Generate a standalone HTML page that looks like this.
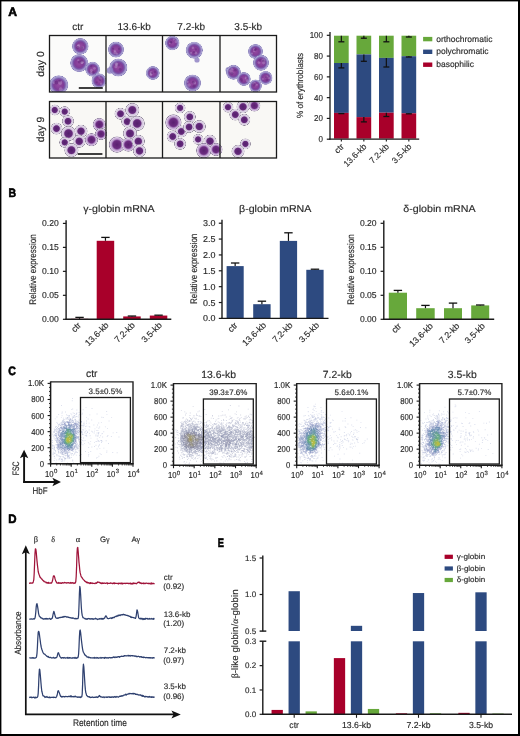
<!DOCTYPE html><html><head><meta charset="utf-8"><style>html,body{margin:0;padding:0;background:#fff;}svg{display:block;will-change:transform;}</style></head><body><svg width="520" height="736" viewBox="0 0 520 736" font-family='"Liberation Sans", sans-serif' text-rendering="geometricPrecision">
<style>text{stroke:#2a2a2a;stroke-width:0.15px;}</style>
<rect x="0" y="0" width="520" height="736" fill="#fff"/>
<rect x="0" y="0" width="1.4" height="736" fill="#000"/>
<rect x="0" y="0" width="520" height="1.4" fill="#000"/>
<rect x="518" y="0" width="2" height="736" fill="#000"/>
<rect x="0" y="734" width="520" height="2" fill="#000"/>
<text x="8.25" y="16" font-size="12.2" fill="#000" font-weight="bold" textLength="8.8" lengthAdjust="spacingAndGlyphs" style="stroke:#000;stroke-width:0.6px">A</text>
<text x="77.75" y="30.4" font-size="10" fill="#2a2a2a" text-anchor="middle">ctr</text>
<text x="134.25" y="30.4" font-size="10" fill="#2a2a2a" text-anchor="middle">13.6-kb</text>
<text x="191.25" y="30.4" font-size="10" fill="#2a2a2a" text-anchor="middle">7.2-kb</text>
<text x="248.25" y="30.4" font-size="10" fill="#2a2a2a" text-anchor="middle">3.5-kb</text>
<rect x="49.5" y="35.5" width="227" height="56.5" fill="#fbfbfa"/>
<rect x="49.5" y="101.5" width="227" height="56.5" fill="#f9f8f5"/>
<defs><radialGradient id="c0"><stop offset="0" stop-color="#964aa2"/><stop offset="0.5" stop-color="#803c96"/><stop offset="0.66" stop-color="#7a56aa"/><stop offset="0.78" stop-color="#9a8cc6"/><stop offset="0.9" stop-color="#b0a8d6"/><stop offset="0.96" stop-color="#7c72b2"/><stop offset="1" stop-color="#9890c8" stop-opacity="0.3"/></radialGradient><radialGradient id="c9"><stop offset="0" stop-color="#55206c"/><stop offset="0.45" stop-color="#652a7c"/><stop offset="0.52" stop-color="#8a5a9a"/><stop offset="0.6" stop-color="#cfbedb"/><stop offset="0.84" stop-color="#e4dcea"/><stop offset="0.92" stop-color="#8c8496"/><stop offset="1" stop-color="#e8e4ec" stop-opacity="0.3"/></radialGradient><radialGradient id="c9b"><stop offset="0" stop-color="#5a2070"/><stop offset="0.46" stop-color="#6c2c80"/><stop offset="0.55" stop-color="#8c56a2"/><stop offset="0.64" stop-color="#b898ca"/><stop offset="0.84" stop-color="#dccae6"/><stop offset="0.92" stop-color="#887a98"/><stop offset="1" stop-color="#ddd" stop-opacity="0.3"/></radialGradient><clipPath id="clA0"><rect x="49.5" y="35.5" width="227" height="56.5"/></clipPath><clipPath id="clA9"><rect x="49.5" y="101.5" width="227" height="56.5"/></clipPath></defs>
<g clip-path="url(#clA0)">
<circle cx="80.3" cy="46.3" r="8.35" fill="url(#c0)"/>
<circle cx="82.41" cy="47.56" r="1.67" fill="#d0c0e6" fill-opacity="0.3"/>
<circle cx="78.58" cy="45.32" r="1.36" fill="#d0c0e6" fill-opacity="0.3"/>
<circle cx="78.12" cy="46.59" r="1.61" fill="#d0c0e6" fill-opacity="0.3"/>
<circle cx="81.92" cy="47.7" r="1.35" fill="#5a2478" fill-opacity="0.45"/>
<circle cx="77.77" cy="47.48" r="1.49" fill="#5a2478" fill-opacity="0.45"/>
<circle cx="79.2" cy="63" r="9.1" fill="url(#c0)"/>
<circle cx="81.95" cy="62.23" r="1.68" fill="#d0c0e6" fill-opacity="0.3"/>
<circle cx="78.24" cy="60.28" r="1.09" fill="#d0c0e6" fill-opacity="0.3"/>
<circle cx="82.06" cy="62.52" r="1.38" fill="#d0c0e6" fill-opacity="0.3"/>
<circle cx="81.56" cy="61.09" r="1.43" fill="#5a2478" fill-opacity="0.45"/>
<circle cx="79.35" cy="61.99" r="1.61" fill="#5a2478" fill-opacity="0.45"/>
<circle cx="92.6" cy="69.2" r="7.49" fill="url(#c0)"/>
<circle cx="91.35" cy="70.46" r="1.39" fill="#d0c0e6" fill-opacity="0.3"/>
<circle cx="94.53" cy="68.32" r="1.37" fill="#d0c0e6" fill-opacity="0.3"/>
<circle cx="91.49" cy="72.75" r="1.44" fill="#d0c0e6" fill-opacity="0.3"/>
<circle cx="93.23" cy="72.37" r="1.29" fill="#5a2478" fill-opacity="0.45"/>
<circle cx="91.29" cy="66.28" r="1.16" fill="#5a2478" fill-opacity="0.45"/>
<circle cx="98.9" cy="80.8" r="7.49" fill="url(#c0)"/>
<circle cx="99.13" cy="76.68" r="0.98" fill="#d0c0e6" fill-opacity="0.3"/>
<circle cx="100.47" cy="78.63" r="1.26" fill="#d0c0e6" fill-opacity="0.3"/>
<circle cx="101.08" cy="83.66" r="1.12" fill="#d0c0e6" fill-opacity="0.3"/>
<circle cx="99.99" cy="79.66" r="1.24" fill="#5a2478" fill-opacity="0.45"/>
<circle cx="96.81" cy="82.32" r="1.02" fill="#5a2478" fill-opacity="0.45"/>
<circle cx="58.7" cy="84.9" r="9.63" fill="url(#c0)"/>
<circle cx="60.74" cy="89.25" r="1.88" fill="#d0c0e6" fill-opacity="0.3"/>
<circle cx="53.7" cy="82.66" r="1.35" fill="#d0c0e6" fill-opacity="0.3"/>
<circle cx="60.23" cy="82.82" r="2.08" fill="#d0c0e6" fill-opacity="0.3"/>
<circle cx="56.35" cy="82.59" r="1.9" fill="#5a2478" fill-opacity="0.45"/>
<circle cx="59.62" cy="81" r="1.2" fill="#5a2478" fill-opacity="0.45"/>
<circle cx="116" cy="49.6" r="8.03" fill="url(#c0)"/>
<circle cx="114.72" cy="50.97" r="1.12" fill="#d0c0e6" fill-opacity="0.3"/>
<circle cx="116.98" cy="53.85" r="1.06" fill="#d0c0e6" fill-opacity="0.3"/>
<circle cx="115.08" cy="52.65" r="1.64" fill="#d0c0e6" fill-opacity="0.3"/>
<circle cx="119" cy="48.93" r="1.1" fill="#5a2478" fill-opacity="0.45"/>
<circle cx="113.05" cy="48.74" r="1" fill="#5a2478" fill-opacity="0.45"/>
<circle cx="118.3" cy="67.5" r="9.1" fill="url(#c0)"/>
<circle cx="116.95" cy="64.64" r="1.63" fill="#d0c0e6" fill-opacity="0.3"/>
<circle cx="116.24" cy="63.78" r="1.57" fill="#d0c0e6" fill-opacity="0.3"/>
<circle cx="115.91" cy="66.64" r="1.54" fill="#d0c0e6" fill-opacity="0.3"/>
<circle cx="120.17" cy="69.38" r="1.48" fill="#5a2478" fill-opacity="0.45"/>
<circle cx="118.65" cy="65.19" r="1.11" fill="#5a2478" fill-opacity="0.45"/>
<circle cx="152.8" cy="73" r="6.96" fill="url(#c0)"/>
<circle cx="150.87" cy="72.66" r="1.35" fill="#d0c0e6" fill-opacity="0.3"/>
<circle cx="150.93" cy="74.58" r="1.47" fill="#d0c0e6" fill-opacity="0.3"/>
<circle cx="150.95" cy="74.47" r="1.08" fill="#d0c0e6" fill-opacity="0.3"/>
<circle cx="151.85" cy="73.12" r="1.14" fill="#5a2478" fill-opacity="0.45"/>
<circle cx="154.79" cy="71.93" r="1.25" fill="#5a2478" fill-opacity="0.45"/>
<circle cx="172.3" cy="43" r="7.28" fill="url(#c0)"/>
<circle cx="175.99" cy="41.73" r="1.41" fill="#d0c0e6" fill-opacity="0.3"/>
<circle cx="173.79" cy="39.46" r="1.06" fill="#d0c0e6" fill-opacity="0.3"/>
<circle cx="169.86" cy="43.28" r="1.06" fill="#d0c0e6" fill-opacity="0.3"/>
<circle cx="170.81" cy="42.28" r="1.23" fill="#5a2478" fill-opacity="0.45"/>
<circle cx="171.4" cy="42.49" r="1.13" fill="#5a2478" fill-opacity="0.45"/>
<circle cx="194.3" cy="50.2" r="8.56" fill="url(#c0)"/>
<circle cx="191.12" cy="52.84" r="1.1" fill="#d0c0e6" fill-opacity="0.3"/>
<circle cx="195.99" cy="53.23" r="1.37" fill="#d0c0e6" fill-opacity="0.3"/>
<circle cx="192.85" cy="47.74" r="1.2" fill="#d0c0e6" fill-opacity="0.3"/>
<circle cx="195.84" cy="49.5" r="1.13" fill="#5a2478" fill-opacity="0.45"/>
<circle cx="193.92" cy="52.18" r="1.18" fill="#5a2478" fill-opacity="0.45"/>
<circle cx="192.5" cy="83" r="8.56" fill="url(#c0)"/>
<circle cx="187.71" cy="81.89" r="1.14" fill="#d0c0e6" fill-opacity="0.3"/>
<circle cx="189.06" cy="85.03" r="1.78" fill="#d0c0e6" fill-opacity="0.3"/>
<circle cx="194.7" cy="83" r="1.49" fill="#d0c0e6" fill-opacity="0.3"/>
<circle cx="193.26" cy="82.3" r="1.43" fill="#5a2478" fill-opacity="0.45"/>
<circle cx="194.1" cy="86.09" r="1.67" fill="#5a2478" fill-opacity="0.45"/>
<circle cx="197" cy="60" r="2.6" fill="#8a7cc0" fill-opacity="0.8"/>
<circle cx="110" cy="70.5" r="3.2" fill="#8a7cc0" fill-opacity="0.8"/>
<circle cx="228.5" cy="70" r="3" fill="#8a7cc0" fill-opacity="0.8"/>
<circle cx="255.5" cy="51.5" r="7.49" fill="url(#c0)"/>
<circle cx="254.02" cy="51.14" r="0.95" fill="#d0c0e6" fill-opacity="0.3"/>
<circle cx="252.02" cy="53.54" r="1.08" fill="#d0c0e6" fill-opacity="0.3"/>
<circle cx="254.18" cy="49.13" r="1.1" fill="#d0c0e6" fill-opacity="0.3"/>
<circle cx="255.02" cy="49.9" r="1.12" fill="#5a2478" fill-opacity="0.45"/>
<circle cx="255.71" cy="49.28" r="1.37" fill="#5a2478" fill-opacity="0.45"/>
<circle cx="261" cy="62.8" r="8.03" fill="url(#c0)"/>
<circle cx="258.89" cy="62.58" r="1.32" fill="#d0c0e6" fill-opacity="0.3"/>
<circle cx="263.38" cy="60.35" r="1.74" fill="#d0c0e6" fill-opacity="0.3"/>
<circle cx="263.7" cy="62.82" r="1.58" fill="#d0c0e6" fill-opacity="0.3"/>
<circle cx="259.98" cy="60.4" r="1.39" fill="#5a2478" fill-opacity="0.45"/>
<circle cx="263.14" cy="60.7" r="1.31" fill="#5a2478" fill-opacity="0.45"/>
<circle cx="233.5" cy="72.3" r="7.49" fill="url(#c0)"/>
<circle cx="230.27" cy="70.96" r="1.14" fill="#d0c0e6" fill-opacity="0.3"/>
<circle cx="231.88" cy="69.38" r="1.49" fill="#d0c0e6" fill-opacity="0.3"/>
<circle cx="231.93" cy="72.5" r="1.3" fill="#d0c0e6" fill-opacity="0.3"/>
<circle cx="235.17" cy="70.22" r="1.28" fill="#5a2478" fill-opacity="0.45"/>
<circle cx="232.09" cy="73.45" r="1.33" fill="#5a2478" fill-opacity="0.45"/>
<circle cx="243.8" cy="79" r="6.96" fill="url(#c0)"/>
<circle cx="247.16" cy="80.78" r="1.44" fill="#d0c0e6" fill-opacity="0.3"/>
<circle cx="245.52" cy="78.59" r="0.91" fill="#d0c0e6" fill-opacity="0.3"/>
<circle cx="245.77" cy="77.45" r="1.02" fill="#d0c0e6" fill-opacity="0.3"/>
<circle cx="241.93" cy="80.71" r="0.92" fill="#5a2478" fill-opacity="0.45"/>
<circle cx="241.28" cy="79.2" r="1.24" fill="#5a2478" fill-opacity="0.45"/>
<circle cx="265.6" cy="77.9" r="6.96" fill="url(#c0)"/>
<circle cx="269.24" cy="78.18" r="1.14" fill="#d0c0e6" fill-opacity="0.3"/>
<circle cx="262.88" cy="79.06" r="1.03" fill="#d0c0e6" fill-opacity="0.3"/>
<circle cx="267.1" cy="76.61" r="1.21" fill="#d0c0e6" fill-opacity="0.3"/>
<circle cx="266.79" cy="80" r="1.34" fill="#5a2478" fill-opacity="0.45"/>
<circle cx="266.39" cy="77.18" r="1.18" fill="#5a2478" fill-opacity="0.45"/>
<circle cx="255.5" cy="85.8" r="6.42" fill="url(#c0)"/>
<circle cx="256.9" cy="84.68" r="1.04" fill="#d0c0e6" fill-opacity="0.3"/>
<circle cx="254.77" cy="82.71" r="1.06" fill="#d0c0e6" fill-opacity="0.3"/>
<circle cx="253.57" cy="83.5" r="1" fill="#d0c0e6" fill-opacity="0.3"/>
<circle cx="254.27" cy="84.06" r="1.13" fill="#5a2478" fill-opacity="0.45"/>
<circle cx="254" cy="85.69" r="0.99" fill="#5a2478" fill-opacity="0.45"/>
</g><g clip-path="url(#clA9)">
<circle cx="54.7" cy="110" r="5.65" fill="url(#c9)"/>
<circle cx="64.7" cy="111.6" r="5.65" fill="url(#c9)"/>
<circle cx="68" cy="121.2" r="6.21" fill="url(#c9)"/>
<circle cx="56.5" cy="128.6" r="6.21" fill="url(#c9)"/>
<circle cx="68.5" cy="133.5" r="7.91" fill="url(#c9)"/>
<circle cx="81" cy="131.2" r="6.78" fill="url(#c9)"/>
<circle cx="64.7" cy="142.4" r="5.65" fill="url(#c9)"/>
<circle cx="79.2" cy="141.3" r="6.78" fill="url(#c9)"/>
<circle cx="91.5" cy="139.7" r="6.78" fill="url(#c9b)"/>
<circle cx="71.4" cy="150.2" r="7.34" fill="url(#c9)"/>
<circle cx="99.3" cy="124.5" r="6.78" fill="url(#c9b)"/>
<circle cx="101" cy="134" r="6.21" fill="url(#c9b)"/>
<circle cx="120.5" cy="113.8" r="6.21" fill="url(#c9)"/>
<circle cx="132.3" cy="110" r="7.34" fill="url(#c9)"/>
<circle cx="127.2" cy="121.6" r="6.21" fill="url(#c9)"/>
<circle cx="137.2" cy="123.4" r="7.91" fill="url(#c9)"/>
<circle cx="130" cy="133.5" r="7.34" fill="url(#c9)"/>
<circle cx="117" cy="144.6" r="8.47" fill="url(#c9b)"/>
<circle cx="128.3" cy="144.6" r="7.34" fill="url(#c9b)"/>
<circle cx="138.3" cy="141.3" r="6.78" fill="url(#c9)"/>
<circle cx="139.5" cy="150.9" r="6.78" fill="url(#c9)"/>
<circle cx="180.1" cy="107.9" r="5.65" fill="url(#c9)"/>
<circle cx="173.4" cy="122.5" r="8.47" fill="url(#c9b)"/>
<circle cx="189.8" cy="116.9" r="6.21" fill="url(#c9)"/>
<circle cx="181.3" cy="131.5" r="6.21" fill="url(#c9)"/>
<circle cx="189.1" cy="127" r="6.21" fill="url(#c9)"/>
<circle cx="199.3" cy="126.5" r="6.78" fill="url(#c9)"/>
<circle cx="172.7" cy="136.5" r="6.21" fill="url(#c9)"/>
<circle cx="180.1" cy="143.9" r="6.21" fill="url(#c9)"/>
<circle cx="198.1" cy="139.4" r="5.65" fill="url(#c9)"/>
<circle cx="210" cy="141.2" r="6.78" fill="url(#c9)"/>
<circle cx="203.8" cy="150.6" r="7.91" fill="url(#c9b)"/>
<circle cx="216" cy="149.5" r="6.78" fill="url(#c9b)"/>
<circle cx="228" cy="107.2" r="5.65" fill="url(#c9)"/>
<circle cx="243" cy="106.8" r="6.78" fill="url(#c9)"/>
<circle cx="254.4" cy="105.6" r="6.21" fill="url(#c9b)"/>
<circle cx="235.3" cy="114.6" r="6.21" fill="url(#c9)"/>
<circle cx="244.3" cy="119.8" r="6.21" fill="url(#c9)"/>
<circle cx="245.4" cy="143.9" r="5.65" fill="url(#c9)"/>
<circle cx="238" cy="151.3" r="6.78" fill="url(#c9)"/>
</g>
<line x1="78.8" y1="88" x2="102.8" y2="88" stroke="#111" stroke-width="1.6"/>
<line x1="77.7" y1="154" x2="102.4" y2="154" stroke="#111" stroke-width="1.6"/>
<rect x="49.5" y="35.5" width="227.0" height="56.5" fill="none" stroke="#1a1a1a" stroke-width="1.3"/>
<line x1="106" y1="35.5" x2="106" y2="92" stroke="#1a1a1a" stroke-width="1.3"/>
<line x1="162.5" y1="35.5" x2="162.5" y2="92" stroke="#1a1a1a" stroke-width="1.3"/>
<line x1="220" y1="35.5" x2="220" y2="92" stroke="#1a1a1a" stroke-width="1.3"/>
<rect x="49.5" y="101.5" width="227.0" height="56.5" fill="none" stroke="#1a1a1a" stroke-width="1.3"/>
<line x1="106" y1="101.5" x2="106" y2="158" stroke="#1a1a1a" stroke-width="1.3"/>
<line x1="162.5" y1="101.5" x2="162.5" y2="158" stroke="#1a1a1a" stroke-width="1.3"/>
<line x1="220" y1="101.5" x2="220" y2="158" stroke="#1a1a1a" stroke-width="1.3"/>
<text x="44" y="64" font-size="10.4" fill="#2a2a2a" text-anchor="middle" transform="rotate(-90 44 64)">day 0</text>
<text x="44" y="129.5" font-size="10.4" fill="#2a2a2a" text-anchor="middle" transform="rotate(-90 44 129.5)">day 9</text>
<rect x="334" y="35.7" width="14.7" height="27.3" fill="#67a83b"/>
<rect x="334" y="63" width="14.7" height="49.9" fill="#2d4a80"/>
<rect x="334" y="112.9" width="14.7" height="25.7" fill="#a8002a"/>
<rect x="356.5" y="35.7" width="14.7" height="18.7" fill="#67a83b"/>
<rect x="356.5" y="54.4" width="14.7" height="62.7" fill="#2d4a80"/>
<rect x="356.5" y="117.1" width="14.7" height="21.5" fill="#a8002a"/>
<rect x="379" y="35.7" width="14.7" height="22.2" fill="#67a83b"/>
<rect x="379" y="57.9" width="14.7" height="54.8" fill="#2d4a80"/>
<rect x="379" y="112.7" width="14.7" height="25.9" fill="#a8002a"/>
<rect x="401.5" y="35.7" width="14.7" height="20.5" fill="#67a83b"/>
<rect x="401.5" y="56.2" width="14.7" height="57.1" fill="#2d4a80"/>
<rect x="401.5" y="113.3" width="14.7" height="25.3" fill="#a8002a"/>
<line x1="341.35" y1="35.7" x2="341.35" y2="41.8" stroke="#111" stroke-width="1.2"/>
<line x1="338.35" y1="41.8" x2="344.35" y2="41.8" stroke="#111" stroke-width="1.3"/>
<line x1="341.35" y1="63" x2="341.35" y2="67.9" stroke="#111" stroke-width="1.2"/>
<line x1="338.35" y1="67.9" x2="344.35" y2="67.9" stroke="#111" stroke-width="1.3"/>
<line x1="341.35" y1="112.9" x2="341.35" y2="113.6" stroke="#111" stroke-width="1.2"/>
<line x1="338.35" y1="113.6" x2="344.35" y2="113.6" stroke="#111" stroke-width="1.3"/>
<line x1="363.85" y1="35.7" x2="363.85" y2="38.2" stroke="#111" stroke-width="1.2"/>
<line x1="360.85" y1="38.2" x2="366.85" y2="38.2" stroke="#111" stroke-width="1.3"/>
<line x1="363.85" y1="54.4" x2="363.85" y2="61.3" stroke="#111" stroke-width="1.2"/>
<line x1="360.85" y1="61.3" x2="366.85" y2="61.3" stroke="#111" stroke-width="1.3"/>
<line x1="363.85" y1="117.1" x2="363.85" y2="121.9" stroke="#111" stroke-width="1.2"/>
<line x1="360.85" y1="121.9" x2="366.85" y2="121.9" stroke="#111" stroke-width="1.3"/>
<line x1="386.35" y1="35.7" x2="386.35" y2="41.8" stroke="#111" stroke-width="1.2"/>
<line x1="383.35" y1="41.8" x2="389.35" y2="41.8" stroke="#111" stroke-width="1.3"/>
<line x1="386.35" y1="57.9" x2="386.35" y2="67" stroke="#111" stroke-width="1.2"/>
<line x1="383.35" y1="67" x2="389.35" y2="67" stroke="#111" stroke-width="1.3"/>
<line x1="386.35" y1="112.7" x2="386.35" y2="116.5" stroke="#111" stroke-width="1.2"/>
<line x1="383.35" y1="116.5" x2="389.35" y2="116.5" stroke="#111" stroke-width="1.3"/>
<line x1="408.85" y1="35.7" x2="408.85" y2="37" stroke="#111" stroke-width="1.2"/>
<line x1="405.85" y1="37" x2="411.85" y2="37" stroke="#111" stroke-width="1.3"/>
<line x1="408.85" y1="56.2" x2="408.85" y2="57" stroke="#111" stroke-width="1.2"/>
<line x1="405.85" y1="57" x2="411.85" y2="57" stroke="#111" stroke-width="1.3"/>
<line x1="408.85" y1="113.3" x2="408.85" y2="113.8" stroke="#111" stroke-width="1.2"/>
<line x1="405.85" y1="113.8" x2="411.85" y2="113.8" stroke="#111" stroke-width="1.3"/>
<line x1="330" y1="31.9" x2="330" y2="139.8" stroke="#1a1a1a" stroke-width="1.3"/>
<line x1="329.4" y1="139.2" x2="419.2" y2="139.2" stroke="#1a1a1a" stroke-width="1.3"/>
<line x1="326.8" y1="139.2" x2="330" y2="139.2" stroke="#1a1a1a" stroke-width="1.2"/>
<text x="323" y="142.1" font-size="8.6" fill="#2a2a2a" text-anchor="end" textLength="4.45" lengthAdjust="spacingAndGlyphs">0</text>
<line x1="326.8" y1="118.42" x2="330" y2="118.42" stroke="#1a1a1a" stroke-width="1.2"/>
<text x="323" y="121.32" font-size="8.6" fill="#2a2a2a" text-anchor="end" textLength="8.9" lengthAdjust="spacingAndGlyphs">20</text>
<line x1="326.8" y1="97.64" x2="330" y2="97.64" stroke="#1a1a1a" stroke-width="1.2"/>
<text x="323" y="100.54" font-size="8.6" fill="#2a2a2a" text-anchor="end" textLength="8.9" lengthAdjust="spacingAndGlyphs">40</text>
<line x1="326.8" y1="76.86" x2="330" y2="76.86" stroke="#1a1a1a" stroke-width="1.2"/>
<text x="323" y="79.76" font-size="8.6" fill="#2a2a2a" text-anchor="end" textLength="8.9" lengthAdjust="spacingAndGlyphs">60</text>
<line x1="326.8" y1="56.08" x2="330" y2="56.08" stroke="#1a1a1a" stroke-width="1.2"/>
<text x="323" y="58.98" font-size="8.6" fill="#2a2a2a" text-anchor="end" textLength="8.9" lengthAdjust="spacingAndGlyphs">80</text>
<line x1="326.8" y1="35.3" x2="330" y2="35.3" stroke="#1a1a1a" stroke-width="1.2"/>
<text x="323" y="38.2" font-size="8.6" fill="#2a2a2a" text-anchor="end" textLength="13.35" lengthAdjust="spacingAndGlyphs">100</text>
<line x1="341.35" y1="139.2" x2="341.35" y2="141.5" stroke="#1a1a1a" stroke-width="1.1"/>
<line x1="363.85" y1="139.2" x2="363.85" y2="141.5" stroke="#1a1a1a" stroke-width="1.1"/>
<line x1="386.35" y1="139.2" x2="386.35" y2="141.5" stroke="#1a1a1a" stroke-width="1.1"/>
<line x1="408.85" y1="139.2" x2="408.85" y2="141.5" stroke="#1a1a1a" stroke-width="1.1"/>
<text x="303.2" y="85.4" font-size="9" fill="#2a2a2a" text-anchor="middle" textLength="65" lengthAdjust="spacingAndGlyphs" transform="rotate(-90 303.2 85.4)">% of erythroblasts</text>
<text x="344.55" y="147.2" font-size="8.5" fill="#2a2a2a" text-anchor="end" transform="rotate(-45 344.55 147.2)">ctr</text>
<text x="367.05" y="147.2" font-size="8.5" fill="#2a2a2a" text-anchor="end" transform="rotate(-45 367.05 147.2)">13.6-kb</text>
<text x="389.55" y="147.2" font-size="8.5" fill="#2a2a2a" text-anchor="end" transform="rotate(-45 389.55 147.2)">7.2-kb</text>
<text x="412.05" y="147.2" font-size="8.5" fill="#2a2a2a" text-anchor="end" transform="rotate(-45 412.05 147.2)">3.5-kb</text>
<rect x="423.1" y="36.9" width="9.2" height="4.4" fill="#67a83b"/>
<text x="436.2" y="41.9" font-size="8.5" fill="#2a2a2a">orthochromatic</text>
<rect x="423.1" y="49.6" width="9.2" height="4.4" fill="#2d4a80"/>
<text x="436.2" y="54.3" font-size="8.5" fill="#2a2a2a">polychromatic</text>
<rect x="423.1" y="62.5" width="9.2" height="4.4" fill="#a8002a"/>
<text x="436.2" y="66.9" font-size="8.5" fill="#2a2a2a">basophilic</text>
<text x="8.45" y="196.8" font-size="12.2" fill="#000" font-weight="bold" textLength="7.6" lengthAdjust="spacingAndGlyphs" style="stroke:#000;stroke-width:0.6px">B</text>
<rect x="70.8" y="318.82" width="17.5" height="0.48" fill="#a8002a"/>
<line x1="79.55" y1="318.82" x2="79.55" y2="317.38" stroke="#111" stroke-width="1.2"/>
<line x1="75.35" y1="317.38" x2="83.75" y2="317.38" stroke="#111" stroke-width="1.3"/>
<rect x="96.7" y="240.8" width="17.5" height="78.5" fill="#a8002a"/>
<line x1="105.45" y1="240.8" x2="105.45" y2="237.4" stroke="#111" stroke-width="1.2"/>
<line x1="101.25" y1="237.4" x2="109.65" y2="237.4" stroke="#111" stroke-width="1.3"/>
<rect x="123.2" y="316.42" width="17.5" height="2.88" fill="#a8002a"/>
<line x1="131.95" y1="316.42" x2="131.95" y2="316.04" stroke="#111" stroke-width="1.2"/>
<line x1="127.75" y1="316.04" x2="136.15" y2="316.04" stroke="#111" stroke-width="1.3"/>
<rect x="149.8" y="315.56" width="17.5" height="3.74" fill="#a8002a"/>
<line x1="158.55" y1="315.56" x2="158.55" y2="315.18" stroke="#111" stroke-width="1.2"/>
<line x1="154.35" y1="315.18" x2="162.75" y2="315.18" stroke="#111" stroke-width="1.3"/>
<line x1="66.1" y1="220.2" x2="66.1" y2="319.9" stroke="#1a1a1a" stroke-width="1.4"/>
<line x1="65.5" y1="319.3" x2="171.3" y2="319.3" stroke="#1a1a1a" stroke-width="1.4"/>
<line x1="62.9" y1="319.3" x2="66.1" y2="319.3" stroke="#1a1a1a" stroke-width="1.2"/>
<text x="58.7" y="322.3" font-size="8.6" fill="#2a2a2a" text-anchor="end" textLength="16.7" lengthAdjust="spacingAndGlyphs">0.00</text>
<line x1="62.9" y1="295.32" x2="66.1" y2="295.32" stroke="#1a1a1a" stroke-width="1.2"/>
<text x="58.7" y="298.32" font-size="8.6" fill="#2a2a2a" text-anchor="end" textLength="16.7" lengthAdjust="spacingAndGlyphs">0.05</text>
<line x1="62.9" y1="271.35" x2="66.1" y2="271.35" stroke="#1a1a1a" stroke-width="1.2"/>
<text x="58.7" y="274.35" font-size="8.6" fill="#2a2a2a" text-anchor="end" textLength="16.7" lengthAdjust="spacingAndGlyphs">0.10</text>
<line x1="62.9" y1="247.38" x2="66.1" y2="247.38" stroke="#1a1a1a" stroke-width="1.2"/>
<text x="58.7" y="250.38" font-size="8.6" fill="#2a2a2a" text-anchor="end" textLength="16.7" lengthAdjust="spacingAndGlyphs">0.15</text>
<line x1="62.9" y1="223.4" x2="66.1" y2="223.4" stroke="#1a1a1a" stroke-width="1.2"/>
<text x="58.7" y="226.4" font-size="8.6" fill="#2a2a2a" text-anchor="end" textLength="16.7" lengthAdjust="spacingAndGlyphs">0.20</text>
<text x="118.9" y="212.3" font-size="10" fill="#2a2a2a" text-anchor="middle" textLength="71.5" lengthAdjust="spacingAndGlyphs">γ-globin mRNA</text>
<text x="35.8" y="269.5" font-size="9.6" fill="#2a2a2a" text-anchor="middle" textLength="70.3" lengthAdjust="spacingAndGlyphs" transform="rotate(-90 35.8 269.5)">Relative expression</text>
<text x="81.6" y="325.8" font-size="8.8" fill="#2a2a2a" text-anchor="end" transform="rotate(-45 81.6 325.8)">ctr</text>
<text x="109.3" y="325.8" font-size="8.8" fill="#2a2a2a" text-anchor="end" transform="rotate(-45 109.3 325.8)">13.6-kb</text>
<text x="135.4" y="325.8" font-size="8.8" fill="#2a2a2a" text-anchor="end" transform="rotate(-45 135.4 325.8)">7.2-kb</text>
<text x="162.4" y="325.8" font-size="8.8" fill="#2a2a2a" text-anchor="end" transform="rotate(-45 162.4 325.8)">3.5-kb</text>
<rect x="226.6" y="266.1" width="17.1" height="52.3" fill="#2d4a80"/>
<line x1="235.15" y1="266.1" x2="235.15" y2="263" stroke="#111" stroke-width="1.2"/>
<line x1="230.95" y1="263" x2="239.35" y2="263" stroke="#111" stroke-width="1.3"/>
<rect x="253.2" y="304.2" width="17.4" height="14.2" fill="#2d4a80"/>
<line x1="261.9" y1="304.2" x2="261.9" y2="301.2" stroke="#111" stroke-width="1.2"/>
<line x1="257.7" y1="301.2" x2="266.1" y2="301.2" stroke="#111" stroke-width="1.3"/>
<rect x="279.8" y="240.9" width="17.3" height="77.5" fill="#2d4a80"/>
<line x1="288.45" y1="240.9" x2="288.45" y2="232.8" stroke="#111" stroke-width="1.2"/>
<line x1="284.25" y1="232.8" x2="292.65" y2="232.8" stroke="#111" stroke-width="1.3"/>
<rect x="306.3" y="269.8" width="17.3" height="48.6" fill="#2d4a80"/>
<line x1="314.95" y1="269.8" x2="314.95" y2="269.2" stroke="#111" stroke-width="1.2"/>
<line x1="310.75" y1="269.2" x2="319.15" y2="269.2" stroke="#111" stroke-width="1.3"/>
<line x1="222" y1="219.7" x2="222" y2="319" stroke="#1a1a1a" stroke-width="1.4"/>
<line x1="221.4" y1="318.4" x2="328.5" y2="318.4" stroke="#1a1a1a" stroke-width="1.4"/>
<line x1="218.8" y1="318.4" x2="222" y2="318.4" stroke="#1a1a1a" stroke-width="1.2"/>
<text x="215.5" y="321.4" font-size="8.6" fill="#2a2a2a" text-anchor="end" textLength="12.45" lengthAdjust="spacingAndGlyphs">0.0</text>
<line x1="218.8" y1="302.53" x2="222" y2="302.53" stroke="#1a1a1a" stroke-width="1.2"/>
<text x="215.5" y="305.53" font-size="8.6" fill="#2a2a2a" text-anchor="end" textLength="12.45" lengthAdjust="spacingAndGlyphs">0.5</text>
<line x1="218.8" y1="286.67" x2="222" y2="286.67" stroke="#1a1a1a" stroke-width="1.2"/>
<text x="215.5" y="289.67" font-size="8.6" fill="#2a2a2a" text-anchor="end" textLength="12.45" lengthAdjust="spacingAndGlyphs">1.0</text>
<line x1="218.8" y1="270.8" x2="222" y2="270.8" stroke="#1a1a1a" stroke-width="1.2"/>
<text x="215.5" y="273.8" font-size="8.6" fill="#2a2a2a" text-anchor="end" textLength="12.45" lengthAdjust="spacingAndGlyphs">1.5</text>
<line x1="218.8" y1="254.94" x2="222" y2="254.94" stroke="#1a1a1a" stroke-width="1.2"/>
<text x="215.5" y="257.94" font-size="8.6" fill="#2a2a2a" text-anchor="end" textLength="12.45" lengthAdjust="spacingAndGlyphs">2.0</text>
<line x1="218.8" y1="239.07" x2="222" y2="239.07" stroke="#1a1a1a" stroke-width="1.2"/>
<text x="215.5" y="242.07" font-size="8.6" fill="#2a2a2a" text-anchor="end" textLength="12.45" lengthAdjust="spacingAndGlyphs">2.5</text>
<line x1="218.8" y1="223.21" x2="222" y2="223.21" stroke="#1a1a1a" stroke-width="1.2"/>
<text x="215.5" y="226.21" font-size="8.6" fill="#2a2a2a" text-anchor="end" textLength="12.45" lengthAdjust="spacingAndGlyphs">3.0</text>
<text x="275.2" y="212.3" font-size="10" fill="#2a2a2a" text-anchor="middle" textLength="72.3" lengthAdjust="spacingAndGlyphs">β-globin mRNA</text>
<text x="196.7" y="268.8" font-size="9.6" fill="#2a2a2a" text-anchor="middle" textLength="70.3" lengthAdjust="spacingAndGlyphs" transform="rotate(-90 196.7 268.8)">Relative expression</text>
<text x="238.2" y="325.8" font-size="8.8" fill="#2a2a2a" text-anchor="end" transform="rotate(-45 238.2 325.8)">ctr</text>
<text x="266.6" y="325.8" font-size="8.8" fill="#2a2a2a" text-anchor="end" transform="rotate(-45 266.6 325.8)">13.6-kb</text>
<text x="293.2" y="325.8" font-size="8.8" fill="#2a2a2a" text-anchor="end" transform="rotate(-45 293.2 325.8)">7.2-kb</text>
<text x="319.7" y="325.8" font-size="8.8" fill="#2a2a2a" text-anchor="end" transform="rotate(-45 319.7 325.8)">3.5-kb</text>
<rect x="388.8" y="292.7" width="18.2" height="26.6" fill="#67a83b"/>
<line x1="397.9" y1="292.7" x2="397.9" y2="290.4" stroke="#111" stroke-width="1.2"/>
<line x1="393.7" y1="290.4" x2="402.1" y2="290.4" stroke="#111" stroke-width="1.3"/>
<rect x="416.2" y="308.2" width="18.5" height="11.1" fill="#67a83b"/>
<line x1="425.45" y1="308.2" x2="425.45" y2="305.4" stroke="#111" stroke-width="1.2"/>
<line x1="421.25" y1="305.4" x2="429.65" y2="305.4" stroke="#111" stroke-width="1.3"/>
<rect x="444" y="308.2" width="18" height="11.1" fill="#67a83b"/>
<line x1="453" y1="308.2" x2="453" y2="303.1" stroke="#111" stroke-width="1.2"/>
<line x1="448.8" y1="303.1" x2="457.2" y2="303.1" stroke="#111" stroke-width="1.3"/>
<rect x="471.2" y="305.4" width="18" height="13.9" fill="#67a83b"/>
<line x1="480.2" y1="305.4" x2="480.2" y2="305" stroke="#111" stroke-width="1.2"/>
<line x1="476" y1="305" x2="484.4" y2="305" stroke="#111" stroke-width="1.3"/>
<line x1="383.8" y1="220.5" x2="383.8" y2="319.9" stroke="#1a1a1a" stroke-width="1.4"/>
<line x1="383.2" y1="319.3" x2="494.2" y2="319.3" stroke="#1a1a1a" stroke-width="1.4"/>
<line x1="380.6" y1="319.3" x2="383.8" y2="319.3" stroke="#1a1a1a" stroke-width="1.2"/>
<text x="376.6" y="322.3" font-size="8.6" fill="#2a2a2a" text-anchor="end" textLength="16.7" lengthAdjust="spacingAndGlyphs">0.00</text>
<line x1="380.6" y1="295.3" x2="383.8" y2="295.3" stroke="#1a1a1a" stroke-width="1.2"/>
<text x="376.6" y="298.3" font-size="8.6" fill="#2a2a2a" text-anchor="end" textLength="16.7" lengthAdjust="spacingAndGlyphs">0.05</text>
<line x1="380.6" y1="271.3" x2="383.8" y2="271.3" stroke="#1a1a1a" stroke-width="1.2"/>
<text x="376.6" y="274.3" font-size="8.6" fill="#2a2a2a" text-anchor="end" textLength="16.7" lengthAdjust="spacingAndGlyphs">0.10</text>
<line x1="380.6" y1="247.3" x2="383.8" y2="247.3" stroke="#1a1a1a" stroke-width="1.2"/>
<text x="376.6" y="250.3" font-size="8.6" fill="#2a2a2a" text-anchor="end" textLength="16.7" lengthAdjust="spacingAndGlyphs">0.15</text>
<line x1="380.6" y1="223.3" x2="383.8" y2="223.3" stroke="#1a1a1a" stroke-width="1.2"/>
<text x="376.6" y="226.3" font-size="8.6" fill="#2a2a2a" text-anchor="end" textLength="16.7" lengthAdjust="spacingAndGlyphs">0.20</text>
<text x="439.4" y="212.3" font-size="10" fill="#2a2a2a" text-anchor="middle" textLength="72.2" lengthAdjust="spacingAndGlyphs">δ-globin mRNA</text>
<text x="353.8" y="269.5" font-size="9.6" fill="#2a2a2a" text-anchor="middle" textLength="70.3" lengthAdjust="spacingAndGlyphs" transform="rotate(-90 353.8 269.5)">Relative expression</text>
<text x="401.9" y="326.6" font-size="8.8" fill="#2a2a2a" text-anchor="end" transform="rotate(-45 401.9 326.6)">ctr</text>
<text x="433.5" y="326.6" font-size="8.8" fill="#2a2a2a" text-anchor="end" transform="rotate(-45 433.5 326.6)">13.6-kb</text>
<text x="460" y="326.6" font-size="8.8" fill="#2a2a2a" text-anchor="end" transform="rotate(-45 460 326.6)">7.2-kb</text>
<text x="485.5" y="326.6" font-size="8.8" fill="#2a2a2a" text-anchor="end" transform="rotate(-45 485.5 326.6)">3.5-kb</text>
<text x="8.35" y="374.5" font-size="12.2" fill="#000" font-weight="bold" textLength="7.6" lengthAdjust="spacingAndGlyphs" style="stroke:#000;stroke-width:0.6px">C</text>
<g>
<path d="M77.9 416.6h.9v.9h-.9zM72.2 408.6h.9v.9h-.9zM72.2 459.5h.9v.9h-.9zM61.6 415.3h.9v.9h-.9zM83.0 437.6h.9v.9h-.9zM72.9 412.7h.9v.9h-.9zM66.2 413.9h.9v.9h-.9zM70.5 413.3h.9v.9h-.9zM65.0 411.5h.9v.9h-.9zM53.8 460.0h.9v.9h-.9zM54.8 418.4h.9v.9h-.9zM81.6 413.8h.9v.9h-.9zM72.6 412.4h.9v.9h-.9zM54.4 457.8h.9v.9h-.9zM84.9 426.0h.9v.9h-.9zM78.6 412.1h.9v.9h-.9zM56.2 459.5h.9v.9h-.9zM84.7 439.9h.9v.9h-.9zM52.4 452.7h.9v.9h-.9zM56.4 422.0h.9v.9h-.9zM78.5 450.3h.9v.9h-.9zM61.8 411.6h.9v.9h-.9zM75.9 454.7h.9v.9h-.9zM85.6 406.9h.9v.9h-.9zM73.0 462.6h.9v.9h-.9zM86.1 416.9h.9v.9h-.9zM72.4 460.4h.9v.9h-.9zM83.6 421.7h.9v.9h-.9zM56.5 416.5h.9v.9h-.9zM84.7 428.4h.9v.9h-.9zM72.1 398.1h.9v.9h-.9zM52.0 442.1h.9v.9h-.9zM71.8 400.3h.9v.9h-.9zM85.8 430.3h.9v.9h-.9zM82.5 444.3h.9v.9h-.9zM67.0 462.6h.9v.9h-.9zM52.0 440.0h.9v.9h-.9zM76.4 409.6h.9v.9h-.9zM80.8 454.0h.9v.9h-.9zM78.0 414.7h.9v.9h-.9zM58.2 414.0h.9v.9h-.9zM52.3 433.8h.9v.9h-.9zM55.6 461.9h.9v.9h-.9zM61.0 405.1h.9v.9h-.9zM79.0 455.1h.9v.9h-.9zM86.1 420.6h.9v.9h-.9zM84.1 443.2h.9v.9h-.9zM86.3 425.7h.9v.9h-.9zM83.3 440.4h.9v.9h-.9zM71.9 460.5h.9v.9h-.9zM60.9 416.9h.9v.9h-.9zM78.7 418.7h.9v.9h-.9zM79.2 413.9h.9v.9h-.9zM85.1 451.0h.9v.9h-.9zM71.2 409.2h.9v.9h-.9zM77.1 452.0h.9v.9h-.9zM61.5 412.8h.9v.9h-.9zM91.6 408.1h.9v.9h-.9zM82.7 409.3h.9v.9h-.9zM51.5 440.3h.9v.9h-.9zM86.0 422.8h.9v.9h-.9zM76.4 412.5h.9v.9h-.9zM89.4 414.4h.9v.9h-.9zM87.7 418.5h.9v.9h-.9zM100.7 454.1h.9v.9h-.9zM98.3 422.6h.9v.9h-.9zM90.5 437.7h.9v.9h-.9zM94.1 430.7h.9v.9h-.9zM111.2 417.2h.9v.9h-.9zM89.1 432.9h.9v.9h-.9zM89.5 443.6h.9v.9h-.9zM95.5 434.5h.9v.9h-.9zM91.4 446.6h.9v.9h-.9zM93.7 432.6h.9v.9h-.9zM102.2 436.6h.9v.9h-.9zM112.7 432.4h.9v.9h-.9zM97.3 456.9h.9v.9h-.9zM96.8 438.6h.9v.9h-.9zM95.9 429.9h.9v.9h-.9zM94.5 428.4h.9v.9h-.9zM106.3 452.2h.9v.9h-.9zM93.4 424.5h.9v.9h-.9zM96.4 426.7h.9v.9h-.9zM96.0 457.5h.9v.9h-.9zM106.2 411.1h.9v.9h-.9zM99.0 444.2h.9v.9h-.9zM97.0 424.5h.9v.9h-.9zM88.7 429.6h.9v.9h-.9zM90.2 441.2h.9v.9h-.9zM88.3 454.0h.9v.9h-.9zM99.2 426.6h.9v.9h-.9zM91.3 419.5h.9v.9h-.9zM88.2 447.0h.9v.9h-.9zM99.6 452.9h.9v.9h-.9zM102.1 432.9h.9v.9h-.9zM82.1 412.7h.9v.9h-.9zM112.3 452.1h.9v.9h-.9zM96.6 448.6h.9v.9h-.9zM106.8 436.0h.9v.9h-.9zM92.2 431.6h.9v.9h-.9zM116.7 452.3h.9v.9h-.9zM88.1 451.9h.9v.9h-.9zM96.6 413.5h.9v.9h-.9zM104.9 426.4h.9v.9h-.9zM88.1 455.6h.9v.9h-.9zM100.9 421.9h.9v.9h-.9zM118.5 436.5h.9v.9h-.9zM89.7 435.3h.9v.9h-.9zM103.3 431.3h.9v.9h-.9zM98.4 427.8h.9v.9h-.9zM101.4 433.4h.9v.9h-.9zM107.4 435.0h.9v.9h-.9zM106.4 450.5h.9v.9h-.9zM100.2 435.3h.9v.9h-.9zM87.9 442.3h.9v.9h-.9zM96.3 440.9h.9v.9h-.9zM99.4 448.2h.9v.9h-.9zM94.0 441.9h.9v.9h-.9zM98.4 455.8h.9v.9h-.9zM90.3 451.0h.9v.9h-.9zM110.9 436.1h.9v.9h-.9zM116.3 432.0h.9v.9h-.9zM94.1 446.0h.9v.9h-.9zM101.0 442.1h.9v.9h-.9zM95.5 435.5h.9v.9h-.9zM108.6 420.6h.9v.9h-.9zM101.3 416.8h.9v.9h-.9zM95.5 444.8h.9v.9h-.9zM98.6 445.1h.9v.9h-.9zM88.7 422.7h.9v.9h-.9zM103.4 447.7h.9v.9h-.9zM91.3 430.8h.9v.9h-.9zM102.2 440.7h.9v.9h-.9zM107.1 427.9h.9v.9h-.9zM97.4 430.1h.9v.9h-.9zM106.5 414.2h.9v.9h-.9zM89.4 426.6h.9v.9h-.9zM102.8 417.1h.9v.9h-.9zM95.5 441.2h.9v.9h-.9zM99.2 437.2h.9v.9h-.9zM98.1 446.3h.9v.9h-.9zM105.7 440.3h.9v.9h-.9zM108.1 443.0h.9v.9h-.9zM88.7 425.9h.9v.9h-.9z" fill="#a5add1" fill-opacity="0.42"/>
<path d="M58.4 455.3h.9v.9h-.9zM71.0 453.2h.9v.9h-.9zM83.5 423.0h.9v.9h-.9zM55.0 426.9h.9v.9h-.9zM53.8 428.6h.9v.9h-.9zM52.6 454.1h.9v.9h-.9zM58.5 459.4h.9v.9h-.9zM59.4 458.1h.9v.9h-.9zM79.5 433.9h.9v.9h-.9zM57.2 423.2h.9v.9h-.9zM74.4 452.5h.9v.9h-.9zM75.6 414.1h.9v.9h-.9zM74.2 415.1h.9v.9h-.9zM54.0 449.6h.9v.9h-.9zM52.9 435.5h.9v.9h-.9zM80.6 443.8h.9v.9h-.9zM72.9 454.6h.9v.9h-.9zM52.0 448.1h.9v.9h-.9zM64.2 460.4h.9v.9h-.9zM80.7 421.8h.9v.9h-.9zM60.5 455.9h.9v.9h-.9zM62.3 460.0h.9v.9h-.9zM80.7 442.5h.9v.9h-.9zM68.9 415.1h.9v.9h-.9zM82.7 426.4h.9v.9h-.9zM61.5 459.1h.9v.9h-.9zM56.5 455.4h.9v.9h-.9zM55.2 451.3h.9v.9h-.9zM74.8 450.5h.9v.9h-.9zM76.5 416.2h.9v.9h-.9zM53.5 449.3h.9v.9h-.9zM62.1 419.9h.9v.9h-.9zM80.5 437.0h.9v.9h-.9zM79.7 444.0h.9v.9h-.9zM53.7 455.7h.9v.9h-.9zM64.8 458.7h.9v.9h-.9zM56.4 454.0h.9v.9h-.9zM54.1 456.1h.9v.9h-.9zM78.1 447.4h.9v.9h-.9zM58.8 458.5h.9v.9h-.9zM76.1 413.3h.9v.9h-.9zM53.5 453.2h.9v.9h-.9zM54.5 453.0h.9v.9h-.9zM68.0 416.6h.9v.9h-.9zM82.1 432.5h.9v.9h-.9zM85.8 432.9h.9v.9h-.9zM83.7 424.6h.9v.9h-.9zM81.2 424.9h.9v.9h-.9zM54.4 429.2h.9v.9h-.9zM69.1 416.5h.9v.9h-.9zM68.3 415.2h.9v.9h-.9zM62.3 456.3h.9v.9h-.9zM53.8 449.1h.9v.9h-.9zM64.0 458.6h.9v.9h-.9zM82.5 429.0h.9v.9h-.9zM75.3 451.8h.9v.9h-.9zM75.0 419.7h.9v.9h-.9zM70.8 457.1h.9v.9h-.9zM51.8 444.4h.9v.9h-.9zM55.0 450.0h.9v.9h-.9zM71.9 416.6h.9v.9h-.9zM85.8 434.7h.9v.9h-.9zM60.9 461.2h.9v.9h-.9zM53.0 451.7h.9v.9h-.9zM74.2 453.5h.9v.9h-.9zM82.5 434.0h.9v.9h-.9zM74.8 419.1h.9v.9h-.9zM82.0 434.0h.9v.9h-.9zM71.3 414.4h.9v.9h-.9zM66.7 415.2h.9v.9h-.9zM58.8 456.2h.9v.9h-.9zM52.3 446.3h.9v.9h-.9zM74.9 416.7h.9v.9h-.9zM80.9 441.7h.9v.9h-.9zM59.8 456.6h.9v.9h-.9zM74.1 412.9h.9v.9h-.9zM73.1 416.5h.9v.9h-.9zM62.3 461.2h.9v.9h-.9zM53.5 448.1h.9v.9h-.9zM62.9 417.7h.9v.9h-.9zM55.1 426.6h.9v.9h-.9zM84.8 435.2h.9v.9h-.9zM54.2 452.6h.9v.9h-.9zM70.2 453.4h.9v.9h-.9zM79.2 445.8h.9v.9h-.9zM58.7 458.8h.9v.9h-.9zM52.2 445.0h.9v.9h-.9zM60.6 459.5h.9v.9h-.9zM53.5 445.0h.9v.9h-.9zM55.9 426.0h.9v.9h-.9zM81.5 425.0h.9v.9h-.9zM65.6 417.6h.9v.9h-.9zM82.7 429.6h.9v.9h-.9zM60.1 456.3h.9v.9h-.9zM56.5 455.0h.9v.9h-.9zM78.6 419.8h.9v.9h-.9zM77.7 448.3h.9v.9h-.9zM87.1 432.0h.9v.9h-.9zM73.4 415.4h.9v.9h-.9zM80.7 442.3h.9v.9h-.9zM71.2 454.5h.9v.9h-.9zM74.2 416.6h.9v.9h-.9zM54.6 439.3h.9v.9h-.9zM52.9 431.6h.9v.9h-.9zM85.9 435.5h.9v.9h-.9zM76.1 451.6h.9v.9h-.9zM82.8 424.8h.9v.9h-.9zM84.8 431.2h.9v.9h-.9zM75.8 415.9h.9v.9h-.9zM86.2 435.6h.9v.9h-.9zM80.9 421.0h.9v.9h-.9zM65.0 458.0h.9v.9h-.9zM52.6 446.6h.9v.9h-.9zM72.0 453.1h.9v.9h-.9zM81.9 440.2h.9v.9h-.9zM97.9 440.4h.9v.9h-.9zM97.5 435.5h.9v.9h-.9zM98.4 431.9h.9v.9h-.9zM97.4 440.4h.9v.9h-.9zM97.8 434.4h.9v.9h-.9zM98.1 432.5h.9v.9h-.9zM96.6 432.6h.9v.9h-.9zM97.1 435.5h.9v.9h-.9zM98.2 433.2h.9v.9h-.9zM87.0 431.6h.9v.9h-.9zM101.1 440.1h.9v.9h-.9zM101.1 440.5h.9v.9h-.9zM98.2 440.2h.9v.9h-.9zM98.6 441.0h.9v.9h-.9zM100.3 440.2h.9v.9h-.9zM84.4 432.3h.9v.9h-.9z" fill="#9ca5cc" fill-opacity="0.47"/>
<path d="M58.2 452.1h.9v.9h-.9zM55.3 429.2h.9v.9h-.9zM65.4 457.8h.9v.9h-.9zM66.9 418.4h.9v.9h-.9zM67.2 418.4h.9v.9h-.9zM54.0 431.8h.9v.9h-.9zM68.0 418.7h.9v.9h-.9zM66.7 418.3h.9v.9h-.9zM81.4 431.4h.9v.9h-.9zM54.1 447.3h.9v.9h-.9zM55.4 440.2h.9v.9h-.9zM72.8 417.2h.9v.9h-.9zM61.5 422.0h.9v.9h-.9zM80.2 432.5h.9v.9h-.9zM77.0 443.6h.9v.9h-.9zM63.0 456.4h.9v.9h-.9zM76.4 448.3h.9v.9h-.9zM80.3 422.1h.9v.9h-.9zM56.4 447.3h.9v.9h-.9zM78.3 433.4h.9v.9h-.9zM81.4 431.1h.9v.9h-.9zM68.9 454.7h.9v.9h-.9zM54.1 446.8h.9v.9h-.9zM54.3 433.9h.9v.9h-.9zM54.4 435.3h.9v.9h-.9zM68.5 457.5h.9v.9h-.9zM61.5 458.5h.9v.9h-.9zM58.3 452.4h.9v.9h-.9zM78.6 432.1h.9v.9h-.9zM58.7 424.1h.9v.9h-.9zM58.3 450.9h.9v.9h-.9zM69.8 418.1h.9v.9h-.9zM64.4 454.5h.9v.9h-.9zM63.3 420.4h.9v.9h-.9zM53.7 431.5h.9v.9h-.9zM69.1 451.8h.9v.9h-.9zM69.7 451.7h.9v.9h-.9zM71.9 418.3h.9v.9h-.9zM60.5 422.4h.9v.9h-.9zM67.3 457.5h.9v.9h-.9zM65.2 455.3h.9v.9h-.9zM80.6 421.0h.9v.9h-.9zM57.8 424.6h.9v.9h-.9zM62.9 419.4h.9v.9h-.9zM77.7 421.6h.9v.9h-.9zM70.0 418.8h.9v.9h-.9zM58.0 451.2h.9v.9h-.9zM80.6 439.1h.9v.9h-.9zM68.9 456.8h.9v.9h-.9zM55.4 438.1h.9v.9h-.9zM56.2 428.0h.9v.9h-.9zM79.9 440.0h.9v.9h-.9zM53.7 437.5h.9v.9h-.9zM75.7 447.2h.9v.9h-.9zM65.6 418.7h.9v.9h-.9zM54.6 430.5h.9v.9h-.9zM77.2 448.4h.9v.9h-.9zM61.5 453.9h.9v.9h-.9zM58.5 451.9h.9v.9h-.9zM80.6 432.4h.9v.9h-.9zM61.8 420.9h.9v.9h-.9zM72.6 451.0h.9v.9h-.9zM63.7 457.2h.9v.9h-.9zM61.9 454.0h.9v.9h-.9zM71.6 418.9h.9v.9h-.9zM79.8 441.1h.9v.9h-.9zM78.7 440.9h.9v.9h-.9zM61.2 458.6h.9v.9h-.9zM79.1 442.2h.9v.9h-.9zM54.1 430.3h.9v.9h-.9zM68.9 457.8h.9v.9h-.9zM79.3 438.9h.9v.9h-.9zM76.2 447.0h.9v.9h-.9zM63.2 454.3h.9v.9h-.9zM62.1 421.6h.9v.9h-.9zM77.3 420.9h.9v.9h-.9zM79.1 442.4h.9v.9h-.9zM78.8 421.9h.9v.9h-.9zM67.7 452.0h.9v.9h-.9zM58.4 452.7h.9v.9h-.9zM62.9 419.5h.9v.9h-.9zM77.6 444.7h.9v.9h-.9zM78.0 421.4h.9v.9h-.9zM75.3 449.1h.9v.9h-.9zM68.6 457.4h.9v.9h-.9zM58.9 423.9h.9v.9h-.9zM58.6 424.6h.9v.9h-.9zM64.0 457.7h.9v.9h-.9zM79.8 425.2h.9v.9h-.9zM59.4 423.4h.9v.9h-.9zM77.1 447.3h.9v.9h-.9zM58.0 425.9h.9v.9h-.9zM80.8 431.9h.9v.9h-.9zM57.3 428.7h.9v.9h-.9zM55.6 429.5h.9v.9h-.9zM55.5 440.1h.9v.9h-.9zM74.6 418.7h.9v.9h-.9zM79.1 443.7h.9v.9h-.9zM63.7 419.2h.9v.9h-.9zM57.0 427.1h.9v.9h-.9zM76.3 420.6h.9v.9h-.9zM61.8 458.8h.9v.9h-.9zM54.0 446.4h.9v.9h-.9zM78.1 445.6h.9v.9h-.9zM78.1 435.8h.9v.9h-.9zM62.4 421.6h.9v.9h-.9zM67.0 417.1h.9v.9h-.9zM74.6 419.7h.9v.9h-.9zM69.5 457.7h.9v.9h-.9zM68.8 418.8h.9v.9h-.9zM76.6 445.8h.9v.9h-.9zM80.2 439.9h.9v.9h-.9z" fill="#939dc7" fill-opacity="0.51"/>
<path d="M67.0 453.8h.9v.9h-.9zM75.8 444.0h.9v.9h-.9zM67.3 454.3h.9v.9h-.9zM54.8 435.0h.9v.9h-.9zM71.7 421.3h.9v.9h-.9zM56.1 440.9h.9v.9h-.9zM57.4 431.7h.9v.9h-.9zM64.5 453.1h.9v.9h-.9zM79.3 425.1h.9v.9h-.9zM60.4 452.0h.9v.9h-.9zM61.8 453.1h.9v.9h-.9zM78.1 436.8h.9v.9h-.9zM57.7 449.7h.9v.9h-.9zM56.1 433.4h.9v.9h-.9zM56.3 439.4h.9v.9h-.9zM74.9 445.8h.9v.9h-.9zM78.9 427.7h.9v.9h-.9zM78.0 431.9h.9v.9h-.9zM57.9 448.9h.9v.9h-.9zM79.4 428.2h.9v.9h-.9zM60.2 426.8h.9v.9h-.9zM79.1 428.3h.9v.9h-.9zM55.7 444.7h.9v.9h-.9zM63.1 421.6h.9v.9h-.9zM68.5 455.4h.9v.9h-.9zM60.5 450.9h.9v.9h-.9zM60.0 424.9h.9v.9h-.9zM78.9 428.6h.9v.9h-.9zM71.7 420.1h.9v.9h-.9zM55.3 433.3h.9v.9h-.9zM78.3 439.1h.9v.9h-.9zM56.2 437.7h.9v.9h-.9zM56.0 433.2h.9v.9h-.9zM62.4 452.0h.9v.9h-.9zM56.8 447.2h.9v.9h-.9zM55.5 435.6h.9v.9h-.9zM77.9 430.1h.9v.9h-.9zM78.1 439.7h.9v.9h-.9zM55.8 436.3h.9v.9h-.9zM67.0 455.6h.9v.9h-.9zM57.4 432.4h.9v.9h-.9zM55.2 433.0h.9v.9h-.9zM66.5 454.8h.9v.9h-.9zM56.4 440.1h.9v.9h-.9zM78.6 427.2h.9v.9h-.9zM69.5 419.5h.9v.9h-.9zM55.9 436.3h.9v.9h-.9zM67.8 456.0h.9v.9h-.9zM57.5 432.7h.9v.9h-.9zM56.4 437.7h.9v.9h-.9zM60.6 452.9h.9v.9h-.9zM57.0 447.5h.9v.9h-.9zM67.3 456.6h.9v.9h-.9zM56.1 433.4h.9v.9h-.9zM80.3 430.6h.9v.9h-.9zM72.2 420.0h.9v.9h-.9zM77.7 437.3h.9v.9h-.9zM71.0 450.0h.9v.9h-.9zM55.7 444.0h.9v.9h-.9zM60.2 452.4h.9v.9h-.9zM71.9 450.0h.9v.9h-.9zM58.3 430.8h.9v.9h-.9zM68.1 456.1h.9v.9h-.9zM56.2 437.5h.9v.9h-.9zM77.4 432.0h.9v.9h-.9zM62.0 452.8h.9v.9h-.9zM58.0 448.9h.9v.9h-.9zM79.2 431.1h.9v.9h-.9zM79.5 426.1h.9v.9h-.9zM56.5 436.4h.9v.9h-.9zM78.3 438.3h.9v.9h-.9zM57.6 431.1h.9v.9h-.9zM60.8 424.3h.9v.9h-.9zM58.2 430.7h.9v.9h-.9zM55.8 434.6h.9v.9h-.9zM55.4 434.7h.9v.9h-.9zM64.2 421.2h.9v.9h-.9zM76.2 445.9h.9v.9h-.9zM78.4 436.2h.9v.9h-.9zM79.1 425.1h.9v.9h-.9zM73.0 421.3h.9v.9h-.9zM56.5 436.6h.9v.9h-.9zM72.6 420.0h.9v.9h-.9zM79.4 431.1h.9v.9h-.9zM80.6 431.3h.9v.9h-.9zM60.2 452.2h.9v.9h-.9zM72.4 420.0h.9v.9h-.9zM71.0 420.7h.9v.9h-.9zM66.9 455.5h.9v.9h-.9zM73.0 449.3h.9v.9h-.9zM56.2 435.1h.9v.9h-.9zM56.1 431.3h.9v.9h-.9zM67.3 456.5h.9v.9h-.9zM78.6 423.1h.9v.9h-.9zM58.1 428.1h.9v.9h-.9zM62.6 453.5h.9v.9h-.9zM77.9 422.2h.9v.9h-.9zM76.2 442.2h.9v.9h-.9zM67.2 452.9h.9v.9h-.9zM71.5 420.2h.9v.9h-.9zM60.8 423.4h.9v.9h-.9zM60.2 452.2h.9v.9h-.9zM76.0 444.8h.9v.9h-.9zM56.3 441.6h.9v.9h-.9zM78.3 438.8h.9v.9h-.9zM56.6 429.6h.9v.9h-.9zM66.3 452.9h.9v.9h-.9zM75.2 421.3h.9v.9h-.9zM79.4 429.8h.9v.9h-.9zM58.9 427.7h.9v.9h-.9zM79.1 426.0h.9v.9h-.9zM70.3 419.2h.9v.9h-.9zM78.5 422.4h.9v.9h-.9zM77.2 434.2h.9v.9h-.9zM57.1 448.4h.9v.9h-.9zM56.5 446.7h.9v.9h-.9zM56.5 439.9h.9v.9h-.9zM58.7 449.3h.9v.9h-.9zM67.6 455.1h.9v.9h-.9zM78.3 438.1h.9v.9h-.9zM77.2 432.7h.9v.9h-.9zM78.1 422.4h.9v.9h-.9zM80.0 429.0h.9v.9h-.9zM78.5 430.8h.9v.9h-.9zM71.1 450.1h.9v.9h-.9zM78.9 428.7h.9v.9h-.9zM55.8 444.1h.9v.9h-.9zM56.3 442.0h.9v.9h-.9zM78.8 423.4h.9v.9h-.9zM68.3 455.7h.9v.9h-.9zM67.4 452.5h.9v.9h-.9zM79.8 429.7h.9v.9h-.9z" fill="#8a95c3" fill-opacity="0.55"/>
<path d="M57.4 440.9h.9v.9h-.9zM59.5 429.9h.9v.9h-.9zM61.2 451.3h.9v.9h-.9zM65.6 452.3h.9v.9h-.9zM76.8 437.7h.9v.9h-.9zM58.2 437.0h.9v.9h-.9zM77.1 431.4h.9v.9h-.9zM58.4 447.8h.9v.9h-.9zM59.4 430.9h.9v.9h-.9zM77.2 430.6h.9v.9h-.9zM61.3 451.7h.9v.9h-.9zM67.7 421.3h.9v.9h-.9zM58.1 435.2h.9v.9h-.9zM57.7 433.8h.9v.9h-.9zM60.7 425.4h.9v.9h-.9zM66.7 421.1h.9v.9h-.9zM65.8 421.6h.9v.9h-.9zM58.9 429.6h.9v.9h-.9zM71.7 449.5h.9v.9h-.9zM71.4 449.4h.9v.9h-.9zM67.0 451.6h.9v.9h-.9zM58.1 434.0h.9v.9h-.9zM78.2 427.4h.9v.9h-.9zM73.9 446.8h.9v.9h-.9zM62.1 423.7h.9v.9h-.9zM59.8 428.4h.9v.9h-.9zM76.3 422.6h.9v.9h-.9zM69.5 420.4h.9v.9h-.9zM65.8 451.3h.9v.9h-.9zM58.1 447.1h.9v.9h-.9zM58.3 439.7h.9v.9h-.9zM61.7 423.6h.9v.9h-.9zM75.5 442.7h.9v.9h-.9zM65.3 452.9h.9v.9h-.9zM75.7 433.7h.9v.9h-.9zM60.4 427.1h.9v.9h-.9zM66.4 451.3h.9v.9h-.9zM67.6 421.9h.9v.9h-.9zM69.2 420.2h.9v.9h-.9zM64.9 451.4h.9v.9h-.9zM59.0 430.8h.9v.9h-.9zM57.5 438.1h.9v.9h-.9zM77.1 437.5h.9v.9h-.9zM76.8 423.3h.9v.9h-.9zM78.3 424.8h.9v.9h-.9zM61.6 450.4h.9v.9h-.9zM57.4 440.2h.9v.9h-.9zM72.4 422.0h.9v.9h-.9zM72.3 422.0h.9v.9h-.9zM75.5 442.8h.9v.9h-.9zM69.5 421.2h.9v.9h-.9zM72.9 448.5h.9v.9h-.9zM64.4 451.5h.9v.9h-.9zM68.7 421.6h.9v.9h-.9zM67.2 421.7h.9v.9h-.9zM73.7 447.1h.9v.9h-.9zM57.5 446.7h.9v.9h-.9zM56.8 437.4h.9v.9h-.9zM64.9 451.4h.9v.9h-.9zM61.2 426.6h.9v.9h-.9zM63.8 451.7h.9v.9h-.9zM68.4 450.5h.9v.9h-.9zM77.4 428.5h.9v.9h-.9zM57.6 439.1h.9v.9h-.9zM58.0 432.3h.9v.9h-.9zM66.5 421.6h.9v.9h-.9zM75.2 422.5h.9v.9h-.9zM65.7 421.4h.9v.9h-.9zM67.7 450.1h.9v.9h-.9zM61.7 423.9h.9v.9h-.9zM61.5 426.6h.9v.9h-.9zM57.3 442.6h.9v.9h-.9zM58.7 430.6h.9v.9h-.9zM65.2 422.3h.9v.9h-.9zM75.1 444.6h.9v.9h-.9zM57.3 443.9h.9v.9h-.9zM72.2 448.9h.9v.9h-.9zM74.2 447.2h.9v.9h-.9zM74.5 445.6h.9v.9h-.9zM72.9 448.3h.9v.9h-.9zM62.6 450.5h.9v.9h-.9zM57.8 434.5h.9v.9h-.9zM58.4 432.8h.9v.9h-.9zM69.5 420.1h.9v.9h-.9zM73.6 422.3h.9v.9h-.9zM58.9 448.3h.9v.9h-.9zM64.1 422.4h.9v.9h-.9zM59.0 428.4h.9v.9h-.9zM76.8 428.0h.9v.9h-.9zM72.7 448.7h.9v.9h-.9zM60.2 450.2h.9v.9h-.9zM76.0 432.8h.9v.9h-.9zM64.6 422.5h.9v.9h-.9zM56.9 438.8h.9v.9h-.9zM76.8 423.4h.9v.9h-.9zM77.0 435.9h.9v.9h-.9zM57.6 439.9h.9v.9h-.9zM66.2 451.5h.9v.9h-.9zM68.7 421.6h.9v.9h-.9zM63.7 422.2h.9v.9h-.9zM63.6 422.4h.9v.9h-.9zM57.0 438.2h.9v.9h-.9zM75.7 440.5h.9v.9h-.9zM77.5 437.0h.9v.9h-.9zM61.1 426.5h.9v.9h-.9zM78.5 427.9h.9v.9h-.9zM75.4 442.8h.9v.9h-.9zM61.7 450.0h.9v.9h-.9zM73.2 448.0h.9v.9h-.9zM57.3 444.3h.9v.9h-.9zM65.7 451.2h.9v.9h-.9zM57.1 444.5h.9v.9h-.9zM57.4 442.1h.9v.9h-.9zM64.9 452.9h.9v.9h-.9zM62.3 424.7h.9v.9h-.9zM59.3 429.6h.9v.9h-.9zM57.5 445.5h.9v.9h-.9zM62.4 451.9h.9v.9h-.9zM58.6 429.3h.9v.9h-.9zM58.2 432.4h.9v.9h-.9zM74.4 446.6h.9v.9h-.9zM67.0 421.2h.9v.9h-.9zM74.3 448.3h.9v.9h-.9zM74.2 445.3h.9v.9h-.9zM74.8 443.1h.9v.9h-.9zM74.1 446.2h.9v.9h-.9zM74.2 447.1h.9v.9h-.9z" fill="#818dbe" fill-opacity="0.60"/>
<path d="M65.1 423.7h.9v.9h-.9zM65.3 449.9h.9v.9h-.9zM57.9 441.4h.9v.9h-.9zM59.2 434.4h.9v.9h-.9zM59.3 435.4h.9v.9h-.9zM74.0 424.4h.9v.9h-.9zM60.6 427.0h.9v.9h-.9zM67.5 422.4h.9v.9h-.9zM76.3 427.3h.9v.9h-.9zM63.5 424.2h.9v.9h-.9zM70.9 423.4h.9v.9h-.9zM64.2 450.6h.9v.9h-.9zM75.9 425.6h.9v.9h-.9zM59.4 437.8h.9v.9h-.9zM76.8 425.5h.9v.9h-.9zM73.9 423.0h.9v.9h-.9zM76.1 424.4h.9v.9h-.9zM68.7 422.1h.9v.9h-.9zM58.9 440.1h.9v.9h-.9zM58.7 447.6h.9v.9h-.9zM68.4 422.7h.9v.9h-.9zM63.6 449.0h.9v.9h-.9zM60.8 448.8h.9v.9h-.9zM75.9 431.3h.9v.9h-.9zM59.2 441.3h.9v.9h-.9zM77.3 426.5h.9v.9h-.9zM75.7 424.4h.9v.9h-.9zM71.8 448.3h.9v.9h-.9zM75.0 427.9h.9v.9h-.9zM73.4 424.1h.9v.9h-.9zM63.4 449.2h.9v.9h-.9zM76.1 429.7h.9v.9h-.9zM75.9 425.1h.9v.9h-.9zM59.3 447.2h.9v.9h-.9zM74.5 423.1h.9v.9h-.9zM59.0 439.7h.9v.9h-.9zM59.5 436.3h.9v.9h-.9zM68.7 422.4h.9v.9h-.9zM75.8 427.2h.9v.9h-.9zM57.6 443.8h.9v.9h-.9zM76.6 426.0h.9v.9h-.9zM65.5 424.8h.9v.9h-.9zM58.6 435.4h.9v.9h-.9zM61.2 428.3h.9v.9h-.9zM76.4 428.7h.9v.9h-.9zM60.9 429.8h.9v.9h-.9zM63.9 423.1h.9v.9h-.9zM64.4 423.8h.9v.9h-.9zM57.7 445.0h.9v.9h-.9zM59.5 441.5h.9v.9h-.9zM75.3 423.0h.9v.9h-.9zM61.3 427.4h.9v.9h-.9zM58.5 444.0h.9v.9h-.9zM69.8 449.6h.9v.9h-.9zM69.6 422.3h.9v.9h-.9zM77.6 424.0h.9v.9h-.9zM76.4 423.4h.9v.9h-.9zM67.3 422.0h.9v.9h-.9zM71.9 448.8h.9v.9h-.9zM76.4 426.1h.9v.9h-.9zM62.6 426.7h.9v.9h-.9zM61.1 448.7h.9v.9h-.9zM76.2 426.6h.9v.9h-.9zM67.9 422.9h.9v.9h-.9zM77.5 426.3h.9v.9h-.9zM75.5 428.0h.9v.9h-.9zM68.0 421.9h.9v.9h-.9zM75.2 441.4h.9v.9h-.9zM66.5 449.0h.9v.9h-.9zM61.1 449.0h.9v.9h-.9zM60.7 428.3h.9v.9h-.9zM73.8 424.2h.9v.9h-.9zM75.6 438.7h.9v.9h-.9zM70.5 421.9h.9v.9h-.9zM61.4 427.9h.9v.9h-.9zM77.3 424.1h.9v.9h-.9zM75.9 435.9h.9v.9h-.9zM75.1 423.8h.9v.9h-.9zM61.5 428.3h.9v.9h-.9zM73.4 446.4h.9v.9h-.9zM66.1 449.7h.9v.9h-.9zM63.6 424.2h.9v.9h-.9zM60.6 448.8h.9v.9h-.9zM58.3 446.2h.9v.9h-.9zM74.7 428.6h.9v.9h-.9zM77.5 423.9h.9v.9h-.9zM58.5 444.9h.9v.9h-.9zM64.5 424.8h.9v.9h-.9zM74.9 423.6h.9v.9h-.9zM65.5 424.3h.9v.9h-.9zM60.0 430.1h.9v.9h-.9zM71.7 424.8h.9v.9h-.9zM64.7 423.9h.9v.9h-.9zM74.8 441.3h.9v.9h-.9zM72.4 424.2h.9v.9h-.9zM58.1 443.6h.9v.9h-.9zM67.2 448.9h.9v.9h-.9zM77.4 425.7h.9v.9h-.9zM62.9 450.7h.9v.9h-.9zM75.8 424.2h.9v.9h-.9zM75.7 431.5h.9v.9h-.9zM73.1 424.1h.9v.9h-.9zM64.2 423.0h.9v.9h-.9zM59.3 432.2h.9v.9h-.9zM59.5 435.6h.9v.9h-.9zM75.5 440.7h.9v.9h-.9zM58.2 444.3h.9v.9h-.9zM57.6 446.1h.9v.9h-.9zM60.2 448.7h.9v.9h-.9zM58.9 436.0h.9v.9h-.9zM59.5 436.0h.9v.9h-.9zM72.7 424.4h.9v.9h-.9zM64.3 450.9h.9v.9h-.9zM68.8 449.0h.9v.9h-.9zM75.4 423.8h.9v.9h-.9zM58.0 441.4h.9v.9h-.9zM62.7 424.2h.9v.9h-.9zM68.2 423.6h.9v.9h-.9zM68.4 449.9h.9v.9h-.9zM69.5 449.2h.9v.9h-.9zM75.1 439.9h.9v.9h-.9zM74.6 440.6h.9v.9h-.9zM76.4 436.8h.9v.9h-.9z" fill="#7884b9" fill-opacity="0.64"/>
<path d="M69.4 423.7h.9v.9h-.9zM64.3 448.9h.9v.9h-.9zM59.5 444.5h.9v.9h-.9zM60.2 447.2h.9v.9h-.9zM68.6 423.8h.9v.9h-.9zM67.9 425.0h.9v.9h-.9zM64.1 449.8h.9v.9h-.9zM68.7 424.3h.9v.9h-.9zM62.8 427.6h.9v.9h-.9zM70.6 424.8h.9v.9h-.9zM63.8 448.4h.9v.9h-.9zM60.4 438.5h.9v.9h-.9zM58.7 445.7h.9v.9h-.9zM74.1 426.7h.9v.9h-.9zM74.8 432.2h.9v.9h-.9zM72.9 425.9h.9v.9h-.9zM59.6 443.3h.9v.9h-.9zM60.4 437.4h.9v.9h-.9zM62.0 448.6h.9v.9h-.9zM62.0 447.3h.9v.9h-.9zM67.9 424.1h.9v.9h-.9zM60.5 436.6h.9v.9h-.9zM72.3 426.2h.9v.9h-.9zM71.2 424.1h.9v.9h-.9zM61.7 447.7h.9v.9h-.9zM62.2 448.3h.9v.9h-.9zM64.2 449.1h.9v.9h-.9zM74.2 442.8h.9v.9h-.9zM74.6 435.8h.9v.9h-.9zM67.0 448.2h.9v.9h-.9zM75.1 433.6h.9v.9h-.9zM65.2 449.7h.9v.9h-.9zM60.1 437.9h.9v.9h-.9zM74.8 429.3h.9v.9h-.9zM71.7 426.5h.9v.9h-.9zM63.9 425.6h.9v.9h-.9zM73.8 425.0h.9v.9h-.9zM60.4 439.1h.9v.9h-.9zM59.8 437.7h.9v.9h-.9zM64.8 448.1h.9v.9h-.9zM64.9 425.5h.9v.9h-.9zM59.7 439.6h.9v.9h-.9zM70.9 424.4h.9v.9h-.9zM66.5 425.6h.9v.9h-.9zM61.9 428.5h.9v.9h-.9zM70.7 426.5h.9v.9h-.9zM71.2 424.4h.9v.9h-.9zM75.2 435.0h.9v.9h-.9zM59.5 442.7h.9v.9h-.9zM62.9 426.9h.9v.9h-.9zM75.1 439.0h.9v.9h-.9zM65.4 448.7h.9v.9h-.9zM60.2 442.4h.9v.9h-.9zM60.2 439.4h.9v.9h-.9zM62.9 428.2h.9v.9h-.9zM73.2 427.1h.9v.9h-.9zM74.1 425.7h.9v.9h-.9zM73.8 426.0h.9v.9h-.9zM62.2 430.3h.9v.9h-.9zM68.9 423.8h.9v.9h-.9zM65.4 425.5h.9v.9h-.9zM68.6 425.5h.9v.9h-.9zM72.8 426.1h.9v.9h-.9zM65.6 425.1h.9v.9h-.9zM65.5 425.3h.9v.9h-.9zM61.4 447.0h.9v.9h-.9zM59.6 432.4h.9v.9h-.9zM59.7 441.4h.9v.9h-.9zM62.5 447.9h.9v.9h-.9zM59.8 433.1h.9v.9h-.9zM67.2 448.6h.9v.9h-.9zM75.0 430.3h.9v.9h-.9zM67.2 425.3h.9v.9h-.9zM75.3 425.4h.9v.9h-.9zM73.9 428.4h.9v.9h-.9zM75.6 438.2h.9v.9h-.9zM61.9 428.9h.9v.9h-.9zM74.3 427.8h.9v.9h-.9zM73.8 428.6h.9v.9h-.9zM73.7 425.5h.9v.9h-.9zM74.8 435.8h.9v.9h-.9zM75.1 430.7h.9v.9h-.9zM62.2 430.3h.9v.9h-.9zM71.6 427.2h.9v.9h-.9zM74.8 432.3h.9v.9h-.9zM66.5 425.4h.9v.9h-.9zM59.2 442.0h.9v.9h-.9zM75.3 439.6h.9v.9h-.9zM62.4 427.9h.9v.9h-.9zM63.0 448.1h.9v.9h-.9zM62.4 447.8h.9v.9h-.9zM59.8 438.2h.9v.9h-.9zM59.9 447.5h.9v.9h-.9zM69.6 424.1h.9v.9h-.9zM72.3 427.8h.9v.9h-.9zM66.6 425.3h.9v.9h-.9zM72.1 447.5h.9v.9h-.9zM68.1 424.3h.9v.9h-.9zM59.8 446.5h.9v.9h-.9zM75.2 431.3h.9v.9h-.9zM63.2 426.1h.9v.9h-.9zM74.8 430.4h.9v.9h-.9zM60.3 441.3h.9v.9h-.9zM60.3 438.8h.9v.9h-.9zM70.9 424.8h.9v.9h-.9zM65.0 448.7h.9v.9h-.9zM73.2 425.5h.9v.9h-.9zM75.3 431.6h.9v.9h-.9zM75.2 424.4h.9v.9h-.9zM75.5 435.1h.9v.9h-.9zM63.7 426.4h.9v.9h-.9zM73.8 428.2h.9v.9h-.9zM63.5 447.3h.9v.9h-.9zM71.5 425.3h.9v.9h-.9zM73.4 426.2h.9v.9h-.9zM75.2 431.2h.9v.9h-.9zM59.7 446.8h.9v.9h-.9zM60.3 439.7h.9v.9h-.9zM59.8 439.7h.9v.9h-.9zM66.3 448.1h.9v.9h-.9zM60.8 447.6h.9v.9h-.9zM73.8 442.8h.9v.9h-.9zM62.4 430.8h.9v.9h-.9zM66.4 425.4h.9v.9h-.9zM75.6 432.9h.9v.9h-.9zM69.6 448.3h.9v.9h-.9zM66.3 448.0h.9v.9h-.9zM70.6 448.8h.9v.9h-.9zM74.8 439.3h.9v.9h-.9z" fill="#7183b5" fill-opacity="0.68"/>
<path d="M63.1 444.9h.9v.9h-.9zM69.1 448.9h.9v.9h-.9zM59.8 444.5h.9v.9h-.9zM69.8 426.7h.9v.9h-.9zM61.6 445.9h.9v.9h-.9zM72.3 446.7h.9v.9h-.9zM75.5 436.5h.9v.9h-.9zM62.1 443.3h.9v.9h-.9zM69.4 448.1h.9v.9h-.9zM60.9 432.4h.9v.9h-.9zM62.6 429.6h.9v.9h-.9zM69.9 426.7h.9v.9h-.9zM73.2 443.4h.9v.9h-.9zM62.6 445.4h.9v.9h-.9zM75.6 437.5h.9v.9h-.9zM65.9 426.1h.9v.9h-.9zM69.2 426.8h.9v.9h-.9zM59.7 443.3h.9v.9h-.9zM64.1 428.5h.9v.9h-.9zM63.1 429.5h.9v.9h-.9zM72.4 445.0h.9v.9h-.9zM68.3 426.8h.9v.9h-.9zM73.8 429.1h.9v.9h-.9zM69.7 425.8h.9v.9h-.9zM64.9 447.2h.9v.9h-.9zM68.3 448.6h.9v.9h-.9zM64.0 447.3h.9v.9h-.9zM69.1 425.3h.9v.9h-.9zM69.6 425.3h.9v.9h-.9zM64.4 427.5h.9v.9h-.9zM61.0 440.3h.9v.9h-.9zM60.9 444.2h.9v.9h-.9zM60.8 432.3h.9v.9h-.9zM61.0 439.8h.9v.9h-.9zM74.0 433.3h.9v.9h-.9zM62.4 438.7h.9v.9h-.9zM61.0 443.6h.9v.9h-.9zM69.9 425.8h.9v.9h-.9zM73.9 431.0h.9v.9h-.9zM62.0 436.5h.9v.9h-.9zM61.8 431.2h.9v.9h-.9zM62.8 446.2h.9v.9h-.9zM61.3 441.7h.9v.9h-.9zM60.3 433.9h.9v.9h-.9zM63.3 429.3h.9v.9h-.9zM59.7 443.1h.9v.9h-.9zM70.4 424.9h.9v.9h-.9zM62.2 431.3h.9v.9h-.9zM60.8 446.8h.9v.9h-.9zM64.4 446.4h.9v.9h-.9zM61.9 445.0h.9v.9h-.9zM72.4 428.7h.9v.9h-.9zM68.2 426.7h.9v.9h-.9zM65.5 447.4h.9v.9h-.9zM70.7 446.9h.9v.9h-.9zM72.8 443.8h.9v.9h-.9zM74.4 441.4h.9v.9h-.9zM60.2 442.9h.9v.9h-.9zM60.6 442.4h.9v.9h-.9zM60.3 443.1h.9v.9h-.9zM61.2 444.1h.9v.9h-.9zM62.4 446.5h.9v.9h-.9zM62.1 438.1h.9v.9h-.9zM62.2 443.8h.9v.9h-.9zM64.5 428.0h.9v.9h-.9zM70.8 447.7h.9v.9h-.9zM64.2 426.9h.9v.9h-.9zM61.0 444.7h.9v.9h-.9zM60.8 438.4h.9v.9h-.9zM68.2 448.3h.9v.9h-.9zM73.2 428.1h.9v.9h-.9zM63.4 430.4h.9v.9h-.9zM69.6 426.8h.9v.9h-.9zM60.9 446.5h.9v.9h-.9zM62.9 445.2h.9v.9h-.9zM61.2 439.0h.9v.9h-.9zM74.1 429.4h.9v.9h-.9zM62.8 445.7h.9v.9h-.9zM62.5 446.7h.9v.9h-.9zM59.7 445.5h.9v.9h-.9zM59.7 443.6h.9v.9h-.9zM74.8 437.0h.9v.9h-.9zM63.8 428.3h.9v.9h-.9zM60.1 434.1h.9v.9h-.9zM75.3 436.5h.9v.9h-.9zM72.6 443.7h.9v.9h-.9zM63.6 447.4h.9v.9h-.9zM61.2 435.9h.9v.9h-.9zM61.1 436.7h.9v.9h-.9zM64.4 445.7h.9v.9h-.9zM61.2 436.2h.9v.9h-.9zM63.4 430.5h.9v.9h-.9zM59.6 444.0h.9v.9h-.9zM68.9 425.1h.9v.9h-.9zM63.7 447.7h.9v.9h-.9zM60.3 444.1h.9v.9h-.9zM59.9 434.8h.9v.9h-.9zM61.5 432.2h.9v.9h-.9zM64.1 446.8h.9v.9h-.9zM73.7 432.3h.9v.9h-.9zM62.5 444.9h.9v.9h-.9zM71.1 447.0h.9v.9h-.9zM61.1 437.6h.9v.9h-.9zM63.8 427.3h.9v.9h-.9zM61.0 444.0h.9v.9h-.9zM74.0 441.9h.9v.9h-.9zM62.6 431.1h.9v.9h-.9zM59.6 445.9h.9v.9h-.9zM68.8 425.0h.9v.9h-.9zM72.9 443.5h.9v.9h-.9zM62.6 444.4h.9v.9h-.9zM69.0 425.6h.9v.9h-.9zM70.5 425.9h.9v.9h-.9zM62.4 437.7h.9v.9h-.9zM74.1 429.6h.9v.9h-.9zM70.4 425.8h.9v.9h-.9zM59.8 445.2h.9v.9h-.9zM62.3 443.0h.9v.9h-.9zM72.3 445.8h.9v.9h-.9zM60.7 435.8h.9v.9h-.9zM62.2 438.7h.9v.9h-.9zM64.1 427.8h.9v.9h-.9zM64.3 427.8h.9v.9h-.9zM59.7 435.8h.9v.9h-.9zM63.5 430.0h.9v.9h-.9zM65.2 447.0h.9v.9h-.9zM60.7 446.6h.9v.9h-.9zM61.6 442.6h.9v.9h-.9zM61.6 431.7h.9v.9h-.9zM61.2 436.0h.9v.9h-.9zM73.9 433.3h.9v.9h-.9zM61.3 435.2h.9v.9h-.9zM68.0 448.0h.9v.9h-.9zM73.6 433.9h.9v.9h-.9zM70.9 447.6h.9v.9h-.9zM71.0 447.8h.9v.9h-.9zM71.6 447.3h.9v.9h-.9z" fill="#6983b1" fill-opacity="0.73"/>
<path d="M73.4 429.5h.9v.9h-.9zM65.7 427.2h.9v.9h-.9zM71.8 443.7h.9v.9h-.9zM73.0 431.7h.9v.9h-.9zM63.6 435.8h.9v.9h-.9zM62.1 435.3h.9v.9h-.9zM73.0 430.3h.9v.9h-.9zM61.8 432.7h.9v.9h-.9zM73.2 431.0h.9v.9h-.9zM69.5 427.3h.9v.9h-.9zM64.7 427.5h.9v.9h-.9zM65.0 427.7h.9v.9h-.9zM62.0 435.8h.9v.9h-.9zM62.4 440.8h.9v.9h-.9zM65.0 427.7h.9v.9h-.9zM73.1 442.4h.9v.9h-.9zM61.9 433.5h.9v.9h-.9zM65.6 427.8h.9v.9h-.9zM71.9 444.9h.9v.9h-.9zM72.8 432.7h.9v.9h-.9zM64.6 444.4h.9v.9h-.9zM64.2 430.5h.9v.9h-.9zM61.4 434.6h.9v.9h-.9zM63.3 442.2h.9v.9h-.9zM71.8 431.9h.9v.9h-.9zM64.9 445.0h.9v.9h-.9zM71.6 430.6h.9v.9h-.9zM62.5 439.7h.9v.9h-.9zM60.7 433.0h.9v.9h-.9zM62.3 432.9h.9v.9h-.9zM62.1 442.1h.9v.9h-.9zM73.8 439.5h.9v.9h-.9zM61.4 434.9h.9v.9h-.9zM65.7 446.8h.9v.9h-.9zM63.1 431.3h.9v.9h-.9zM66.6 427.8h.9v.9h-.9zM72.2 429.4h.9v.9h-.9zM60.9 434.8h.9v.9h-.9zM72.0 444.8h.9v.9h-.9zM61.8 439.0h.9v.9h-.9zM61.7 440.9h.9v.9h-.9zM64.5 430.7h.9v.9h-.9zM62.1 440.0h.9v.9h-.9zM63.3 436.8h.9v.9h-.9zM63.4 435.5h.9v.9h-.9zM67.2 447.7h.9v.9h-.9zM61.1 433.9h.9v.9h-.9zM72.1 429.1h.9v.9h-.9zM71.7 431.6h.9v.9h-.9zM71.8 429.1h.9v.9h-.9zM62.5 434.6h.9v.9h-.9zM73.4 430.0h.9v.9h-.9zM65.3 445.7h.9v.9h-.9zM65.3 428.1h.9v.9h-.9zM62.9 435.7h.9v.9h-.9zM72.3 429.5h.9v.9h-.9zM61.7 432.3h.9v.9h-.9zM61.1 433.4h.9v.9h-.9zM61.7 434.0h.9v.9h-.9zM64.7 427.3h.9v.9h-.9zM63.0 443.4h.9v.9h-.9zM72.0 444.4h.9v.9h-.9zM65.9 446.0h.9v.9h-.9zM73.4 432.0h.9v.9h-.9zM62.2 440.1h.9v.9h-.9zM68.6 447.9h.9v.9h-.9zM62.6 439.2h.9v.9h-.9zM63.4 438.6h.9v.9h-.9zM65.3 428.3h.9v.9h-.9zM73.1 430.3h.9v.9h-.9zM71.7 431.5h.9v.9h-.9zM74.6 438.1h.9v.9h-.9zM69.9 447.2h.9v.9h-.9zM72.3 431.5h.9v.9h-.9zM62.2 433.4h.9v.9h-.9zM63.2 436.0h.9v.9h-.9zM62.3 441.1h.9v.9h-.9zM64.9 445.3h.9v.9h-.9zM61.8 439.5h.9v.9h-.9zM62.1 439.0h.9v.9h-.9zM68.6 427.6h.9v.9h-.9zM62.9 438.9h.9v.9h-.9zM62.5 442.3h.9v.9h-.9zM66.5 427.1h.9v.9h-.9zM62.7 430.9h.9v.9h-.9zM70.4 447.3h.9v.9h-.9zM70.2 428.3h.9v.9h-.9zM68.3 427.6h.9v.9h-.9zM72.7 432.0h.9v.9h-.9zM73.1 430.1h.9v.9h-.9zM61.9 442.3h.9v.9h-.9zM61.4 434.2h.9v.9h-.9zM74.1 434.1h.9v.9h-.9zM72.2 428.9h.9v.9h-.9zM67.0 447.9h.9v.9h-.9zM62.0 433.6h.9v.9h-.9zM72.7 429.0h.9v.9h-.9zM64.7 445.6h.9v.9h-.9zM66.5 446.9h.9v.9h-.9zM65.0 428.2h.9v.9h-.9zM70.5 428.6h.9v.9h-.9zM67.8 447.6h.9v.9h-.9zM71.6 444.0h.9v.9h-.9zM73.9 438.5h.9v.9h-.9zM69.7 428.7h.9v.9h-.9zM73.5 429.2h.9v.9h-.9zM71.0 446.3h.9v.9h-.9zM63.5 436.2h.9v.9h-.9zM65.7 427.7h.9v.9h-.9zM62.2 433.6h.9v.9h-.9zM62.9 436.7h.9v.9h-.9zM61.8 442.8h.9v.9h-.9zM63.0 439.4h.9v.9h-.9zM68.6 427.8h.9v.9h-.9zM60.9 433.7h.9v.9h-.9zM70.9 446.6h.9v.9h-.9zM70.7 445.9h.9v.9h-.9zM72.7 442.6h.9v.9h-.9zM74.3 434.8h.9v.9h-.9zM72.2 431.1h.9v.9h-.9zM72.3 444.0h.9v.9h-.9zM69.5 447.2h.9v.9h-.9zM66.5 446.0h.9v.9h-.9zM73.2 429.9h.9v.9h-.9z" fill="#6282ae" fill-opacity="0.77"/>
<path d="M64.3 432.7h.9v.9h-.9zM73.9 435.3h.9v.9h-.9zM64.2 436.6h.9v.9h-.9zM71.1 444.3h.9v.9h-.9zM64.2 443.4h.9v.9h-.9zM64.4 436.7h.9v.9h-.9zM71.0 444.4h.9v.9h-.9zM63.8 432.2h.9v.9h-.9zM62.8 432.5h.9v.9h-.9zM71.6 430.5h.9v.9h-.9zM72.8 441.2h.9v.9h-.9zM69.7 429.4h.9v.9h-.9zM66.7 445.9h.9v.9h-.9zM65.9 428.9h.9v.9h-.9zM66.0 428.5h.9v.9h-.9zM70.5 446.3h.9v.9h-.9zM64.1 435.9h.9v.9h-.9zM68.7 428.7h.9v.9h-.9zM64.1 435.3h.9v.9h-.9zM70.1 446.1h.9v.9h-.9zM65.5 430.8h.9v.9h-.9zM66.0 428.2h.9v.9h-.9zM64.4 437.6h.9v.9h-.9zM63.5 432.9h.9v.9h-.9zM71.6 429.5h.9v.9h-.9zM74.5 437.1h.9v.9h-.9zM74.1 436.7h.9v.9h-.9zM71.2 430.5h.9v.9h-.9zM68.6 428.5h.9v.9h-.9zM65.5 444.3h.9v.9h-.9zM64.4 432.1h.9v.9h-.9zM64.3 436.0h.9v.9h-.9zM63.5 433.8h.9v.9h-.9zM66.2 428.5h.9v.9h-.9zM70.7 429.1h.9v.9h-.9zM64.4 443.3h.9v.9h-.9zM63.3 433.1h.9v.9h-.9zM73.2 433.3h.9v.9h-.9zM63.1 434.7h.9v.9h-.9zM63.9 443.3h.9v.9h-.9zM71.1 445.2h.9v.9h-.9zM74.2 437.3h.9v.9h-.9zM65.1 431.9h.9v.9h-.9zM69.4 428.6h.9v.9h-.9zM64.3 433.3h.9v.9h-.9zM64.4 437.2h.9v.9h-.9zM73.0 441.3h.9v.9h-.9zM63.2 433.3h.9v.9h-.9zM65.6 431.9h.9v.9h-.9zM65.2 444.3h.9v.9h-.9zM69.7 446.6h.9v.9h-.9zM70.0 429.7h.9v.9h-.9zM63.0 441.3h.9v.9h-.9zM64.6 432.9h.9v.9h-.9zM72.7 432.9h.9v.9h-.9zM64.9 431.0h.9v.9h-.9zM63.3 441.7h.9v.9h-.9zM70.9 429.4h.9v.9h-.9zM73.0 433.8h.9v.9h-.9zM63.6 434.6h.9v.9h-.9zM67.2 446.9h.9v.9h-.9zM69.9 429.1h.9v.9h-.9zM70.6 429.8h.9v.9h-.9zM64.4 442.9h.9v.9h-.9zM62.9 440.3h.9v.9h-.9zM70.2 429.1h.9v.9h-.9zM64.5 432.7h.9v.9h-.9zM65.3 431.4h.9v.9h-.9zM71.4 444.3h.9v.9h-.9zM71.4 445.1h.9v.9h-.9zM74.1 436.5h.9v.9h-.9zM71.0 444.5h.9v.9h-.9zM70.6 429.8h.9v.9h-.9zM71.2 445.2h.9v.9h-.9zM67.1 446.0h.9v.9h-.9zM73.3 441.3h.9v.9h-.9zM67.1 446.6h.9v.9h-.9zM67.4 446.7h.9v.9h-.9z" fill="#5a82aa" fill-opacity="0.82"/>
<path d="M65.1 435.0h.9v.9h-.9zM68.7 445.1h.9v.9h-.9zM71.0 443.7h.9v.9h-.9zM64.5 440.9h.9v.9h-.9zM73.2 437.9h.9v.9h-.9zM63.9 442.9h.9v.9h-.9zM70.3 431.7h.9v.9h-.9zM66.0 444.7h.9v.9h-.9zM72.4 442.7h.9v.9h-.9zM72.7 440.1h.9v.9h-.9zM68.6 445.6h.9v.9h-.9zM68.8 429.8h.9v.9h-.9zM63.8 439.6h.9v.9h-.9zM68.4 446.3h.9v.9h-.9zM68.2 428.7h.9v.9h-.9zM69.8 429.9h.9v.9h-.9zM67.7 445.4h.9v.9h-.9zM69.5 446.9h.9v.9h-.9zM65.1 434.9h.9v.9h-.9zM64.1 441.2h.9v.9h-.9zM69.0 429.6h.9v.9h-.9zM67.6 428.6h.9v.9h-.9zM67.8 445.5h.9v.9h-.9zM67.2 444.9h.9v.9h-.9zM63.7 441.6h.9v.9h-.9zM65.5 432.7h.9v.9h-.9zM68.3 428.8h.9v.9h-.9zM68.7 446.5h.9v.9h-.9zM73.2 434.1h.9v.9h-.9zM72.8 438.1h.9v.9h-.9zM65.1 443.3h.9v.9h-.9zM68.0 445.5h.9v.9h-.9zM69.0 429.3h.9v.9h-.9zM65.9 429.3h.9v.9h-.9zM71.9 433.6h.9v.9h-.9zM72.7 434.1h.9v.9h-.9zM66.0 430.4h.9v.9h-.9zM68.7 445.7h.9v.9h-.9zM64.5 440.9h.9v.9h-.9zM67.7 446.8h.9v.9h-.9zM67.0 444.4h.9v.9h-.9zM65.5 432.6h.9v.9h-.9zM72.2 433.7h.9v.9h-.9zM70.7 432.4h.9v.9h-.9zM67.9 428.8h.9v.9h-.9zM73.1 434.6h.9v.9h-.9zM73.3 438.3h.9v.9h-.9zM68.4 445.0h.9v.9h-.9zM73.2 440.5h.9v.9h-.9zM69.1 429.1h.9v.9h-.9zM64.6 439.4h.9v.9h-.9zM68.8 429.4h.9v.9h-.9zM68.6 446.3h.9v.9h-.9zM66.2 443.9h.9v.9h-.9zM64.5 440.4h.9v.9h-.9zM70.6 430.1h.9v.9h-.9zM69.7 431.0h.9v.9h-.9zM72.4 442.8h.9v.9h-.9zM67.2 443.9h.9v.9h-.9zM65.6 430.3h.9v.9h-.9zM73.2 439.1h.9v.9h-.9zM67.9 446.3h.9v.9h-.9zM67.2 428.7h.9v.9h-.9zM63.8 440.4h.9v.9h-.9zM69.0 429.3h.9v.9h-.9zM64.1 441.8h.9v.9h-.9zM72.7 440.5h.9v.9h-.9zM73.3 439.5h.9v.9h-.9zM64.0 442.7h.9v.9h-.9zM64.0 438.8h.9v.9h-.9zM68.0 445.1h.9v.9h-.9zM67.1 428.8h.9v.9h-.9zM73.3 439.2h.9v.9h-.9zM64.7 432.6h.9v.9h-.9zM66.5 430.2h.9v.9h-.9zM66.9 445.0h.9v.9h-.9zM66.8 428.4h.9v.9h-.9zM65.9 430.5h.9v.9h-.9zM64.5 440.2h.9v.9h-.9zM69.7 445.0h.9v.9h-.9zM71.4 443.7h.9v.9h-.9zM65.1 443.1h.9v.9h-.9zM69.0 446.4h.9v.9h-.9zM69.6 444.9h.9v.9h-.9zM65.0 435.5h.9v.9h-.9zM68.9 445.8h.9v.9h-.9zM72.8 438.4h.9v.9h-.9zM68.0 446.2h.9v.9h-.9zM70.5 431.3h.9v.9h-.9zM73.4 439.6h.9v.9h-.9zM70.5 445.2h.9v.9h-.9z" fill="#5b8c9d" fill-opacity="0.86"/>
<path d="M68.7 432.0h.9v.9h-.9zM66.8 429.3h.9v.9h-.9zM66.4 443.5h.9v.9h-.9zM67.2 429.0h.9v.9h-.9zM73.1 435.8h.9v.9h-.9zM68.0 431.0h.9v.9h-.9zM70.5 432.4h.9v.9h-.9zM66.0 432.2h.9v.9h-.9zM68.5 431.1h.9v.9h-.9zM73.0 436.4h.9v.9h-.9zM68.4 430.0h.9v.9h-.9zM68.5 429.1h.9v.9h-.9zM72.7 437.7h.9v.9h-.9zM67.1 430.7h.9v.9h-.9zM65.8 431.7h.9v.9h-.9zM66.5 432.7h.9v.9h-.9zM68.4 444.0h.9v.9h-.9zM67.6 429.0h.9v.9h-.9zM68.2 429.2h.9v.9h-.9zM65.3 442.8h.9v.9h-.9zM73.2 436.0h.9v.9h-.9zM65.5 435.9h.9v.9h-.9zM70.5 443.8h.9v.9h-.9zM66.3 443.3h.9v.9h-.9zM72.9 435.6h.9v.9h-.9zM66.1 432.7h.9v.9h-.9zM66.3 443.3h.9v.9h-.9zM67.7 430.1h.9v.9h-.9zM68.9 431.8h.9v.9h-.9zM64.9 441.9h.9v.9h-.9zM67.5 429.6h.9v.9h-.9zM64.8 437.3h.9v.9h-.9zM68.4 444.5h.9v.9h-.9zM68.1 431.1h.9v.9h-.9zM64.9 433.6h.9v.9h-.9zM65.5 433.2h.9v.9h-.9zM67.9 428.9h.9v.9h-.9zM65.2 437.8h.9v.9h-.9zM70.3 432.1h.9v.9h-.9zM65.5 437.5h.9v.9h-.9zM67.7 430.7h.9v.9h-.9zM65.3 442.2h.9v.9h-.9zM65.9 442.9h.9v.9h-.9zM68.3 431.7h.9v.9h-.9zM72.8 437.3h.9v.9h-.9zM71.2 433.4h.9v.9h-.9zM72.9 435.3h.9v.9h-.9zM69.6 431.1h.9v.9h-.9zM67.9 431.7h.9v.9h-.9zM64.7 433.8h.9v.9h-.9zM72.7 435.3h.9v.9h-.9zM66.2 432.1h.9v.9h-.9zM65.0 436.7h.9v.9h-.9zM65.5 437.7h.9v.9h-.9zM73.5 437.8h.9v.9h-.9zM68.7 442.9h.9v.9h-.9zM67.0 429.7h.9v.9h-.9zM66.0 432.2h.9v.9h-.9zM66.0 443.4h.9v.9h-.9zM66.8 443.1h.9v.9h-.9zM68.5 429.6h.9v.9h-.9zM64.8 437.3h.9v.9h-.9zM66.7 430.4h.9v.9h-.9zM65.3 433.0h.9v.9h-.9zM64.8 433.6h.9v.9h-.9zM72.8 436.9h.9v.9h-.9zM69.3 443.9h.9v.9h-.9zM67.9 428.9h.9v.9h-.9zM67.0 429.9h.9v.9h-.9zM70.9 433.1h.9v.9h-.9zM65.2 436.6h.9v.9h-.9zM70.5 443.7h.9v.9h-.9zM71.5 442.2h.9v.9h-.9zM73.4 435.0h.9v.9h-.9zM73.0 437.0h.9v.9h-.9zM64.6 442.1h.9v.9h-.9zM70.1 443.0h.9v.9h-.9zM69.4 444.8h.9v.9h-.9zM68.9 444.2h.9v.9h-.9zM69.5 444.6h.9v.9h-.9zM73.4 436.5h.9v.9h-.9zM69.9 432.8h.9v.9h-.9zM71.1 442.4h.9v.9h-.9zM68.6 443.3h.9v.9h-.9zM72.5 441.1h.9v.9h-.9zM67.0 443.2h.9v.9h-.9zM72.8 435.3h.9v.9h-.9zM66.0 432.7h.9v.9h-.9zM71.5 442.4h.9v.9h-.9zM73.1 437.7h.9v.9h-.9zM71.0 433.2h.9v.9h-.9zM70.1 443.4h.9v.9h-.9zM72.9 437.0h.9v.9h-.9zM73.2 436.6h.9v.9h-.9zM73.1 436.1h.9v.9h-.9z" fill="#5d998f" fill-opacity="0.90"/>
<path d="M64.8 441.8h.9v.9h-.9zM67.4 431.3h.9v.9h-.9zM65.5 440.5h.9v.9h-.9zM67.9 432.7h.9v.9h-.9zM71.9 434.7h.9v.9h-.9zM72.3 440.0h.9v.9h-.9zM67.2 431.2h.9v.9h-.9zM64.9 438.7h.9v.9h-.9zM66.4 434.1h.9v.9h-.9zM66.6 435.9h.9v.9h-.9zM67.8 443.5h.9v.9h-.9zM66.8 432.0h.9v.9h-.9zM70.2 433.6h.9v.9h-.9zM64.6 441.8h.9v.9h-.9zM64.7 439.3h.9v.9h-.9zM66.4 435.6h.9v.9h-.9zM67.7 432.8h.9v.9h-.9zM66.1 435.0h.9v.9h-.9zM72.0 434.8h.9v.9h-.9zM67.6 432.5h.9v.9h-.9zM66.2 436.5h.9v.9h-.9zM65.2 438.1h.9v.9h-.9zM65.0 440.6h.9v.9h-.9zM65.7 442.1h.9v.9h-.9zM69.9 433.8h.9v.9h-.9zM66.3 433.4h.9v.9h-.9zM65.9 432.9h.9v.9h-.9zM71.5 441.6h.9v.9h-.9zM64.9 438.2h.9v.9h-.9zM71.8 440.0h.9v.9h-.9zM66.2 434.2h.9v.9h-.9zM68.4 443.3h.9v.9h-.9zM66.8 431.8h.9v.9h-.9zM68.4 432.6h.9v.9h-.9zM65.7 435.1h.9v.9h-.9zM66.0 433.6h.9v.9h-.9zM67.2 432.4h.9v.9h-.9zM65.2 440.9h.9v.9h-.9zM65.4 440.5h.9v.9h-.9zM69.8 433.8h.9v.9h-.9zM66.5 434.2h.9v.9h-.9zM66.0 442.6h.9v.9h-.9zM65.8 436.8h.9v.9h-.9zM66.0 442.0h.9v.9h-.9zM68.4 432.8h.9v.9h-.9zM65.2 441.0h.9v.9h-.9zM64.7 440.1h.9v.9h-.9zM65.0 441.7h.9v.9h-.9zM66.6 436.9h.9v.9h-.9zM72.2 440.7h.9v.9h-.9zM71.0 441.9h.9v.9h-.9zM66.2 433.4h.9v.9h-.9zM65.4 441.4h.9v.9h-.9zM66.3 442.9h.9v.9h-.9zM71.9 437.9h.9v.9h-.9zM67.4 431.0h.9v.9h-.9zM65.6 439.2h.9v.9h-.9zM71.8 434.5h.9v.9h-.9zM64.6 440.1h.9v.9h-.9zM66.0 436.3h.9v.9h-.9zM69.9 433.9h.9v.9h-.9zM71.8 438.4h.9v.9h-.9zM68.2 443.8h.9v.9h-.9zM72.4 440.6h.9v.9h-.9zM72.4 440.1h.9v.9h-.9zM70.1 442.7h.9v.9h-.9zM72.3 438.9h.9v.9h-.9zM71.8 439.8h.9v.9h-.9zM68.5 443.3h.9v.9h-.9zM70.8 441.5h.9v.9h-.9zM70.3 442.0h.9v.9h-.9zM70.3 442.3h.9v.9h-.9zM71.3 441.6h.9v.9h-.9zM72.2 440.6h.9v.9h-.9zM72.5 434.0h.9v.9h-.9zM69.6 442.3h.9v.9h-.9zM68.5 432.7h.9v.9h-.9zM72.1 439.7h.9v.9h-.9zM70.7 441.7h.9v.9h-.9zM68.4 443.1h.9v.9h-.9zM72.1 440.1h.9v.9h-.9zM69.9 433.0h.9v.9h-.9zM72.0 434.8h.9v.9h-.9zM71.0 441.6h.9v.9h-.9zM70.2 442.4h.9v.9h-.9z" fill="#5fa581" fill-opacity="0.95"/>
<path d="M68.3 433.9h.9v.9h-.9zM67.3 435.5h.9v.9h-.9zM67.4 442.4h.9v.9h-.9zM70.2 434.6h.9v.9h-.9zM71.3 434.1h.9v.9h-.9zM67.4 433.3h.9v.9h-.9zM67.4 434.3h.9v.9h-.9zM66.7 434.8h.9v.9h-.9zM67.0 433.1h.9v.9h-.9zM65.6 437.4h.9v.9h-.9zM70.6 439.4h.9v.9h-.9zM67.4 433.6h.9v.9h-.9zM68.1 434.7h.9v.9h-.9zM70.7 438.6h.9v.9h-.9zM70.8 440.3h.9v.9h-.9zM66.0 437.2h.9v.9h-.9zM68.1 435.4h.9v.9h-.9zM69.4 434.0h.9v.9h-.9zM66.3 437.5h.9v.9h-.9zM66.9 442.8h.9v.9h-.9zM67.0 435.8h.9v.9h-.9zM69.5 434.5h.9v.9h-.9zM67.4 442.2h.9v.9h-.9zM71.8 435.2h.9v.9h-.9zM71.7 435.8h.9v.9h-.9zM68.8 441.9h.9v.9h-.9zM70.9 439.5h.9v.9h-.9zM66.3 436.9h.9v.9h-.9zM68.7 433.9h.9v.9h-.9zM72.1 436.6h.9v.9h-.9zM69.4 433.7h.9v.9h-.9zM65.8 437.2h.9v.9h-.9zM67.8 435.3h.9v.9h-.9zM68.3 435.1h.9v.9h-.9zM70.1 434.8h.9v.9h-.9zM71.5 440.6h.9v.9h-.9zM68.6 434.2h.9v.9h-.9zM67.6 433.9h.9v.9h-.9zM67.7 433.6h.9v.9h-.9zM70.8 440.8h.9v.9h-.9zM68.9 442.7h.9v.9h-.9zM69.6 434.5h.9v.9h-.9zM67.8 442.0h.9v.9h-.9zM66.9 442.2h.9v.9h-.9zM71.5 437.5h.9v.9h-.9zM67.2 435.5h.9v.9h-.9zM65.8 441.3h.9v.9h-.9zM66.2 437.7h.9v.9h-.9zM70.3 434.4h.9v.9h-.9zM67.2 433.3h.9v.9h-.9zM69.3 434.6h.9v.9h-.9zM69.6 433.1h.9v.9h-.9zM71.3 434.8h.9v.9h-.9zM65.9 441.8h.9v.9h-.9zM67.3 434.3h.9v.9h-.9zM66.8 434.2h.9v.9h-.9zM68.6 442.4h.9v.9h-.9zM70.2 434.2h.9v.9h-.9zM66.4 437.7h.9v.9h-.9zM67.4 435.9h.9v.9h-.9zM72.1 435.0h.9v.9h-.9zM69.1 434.0h.9v.9h-.9zM66.6 434.2h.9v.9h-.9zM66.8 433.6h.9v.9h-.9zM69.8 434.3h.9v.9h-.9zM71.1 440.6h.9v.9h-.9zM68.6 434.1h.9v.9h-.9zM69.4 434.5h.9v.9h-.9zM71.1 440.3h.9v.9h-.9zM69.1 432.9h.9v.9h-.9zM67.7 442.2h.9v.9h-.9zM70.8 439.1h.9v.9h-.9zM68.2 435.1h.9v.9h-.9zM66.7 442.4h.9v.9h-.9zM70.4 441.2h.9v.9h-.9zM67.6 442.5h.9v.9h-.9zM71.5 439.6h.9v.9h-.9zM71.1 438.3h.9v.9h-.9zM71.2 440.1h.9v.9h-.9zM72.0 436.5h.9v.9h-.9zM71.3 434.6h.9v.9h-.9zM71.0 437.7h.9v.9h-.9zM68.2 435.3h.9v.9h-.9zM70.8 439.6h.9v.9h-.9zM70.9 437.9h.9v.9h-.9zM71.0 434.4h.9v.9h-.9zM70.7 434.9h.9v.9h-.9zM70.5 441.4h.9v.9h-.9z" fill="#7eae6b" fill-opacity="0.99"/>
<path d="M67.6 440.9h.9v.9h-.9zM65.6 438.1h.9v.9h-.9zM71.5 436.4h.9v.9h-.9zM68.7 437.8h.9v.9h-.9zM67.3 437.3h.9v.9h-.9zM68.7 436.1h.9v.9h-.9zM66.2 439.7h.9v.9h-.9zM69.4 441.7h.9v.9h-.9zM70.5 435.4h.9v.9h-.9zM67.0 437.3h.9v.9h-.9zM68.2 441.6h.9v.9h-.9zM70.5 440.4h.9v.9h-.9zM66.4 440.8h.9v.9h-.9zM71.5 435.7h.9v.9h-.9zM69.5 436.6h.9v.9h-.9zM66.6 440.7h.9v.9h-.9zM66.6 438.9h.9v.9h-.9zM70.4 435.6h.9v.9h-.9zM70.0 437.8h.9v.9h-.9zM66.6 440.4h.9v.9h-.9zM70.1 436.8h.9v.9h-.9zM70.6 435.7h.9v.9h-.9zM67.8 436.5h.9v.9h-.9zM68.9 436.6h.9v.9h-.9zM70.1 436.4h.9v.9h-.9zM65.6 440.2h.9v.9h-.9zM68.2 441.4h.9v.9h-.9zM68.3 441.7h.9v.9h-.9zM69.9 440.5h.9v.9h-.9zM66.9 437.2h.9v.9h-.9zM66.9 437.6h.9v.9h-.9zM70.2 438.5h.9v.9h-.9zM70.0 438.3h.9v.9h-.9zM70.3 436.9h.9v.9h-.9zM71.4 436.3h.9v.9h-.9zM66.3 440.6h.9v.9h-.9zM66.3 439.0h.9v.9h-.9zM68.3 437.8h.9v.9h-.9zM69.7 438.4h.9v.9h-.9zM67.6 436.9h.9v.9h-.9zM70.6 437.6h.9v.9h-.9zM67.8 437.2h.9v.9h-.9zM68.7 441.1h.9v.9h-.9zM68.3 437.3h.9v.9h-.9zM70.3 440.5h.9v.9h-.9zM68.7 436.0h.9v.9h-.9zM65.8 438.0h.9v.9h-.9zM66.5 440.8h.9v.9h-.9zM69.9 437.7h.9v.9h-.9zM67.1 441.0h.9v.9h-.9zM67.4 441.8h.9v.9h-.9zM69.0 437.1h.9v.9h-.9zM70.6 435.4h.9v.9h-.9zM69.7 437.0h.9v.9h-.9zM69.1 436.0h.9v.9h-.9zM70.4 436.5h.9v.9h-.9zM68.2 437.3h.9v.9h-.9zM70.6 438.0h.9v.9h-.9zM68.5 441.9h.9v.9h-.9zM66.4 439.5h.9v.9h-.9zM70.2 440.3h.9v.9h-.9zM67.8 437.6h.9v.9h-.9zM70.5 438.5h.9v.9h-.9zM69.7 438.8h.9v.9h-.9zM71.3 435.7h.9v.9h-.9zM68.9 441.0h.9v.9h-.9zM70.7 436.4h.9v.9h-.9zM70.3 439.6h.9v.9h-.9zM70.4 440.3h.9v.9h-.9zM71.3 435.6h.9v.9h-.9zM69.4 441.7h.9v.9h-.9zM71.5 435.7h.9v.9h-.9zM68.1 441.3h.9v.9h-.9zM69.1 435.2h.9v.9h-.9zM69.9 436.7h.9v.9h-.9zM70.3 439.1h.9v.9h-.9zM71.3 436.8h.9v.9h-.9zM71.0 436.1h.9v.9h-.9zM69.9 438.0h.9v.9h-.9zM70.3 436.4h.9v.9h-.9zM68.1 437.0h.9v.9h-.9zM70.3 436.9h.9v.9h-.9zM70.4 439.4h.9v.9h-.9zM70.2 438.0h.9v.9h-.9z" fill="#9eb754" fill-opacity="1.00"/>
<path d="M66.7 440.5h.9v.9h-.9zM68.0 438.3h.9v.9h-.9zM67.9 440.0h.9v.9h-.9zM67.4 438.9h.9v.9h-.9zM69.4 440.8h.9v.9h-.9zM67.3 438.5h.9v.9h-.9zM67.1 439.4h.9v.9h-.9zM66.9 439.6h.9v.9h-.9zM67.8 438.0h.9v.9h-.9zM67.2 437.9h.9v.9h-.9zM67.6 438.2h.9v.9h-.9zM67.2 438.0h.9v.9h-.9zM67.7 440.4h.9v.9h-.9zM67.8 439.8h.9v.9h-.9zM67.2 438.4h.9v.9h-.9zM68.6 438.9h.9v.9h-.9zM68.5 440.2h.9v.9h-.9zM68.4 440.1h.9v.9h-.9zM66.9 439.0h.9v.9h-.9zM68.3 438.0h.9v.9h-.9zM69.4 439.4h.9v.9h-.9zM67.6 439.5h.9v.9h-.9zM67.8 439.4h.9v.9h-.9zM67.9 440.6h.9v.9h-.9zM67.9 439.6h.9v.9h-.9zM67.9 439.7h.9v.9h-.9zM68.5 438.3h.9v.9h-.9zM66.8 439.7h.9v.9h-.9zM66.9 440.6h.9v.9h-.9zM67.9 440.3h.9v.9h-.9zM67.6 438.8h.9v.9h-.9zM67.1 439.5h.9v.9h-.9zM66.9 438.2h.9v.9h-.9zM69.1 439.1h.9v.9h-.9zM68.1 440.4h.9v.9h-.9zM66.7 439.2h.9v.9h-.9zM69.6 439.0h.9v.9h-.9zM68.0 439.6h.9v.9h-.9zM67.6 438.7h.9v.9h-.9zM68.2 439.9h.9v.9h-.9zM69.5 440.8h.9v.9h-.9z" fill="#b7bc43" fill-opacity="1.00"/>
</g>
<path d="M50.6 381.9H133V463.8" fill="none" stroke="#222" stroke-width="1.4"/>
<rect x="80.5" y="397.5" width="49.9" height="65.1" fill="none" stroke="#1a1a1a" stroke-width="1.3"/>
<line x1="50.6" y1="381.4" x2="50.6" y2="464.5" stroke="#1a1a1a" stroke-width="1.5"/>
<line x1="49.9" y1="463.8" x2="133.7" y2="463.8" stroke="#1a1a1a" stroke-width="1.5"/>
<line x1="47.6" y1="463.8" x2="50.6" y2="463.8" stroke="#1a1a1a" stroke-width="1.1"/>
<text x="44.1" y="466.8" font-size="8.6" fill="#2a2a2a" text-anchor="end" textLength="4.3" lengthAdjust="spacingAndGlyphs">0</text>
<line x1="47.6" y1="447.72" x2="50.6" y2="447.72" stroke="#1a1a1a" stroke-width="1.1"/>
<text x="44.1" y="450.72" font-size="8.6" fill="#2a2a2a" text-anchor="end" textLength="12.9" lengthAdjust="spacingAndGlyphs">200</text>
<line x1="47.6" y1="431.64" x2="50.6" y2="431.64" stroke="#1a1a1a" stroke-width="1.1"/>
<text x="44.1" y="434.64" font-size="8.6" fill="#2a2a2a" text-anchor="end" textLength="12.9" lengthAdjust="spacingAndGlyphs">400</text>
<line x1="47.6" y1="415.56" x2="50.6" y2="415.56" stroke="#1a1a1a" stroke-width="1.1"/>
<text x="44.1" y="418.56" font-size="8.6" fill="#2a2a2a" text-anchor="end" textLength="12.9" lengthAdjust="spacingAndGlyphs">600</text>
<line x1="47.6" y1="399.48" x2="50.6" y2="399.48" stroke="#1a1a1a" stroke-width="1.1"/>
<text x="44.1" y="402.48" font-size="8.6" fill="#2a2a2a" text-anchor="end" textLength="12.9" lengthAdjust="spacingAndGlyphs">800</text>
<line x1="47.6" y1="383.4" x2="50.6" y2="383.4" stroke="#1a1a1a" stroke-width="1.1"/>
<text x="44.1" y="386.4" font-size="8.6" fill="#2a2a2a" text-anchor="end" textLength="16.2" lengthAdjust="spacingAndGlyphs">1.0K</text>
<line x1="49" y1="459.78" x2="50.6" y2="459.78" stroke="#1a1a1a" stroke-width="0.9"/>
<line x1="49" y1="455.76" x2="50.6" y2="455.76" stroke="#1a1a1a" stroke-width="0.9"/>
<line x1="49" y1="451.74" x2="50.6" y2="451.74" stroke="#1a1a1a" stroke-width="0.9"/>
<line x1="49" y1="443.7" x2="50.6" y2="443.7" stroke="#1a1a1a" stroke-width="0.9"/>
<line x1="49" y1="439.68" x2="50.6" y2="439.68" stroke="#1a1a1a" stroke-width="0.9"/>
<line x1="49" y1="435.66" x2="50.6" y2="435.66" stroke="#1a1a1a" stroke-width="0.9"/>
<line x1="49" y1="427.62" x2="50.6" y2="427.62" stroke="#1a1a1a" stroke-width="0.9"/>
<line x1="49" y1="423.6" x2="50.6" y2="423.6" stroke="#1a1a1a" stroke-width="0.9"/>
<line x1="49" y1="419.58" x2="50.6" y2="419.58" stroke="#1a1a1a" stroke-width="0.9"/>
<line x1="49" y1="411.54" x2="50.6" y2="411.54" stroke="#1a1a1a" stroke-width="0.9"/>
<line x1="49" y1="407.52" x2="50.6" y2="407.52" stroke="#1a1a1a" stroke-width="0.9"/>
<line x1="49" y1="403.5" x2="50.6" y2="403.5" stroke="#1a1a1a" stroke-width="0.9"/>
<line x1="49" y1="395.46" x2="50.6" y2="395.46" stroke="#1a1a1a" stroke-width="0.9"/>
<line x1="49" y1="391.44" x2="50.6" y2="391.44" stroke="#1a1a1a" stroke-width="0.9"/>
<line x1="49" y1="387.42" x2="50.6" y2="387.42" stroke="#1a1a1a" stroke-width="0.9"/>
<line x1="50.6" y1="463.8" x2="50.6" y2="466.8" stroke="#1a1a1a" stroke-width="1.1"/>
<text x="53.6" y="477" font-size="8.6" fill="#2a2a2a" text-anchor="end" textLength="8.6" lengthAdjust="spacingAndGlyphs">10</text>
<text x="53.9" y="473.4" font-size="6" fill="#2a2a2a">0</text>
<line x1="56.8" y1="463.8" x2="56.8" y2="465.5" stroke="#1a1a1a" stroke-width="0.8"/>
<line x1="60.43" y1="463.8" x2="60.43" y2="465.5" stroke="#1a1a1a" stroke-width="0.8"/>
<line x1="63" y1="463.8" x2="63" y2="465.5" stroke="#1a1a1a" stroke-width="0.8"/>
<line x1="65" y1="463.8" x2="65" y2="465.5" stroke="#1a1a1a" stroke-width="0.8"/>
<line x1="66.63" y1="463.8" x2="66.63" y2="465.5" stroke="#1a1a1a" stroke-width="0.8"/>
<line x1="68.01" y1="463.8" x2="68.01" y2="465.5" stroke="#1a1a1a" stroke-width="0.8"/>
<line x1="69.2" y1="463.8" x2="69.2" y2="465.5" stroke="#1a1a1a" stroke-width="0.8"/>
<line x1="70.26" y1="463.8" x2="70.26" y2="465.5" stroke="#1a1a1a" stroke-width="0.8"/>
<line x1="71.2" y1="463.8" x2="71.2" y2="466.8" stroke="#1a1a1a" stroke-width="1.1"/>
<text x="74.2" y="477" font-size="8.6" fill="#2a2a2a" text-anchor="end" textLength="8.6" lengthAdjust="spacingAndGlyphs">10</text>
<text x="74.5" y="473.4" font-size="6" fill="#2a2a2a">1</text>
<line x1="77.4" y1="463.8" x2="77.4" y2="465.5" stroke="#1a1a1a" stroke-width="0.8"/>
<line x1="81.03" y1="463.8" x2="81.03" y2="465.5" stroke="#1a1a1a" stroke-width="0.8"/>
<line x1="83.6" y1="463.8" x2="83.6" y2="465.5" stroke="#1a1a1a" stroke-width="0.8"/>
<line x1="85.6" y1="463.8" x2="85.6" y2="465.5" stroke="#1a1a1a" stroke-width="0.8"/>
<line x1="87.23" y1="463.8" x2="87.23" y2="465.5" stroke="#1a1a1a" stroke-width="0.8"/>
<line x1="88.61" y1="463.8" x2="88.61" y2="465.5" stroke="#1a1a1a" stroke-width="0.8"/>
<line x1="89.8" y1="463.8" x2="89.8" y2="465.5" stroke="#1a1a1a" stroke-width="0.8"/>
<line x1="90.86" y1="463.8" x2="90.86" y2="465.5" stroke="#1a1a1a" stroke-width="0.8"/>
<line x1="91.8" y1="463.8" x2="91.8" y2="466.8" stroke="#1a1a1a" stroke-width="1.1"/>
<text x="94.8" y="477" font-size="8.6" fill="#2a2a2a" text-anchor="end" textLength="8.6" lengthAdjust="spacingAndGlyphs">10</text>
<text x="95.1" y="473.4" font-size="6" fill="#2a2a2a">2</text>
<line x1="98" y1="463.8" x2="98" y2="465.5" stroke="#1a1a1a" stroke-width="0.8"/>
<line x1="101.63" y1="463.8" x2="101.63" y2="465.5" stroke="#1a1a1a" stroke-width="0.8"/>
<line x1="104.2" y1="463.8" x2="104.2" y2="465.5" stroke="#1a1a1a" stroke-width="0.8"/>
<line x1="106.2" y1="463.8" x2="106.2" y2="465.5" stroke="#1a1a1a" stroke-width="0.8"/>
<line x1="107.83" y1="463.8" x2="107.83" y2="465.5" stroke="#1a1a1a" stroke-width="0.8"/>
<line x1="109.21" y1="463.8" x2="109.21" y2="465.5" stroke="#1a1a1a" stroke-width="0.8"/>
<line x1="110.4" y1="463.8" x2="110.4" y2="465.5" stroke="#1a1a1a" stroke-width="0.8"/>
<line x1="111.46" y1="463.8" x2="111.46" y2="465.5" stroke="#1a1a1a" stroke-width="0.8"/>
<line x1="112.4" y1="463.8" x2="112.4" y2="466.8" stroke="#1a1a1a" stroke-width="1.1"/>
<text x="115.4" y="477" font-size="8.6" fill="#2a2a2a" text-anchor="end" textLength="8.6" lengthAdjust="spacingAndGlyphs">10</text>
<text x="115.7" y="473.4" font-size="6" fill="#2a2a2a">3</text>
<line x1="118.6" y1="463.8" x2="118.6" y2="465.5" stroke="#1a1a1a" stroke-width="0.8"/>
<line x1="122.23" y1="463.8" x2="122.23" y2="465.5" stroke="#1a1a1a" stroke-width="0.8"/>
<line x1="124.8" y1="463.8" x2="124.8" y2="465.5" stroke="#1a1a1a" stroke-width="0.8"/>
<line x1="126.8" y1="463.8" x2="126.8" y2="465.5" stroke="#1a1a1a" stroke-width="0.8"/>
<line x1="128.43" y1="463.8" x2="128.43" y2="465.5" stroke="#1a1a1a" stroke-width="0.8"/>
<line x1="129.81" y1="463.8" x2="129.81" y2="465.5" stroke="#1a1a1a" stroke-width="0.8"/>
<line x1="131" y1="463.8" x2="131" y2="465.5" stroke="#1a1a1a" stroke-width="0.8"/>
<line x1="132.06" y1="463.8" x2="132.06" y2="465.5" stroke="#1a1a1a" stroke-width="0.8"/>
<line x1="133" y1="463.8" x2="133" y2="466.8" stroke="#1a1a1a" stroke-width="1.1"/>
<text x="136" y="477" font-size="8.6" fill="#2a2a2a" text-anchor="end" textLength="8.6" lengthAdjust="spacingAndGlyphs">10</text>
<text x="136.3" y="473.4" font-size="6" fill="#2a2a2a">4</text>
<text x="91.8" y="376.7" font-size="10.4" fill="#2a2a2a" text-anchor="middle">ctr</text>
<text x="105.45" y="393.7" font-size="8" fill="#2a2a2a" text-anchor="middle">3.5±0.5%</text>
<g>
<path d="M192.0 457.8h.9v.9h-.9zM197.3 415.1h.9v.9h-.9zM175.8 431.6h.9v.9h-.9zM179.0 456.8h.9v.9h-.9zM210.0 457.4h.9v.9h-.9zM179.4 458.7h.9v.9h-.9zM177.3 432.1h.9v.9h-.9zM198.7 455.2h.9v.9h-.9zM174.9 437.4h.9v.9h-.9zM178.0 452.5h.9v.9h-.9zM184.0 457.0h.9v.9h-.9zM188.2 458.2h.9v.9h-.9zM191.3 458.2h.9v.9h-.9zM200.2 458.7h.9v.9h-.9zM177.5 431.8h.9v.9h-.9zM175.5 429.5h.9v.9h-.9zM180.4 454.8h.9v.9h-.9zM177.0 447.3h.9v.9h-.9zM197.3 458.1h.9v.9h-.9zM176.7 434.0h.9v.9h-.9zM180.2 454.8h.9v.9h-.9zM197.8 419.2h.9v.9h-.9zM209.9 458.6h.9v.9h-.9zM210.6 422.7h.9v.9h-.9zM218.9 422.3h.9v.9h-.9zM218.3 415.5h.9v.9h-.9zM217.5 418.4h.9v.9h-.9zM220.9 421.9h.9v.9h-.9zM181.9 458.0h.9v.9h-.9zM181.4 421.4h.9v.9h-.9zM195.2 458.3h.9v.9h-.9zM249.5 455.9h.9v.9h-.9zM184.8 463.6h.9v.9h-.9zM185.1 414.6h.9v.9h-.9zM235.9 414.2h.9v.9h-.9zM229.9 418.0h.9v.9h-.9zM247.1 462.0h.9v.9h-.9zM227.3 460.4h.9v.9h-.9zM240.2 414.6h.9v.9h-.9zM249.0 417.1h.9v.9h-.9zM240.8 416.9h.9v.9h-.9zM204.3 409.0h.9v.9h-.9zM198.7 456.7h.9v.9h-.9zM252.6 450.1h.9v.9h-.9zM249.9 456.1h.9v.9h-.9zM248.3 453.9h.9v.9h-.9zM220.6 459.4h.9v.9h-.9zM195.5 418.5h.9v.9h-.9zM222.4 456.8h.9v.9h-.9zM181.9 453.7h.9v.9h-.9zM193.5 416.6h.9v.9h-.9zM234.4 459.7h.9v.9h-.9zM238.6 454.2h.9v.9h-.9zM188.6 462.9h.9v.9h-.9zM206.9 459.1h.9v.9h-.9zM219.5 462.6h.9v.9h-.9zM194.9 457.1h.9v.9h-.9zM198.7 415.9h.9v.9h-.9zM205.7 457.6h.9v.9h-.9zM252.9 421.8h.9v.9h-.9zM205.7 414.1h.9v.9h-.9zM209.4 458.2h.9v.9h-.9zM249.8 418.8h.9v.9h-.9zM251.4 459.1h.9v.9h-.9zM182.7 417.7h.9v.9h-.9zM245.1 456.8h.9v.9h-.9zM180.4 422.0h.9v.9h-.9zM224.8 414.5h.9v.9h-.9zM215.5 457.1h.9v.9h-.9zM225.8 416.5h.9v.9h-.9zM233.5 419.2h.9v.9h-.9zM241.6 454.6h.9v.9h-.9zM189.1 462.6h.9v.9h-.9zM193.5 415.1h.9v.9h-.9zM194.2 457.9h.9v.9h-.9zM206.0 421.4h.9v.9h-.9zM209.6 421.5h.9v.9h-.9zM220.6 415.3h.9v.9h-.9zM200.5 416.1h.9v.9h-.9zM212.1 415.1h.9v.9h-.9zM218.4 417.9h.9v.9h-.9zM248.2 415.5h.9v.9h-.9zM226.1 458.8h.9v.9h-.9zM208.9 455.9h.9v.9h-.9zM215.5 458.0h.9v.9h-.9zM243.8 418.3h.9v.9h-.9zM225.9 420.0h.9v.9h-.9zM198.8 410.5h.9v.9h-.9zM245.8 455.9h.9v.9h-.9zM246.3 454.5h.9v.9h-.9zM245.3 462.3h.9v.9h-.9zM242.9 418.4h.9v.9h-.9zM181.2 456.2h.9v.9h-.9zM226.6 422.4h.9v.9h-.9zM239.5 418.1h.9v.9h-.9zM221.8 410.9h.9v.9h-.9zM246.3 421.4h.9v.9h-.9zM249.7 413.8h.9v.9h-.9zM223.5 414.7h.9v.9h-.9zM222.9 461.7h.9v.9h-.9zM251.3 461.2h.9v.9h-.9zM246.4 459.5h.9v.9h-.9zM209.2 424.2h.9v.9h-.9zM200.1 421.4h.9v.9h-.9zM192.7 406.2h.9v.9h-.9zM200.2 463.5h.9v.9h-.9zM198.4 421.0h.9v.9h-.9zM231.2 417.8h.9v.9h-.9zM208.8 420.1h.9v.9h-.9zM217.7 421.6h.9v.9h-.9zM203.0 421.0h.9v.9h-.9zM236.1 411.4h.9v.9h-.9zM252.6 427.5h.9v.9h-.9zM240.1 457.1h.9v.9h-.9zM251.8 420.0h.9v.9h-.9zM229.9 405.0h.9v.9h-.9zM238.7 459.9h.9v.9h-.9zM189.8 412.6h.9v.9h-.9zM185.7 412.8h.9v.9h-.9zM194.7 421.4h.9v.9h-.9zM212.3 424.1h.9v.9h-.9zM195.7 417.8h.9v.9h-.9zM193.3 458.9h.9v.9h-.9zM228.8 419.2h.9v.9h-.9zM207.4 420.5h.9v.9h-.9zM247.1 417.2h.9v.9h-.9zM244.1 461.0h.9v.9h-.9zM245.4 456.2h.9v.9h-.9zM189.5 415.0h.9v.9h-.9zM200.8 454.8h.9v.9h-.9zM215.6 419.7h.9v.9h-.9zM244.6 416.3h.9v.9h-.9zM236.8 417.7h.9v.9h-.9zM244.2 418.7h.9v.9h-.9zM238.5 405.6h.9v.9h-.9zM252.3 452.7h.9v.9h-.9zM244.8 463.0h.9v.9h-.9zM223.3 420.0h.9v.9h-.9zM185.9 418.6h.9v.9h-.9zM241.5 455.9h.9v.9h-.9zM221.5 455.9h.9v.9h-.9zM196.1 413.6h.9v.9h-.9zM223.1 419.7h.9v.9h-.9zM216.9 453.5h.9v.9h-.9zM248.1 416.1h.9v.9h-.9zM194.3 417.9h.9v.9h-.9zM203.1 461.5h.9v.9h-.9zM223.4 455.0h.9v.9h-.9zM239.0 458.5h.9v.9h-.9zM182.2 456.7h.9v.9h-.9zM183.5 461.7h.9v.9h-.9zM216.8 457.0h.9v.9h-.9zM251.8 458.8h.9v.9h-.9zM225.3 456.7h.9v.9h-.9zM210.8 417.7h.9v.9h-.9zM187.1 459.0h.9v.9h-.9zM195.8 418.4h.9v.9h-.9zM197.5 421.3h.9v.9h-.9zM212.6 459.0h.9v.9h-.9zM253.0 425.0h.9v.9h-.9zM183.9 461.0h.9v.9h-.9zM223.9 455.4h.9v.9h-.9zM230.4 417.7h.9v.9h-.9zM182.3 417.6h.9v.9h-.9zM239.8 460.3h.9v.9h-.9zM230.5 459.3h.9v.9h-.9zM199.3 415.3h.9v.9h-.9zM180.9 409.9h.9v.9h-.9zM202.3 460.0h.9v.9h-.9zM234.6 413.4h.9v.9h-.9zM244.0 456.5h.9v.9h-.9zM220.6 462.8h.9v.9h-.9zM248.8 419.5h.9v.9h-.9zM229.7 463.8h.9v.9h-.9zM244.8 417.7h.9v.9h-.9zM183.6 457.2h.9v.9h-.9zM251.8 456.4h.9v.9h-.9zM184.3 411.4h.9v.9h-.9zM229.6 415.8h.9v.9h-.9zM231.5 417.1h.9v.9h-.9zM251.2 414.3h.9v.9h-.9zM246.1 417.6h.9v.9h-.9zM203.6 419.5h.9v.9h-.9zM245.8 415.6h.9v.9h-.9zM212.0 415.6h.9v.9h-.9zM250.6 419.6h.9v.9h-.9zM228.6 459.3h.9v.9h-.9zM208.0 455.1h.9v.9h-.9zM251.2 461.0h.9v.9h-.9zM189.2 416.9h.9v.9h-.9zM204.6 458.0h.9v.9h-.9zM210.7 455.6h.9v.9h-.9zM197.5 411.4h.9v.9h-.9zM228.0 409.4h.9v.9h-.9zM216.4 460.5h.9v.9h-.9zM200.9 460.9h.9v.9h-.9zM177.2 442.6h.9v.9h-.9zM238.8 454.9h.9v.9h-.9zM224.8 460.5h.9v.9h-.9zM189.9 459.8h.9v.9h-.9zM225.2 424.3h.9v.9h-.9zM215.1 421.2h.9v.9h-.9zM223.1 419.1h.9v.9h-.9zM198.1 421.6h.9v.9h-.9zM212.9 418.0h.9v.9h-.9zM238.3 456.6h.9v.9h-.9zM222.3 452.7h.9v.9h-.9zM175.5 446.8h.9v.9h-.9zM175.3 437.0h.9v.9h-.9zM238.8 419.1h.9v.9h-.9zM222.0 414.7h.9v.9h-.9zM174.8 443.5h.9v.9h-.9zM177.2 450.6h.9v.9h-.9zM216.3 460.3h.9v.9h-.9zM222.7 422.5h.9v.9h-.9zM186.2 461.7h.9v.9h-.9zM214.1 460.5h.9v.9h-.9zM176.9 430.0h.9v.9h-.9zM183.1 417.2h.9v.9h-.9zM205.3 458.1h.9v.9h-.9zM211.4 457.9h.9v.9h-.9zM211.2 459.5h.9v.9h-.9zM221.0 419.9h.9v.9h-.9zM195.9 414.8h.9v.9h-.9zM247.8 408.7h.9v.9h-.9zM215.7 419.6h.9v.9h-.9zM200.4 455.7h.9v.9h-.9zM236.0 459.0h.9v.9h-.9zM252.6 420.6h.9v.9h-.9zM196.0 460.8h.9v.9h-.9zM223.8 463.3h.9v.9h-.9zM245.0 418.7h.9v.9h-.9zM176.9 442.3h.9v.9h-.9zM203.8 457.1h.9v.9h-.9zM237.8 459.3h.9v.9h-.9zM237.6 417.2h.9v.9h-.9z" fill="#9197b8" fill-opacity="0.42"/>
<path d="M178.9 445.7h.9v.9h-.9zM202.1 424.7h.9v.9h-.9zM187.1 454.5h.9v.9h-.9zM200.2 425.6h.9v.9h-.9zM208.0 426.2h.9v.9h-.9zM178.1 441.1h.9v.9h-.9zM177.7 434.7h.9v.9h-.9zM183.3 424.1h.9v.9h-.9zM204.9 451.3h.9v.9h-.9zM188.9 456.0h.9v.9h-.9zM191.0 454.8h.9v.9h-.9zM197.9 455.1h.9v.9h-.9zM180.5 448.5h.9v.9h-.9zM183.0 422.7h.9v.9h-.9zM186.3 420.9h.9v.9h-.9zM184.5 454.2h.9v.9h-.9zM200.6 421.6h.9v.9h-.9zM182.2 451.5h.9v.9h-.9zM186.9 421.9h.9v.9h-.9zM208.4 453.3h.9v.9h-.9zM190.9 419.2h.9v.9h-.9zM197.3 454.5h.9v.9h-.9zM181.9 449.8h.9v.9h-.9zM181.1 424.8h.9v.9h-.9zM190.9 454.9h.9v.9h-.9zM190.5 420.5h.9v.9h-.9zM207.9 425.0h.9v.9h-.9zM196.4 423.3h.9v.9h-.9zM177.8 440.0h.9v.9h-.9zM186.1 454.7h.9v.9h-.9zM177.8 444.0h.9v.9h-.9zM210.0 451.9h.9v.9h-.9zM204.8 451.5h.9v.9h-.9zM179.0 432.9h.9v.9h-.9zM179.0 443.9h.9v.9h-.9zM197.1 424.1h.9v.9h-.9zM194.8 422.4h.9v.9h-.9zM177.9 437.7h.9v.9h-.9zM185.0 426.3h.9v.9h-.9zM252.9 441.6h.9v.9h-.9zM236.4 420.6h.9v.9h-.9zM245.4 429.1h.9v.9h-.9zM252.8 433.4h.9v.9h-.9zM193.5 420.5h.9v.9h-.9zM233.8 424.8h.9v.9h-.9zM223.8 452.6h.9v.9h-.9zM189.8 455.8h.9v.9h-.9zM251.5 426.5h.9v.9h-.9zM198.6 423.8h.9v.9h-.9zM215.5 453.7h.9v.9h-.9zM185.5 421.6h.9v.9h-.9zM229.6 455.7h.9v.9h-.9zM242.7 427.5h.9v.9h-.9zM208.3 452.3h.9v.9h-.9zM237.7 450.9h.9v.9h-.9zM240.1 421.7h.9v.9h-.9zM192.7 456.6h.9v.9h-.9zM240.6 454.4h.9v.9h-.9zM214.3 451.3h.9v.9h-.9zM207.6 424.7h.9v.9h-.9zM229.0 449.9h.9v.9h-.9zM204.3 425.3h.9v.9h-.9zM204.1 454.5h.9v.9h-.9zM246.1 425.1h.9v.9h-.9zM230.4 423.2h.9v.9h-.9zM180.4 427.8h.9v.9h-.9zM238.0 423.4h.9v.9h-.9zM209.3 450.4h.9v.9h-.9zM231.5 451.5h.9v.9h-.9zM230.9 422.2h.9v.9h-.9zM229.5 423.4h.9v.9h-.9zM183.4 454.7h.9v.9h-.9zM242.4 453.7h.9v.9h-.9zM238.3 423.7h.9v.9h-.9zM252.9 443.8h.9v.9h-.9zM251.4 426.1h.9v.9h-.9zM206.1 450.7h.9v.9h-.9zM250.1 426.8h.9v.9h-.9zM246.4 428.6h.9v.9h-.9zM241.5 450.1h.9v.9h-.9zM186.9 420.2h.9v.9h-.9zM204.5 422.0h.9v.9h-.9zM218.1 424.4h.9v.9h-.9zM232.1 420.6h.9v.9h-.9zM203.8 455.5h.9v.9h-.9zM210.5 453.0h.9v.9h-.9zM233.3 451.8h.9v.9h-.9zM228.7 452.5h.9v.9h-.9zM206.3 424.6h.9v.9h-.9zM243.8 451.1h.9v.9h-.9zM235.3 421.7h.9v.9h-.9zM243.8 424.0h.9v.9h-.9zM234.7 455.3h.9v.9h-.9zM244.7 427.4h.9v.9h-.9zM217.0 450.1h.9v.9h-.9zM218.3 451.6h.9v.9h-.9zM252.8 443.3h.9v.9h-.9zM240.9 428.6h.9v.9h-.9zM180.3 446.6h.9v.9h-.9zM214.1 423.1h.9v.9h-.9zM233.6 456.4h.9v.9h-.9zM190.2 418.3h.9v.9h-.9zM180.8 449.2h.9v.9h-.9zM211.5 453.6h.9v.9h-.9zM226.0 425.0h.9v.9h-.9zM248.9 425.2h.9v.9h-.9zM188.4 454.2h.9v.9h-.9zM231.0 451.1h.9v.9h-.9zM183.3 450.7h.9v.9h-.9zM237.8 421.6h.9v.9h-.9zM191.3 418.7h.9v.9h-.9zM223.4 451.9h.9v.9h-.9zM248.8 425.2h.9v.9h-.9zM180.9 452.3h.9v.9h-.9zM243.1 422.2h.9v.9h-.9zM231.6 419.8h.9v.9h-.9zM233.4 455.8h.9v.9h-.9zM203.7 423.2h.9v.9h-.9zM187.1 456.1h.9v.9h-.9zM207.0 426.1h.9v.9h-.9zM234.7 452.9h.9v.9h-.9zM225.7 452.8h.9v.9h-.9zM180.2 427.3h.9v.9h-.9zM246.2 424.8h.9v.9h-.9zM215.1 453.5h.9v.9h-.9zM234.7 423.0h.9v.9h-.9zM252.7 444.1h.9v.9h-.9zM180.6 449.8h.9v.9h-.9zM228.9 451.2h.9v.9h-.9zM242.7 423.6h.9v.9h-.9zM235.1 451.1h.9v.9h-.9zM182.8 421.7h.9v.9h-.9zM208.1 449.8h.9v.9h-.9zM209.8 451.7h.9v.9h-.9zM246.9 451.9h.9v.9h-.9zM223.1 425.3h.9v.9h-.9zM189.3 423.3h.9v.9h-.9zM243.8 427.6h.9v.9h-.9zM223.7 427.5h.9v.9h-.9zM235.3 454.0h.9v.9h-.9zM246.7 427.9h.9v.9h-.9zM185.5 424.8h.9v.9h-.9zM238.0 423.1h.9v.9h-.9zM229.2 456.2h.9v.9h-.9zM252.6 435.0h.9v.9h-.9zM236.1 450.0h.9v.9h-.9zM249.0 424.7h.9v.9h-.9zM219.3 450.8h.9v.9h-.9zM245.0 422.8h.9v.9h-.9zM192.0 417.7h.9v.9h-.9zM236.8 423.6h.9v.9h-.9zM184.9 422.8h.9v.9h-.9zM242.0 422.1h.9v.9h-.9zM228.2 454.7h.9v.9h-.9zM238.3 422.4h.9v.9h-.9zM205.7 456.5h.9v.9h-.9zM252.9 445.0h.9v.9h-.9zM206.0 424.5h.9v.9h-.9zM232.3 420.2h.9v.9h-.9zM180.6 425.3h.9v.9h-.9zM247.3 452.2h.9v.9h-.9zM233.4 425.4h.9v.9h-.9zM228.8 458.2h.9v.9h-.9zM231.6 454.7h.9v.9h-.9zM196.4 455.5h.9v.9h-.9zM215.2 423.5h.9v.9h-.9zM252.4 421.5h.9v.9h-.9zM212.4 425.8h.9v.9h-.9zM198.5 423.4h.9v.9h-.9zM221.7 424.5h.9v.9h-.9zM247.6 422.7h.9v.9h-.9zM249.2 421.7h.9v.9h-.9zM235.6 426.6h.9v.9h-.9zM233.4 424.8h.9v.9h-.9zM236.4 456.5h.9v.9h-.9zM236.5 450.1h.9v.9h-.9zM201.5 426.3h.9v.9h-.9zM202.1 423.3h.9v.9h-.9zM238.2 425.2h.9v.9h-.9zM187.2 419.2h.9v.9h-.9zM180.4 425.7h.9v.9h-.9zM241.5 423.8h.9v.9h-.9zM240.8 450.4h.9v.9h-.9zM205.9 451.5h.9v.9h-.9zM187.4 420.3h.9v.9h-.9zM190.1 417.9h.9v.9h-.9zM226.1 426.4h.9v.9h-.9zM232.2 425.2h.9v.9h-.9zM251.9 422.1h.9v.9h-.9zM202.7 423.8h.9v.9h-.9zM252.2 448.6h.9v.9h-.9zM239.6 425.8h.9v.9h-.9zM230.9 451.7h.9v.9h-.9zM239.3 420.0h.9v.9h-.9zM239.9 452.2h.9v.9h-.9zM184.7 422.1h.9v.9h-.9zM214.4 424.1h.9v.9h-.9zM180.4 450.2h.9v.9h-.9zM180.1 425.7h.9v.9h-.9zM235.0 426.1h.9v.9h-.9zM222.3 451.4h.9v.9h-.9zM239.7 424.3h.9v.9h-.9zM224.3 426.4h.9v.9h-.9zM241.1 451.7h.9v.9h-.9zM232.8 424.7h.9v.9h-.9zM201.0 421.9h.9v.9h-.9zM242.4 427.4h.9v.9h-.9zM202.8 422.0h.9v.9h-.9zM181.4 423.0h.9v.9h-.9zM235.5 454.7h.9v.9h-.9zM249.4 422.3h.9v.9h-.9zM229.3 425.4h.9v.9h-.9zM182.8 450.7h.9v.9h-.9zM213.2 424.7h.9v.9h-.9zM240.5 425.2h.9v.9h-.9zM249.5 452.0h.9v.9h-.9zM209.7 451.6h.9v.9h-.9zM234.4 454.3h.9v.9h-.9zM228.8 422.2h.9v.9h-.9zM252.2 427.6h.9v.9h-.9zM200.2 423.1h.9v.9h-.9zM251.2 453.5h.9v.9h-.9zM242.2 422.6h.9v.9h-.9zM232.2 424.2h.9v.9h-.9zM190.5 423.5h.9v.9h-.9zM239.3 428.1h.9v.9h-.9zM250.8 428.3h.9v.9h-.9zM247.4 424.6h.9v.9h-.9zM183.1 453.5h.9v.9h-.9zM220.6 423.0h.9v.9h-.9zM221.4 423.4h.9v.9h-.9zM239.3 424.2h.9v.9h-.9zM252.8 432.8h.9v.9h-.9zM235.3 419.9h.9v.9h-.9zM243.9 425.2h.9v.9h-.9zM232.6 450.9h.9v.9h-.9zM212.0 426.7h.9v.9h-.9zM242.7 422.8h.9v.9h-.9zM229.6 456.7h.9v.9h-.9zM247.3 427.3h.9v.9h-.9zM240.5 425.4h.9v.9h-.9zM250.9 428.4h.9v.9h-.9zM237.1 451.6h.9v.9h-.9zM184.0 454.6h.9v.9h-.9zM190.8 455.9h.9v.9h-.9zM216.3 423.3h.9v.9h-.9zM248.9 452.2h.9v.9h-.9zM248.9 422.1h.9v.9h-.9zM235.0 423.4h.9v.9h-.9zM225.5 453.2h.9v.9h-.9zM180.8 447.3h.9v.9h-.9zM214.4 427.5h.9v.9h-.9zM244.4 452.5h.9v.9h-.9zM229.5 422.3h.9v.9h-.9zM232.6 456.6h.9v.9h-.9zM220.8 450.8h.9v.9h-.9zM251.2 425.1h.9v.9h-.9zM237.1 426.5h.9v.9h-.9zM234.5 454.5h.9v.9h-.9zM188.9 420.0h.9v.9h-.9zM229.8 456.1h.9v.9h-.9zM226.9 456.2h.9v.9h-.9zM205.9 453.7h.9v.9h-.9zM234.9 422.0h.9v.9h-.9zM213.7 451.6h.9v.9h-.9zM241.9 452.8h.9v.9h-.9zM216.6 450.2h.9v.9h-.9zM251.0 453.5h.9v.9h-.9zM187.2 424.5h.9v.9h-.9zM182.4 423.2h.9v.9h-.9zM183.5 454.0h.9v.9h-.9zM184.9 419.7h.9v.9h-.9zM192.5 421.1h.9v.9h-.9zM192.1 421.9h.9v.9h-.9zM181.2 448.2h.9v.9h-.9zM243.0 429.3h.9v.9h-.9zM226.0 453.5h.9v.9h-.9zM241.3 425.9h.9v.9h-.9zM189.1 455.1h.9v.9h-.9zM214.3 451.5h.9v.9h-.9zM231.7 451.4h.9v.9h-.9zM248.9 451.8h.9v.9h-.9zM229.0 455.9h.9v.9h-.9zM214.4 453.6h.9v.9h-.9zM185.9 423.1h.9v.9h-.9zM184.4 421.0h.9v.9h-.9zM243.9 429.6h.9v.9h-.9zM221.4 425.3h.9v.9h-.9zM228.6 458.2h.9v.9h-.9zM220.5 424.0h.9v.9h-.9zM203.4 455.1h.9v.9h-.9zM186.7 456.0h.9v.9h-.9zM238.0 452.2h.9v.9h-.9zM234.5 425.5h.9v.9h-.9zM248.8 452.2h.9v.9h-.9zM204.0 424.3h.9v.9h-.9zM188.2 421.4h.9v.9h-.9zM210.0 449.4h.9v.9h-.9zM247.6 424.3h.9v.9h-.9zM186.6 424.2h.9v.9h-.9zM182.3 449.6h.9v.9h-.9zM211.3 427.0h.9v.9h-.9zM208.4 427.5h.9v.9h-.9zM187.5 456.7h.9v.9h-.9zM203.5 455.4h.9v.9h-.9zM233.9 456.2h.9v.9h-.9zM214.8 451.9h.9v.9h-.9zM237.3 420.8h.9v.9h-.9zM228.6 452.6h.9v.9h-.9zM230.8 454.6h.9v.9h-.9zM252.4 427.1h.9v.9h-.9zM231.9 453.1h.9v.9h-.9zM227.2 456.0h.9v.9h-.9zM228.1 422.5h.9v.9h-.9zM206.7 452.8h.9v.9h-.9zM241.2 425.8h.9v.9h-.9zM206.4 424.8h.9v.9h-.9zM239.7 427.1h.9v.9h-.9zM226.9 453.7h.9v.9h-.9zM241.9 425.6h.9v.9h-.9zM202.6 422.3h.9v.9h-.9zM247.1 426.6h.9v.9h-.9zM206.3 425.0h.9v.9h-.9zM251.5 450.0h.9v.9h-.9zM250.9 451.7h.9v.9h-.9zM236.6 427.3h.9v.9h-.9zM236.3 452.2h.9v.9h-.9zM236.2 420.5h.9v.9h-.9zM186.3 456.3h.9v.9h-.9zM250.4 422.7h.9v.9h-.9zM245.6 451.3h.9v.9h-.9zM213.8 449.9h.9v.9h-.9zM238.0 421.6h.9v.9h-.9zM251.6 423.4h.9v.9h-.9zM211.4 426.6h.9v.9h-.9zM185.2 425.9h.9v.9h-.9zM204.4 426.8h.9v.9h-.9zM252.2 422.0h.9v.9h-.9zM228.2 452.9h.9v.9h-.9zM192.8 455.1h.9v.9h-.9zM189.3 420.5h.9v.9h-.9zM246.6 422.9h.9v.9h-.9zM181.0 423.5h.9v.9h-.9zM213.2 450.4h.9v.9h-.9zM246.4 425.0h.9v.9h-.9zM234.8 454.2h.9v.9h-.9zM184.2 421.1h.9v.9h-.9zM244.9 423.8h.9v.9h-.9zM235.9 426.0h.9v.9h-.9zM252.9 445.5h.9v.9h-.9zM190.9 419.3h.9v.9h-.9zM218.8 425.4h.9v.9h-.9zM232.0 425.1h.9v.9h-.9zM211.2 453.5h.9v.9h-.9zM231.5 421.3h.9v.9h-.9zM180.4 449.9h.9v.9h-.9zM224.2 450.9h.9v.9h-.9zM207.0 451.2h.9v.9h-.9zM206.0 421.9h.9v.9h-.9zM206.0 423.7h.9v.9h-.9zM254.1 436.8h.9v.9h-.9zM204.7 454.7h.9v.9h-.9zM199.1 454.5h.9v.9h-.9zM226.3 423.6h.9v.9h-.9zM231.0 456.6h.9v.9h-.9zM191.9 455.1h.9v.9h-.9zM185.3 421.6h.9v.9h-.9zM225.5 426.4h.9v.9h-.9zM215.5 423.9h.9v.9h-.9zM219.0 450.9h.9v.9h-.9zM234.8 456.1h.9v.9h-.9zM235.1 423.7h.9v.9h-.9zM213.8 423.0h.9v.9h-.9zM205.5 457.5h.9v.9h-.9zM228.9 455.0h.9v.9h-.9zM240.7 427.1h.9v.9h-.9zM185.2 424.7h.9v.9h-.9zM246.5 452.9h.9v.9h-.9zM190.8 456.8h.9v.9h-.9zM209.1 453.4h.9v.9h-.9zM222.4 452.4h.9v.9h-.9zM205.6 451.1h.9v.9h-.9zM210.5 424.9h.9v.9h-.9zM209.6 455.7h.9v.9h-.9zM229.3 421.9h.9v.9h-.9zM205.3 425.4h.9v.9h-.9zM230.2 453.8h.9v.9h-.9zM230.6 450.8h.9v.9h-.9zM226.2 453.2h.9v.9h-.9zM214.8 453.8h.9v.9h-.9zM188.9 421.0h.9v.9h-.9zM237.5 427.2h.9v.9h-.9z" fill="#888eb0" fill-opacity="0.47"/>
<path d="M191.3 451.7h.9v.9h-.9zM190.7 452.4h.9v.9h-.9zM192.2 452.5h.9v.9h-.9zM185.4 450.6h.9v.9h-.9zM196.0 424.3h.9v.9h-.9zM183.4 425.4h.9v.9h-.9zM186.0 428.5h.9v.9h-.9zM201.7 450.7h.9v.9h-.9zM179.9 438.3h.9v.9h-.9zM193.6 453.3h.9v.9h-.9zM187.8 426.4h.9v.9h-.9zM180.3 444.1h.9v.9h-.9zM183.0 428.9h.9v.9h-.9zM203.7 449.5h.9v.9h-.9zM183.2 427.4h.9v.9h-.9zM206.9 448.5h.9v.9h-.9zM189.0 451.8h.9v.9h-.9zM180.0 441.3h.9v.9h-.9zM206.7 428.7h.9v.9h-.9zM180.3 441.7h.9v.9h-.9zM182.4 424.1h.9v.9h-.9zM198.8 426.6h.9v.9h-.9zM200.9 452.0h.9v.9h-.9zM195.4 453.6h.9v.9h-.9zM188.9 427.5h.9v.9h-.9zM179.5 441.5h.9v.9h-.9zM187.3 424.8h.9v.9h-.9zM197.3 425.5h.9v.9h-.9zM191.3 425.1h.9v.9h-.9zM182.7 447.6h.9v.9h-.9zM192.4 423.4h.9v.9h-.9zM200.9 427.1h.9v.9h-.9zM188.7 423.9h.9v.9h-.9zM195.8 453.3h.9v.9h-.9zM180.5 443.7h.9v.9h-.9zM195.5 453.4h.9v.9h-.9zM197.1 453.3h.9v.9h-.9zM198.7 426.8h.9v.9h-.9zM201.5 450.8h.9v.9h-.9zM181.4 430.8h.9v.9h-.9zM192.9 452.0h.9v.9h-.9zM198.1 450.7h.9v.9h-.9zM190.3 454.0h.9v.9h-.9zM203.6 449.4h.9v.9h-.9zM182.1 428.9h.9v.9h-.9zM182.3 446.0h.9v.9h-.9zM191.5 423.4h.9v.9h-.9zM208.8 430.4h.9v.9h-.9zM199.3 426.9h.9v.9h-.9zM189.9 425.0h.9v.9h-.9zM187.8 427.5h.9v.9h-.9zM191.6 452.1h.9v.9h-.9zM245.8 447.2h.9v.9h-.9zM213.2 452.1h.9v.9h-.9zM244.0 444.9h.9v.9h-.9zM238.7 430.3h.9v.9h-.9zM203.5 450.5h.9v.9h-.9zM228.3 448.2h.9v.9h-.9zM196.5 425.9h.9v.9h-.9zM248.6 449.7h.9v.9h-.9zM249.7 428.2h.9v.9h-.9zM184.4 450.3h.9v.9h-.9zM241.5 430.6h.9v.9h-.9zM247.0 450.1h.9v.9h-.9zM215.6 429.6h.9v.9h-.9zM202.5 452.4h.9v.9h-.9zM232.6 447.5h.9v.9h-.9zM231.8 428.2h.9v.9h-.9zM225.4 429.6h.9v.9h-.9zM182.4 426.1h.9v.9h-.9zM246.4 431.0h.9v.9h-.9zM228.4 425.7h.9v.9h-.9zM233.8 429.2h.9v.9h-.9zM240.4 430.3h.9v.9h-.9zM244.6 443.2h.9v.9h-.9zM243.6 448.3h.9v.9h-.9zM244.0 448.2h.9v.9h-.9zM216.7 428.0h.9v.9h-.9zM252.6 438.0h.9v.9h-.9zM189.6 452.2h.9v.9h-.9zM242.1 431.4h.9v.9h-.9zM219.2 427.3h.9v.9h-.9zM180.8 426.1h.9v.9h-.9zM236.3 428.9h.9v.9h-.9zM248.3 426.8h.9v.9h-.9zM226.8 452.6h.9v.9h-.9zM252.7 435.6h.9v.9h-.9zM192.9 450.7h.9v.9h-.9zM217.5 428.3h.9v.9h-.9zM210.9 430.0h.9v.9h-.9zM244.2 430.8h.9v.9h-.9zM229.2 427.1h.9v.9h-.9zM192.0 453.5h.9v.9h-.9zM234.0 450.5h.9v.9h-.9zM241.9 450.1h.9v.9h-.9zM184.7 450.9h.9v.9h-.9zM186.2 451.3h.9v.9h-.9zM211.1 446.2h.9v.9h-.9zM250.2 429.9h.9v.9h-.9zM197.8 426.6h.9v.9h-.9zM214.0 445.7h.9v.9h-.9zM245.5 444.7h.9v.9h-.9zM247.4 447.5h.9v.9h-.9zM231.3 427.0h.9v.9h-.9zM189.6 425.9h.9v.9h-.9zM181.8 429.2h.9v.9h-.9zM251.6 443.1h.9v.9h-.9zM181.2 431.2h.9v.9h-.9zM180.6 430.5h.9v.9h-.9zM235.1 448.1h.9v.9h-.9zM245.4 446.0h.9v.9h-.9zM212.0 427.6h.9v.9h-.9zM250.3 450.4h.9v.9h-.9zM251.8 441.7h.9v.9h-.9zM252.1 433.9h.9v.9h-.9zM202.4 428.2h.9v.9h-.9zM215.7 427.5h.9v.9h-.9zM225.0 430.5h.9v.9h-.9zM233.2 449.5h.9v.9h-.9zM196.8 425.6h.9v.9h-.9zM223.0 426.6h.9v.9h-.9zM188.6 452.5h.9v.9h-.9zM216.0 426.2h.9v.9h-.9zM230.6 446.3h.9v.9h-.9zM205.3 448.2h.9v.9h-.9zM217.0 447.5h.9v.9h-.9zM238.6 449.5h.9v.9h-.9zM180.1 437.1h.9v.9h-.9zM211.8 450.7h.9v.9h-.9zM250.0 449.6h.9v.9h-.9zM189.8 424.2h.9v.9h-.9zM216.2 428.4h.9v.9h-.9zM210.1 447.6h.9v.9h-.9zM180.5 432.7h.9v.9h-.9zM231.4 427.6h.9v.9h-.9zM239.1 447.5h.9v.9h-.9zM236.0 429.4h.9v.9h-.9zM249.4 449.3h.9v.9h-.9zM244.3 446.0h.9v.9h-.9zM204.7 448.3h.9v.9h-.9zM248.7 428.2h.9v.9h-.9zM214.1 446.7h.9v.9h-.9zM190.6 425.4h.9v.9h-.9zM237.9 448.5h.9v.9h-.9zM243.1 449.8h.9v.9h-.9zM251.8 441.6h.9v.9h-.9zM180.3 432.4h.9v.9h-.9zM243.3 450.6h.9v.9h-.9zM202.4 427.4h.9v.9h-.9zM216.5 425.5h.9v.9h-.9zM182.8 429.3h.9v.9h-.9zM227.5 449.5h.9v.9h-.9zM181.0 445.9h.9v.9h-.9zM215.7 430.3h.9v.9h-.9zM202.4 451.5h.9v.9h-.9zM209.7 447.9h.9v.9h-.9zM234.4 448.2h.9v.9h-.9zM180.7 432.5h.9v.9h-.9zM243.4 451.1h.9v.9h-.9zM242.3 431.1h.9v.9h-.9zM252.4 432.8h.9v.9h-.9zM213.4 430.6h.9v.9h-.9zM209.4 428.3h.9v.9h-.9zM216.7 447.3h.9v.9h-.9zM221.2 427.3h.9v.9h-.9zM246.9 444.6h.9v.9h-.9zM247.2 450.6h.9v.9h-.9zM232.5 426.0h.9v.9h-.9zM210.1 428.1h.9v.9h-.9zM181.3 432.4h.9v.9h-.9zM231.0 447.3h.9v.9h-.9zM219.0 449.1h.9v.9h-.9zM232.5 445.1h.9v.9h-.9zM240.6 448.1h.9v.9h-.9zM212.8 447.2h.9v.9h-.9zM250.3 430.6h.9v.9h-.9zM246.4 449.1h.9v.9h-.9zM248.1 427.2h.9v.9h-.9zM228.2 448.8h.9v.9h-.9zM180.2 434.2h.9v.9h-.9zM242.9 451.2h.9v.9h-.9zM181.7 425.4h.9v.9h-.9zM192.0 423.6h.9v.9h-.9zM242.2 431.2h.9v.9h-.9zM228.2 426.3h.9v.9h-.9zM192.4 424.5h.9v.9h-.9zM232.0 428.2h.9v.9h-.9zM180.5 441.0h.9v.9h-.9zM230.0 448.1h.9v.9h-.9zM233.3 426.2h.9v.9h-.9zM189.6 454.6h.9v.9h-.9zM221.7 449.2h.9v.9h-.9zM212.4 430.8h.9v.9h-.9zM181.0 445.2h.9v.9h-.9zM187.6 428.1h.9v.9h-.9zM213.6 446.3h.9v.9h-.9zM216.4 448.8h.9v.9h-.9zM187.9 453.6h.9v.9h-.9zM212.0 451.8h.9v.9h-.9zM249.7 429.3h.9v.9h-.9zM226.7 429.6h.9v.9h-.9zM186.6 424.8h.9v.9h-.9zM225.4 449.9h.9v.9h-.9zM231.0 427.7h.9v.9h-.9zM248.5 425.5h.9v.9h-.9zM182.2 429.5h.9v.9h-.9zM232.4 447.7h.9v.9h-.9zM180.2 435.5h.9v.9h-.9zM180.9 431.7h.9v.9h-.9zM231.6 446.7h.9v.9h-.9zM228.9 426.0h.9v.9h-.9zM208.3 428.5h.9v.9h-.9zM216.8 447.7h.9v.9h-.9zM245.1 445.6h.9v.9h-.9zM214.3 431.5h.9v.9h-.9zM204.8 447.7h.9v.9h-.9zM237.4 448.7h.9v.9h-.9zM210.7 431.4h.9v.9h-.9zM192.0 422.9h.9v.9h-.9zM234.9 428.5h.9v.9h-.9zM215.1 449.3h.9v.9h-.9zM226.9 452.9h.9v.9h-.9zM235.5 448.4h.9v.9h-.9zM228.0 425.6h.9v.9h-.9zM188.2 424.6h.9v.9h-.9zM189.0 452.9h.9v.9h-.9zM242.8 450.5h.9v.9h-.9zM218.5 449.4h.9v.9h-.9zM215.6 426.8h.9v.9h-.9zM247.0 447.3h.9v.9h-.9zM208.8 429.6h.9v.9h-.9zM214.1 429.4h.9v.9h-.9zM220.3 426.3h.9v.9h-.9zM195.5 453.1h.9v.9h-.9zM230.2 427.2h.9v.9h-.9zM244.2 448.3h.9v.9h-.9zM231.8 446.8h.9v.9h-.9zM232.4 448.4h.9v.9h-.9zM228.3 450.1h.9v.9h-.9zM188.7 425.5h.9v.9h-.9zM224.4 429.0h.9v.9h-.9zM227.0 426.9h.9v.9h-.9zM215.8 426.2h.9v.9h-.9zM181.9 427.6h.9v.9h-.9zM188.7 426.0h.9v.9h-.9zM220.8 450.3h.9v.9h-.9zM211.9 428.3h.9v.9h-.9zM252.5 431.0h.9v.9h-.9zM222.5 447.9h.9v.9h-.9zM245.6 448.8h.9v.9h-.9zM225.6 450.7h.9v.9h-.9zM181.9 448.1h.9v.9h-.9zM244.0 448.9h.9v.9h-.9zM223.2 428.4h.9v.9h-.9zM249.0 449.2h.9v.9h-.9zM192.9 423.6h.9v.9h-.9zM195.3 423.9h.9v.9h-.9zM209.8 428.6h.9v.9h-.9zM227.4 451.8h.9v.9h-.9zM187.4 451.8h.9v.9h-.9zM201.8 452.2h.9v.9h-.9zM213.6 429.8h.9v.9h-.9zM206.1 449.7h.9v.9h-.9zM230.7 450.6h.9v.9h-.9zM214.4 428.2h.9v.9h-.9zM181.1 425.6h.9v.9h-.9zM221.5 450.0h.9v.9h-.9zM182.3 428.3h.9v.9h-.9zM217.4 426.4h.9v.9h-.9zM182.1 424.5h.9v.9h-.9zM230.8 445.7h.9v.9h-.9zM197.1 426.2h.9v.9h-.9zM212.0 451.0h.9v.9h-.9zM209.9 448.1h.9v.9h-.9zM252.2 432.5h.9v.9h-.9zM248.0 451.2h.9v.9h-.9zM212.9 453.2h.9v.9h-.9zM180.2 433.4h.9v.9h-.9zM246.5 445.4h.9v.9h-.9zM208.1 448.3h.9v.9h-.9zM227.7 450.1h.9v.9h-.9zM230.5 448.7h.9v.9h-.9zM237.0 421.9h.9v.9h-.9zM247.3 430.2h.9v.9h-.9zM232.6 428.9h.9v.9h-.9zM205.9 428.9h.9v.9h-.9zM231.9 448.4h.9v.9h-.9zM250.8 429.9h.9v.9h-.9zM209.6 428.6h.9v.9h-.9zM242.1 446.0h.9v.9h-.9zM229.5 426.2h.9v.9h-.9zM248.0 450.3h.9v.9h-.9zM246.6 425.1h.9v.9h-.9zM195.2 424.3h.9v.9h-.9zM186.9 452.3h.9v.9h-.9zM242.1 450.0h.9v.9h-.9zM234.1 449.9h.9v.9h-.9zM205.8 429.3h.9v.9h-.9zM223.3 426.9h.9v.9h-.9zM249.0 451.0h.9v.9h-.9zM248.6 428.4h.9v.9h-.9zM207.2 428.6h.9v.9h-.9zM242.6 444.8h.9v.9h-.9zM244.5 446.0h.9v.9h-.9zM251.8 446.7h.9v.9h-.9zM216.0 426.3h.9v.9h-.9zM241.3 447.0h.9v.9h-.9zM251.0 430.1h.9v.9h-.9zM212.0 448.2h.9v.9h-.9zM216.0 427.6h.9v.9h-.9zM247.1 449.2h.9v.9h-.9zM242.6 450.7h.9v.9h-.9zM199.5 451.7h.9v.9h-.9zM213.7 448.5h.9v.9h-.9zM236.7 427.6h.9v.9h-.9zM227.4 427.3h.9v.9h-.9zM233.1 449.1h.9v.9h-.9zM220.6 426.4h.9v.9h-.9zM230.5 446.0h.9v.9h-.9zM212.4 446.2h.9v.9h-.9zM244.0 449.5h.9v.9h-.9zM242.6 447.9h.9v.9h-.9zM191.8 423.6h.9v.9h-.9zM190.7 454.0h.9v.9h-.9zM212.7 430.5h.9v.9h-.9zM224.7 449.9h.9v.9h-.9zM201.6 452.1h.9v.9h-.9zM247.6 425.5h.9v.9h-.9zM240.8 446.3h.9v.9h-.9zM227.4 447.8h.9v.9h-.9zM210.9 428.4h.9v.9h-.9zM205.7 427.1h.9v.9h-.9zM180.8 431.9h.9v.9h-.9zM243.4 431.2h.9v.9h-.9zM190.2 426.4h.9v.9h-.9zM202.1 427.5h.9v.9h-.9zM211.9 430.3h.9v.9h-.9zM236.9 447.7h.9v.9h-.9zM201.0 427.4h.9v.9h-.9zM247.5 430.1h.9v.9h-.9zM207.4 448.0h.9v.9h-.9zM252.1 446.0h.9v.9h-.9zM251.7 435.3h.9v.9h-.9zM217.0 427.6h.9v.9h-.9zM221.1 450.3h.9v.9h-.9zM202.0 428.5h.9v.9h-.9zM252.2 430.7h.9v.9h-.9zM217.6 427.4h.9v.9h-.9zM237.2 429.1h.9v.9h-.9zM239.9 448.3h.9v.9h-.9zM216.7 425.3h.9v.9h-.9zM236.0 423.3h.9v.9h-.9zM205.5 426.6h.9v.9h-.9zM245.3 446.0h.9v.9h-.9zM183.9 449.0h.9v.9h-.9zM229.4 427.3h.9v.9h-.9zM180.4 444.5h.9v.9h-.9zM239.3 448.9h.9v.9h-.9zM231.5 450.5h.9v.9h-.9zM230.7 426.7h.9v.9h-.9zM195.5 424.6h.9v.9h-.9zM251.2 447.7h.9v.9h-.9zM210.9 452.2h.9v.9h-.9zM223.6 448.7h.9v.9h-.9zM196.5 452.7h.9v.9h-.9zM236.9 421.9h.9v.9h-.9zM181.6 428.3h.9v.9h-.9zM181.2 429.7h.9v.9h-.9zM239.3 449.2h.9v.9h-.9zM218.7 426.5h.9v.9h-.9zM235.7 423.4h.9v.9h-.9zM217.3 449.3h.9v.9h-.9zM214.3 448.5h.9v.9h-.9zM250.1 449.3h.9v.9h-.9zM232.5 426.9h.9v.9h-.9zM224.7 449.1h.9v.9h-.9zM239.8 430.4h.9v.9h-.9zM251.6 446.0h.9v.9h-.9zM252.9 438.4h.9v.9h-.9zM244.8 442.7h.9v.9h-.9zM208.3 447.8h.9v.9h-.9zM221.1 427.5h.9v.9h-.9zM221.6 426.6h.9v.9h-.9zM244.5 431.2h.9v.9h-.9zM184.6 428.5h.9v.9h-.9zM187.9 423.8h.9v.9h-.9zM186.0 427.0h.9v.9h-.9zM219.0 426.3h.9v.9h-.9zM220.9 448.6h.9v.9h-.9zM228.3 427.2h.9v.9h-.9zM247.5 449.1h.9v.9h-.9zM212.1 447.3h.9v.9h-.9zM235.2 448.4h.9v.9h-.9zM198.2 450.8h.9v.9h-.9zM213.4 447.6h.9v.9h-.9zM247.8 429.1h.9v.9h-.9zM206.4 426.7h.9v.9h-.9zM189.6 451.6h.9v.9h-.9zM214.2 447.9h.9v.9h-.9zM245.4 445.6h.9v.9h-.9zM229.6 426.9h.9v.9h-.9zM231.4 448.5h.9v.9h-.9zM247.4 450.0h.9v.9h-.9zM233.8 430.1h.9v.9h-.9zM193.4 451.1h.9v.9h-.9zM213.4 430.0h.9v.9h-.9zM212.8 429.3h.9v.9h-.9zM209.6 428.3h.9v.9h-.9zM221.0 427.4h.9v.9h-.9zM239.0 430.3h.9v.9h-.9zM195.2 453.0h.9v.9h-.9zM251.9 441.7h.9v.9h-.9zM180.4 438.5h.9v.9h-.9zM180.4 432.8h.9v.9h-.9zM244.0 444.6h.9v.9h-.9zM226.5 428.1h.9v.9h-.9zM235.0 428.8h.9v.9h-.9zM184.1 428.4h.9v.9h-.9zM212.4 451.8h.9v.9h-.9zM215.8 447.7h.9v.9h-.9zM211.7 452.9h.9v.9h-.9zM234.5 428.5h.9v.9h-.9zM221.1 449.8h.9v.9h-.9zM238.0 428.8h.9v.9h-.9zM231.1 446.9h.9v.9h-.9zM209.4 448.2h.9v.9h-.9zM224.2 450.2h.9v.9h-.9zM252.7 439.3h.9v.9h-.9zM238.7 447.7h.9v.9h-.9zM242.5 430.0h.9v.9h-.9zM241.9 449.9h.9v.9h-.9zM244.2 448.2h.9v.9h-.9zM217.2 446.9h.9v.9h-.9zM184.8 427.7h.9v.9h-.9zM224.3 428.6h.9v.9h-.9zM219.4 450.5h.9v.9h-.9zM217.9 426.6h.9v.9h-.9zM216.7 427.8h.9v.9h-.9zM218.4 424.8h.9v.9h-.9zM228.9 428.2h.9v.9h-.9zM227.1 451.9h.9v.9h-.9zM228.2 430.3h.9v.9h-.9zM182.5 430.1h.9v.9h-.9zM213.9 449.4h.9v.9h-.9zM183.4 426.4h.9v.9h-.9zM237.4 449.3h.9v.9h-.9zM198.4 451.7h.9v.9h-.9zM240.5 428.9h.9v.9h-.9zM215.5 428.9h.9v.9h-.9zM212.1 453.1h.9v.9h-.9zM180.4 441.0h.9v.9h-.9zM225.1 449.1h.9v.9h-.9zM202.5 428.3h.9v.9h-.9zM225.5 449.5h.9v.9h-.9zM198.1 451.1h.9v.9h-.9zM221.7 448.0h.9v.9h-.9zM206.7 448.1h.9v.9h-.9zM191.5 422.7h.9v.9h-.9zM194.1 451.8h.9v.9h-.9zM227.2 451.7h.9v.9h-.9zM238.7 448.9h.9v.9h-.9zM227.1 448.0h.9v.9h-.9zM210.0 447.0h.9v.9h-.9zM213.8 428.0h.9v.9h-.9zM217.5 448.0h.9v.9h-.9zM211.2 446.9h.9v.9h-.9zM200.2 451.1h.9v.9h-.9zM213.0 452.9h.9v.9h-.9zM201.8 452.1h.9v.9h-.9zM227.6 428.6h.9v.9h-.9zM233.4 448.2h.9v.9h-.9zM189.3 454.1h.9v.9h-.9zM193.9 424.2h.9v.9h-.9zM220.4 449.0h.9v.9h-.9z" fill="#8086a9" fill-opacity="0.51"/>
<path d="M187.8 429.4h.9v.9h-.9zM188.6 428.5h.9v.9h-.9zM189.5 450.5h.9v.9h-.9zM191.5 449.8h.9v.9h-.9zM189.6 429.3h.9v.9h-.9zM193.3 449.0h.9v.9h-.9zM210.0 431.8h.9v.9h-.9zM195.5 427.0h.9v.9h-.9zM197.4 432.5h.9v.9h-.9zM198.9 450.1h.9v.9h-.9zM184.5 446.8h.9v.9h-.9zM180.9 434.6h.9v.9h-.9zM184.2 431.2h.9v.9h-.9zM204.1 429.4h.9v.9h-.9zM183.7 448.5h.9v.9h-.9zM194.6 451.5h.9v.9h-.9zM196.7 451.0h.9v.9h-.9zM195.9 427.0h.9v.9h-.9zM200.4 428.3h.9v.9h-.9zM199.3 428.4h.9v.9h-.9zM190.8 451.0h.9v.9h-.9zM195.1 450.2h.9v.9h-.9zM180.9 442.2h.9v.9h-.9zM190.9 450.4h.9v.9h-.9zM185.1 429.9h.9v.9h-.9zM179.5 439.9h.9v.9h-.9zM200.8 429.3h.9v.9h-.9zM194.2 425.3h.9v.9h-.9zM201.0 430.9h.9v.9h-.9zM186.3 430.1h.9v.9h-.9zM190.5 427.4h.9v.9h-.9zM193.4 428.5h.9v.9h-.9zM200.0 430.1h.9v.9h-.9zM194.6 451.1h.9v.9h-.9zM194.2 428.0h.9v.9h-.9zM192.0 426.4h.9v.9h-.9zM188.7 429.6h.9v.9h-.9zM194.2 426.2h.9v.9h-.9zM186.7 450.3h.9v.9h-.9zM183.9 430.8h.9v.9h-.9zM208.4 445.3h.9v.9h-.9zM193.9 427.3h.9v.9h-.9zM182.1 431.4h.9v.9h-.9zM187.7 428.9h.9v.9h-.9zM206.1 431.6h.9v.9h-.9zM202.9 447.2h.9v.9h-.9zM182.6 430.3h.9v.9h-.9zM184.0 447.7h.9v.9h-.9zM193.5 426.3h.9v.9h-.9zM186.2 430.0h.9v.9h-.9zM194.4 450.2h.9v.9h-.9zM191.1 427.6h.9v.9h-.9zM188.1 429.0h.9v.9h-.9zM183.3 447.5h.9v.9h-.9zM192.0 428.4h.9v.9h-.9zM204.4 429.5h.9v.9h-.9zM180.8 435.0h.9v.9h-.9zM181.1 443.5h.9v.9h-.9zM188.6 450.2h.9v.9h-.9zM231.4 436.8h.9v.9h-.9zM233.4 431.5h.9v.9h-.9zM205.8 447.0h.9v.9h-.9zM229.0 432.2h.9v.9h-.9zM245.3 440.2h.9v.9h-.9zM181.2 440.8h.9v.9h-.9zM236.1 442.9h.9v.9h-.9zM218.0 435.3h.9v.9h-.9zM245.6 438.7h.9v.9h-.9zM235.0 430.5h.9v.9h-.9zM213.1 433.1h.9v.9h-.9zM236.8 446.4h.9v.9h-.9zM219.7 428.9h.9v.9h-.9zM250.6 434.1h.9v.9h-.9zM251.4 445.8h.9v.9h-.9zM241.1 434.8h.9v.9h-.9zM221.8 429.6h.9v.9h-.9zM191.7 426.7h.9v.9h-.9zM242.7 444.3h.9v.9h-.9zM201.0 429.2h.9v.9h-.9zM219.7 432.3h.9v.9h-.9zM235.3 444.7h.9v.9h-.9zM211.9 444.3h.9v.9h-.9zM236.1 432.2h.9v.9h-.9zM210.6 434.2h.9v.9h-.9zM239.1 440.3h.9v.9h-.9zM252.5 438.1h.9v.9h-.9zM251.3 447.0h.9v.9h-.9zM251.0 439.7h.9v.9h-.9zM224.7 447.4h.9v.9h-.9zM237.2 433.5h.9v.9h-.9zM215.8 445.0h.9v.9h-.9zM219.6 438.0h.9v.9h-.9zM211.7 432.9h.9v.9h-.9zM241.0 442.8h.9v.9h-.9zM250.9 439.8h.9v.9h-.9zM219.9 431.7h.9v.9h-.9zM204.0 445.1h.9v.9h-.9zM221.2 442.0h.9v.9h-.9zM214.9 445.0h.9v.9h-.9zM221.4 435.5h.9v.9h-.9zM225.5 431.9h.9v.9h-.9zM230.3 430.5h.9v.9h-.9zM247.3 440.9h.9v.9h-.9zM251.3 444.6h.9v.9h-.9zM245.7 436.7h.9v.9h-.9zM239.5 432.7h.9v.9h-.9zM187.5 430.2h.9v.9h-.9zM209.7 446.3h.9v.9h-.9zM221.2 433.0h.9v.9h-.9zM244.8 441.4h.9v.9h-.9zM240.1 433.7h.9v.9h-.9zM215.3 444.5h.9v.9h-.9zM242.7 434.7h.9v.9h-.9zM184.7 430.4h.9v.9h-.9zM242.8 433.8h.9v.9h-.9zM211.0 444.5h.9v.9h-.9zM250.8 433.8h.9v.9h-.9zM242.8 443.8h.9v.9h-.9zM243.6 440.4h.9v.9h-.9zM215.4 433.2h.9v.9h-.9zM246.2 439.9h.9v.9h-.9zM243.1 438.0h.9v.9h-.9zM240.3 431.1h.9v.9h-.9zM247.4 443.0h.9v.9h-.9zM202.0 449.9h.9v.9h-.9zM242.9 436.0h.9v.9h-.9zM204.5 445.8h.9v.9h-.9zM212.9 432.7h.9v.9h-.9zM237.5 445.5h.9v.9h-.9zM209.9 445.0h.9v.9h-.9zM201.1 431.3h.9v.9h-.9zM198.6 450.1h.9v.9h-.9zM204.2 430.1h.9v.9h-.9zM191.6 450.2h.9v.9h-.9zM181.6 444.1h.9v.9h-.9zM201.6 450.0h.9v.9h-.9zM244.2 439.5h.9v.9h-.9zM237.3 429.8h.9v.9h-.9zM237.7 436.2h.9v.9h-.9zM238.6 434.3h.9v.9h-.9zM234.6 446.0h.9v.9h-.9zM211.2 434.1h.9v.9h-.9zM240.1 444.8h.9v.9h-.9zM247.6 444.4h.9v.9h-.9zM250.5 431.8h.9v.9h-.9zM240.8 434.8h.9v.9h-.9zM248.0 432.0h.9v.9h-.9zM205.8 443.1h.9v.9h-.9zM214.6 435.2h.9v.9h-.9zM192.5 428.3h.9v.9h-.9zM240.5 443.1h.9v.9h-.9zM234.7 432.8h.9v.9h-.9zM218.5 444.1h.9v.9h-.9zM244.6 431.6h.9v.9h-.9zM203.3 429.9h.9v.9h-.9zM239.9 432.4h.9v.9h-.9zM233.4 435.7h.9v.9h-.9zM222.5 430.3h.9v.9h-.9zM241.6 444.0h.9v.9h-.9zM218.6 430.2h.9v.9h-.9zM223.4 428.9h.9v.9h-.9zM238.0 429.7h.9v.9h-.9zM232.6 435.1h.9v.9h-.9zM241.9 438.8h.9v.9h-.9zM240.9 435.6h.9v.9h-.9zM244.1 440.7h.9v.9h-.9zM231.9 437.5h.9v.9h-.9zM223.7 447.5h.9v.9h-.9zM183.6 447.9h.9v.9h-.9zM247.7 442.2h.9v.9h-.9zM235.2 430.0h.9v.9h-.9zM245.9 439.7h.9v.9h-.9zM225.9 431.1h.9v.9h-.9zM238.7 439.6h.9v.9h-.9zM239.2 434.5h.9v.9h-.9zM239.2 439.9h.9v.9h-.9zM248.2 440.2h.9v.9h-.9zM241.7 442.6h.9v.9h-.9zM209.5 431.8h.9v.9h-.9zM235.5 446.0h.9v.9h-.9zM250.3 446.2h.9v.9h-.9zM226.3 447.5h.9v.9h-.9zM236.6 442.7h.9v.9h-.9zM204.8 447.5h.9v.9h-.9zM206.5 445.6h.9v.9h-.9zM246.0 441.7h.9v.9h-.9zM212.3 432.9h.9v.9h-.9zM251.2 440.4h.9v.9h-.9zM250.3 447.0h.9v.9h-.9zM217.5 430.3h.9v.9h-.9zM241.7 442.3h.9v.9h-.9zM206.8 431.6h.9v.9h-.9zM217.2 433.6h.9v.9h-.9zM241.4 438.9h.9v.9h-.9zM206.9 447.4h.9v.9h-.9zM236.4 436.3h.9v.9h-.9zM210.6 434.6h.9v.9h-.9zM240.4 437.0h.9v.9h-.9zM250.2 431.1h.9v.9h-.9zM228.8 430.0h.9v.9h-.9zM222.3 437.6h.9v.9h-.9zM212.0 443.8h.9v.9h-.9zM204.3 448.2h.9v.9h-.9zM219.3 447.1h.9v.9h-.9zM219.7 442.6h.9v.9h-.9zM250.9 433.0h.9v.9h-.9zM222.3 445.2h.9v.9h-.9zM240.0 436.3h.9v.9h-.9zM224.8 432.1h.9v.9h-.9zM218.4 430.1h.9v.9h-.9zM217.6 443.9h.9v.9h-.9zM191.1 426.6h.9v.9h-.9zM189.9 450.3h.9v.9h-.9zM240.4 438.8h.9v.9h-.9zM207.9 446.5h.9v.9h-.9zM242.0 440.7h.9v.9h-.9zM203.1 448.6h.9v.9h-.9zM220.7 445.9h.9v.9h-.9zM245.9 438.6h.9v.9h-.9zM190.7 427.5h.9v.9h-.9zM238.7 444.8h.9v.9h-.9zM234.5 446.6h.9v.9h-.9zM212.8 443.9h.9v.9h-.9zM229.5 445.2h.9v.9h-.9zM218.2 447.6h.9v.9h-.9zM210.4 433.3h.9v.9h-.9zM237.4 445.5h.9v.9h-.9zM221.5 445.7h.9v.9h-.9zM243.7 442.3h.9v.9h-.9zM190.2 427.9h.9v.9h-.9zM237.7 432.3h.9v.9h-.9zM228.7 429.9h.9v.9h-.9zM209.4 430.7h.9v.9h-.9zM250.8 437.6h.9v.9h-.9zM214.4 431.9h.9v.9h-.9zM193.3 425.4h.9v.9h-.9zM248.7 439.2h.9v.9h-.9zM201.3 450.6h.9v.9h-.9zM215.0 432.9h.9v.9h-.9zM236.7 441.1h.9v.9h-.9zM221.8 433.1h.9v.9h-.9zM245.6 432.3h.9v.9h-.9zM244.0 432.4h.9v.9h-.9zM185.8 449.6h.9v.9h-.9zM232.9 433.4h.9v.9h-.9zM239.7 444.5h.9v.9h-.9zM214.2 435.4h.9v.9h-.9zM249.1 443.1h.9v.9h-.9zM239.4 438.9h.9v.9h-.9zM221.6 429.5h.9v.9h-.9zM240.0 441.9h.9v.9h-.9zM227.3 430.9h.9v.9h-.9zM220.0 445.1h.9v.9h-.9zM250.7 443.7h.9v.9h-.9zM237.7 431.5h.9v.9h-.9zM233.4 431.5h.9v.9h-.9zM221.3 428.7h.9v.9h-.9zM251.9 436.5h.9v.9h-.9zM223.2 429.8h.9v.9h-.9zM236.7 433.9h.9v.9h-.9zM203.4 446.7h.9v.9h-.9zM250.1 447.1h.9v.9h-.9zM219.2 443.8h.9v.9h-.9zM199.4 449.9h.9v.9h-.9zM240.6 442.9h.9v.9h-.9zM237.6 438.2h.9v.9h-.9zM250.6 438.5h.9v.9h-.9zM193.9 426.5h.9v.9h-.9zM225.0 431.9h.9v.9h-.9zM234.5 447.1h.9v.9h-.9zM246.2 442.1h.9v.9h-.9zM197.5 427.0h.9v.9h-.9zM239.8 437.9h.9v.9h-.9zM233.7 444.4h.9v.9h-.9zM242.4 433.4h.9v.9h-.9zM219.1 447.2h.9v.9h-.9zM210.3 434.4h.9v.9h-.9zM211.8 445.4h.9v.9h-.9zM248.7 445.2h.9v.9h-.9zM251.4 437.7h.9v.9h-.9zM220.4 443.3h.9v.9h-.9zM216.9 433.5h.9v.9h-.9zM242.1 432.4h.9v.9h-.9zM249.9 447.8h.9v.9h-.9zM236.7 435.4h.9v.9h-.9zM215.7 446.5h.9v.9h-.9zM242.5 442.5h.9v.9h-.9zM221.3 441.6h.9v.9h-.9zM238.8 445.1h.9v.9h-.9zM216.3 433.3h.9v.9h-.9zM228.7 429.7h.9v.9h-.9zM215.8 438.2h.9v.9h-.9zM235.8 442.0h.9v.9h-.9zM251.3 438.9h.9v.9h-.9zM213.5 444.8h.9v.9h-.9zM238.3 442.7h.9v.9h-.9zM244.3 440.5h.9v.9h-.9zM242.3 438.9h.9v.9h-.9zM251.0 435.8h.9v.9h-.9zM233.0 437.3h.9v.9h-.9zM189.1 451.5h.9v.9h-.9zM240.4 442.8h.9v.9h-.9zM233.8 444.7h.9v.9h-.9zM243.2 442.8h.9v.9h-.9zM247.1 432.4h.9v.9h-.9zM241.1 441.4h.9v.9h-.9zM218.0 437.2h.9v.9h-.9zM188.1 430.4h.9v.9h-.9zM246.4 442.6h.9v.9h-.9zM219.0 435.2h.9v.9h-.9zM247.2 441.7h.9v.9h-.9zM219.2 431.1h.9v.9h-.9zM236.7 446.8h.9v.9h-.9zM211.6 436.1h.9v.9h-.9zM204.9 447.3h.9v.9h-.9zM218.3 445.7h.9v.9h-.9zM181.9 444.7h.9v.9h-.9zM199.8 428.0h.9v.9h-.9zM245.1 432.1h.9v.9h-.9zM216.6 429.6h.9v.9h-.9zM235.8 446.5h.9v.9h-.9zM208.0 432.3h.9v.9h-.9zM217.6 436.0h.9v.9h-.9zM235.4 436.2h.9v.9h-.9zM230.2 431.1h.9v.9h-.9zM241.2 444.8h.9v.9h-.9zM251.5 437.3h.9v.9h-.9zM209.4 443.9h.9v.9h-.9zM250.7 439.6h.9v.9h-.9zM250.4 441.3h.9v.9h-.9zM217.3 432.8h.9v.9h-.9zM219.4 436.9h.9v.9h-.9zM234.9 431.7h.9v.9h-.9zM214.5 432.4h.9v.9h-.9zM232.5 430.6h.9v.9h-.9zM228.8 447.5h.9v.9h-.9zM231.7 435.6h.9v.9h-.9zM208.3 444.7h.9v.9h-.9zM224.6 448.5h.9v.9h-.9zM237.6 436.5h.9v.9h-.9zM202.7 446.1h.9v.9h-.9zM214.7 432.0h.9v.9h-.9zM194.5 450.1h.9v.9h-.9zM235.8 431.4h.9v.9h-.9zM219.5 448.5h.9v.9h-.9zM214.2 443.4h.9v.9h-.9zM216.8 430.8h.9v.9h-.9zM239.6 446.2h.9v.9h-.9zM231.9 443.6h.9v.9h-.9zM233.8 444.3h.9v.9h-.9zM223.7 430.0h.9v.9h-.9zM242.9 439.8h.9v.9h-.9zM193.6 425.6h.9v.9h-.9zM232.6 436.4h.9v.9h-.9zM229.1 444.6h.9v.9h-.9zM229.2 444.9h.9v.9h-.9zM204.6 444.5h.9v.9h-.9zM208.3 445.8h.9v.9h-.9zM243.2 436.4h.9v.9h-.9zM249.8 442.6h.9v.9h-.9zM212.9 433.8h.9v.9h-.9zM246.6 430.7h.9v.9h-.9zM251.6 439.5h.9v.9h-.9zM236.3 435.6h.9v.9h-.9zM223.8 432.2h.9v.9h-.9zM210.3 434.3h.9v.9h-.9zM235.6 430.5h.9v.9h-.9zM217.1 437.5h.9v.9h-.9zM219.1 433.9h.9v.9h-.9zM199.9 428.6h.9v.9h-.9zM249.3 447.5h.9v.9h-.9zM203.4 430.2h.9v.9h-.9zM232.3 442.8h.9v.9h-.9zM242.9 439.8h.9v.9h-.9zM246.0 437.7h.9v.9h-.9zM193.2 427.4h.9v.9h-.9zM216.7 432.7h.9v.9h-.9zM237.4 441.7h.9v.9h-.9zM238.0 444.2h.9v.9h-.9zM240.8 444.6h.9v.9h-.9zM221.2 428.6h.9v.9h-.9zM241.1 445.4h.9v.9h-.9zM236.1 446.9h.9v.9h-.9zM234.8 434.2h.9v.9h-.9zM251.1 441.1h.9v.9h-.9zM235.3 431.6h.9v.9h-.9zM235.5 434.1h.9v.9h-.9zM222.3 443.8h.9v.9h-.9zM232.4 444.2h.9v.9h-.9zM218.8 433.8h.9v.9h-.9zM238.0 438.5h.9v.9h-.9zM196.5 450.7h.9v.9h-.9zM229.3 430.0h.9v.9h-.9zM221.3 428.7h.9v.9h-.9zM252.0 437.1h.9v.9h-.9zM241.6 439.0h.9v.9h-.9zM221.1 433.2h.9v.9h-.9zM202.0 448.4h.9v.9h-.9zM182.8 431.8h.9v.9h-.9zM243.1 434.4h.9v.9h-.9zM249.8 434.3h.9v.9h-.9zM217.6 436.0h.9v.9h-.9zM233.5 443.5h.9v.9h-.9zM217.2 444.2h.9v.9h-.9zM217.8 445.0h.9v.9h-.9zM209.4 432.0h.9v.9h-.9zM240.2 438.6h.9v.9h-.9zM181.0 442.5h.9v.9h-.9zM250.2 441.5h.9v.9h-.9zM246.9 438.4h.9v.9h-.9zM200.0 429.6h.9v.9h-.9zM205.1 444.0h.9v.9h-.9zM227.6 432.0h.9v.9h-.9zM229.3 446.9h.9v.9h-.9zM237.0 447.0h.9v.9h-.9zM224.3 431.4h.9v.9h-.9zM220.5 431.2h.9v.9h-.9zM248.6 447.3h.9v.9h-.9zM251.4 434.8h.9v.9h-.9zM224.8 447.5h.9v.9h-.9zM242.3 438.8h.9v.9h-.9zM208.9 444.2h.9v.9h-.9zM238.6 430.8h.9v.9h-.9zM234.4 434.9h.9v.9h-.9zM195.1 449.7h.9v.9h-.9zM219.4 447.6h.9v.9h-.9zM203.8 445.1h.9v.9h-.9zM180.7 433.3h.9v.9h-.9zM227.3 431.6h.9v.9h-.9zM232.6 430.6h.9v.9h-.9zM250.3 443.0h.9v.9h-.9zM224.6 430.9h.9v.9h-.9zM249.2 440.2h.9v.9h-.9zM247.2 442.9h.9v.9h-.9zM193.2 427.1h.9v.9h-.9zM213.1 435.5h.9v.9h-.9zM246.7 438.6h.9v.9h-.9zM249.4 432.4h.9v.9h-.9zM206.2 431.0h.9v.9h-.9zM249.2 447.2h.9v.9h-.9zM191.7 448.8h.9v.9h-.9zM231.1 433.8h.9v.9h-.9zM192.9 426.1h.9v.9h-.9zM189.5 427.3h.9v.9h-.9zM231.8 437.0h.9v.9h-.9zM205.4 430.6h.9v.9h-.9zM183.1 431.3h.9v.9h-.9zM243.0 444.3h.9v.9h-.9zM241.0 439.4h.9v.9h-.9zM221.3 445.5h.9v.9h-.9zM236.4 440.6h.9v.9h-.9zM250.2 432.1h.9v.9h-.9zM217.2 433.1h.9v.9h-.9zM237.1 440.7h.9v.9h-.9zM241.1 443.8h.9v.9h-.9zM242.6 433.2h.9v.9h-.9zM236.5 436.7h.9v.9h-.9zM239.4 439.9h.9v.9h-.9zM217.8 430.2h.9v.9h-.9zM190.0 429.4h.9v.9h-.9zM240.1 440.0h.9v.9h-.9zM236.3 441.9h.9v.9h-.9zM231.7 435.4h.9v.9h-.9zM250.9 441.9h.9v.9h-.9zM248.3 443.6h.9v.9h-.9zM206.7 445.4h.9v.9h-.9zM205.1 430.1h.9v.9h-.9zM208.5 444.0h.9v.9h-.9zM230.8 436.4h.9v.9h-.9zM216.1 444.9h.9v.9h-.9zM249.5 432.0h.9v.9h-.9zM223.2 429.8h.9v.9h-.9zM243.0 433.9h.9v.9h-.9zM239.4 435.9h.9v.9h-.9zM209.9 431.3h.9v.9h-.9zM230.2 436.0h.9v.9h-.9zM248.5 441.1h.9v.9h-.9zM221.1 432.9h.9v.9h-.9zM251.0 435.6h.9v.9h-.9zM221.3 448.3h.9v.9h-.9zM202.6 446.0h.9v.9h-.9zM232.4 438.0h.9v.9h-.9zM221.3 442.9h.9v.9h-.9zM221.1 446.8h.9v.9h-.9zM233.0 433.0h.9v.9h-.9zM251.9 438.3h.9v.9h-.9zM206.0 446.4h.9v.9h-.9zM231.0 436.2h.9v.9h-.9zM238.3 440.0h.9v.9h-.9zM218.3 431.3h.9v.9h-.9zM213.6 431.6h.9v.9h-.9zM243.1 435.6h.9v.9h-.9zM232.5 432.1h.9v.9h-.9zM217.0 444.1h.9v.9h-.9zM217.8 435.9h.9v.9h-.9zM233.7 436.3h.9v.9h-.9zM215.5 435.3h.9v.9h-.9zM238.0 436.6h.9v.9h-.9zM204.3 430.3h.9v.9h-.9zM225.7 432.2h.9v.9h-.9zM224.3 433.3h.9v.9h-.9zM251.0 441.3h.9v.9h-.9zM231.8 430.4h.9v.9h-.9zM214.4 434.8h.9v.9h-.9zM214.1 436.0h.9v.9h-.9zM199.4 428.9h.9v.9h-.9zM229.8 438.3h.9v.9h-.9zM233.1 441.4h.9v.9h-.9zM251.3 431.4h.9v.9h-.9zM218.0 445.2h.9v.9h-.9zM220.8 445.0h.9v.9h-.9zM220.7 447.1h.9v.9h-.9zM230.5 443.0h.9v.9h-.9zM221.1 436.6h.9v.9h-.9zM216.7 431.7h.9v.9h-.9zM239.6 439.2h.9v.9h-.9zM248.1 446.7h.9v.9h-.9zM221.0 448.5h.9v.9h-.9zM240.8 444.2h.9v.9h-.9zM216.7 433.4h.9v.9h-.9zM228.9 445.8h.9v.9h-.9zM236.1 441.0h.9v.9h-.9zM245.3 435.8h.9v.9h-.9zM218.6 436.7h.9v.9h-.9zM207.4 431.3h.9v.9h-.9zM242.1 434.5h.9v.9h-.9zM250.9 436.1h.9v.9h-.9zM221.3 435.0h.9v.9h-.9zM220.3 435.6h.9v.9h-.9zM218.6 429.1h.9v.9h-.9zM220.6 431.1h.9v.9h-.9zM250.7 447.1h.9v.9h-.9zM231.2 431.2h.9v.9h-.9zM228.9 429.1h.9v.9h-.9zM248.4 442.8h.9v.9h-.9zM218.1 437.4h.9v.9h-.9zM225.3 431.0h.9v.9h-.9zM242.9 440.2h.9v.9h-.9zM220.5 447.8h.9v.9h-.9zM209.4 432.0h.9v.9h-.9zM248.7 448.0h.9v.9h-.9zM185.9 450.2h.9v.9h-.9zM200.0 429.7h.9v.9h-.9zM232.1 442.4h.9v.9h-.9zM236.9 440.0h.9v.9h-.9zM250.5 434.5h.9v.9h-.9zM213.2 432.7h.9v.9h-.9zM180.7 435.4h.9v.9h-.9zM249.9 445.4h.9v.9h-.9zM237.2 446.9h.9v.9h-.9zM220.0 446.1h.9v.9h-.9zM212.2 444.3h.9v.9h-.9zM222.8 431.8h.9v.9h-.9zM241.1 443.7h.9v.9h-.9zM211.1 444.0h.9v.9h-.9zM182.2 430.9h.9v.9h-.9zM206.9 445.7h.9v.9h-.9zM228.2 446.5h.9v.9h-.9zM199.1 430.9h.9v.9h-.9zM218.9 444.2h.9v.9h-.9zM237.0 446.1h.9v.9h-.9zM239.9 442.5h.9v.9h-.9zM232.3 442.7h.9v.9h-.9zM229.0 432.1h.9v.9h-.9zM232.2 443.0h.9v.9h-.9zM211.4 445.5h.9v.9h-.9zM207.6 443.8h.9v.9h-.9zM233.0 441.6h.9v.9h-.9zM210.7 434.2h.9v.9h-.9zM235.4 432.7h.9v.9h-.9zM238.0 430.8h.9v.9h-.9zM216.5 443.7h.9v.9h-.9zM239.5 432.1h.9v.9h-.9zM194.9 451.0h.9v.9h-.9zM229.1 445.9h.9v.9h-.9zM218.8 448.5h.9v.9h-.9zM231.7 431.7h.9v.9h-.9zM238.5 440.7h.9v.9h-.9zM221.0 437.9h.9v.9h-.9zM239.1 446.0h.9v.9h-.9zM239.6 432.8h.9v.9h-.9zM239.9 434.6h.9v.9h-.9zM217.8 434.3h.9v.9h-.9zM234.6 440.4h.9v.9h-.9zM248.1 432.1h.9v.9h-.9zM240.2 432.5h.9v.9h-.9zM235.1 443.2h.9v.9h-.9zM250.7 431.3h.9v.9h-.9zM220.8 445.5h.9v.9h-.9zM234.5 430.0h.9v.9h-.9zM240.1 442.2h.9v.9h-.9zM231.3 431.3h.9v.9h-.9zM251.0 434.7h.9v.9h-.9zM195.2 451.5h.9v.9h-.9zM250.9 447.5h.9v.9h-.9zM233.3 437.9h.9v.9h-.9zM220.3 447.1h.9v.9h-.9zM230.7 429.0h.9v.9h-.9zM181.1 434.9h.9v.9h-.9zM223.2 445.7h.9v.9h-.9zM250.4 431.5h.9v.9h-.9zM249.8 446.6h.9v.9h-.9zM205.6 443.0h.9v.9h-.9zM227.6 447.3h.9v.9h-.9zM226.4 431.2h.9v.9h-.9zM218.7 442.7h.9v.9h-.9zM248.2 431.3h.9v.9h-.9zM233.8 440.1h.9v.9h-.9zM245.0 438.7h.9v.9h-.9zM221.2 443.7h.9v.9h-.9zM250.9 435.6h.9v.9h-.9zM196.3 426.4h.9v.9h-.9zM203.2 448.2h.9v.9h-.9zM206.9 443.9h.9v.9h-.9zM249.9 432.4h.9v.9h-.9zM218.2 432.1h.9v.9h-.9zM210.0 434.4h.9v.9h-.9zM207.9 446.3h.9v.9h-.9zM245.9 443.6h.9v.9h-.9zM234.2 433.8h.9v.9h-.9zM236.2 431.8h.9v.9h-.9zM240.4 431.3h.9v.9h-.9zM247.8 439.7h.9v.9h-.9zM248.8 441.7h.9v.9h-.9zM220.6 446.0h.9v.9h-.9zM249.1 443.9h.9v.9h-.9zM198.9 432.4h.9v.9h-.9zM220.7 431.0h.9v.9h-.9zM214.0 436.4h.9v.9h-.9zM244.3 439.0h.9v.9h-.9zM239.9 444.5h.9v.9h-.9zM242.7 441.9h.9v.9h-.9zM202.4 450.2h.9v.9h-.9zM225.7 447.8h.9v.9h-.9zM229.8 444.6h.9v.9h-.9zM251.3 442.9h.9v.9h-.9zM217.2 443.1h.9v.9h-.9zM222.4 429.6h.9v.9h-.9zM230.2 428.8h.9v.9h-.9zM236.5 431.0h.9v.9h-.9zM220.0 435.2h.9v.9h-.9zM233.6 446.6h.9v.9h-.9zM237.3 441.6h.9v.9h-.9zM187.1 450.2h.9v.9h-.9zM200.5 429.7h.9v.9h-.9zM229.7 431.4h.9v.9h-.9zM188.5 451.3h.9v.9h-.9zM218.7 438.0h.9v.9h-.9zM202.1 430.0h.9v.9h-.9zM251.3 443.7h.9v.9h-.9zM248.1 442.2h.9v.9h-.9zM234.6 443.0h.9v.9h-.9zM211.3 435.8h.9v.9h-.9zM239.6 430.9h.9v.9h-.9zM217.8 432.6h.9v.9h-.9zM194.2 451.5h.9v.9h-.9zM249.1 445.4h.9v.9h-.9zM249.7 438.9h.9v.9h-.9zM219.4 442.5h.9v.9h-.9zM222.3 427.9h.9v.9h-.9zM249.0 430.8h.9v.9h-.9zM196.1 426.7h.9v.9h-.9zM234.7 436.4h.9v.9h-.9zM217.2 432.7h.9v.9h-.9zM216.1 437.4h.9v.9h-.9zM221.6 431.6h.9v.9h-.9zM238.0 443.3h.9v.9h-.9zM236.6 445.8h.9v.9h-.9zM234.9 447.4h.9v.9h-.9zM188.3 450.8h.9v.9h-.9zM216.8 437.2h.9v.9h-.9zM202.9 430.3h.9v.9h-.9zM232.6 443.1h.9v.9h-.9zM202.1 428.9h.9v.9h-.9zM239.0 433.4h.9v.9h-.9zM249.4 438.7h.9v.9h-.9zM204.5 429.4h.9v.9h-.9zM212.4 444.0h.9v.9h-.9zM187.2 450.7h.9v.9h-.9zM250.4 444.4h.9v.9h-.9zM208.3 444.7h.9v.9h-.9zM250.7 436.4h.9v.9h-.9zM237.9 433.9h.9v.9h-.9zM221.4 445.5h.9v.9h-.9zM243.0 432.1h.9v.9h-.9zM180.2 439.3h.9v.9h-.9zM249.5 430.8h.9v.9h-.9zM195.4 426.0h.9v.9h-.9zM184.9 428.6h.9v.9h-.9zM220.6 433.0h.9v.9h-.9zM198.6 450.0h.9v.9h-.9zM182.4 445.2h.9v.9h-.9zM251.3 446.1h.9v.9h-.9zM247.5 443.4h.9v.9h-.9zM240.9 432.8h.9v.9h-.9zM227.9 446.4h.9v.9h-.9zM247.7 441.4h.9v.9h-.9zM204.1 446.4h.9v.9h-.9zM239.1 444.8h.9v.9h-.9zM244.8 439.2h.9v.9h-.9zM231.5 436.6h.9v.9h-.9zM249.2 439.8h.9v.9h-.9zM205.6 430.3h.9v.9h-.9zM240.2 435.3h.9v.9h-.9zM215.4 436.6h.9v.9h-.9zM201.2 431.5h.9v.9h-.9zM186.2 450.5h.9v.9h-.9zM221.9 447.2h.9v.9h-.9zM223.2 433.8h.9v.9h-.9zM250.5 440.0h.9v.9h-.9zM219.1 429.5h.9v.9h-.9zM248.3 446.3h.9v.9h-.9zM213.3 444.5h.9v.9h-.9zM239.1 440.8h.9v.9h-.9zM224.9 446.6h.9v.9h-.9zM202.3 428.8h.9v.9h-.9zM217.4 430.9h.9v.9h-.9zM244.0 433.3h.9v.9h-.9zM236.2 440.9h.9v.9h-.9zM184.6 429.1h.9v.9h-.9zM247.5 432.5h.9v.9h-.9zM231.0 429.2h.9v.9h-.9zM231.4 434.1h.9v.9h-.9zM244.5 431.7h.9v.9h-.9zM236.5 444.1h.9v.9h-.9zM194.7 427.0h.9v.9h-.9zM200.9 448.8h.9v.9h-.9zM184.8 449.6h.9v.9h-.9zM221.7 444.7h.9v.9h-.9zM181.9 444.4h.9v.9h-.9zM234.8 432.5h.9v.9h-.9zM234.0 434.7h.9v.9h-.9zM215.7 442.8h.9v.9h-.9zM187.9 430.1h.9v.9h-.9zM236.8 446.5h.9v.9h-.9zM237.3 434.7h.9v.9h-.9zM212.0 436.6h.9v.9h-.9zM208.8 431.3h.9v.9h-.9zM215.0 435.2h.9v.9h-.9zM224.6 448.4h.9v.9h-.9zM186.6 449.8h.9v.9h-.9zM208.9 432.3h.9v.9h-.9zM243.3 439.1h.9v.9h-.9zM220.2 428.6h.9v.9h-.9zM195.3 452.1h.9v.9h-.9zM248.8 447.8h.9v.9h-.9zM242.7 435.8h.9v.9h-.9zM236.5 435.5h.9v.9h-.9zM214.0 444.6h.9v.9h-.9zM215.6 445.2h.9v.9h-.9zM240.2 432.3h.9v.9h-.9zM234.7 443.2h.9v.9h-.9zM216.8 433.1h.9v.9h-.9zM186.6 450.9h.9v.9h-.9zM219.3 435.1h.9v.9h-.9zM221.9 428.9h.9v.9h-.9zM217.1 444.6h.9v.9h-.9zM221.8 427.8h.9v.9h-.9zM228.8 446.3h.9v.9h-.9zM213.1 431.8h.9v.9h-.9zM207.2 445.8h.9v.9h-.9zM246.0 442.0h.9v.9h-.9zM251.2 443.8h.9v.9h-.9zM214.5 443.1h.9v.9h-.9zM241.0 436.1h.9v.9h-.9zM217.2 437.0h.9v.9h-.9zM210.6 435.6h.9v.9h-.9zM251.8 440.1h.9v.9h-.9zM219.2 431.1h.9v.9h-.9zM251.5 431.2h.9v.9h-.9zM207.7 446.9h.9v.9h-.9zM238.3 440.3h.9v.9h-.9zM242.5 434.0h.9v.9h-.9zM208.2 446.9h.9v.9h-.9zM248.5 446.5h.9v.9h-.9zM218.8 432.4h.9v.9h-.9zM231.8 433.6h.9v.9h-.9zM185.3 430.4h.9v.9h-.9zM216.3 446.5h.9v.9h-.9zM233.9 442.2h.9v.9h-.9zM203.2 448.7h.9v.9h-.9zM247.7 442.8h.9v.9h-.9zM238.1 439.6h.9v.9h-.9zM207.2 432.3h.9v.9h-.9zM235.7 430.3h.9v.9h-.9zM197.3 427.2h.9v.9h-.9zM243.7 433.9h.9v.9h-.9zM236.2 435.8h.9v.9h-.9zM236.1 430.8h.9v.9h-.9zM252.0 440.3h.9v.9h-.9zM218.6 427.9h.9v.9h-.9zM231.3 434.9h.9v.9h-.9zM242.4 440.8h.9v.9h-.9zM237.1 432.0h.9v.9h-.9zM217.6 433.9h.9v.9h-.9zM204.0 446.3h.9v.9h-.9zM221.8 444.8h.9v.9h-.9zM234.5 435.7h.9v.9h-.9zM197.7 432.0h.9v.9h-.9zM238.2 432.4h.9v.9h-.9zM247.3 431.9h.9v.9h-.9zM233.2 437.3h.9v.9h-.9zM216.9 443.3h.9v.9h-.9zM236.4 443.4h.9v.9h-.9zM214.0 444.2h.9v.9h-.9zM242.5 439.9h.9v.9h-.9zM180.6 434.9h.9v.9h-.9zM230.5 428.4h.9v.9h-.9zM238.9 446.2h.9v.9h-.9zM235.7 448.2h.9v.9h-.9zM244.8 436.2h.9v.9h-.9zM249.1 439.6h.9v.9h-.9zM213.7 431.7h.9v.9h-.9zM234.6 433.4h.9v.9h-.9zM243.6 436.9h.9v.9h-.9zM205.2 444.9h.9v.9h-.9zM222.1 447.4h.9v.9h-.9zM219.4 443.2h.9v.9h-.9zM217.0 444.4h.9v.9h-.9zM235.5 443.5h.9v.9h-.9zM238.8 437.8h.9v.9h-.9zM211.1 435.1h.9v.9h-.9zM221.5 433.8h.9v.9h-.9zM209.4 447.3h.9v.9h-.9zM248.9 446.8h.9v.9h-.9zM189.3 450.2h.9v.9h-.9zM216.5 437.5h.9v.9h-.9zM206.8 429.8h.9v.9h-.9zM236.6 434.1h.9v.9h-.9zM239.4 442.0h.9v.9h-.9zM204.4 444.1h.9v.9h-.9zM218.6 428.6h.9v.9h-.9zM223.9 431.9h.9v.9h-.9zM217.4 435.1h.9v.9h-.9zM196.0 451.0h.9v.9h-.9zM248.5 441.6h.9v.9h-.9zM213.1 432.3h.9v.9h-.9zM238.2 438.5h.9v.9h-.9zM213.6 433.5h.9v.9h-.9zM218.3 443.9h.9v.9h-.9zM236.6 432.0h.9v.9h-.9zM240.3 432.9h.9v.9h-.9zM214.4 443.6h.9v.9h-.9zM210.2 432.4h.9v.9h-.9zM219.4 433.4h.9v.9h-.9zM238.5 438.5h.9v.9h-.9zM209.5 430.7h.9v.9h-.9zM239.4 445.6h.9v.9h-.9z" fill="#777da1" fill-opacity="0.55"/>
<path d="M191.6 447.6h.9v.9h-.9zM189.7 449.1h.9v.9h-.9zM188.7 449.3h.9v.9h-.9zM191.1 449.4h.9v.9h-.9zM194.7 430.4h.9v.9h-.9zM187.5 431.1h.9v.9h-.9zM198.4 429.3h.9v.9h-.9zM186.2 430.8h.9v.9h-.9zM184.2 432.4h.9v.9h-.9zM198.2 429.7h.9v.9h-.9zM208.2 434.7h.9v.9h-.9zM195.6 428.6h.9v.9h-.9zM182.1 439.8h.9v.9h-.9zM181.1 435.9h.9v.9h-.9zM194.2 448.5h.9v.9h-.9zM196.5 449.1h.9v.9h-.9zM188.7 430.7h.9v.9h-.9zM204.1 442.8h.9v.9h-.9zM186.9 448.4h.9v.9h-.9zM195.9 449.0h.9v.9h-.9zM196.8 430.1h.9v.9h-.9zM200.1 448.8h.9v.9h-.9zM182.0 434.9h.9v.9h-.9zM191.2 430.2h.9v.9h-.9zM196.3 428.3h.9v.9h-.9zM201.9 432.7h.9v.9h-.9zM203.6 442.7h.9v.9h-.9zM200.6 431.7h.9v.9h-.9zM187.2 449.1h.9v.9h-.9zM204.9 432.0h.9v.9h-.9zM188.6 431.1h.9v.9h-.9zM198.9 448.0h.9v.9h-.9zM186.0 447.6h.9v.9h-.9zM206.7 441.1h.9v.9h-.9zM192.2 429.7h.9v.9h-.9zM207.4 439.6h.9v.9h-.9zM192.4 430.5h.9v.9h-.9zM202.2 445.2h.9v.9h-.9zM199.1 433.0h.9v.9h-.9zM181.8 441.2h.9v.9h-.9zM201.1 433.6h.9v.9h-.9zM189.1 430.5h.9v.9h-.9zM204.6 436.3h.9v.9h-.9zM196.1 449.0h.9v.9h-.9zM190.9 449.5h.9v.9h-.9zM201.3 447.1h.9v.9h-.9zM194.0 430.0h.9v.9h-.9zM195.7 428.9h.9v.9h-.9zM194.7 429.0h.9v.9h-.9zM204.2 442.3h.9v.9h-.9zM202.6 431.1h.9v.9h-.9zM194.4 431.5h.9v.9h-.9zM203.0 433.2h.9v.9h-.9zM186.2 448.4h.9v.9h-.9zM198.5 429.0h.9v.9h-.9zM194.7 428.4h.9v.9h-.9zM181.8 442.5h.9v.9h-.9zM204.4 441.8h.9v.9h-.9zM195.0 427.8h.9v.9h-.9zM189.2 430.9h.9v.9h-.9zM198.0 429.2h.9v.9h-.9zM183.2 444.9h.9v.9h-.9zM206.8 437.9h.9v.9h-.9zM202.2 444.2h.9v.9h-.9zM198.0 430.3h.9v.9h-.9zM197.3 430.3h.9v.9h-.9zM193.8 431.0h.9v.9h-.9zM201.7 444.0h.9v.9h-.9zM189.6 430.3h.9v.9h-.9zM185.4 448.6h.9v.9h-.9zM195.0 428.8h.9v.9h-.9zM184.5 431.8h.9v.9h-.9zM198.9 449.4h.9v.9h-.9zM194.8 447.9h.9v.9h-.9zM230.7 432.6h.9v.9h-.9zM228.5 434.2h.9v.9h-.9zM228.9 433.6h.9v.9h-.9zM204.9 441.9h.9v.9h-.9zM205.2 435.9h.9v.9h-.9zM236.5 443.7h.9v.9h-.9zM192.2 428.8h.9v.9h-.9zM246.7 433.9h.9v.9h-.9zM249.1 435.9h.9v.9h-.9zM201.3 443.7h.9v.9h-.9zM208.5 442.8h.9v.9h-.9zM222.6 440.3h.9v.9h-.9zM214.8 438.2h.9v.9h-.9zM199.3 448.2h.9v.9h-.9zM235.9 444.6h.9v.9h-.9zM225.8 434.4h.9v.9h-.9zM209.1 436.1h.9v.9h-.9zM196.4 430.6h.9v.9h-.9zM183.1 442.6h.9v.9h-.9zM225.3 446.1h.9v.9h-.9zM207.7 433.2h.9v.9h-.9zM202.3 447.0h.9v.9h-.9zM220.5 439.9h.9v.9h-.9zM227.1 432.9h.9v.9h-.9zM221.8 439.4h.9v.9h-.9zM234.9 437.2h.9v.9h-.9zM209.2 440.7h.9v.9h-.9zM213.6 439.5h.9v.9h-.9zM220.1 429.9h.9v.9h-.9zM238.5 438.7h.9v.9h-.9zM204.8 439.2h.9v.9h-.9zM235.1 438.2h.9v.9h-.9zM181.1 436.0h.9v.9h-.9zM225.8 436.8h.9v.9h-.9zM231.4 441.4h.9v.9h-.9zM204.3 431.4h.9v.9h-.9zM250.3 437.0h.9v.9h-.9zM230.5 439.6h.9v.9h-.9zM224.8 433.5h.9v.9h-.9zM223.5 440.3h.9v.9h-.9zM207.4 439.7h.9v.9h-.9zM225.6 445.1h.9v.9h-.9zM205.8 438.4h.9v.9h-.9zM224.0 440.1h.9v.9h-.9zM209.9 437.1h.9v.9h-.9zM223.6 443.3h.9v.9h-.9zM226.3 436.1h.9v.9h-.9zM218.2 438.7h.9v.9h-.9zM233.9 438.9h.9v.9h-.9zM240.9 437.5h.9v.9h-.9zM223.1 437.0h.9v.9h-.9zM205.2 431.3h.9v.9h-.9zM226.8 436.9h.9v.9h-.9zM183.1 444.6h.9v.9h-.9zM204.7 432.2h.9v.9h-.9zM204.5 431.4h.9v.9h-.9zM210.6 436.9h.9v.9h-.9zM225.3 440.2h.9v.9h-.9zM225.1 442.8h.9v.9h-.9zM207.3 436.7h.9v.9h-.9zM226.4 434.2h.9v.9h-.9zM185.3 431.3h.9v.9h-.9zM230.2 432.3h.9v.9h-.9zM234.7 437.1h.9v.9h-.9zM223.7 436.2h.9v.9h-.9zM185.3 446.9h.9v.9h-.9zM206.1 437.9h.9v.9h-.9zM228.2 435.4h.9v.9h-.9zM225.3 434.1h.9v.9h-.9zM187.5 449.2h.9v.9h-.9zM242.4 436.8h.9v.9h-.9zM185.4 447.6h.9v.9h-.9zM195.6 432.3h.9v.9h-.9zM201.2 447.5h.9v.9h-.9zM229.2 444.4h.9v.9h-.9zM249.5 433.7h.9v.9h-.9zM247.3 435.7h.9v.9h-.9zM209.3 435.1h.9v.9h-.9zM189.7 429.8h.9v.9h-.9zM229.0 434.1h.9v.9h-.9zM226.1 444.8h.9v.9h-.9zM185.0 431.6h.9v.9h-.9zM218.3 442.0h.9v.9h-.9zM197.2 449.6h.9v.9h-.9zM196.7 429.2h.9v.9h-.9zM184.7 431.8h.9v.9h-.9zM222.2 441.7h.9v.9h-.9zM209.4 434.6h.9v.9h-.9zM219.6 439.3h.9v.9h-.9zM228.9 442.8h.9v.9h-.9zM197.8 449.3h.9v.9h-.9zM231.2 440.4h.9v.9h-.9zM195.1 447.8h.9v.9h-.9zM204.4 442.4h.9v.9h-.9zM235.4 444.3h.9v.9h-.9zM224.7 440.8h.9v.9h-.9zM205.5 439.9h.9v.9h-.9zM220.6 440.4h.9v.9h-.9zM242.0 437.5h.9v.9h-.9zM245.6 433.7h.9v.9h-.9zM208.5 440.2h.9v.9h-.9zM184.5 433.0h.9v.9h-.9zM203.2 433.2h.9v.9h-.9zM234.8 439.5h.9v.9h-.9zM221.8 434.8h.9v.9h-.9zM206.8 439.6h.9v.9h-.9zM222.7 434.6h.9v.9h-.9zM204.0 431.5h.9v.9h-.9zM215.5 439.6h.9v.9h-.9zM227.2 436.8h.9v.9h-.9zM182.2 433.8h.9v.9h-.9zM204.8 442.4h.9v.9h-.9zM224.1 437.4h.9v.9h-.9zM224.8 437.7h.9v.9h-.9zM201.0 433.2h.9v.9h-.9zM213.2 439.4h.9v.9h-.9zM210.0 439.1h.9v.9h-.9zM222.6 434.6h.9v.9h-.9zM210.0 440.4h.9v.9h-.9zM205.5 441.1h.9v.9h-.9zM203.4 432.8h.9v.9h-.9zM246.2 435.6h.9v.9h-.9zM227.0 437.2h.9v.9h-.9zM234.7 444.4h.9v.9h-.9zM225.5 439.6h.9v.9h-.9zM222.9 443.0h.9v.9h-.9zM207.4 435.8h.9v.9h-.9zM227.2 436.4h.9v.9h-.9zM207.1 435.6h.9v.9h-.9zM207.3 439.7h.9v.9h-.9zM205.8 440.9h.9v.9h-.9zM180.6 438.0h.9v.9h-.9zM198.0 430.3h.9v.9h-.9zM207.8 434.6h.9v.9h-.9zM248.6 438.5h.9v.9h-.9zM198.6 433.6h.9v.9h-.9zM181.2 435.8h.9v.9h-.9zM181.9 435.2h.9v.9h-.9zM211.1 443.2h.9v.9h-.9zM212.5 437.4h.9v.9h-.9zM228.1 434.2h.9v.9h-.9zM207.6 441.0h.9v.9h-.9zM213.1 436.8h.9v.9h-.9zM206.7 437.3h.9v.9h-.9zM209.4 439.3h.9v.9h-.9zM185.2 447.1h.9v.9h-.9zM250.1 436.2h.9v.9h-.9zM214.1 437.9h.9v.9h-.9zM216.6 440.8h.9v.9h-.9zM201.3 448.1h.9v.9h-.9zM228.9 444.2h.9v.9h-.9zM230.6 431.9h.9v.9h-.9zM214.5 442.3h.9v.9h-.9zM184.4 446.1h.9v.9h-.9zM225.1 441.6h.9v.9h-.9zM214.7 442.3h.9v.9h-.9zM229.2 438.5h.9v.9h-.9zM225.0 445.4h.9v.9h-.9zM191.7 430.1h.9v.9h-.9zM193.7 429.2h.9v.9h-.9zM205.3 438.0h.9v.9h-.9zM233.1 439.4h.9v.9h-.9zM201.3 432.2h.9v.9h-.9zM244.5 434.2h.9v.9h-.9zM234.9 444.1h.9v.9h-.9zM232.7 439.6h.9v.9h-.9zM202.5 434.8h.9v.9h-.9zM205.7 432.2h.9v.9h-.9zM206.7 439.4h.9v.9h-.9zM217.6 440.7h.9v.9h-.9zM228.4 434.9h.9v.9h-.9zM222.7 441.6h.9v.9h-.9zM221.5 442.0h.9v.9h-.9zM214.4 437.9h.9v.9h-.9zM236.0 437.2h.9v.9h-.9zM223.0 443.1h.9v.9h-.9zM184.9 448.5h.9v.9h-.9zM226.2 446.4h.9v.9h-.9zM224.4 439.3h.9v.9h-.9zM235.6 438.9h.9v.9h-.9zM213.3 440.1h.9v.9h-.9zM202.8 433.6h.9v.9h-.9zM204.4 431.8h.9v.9h-.9zM229.3 435.8h.9v.9h-.9zM198.1 430.0h.9v.9h-.9zM181.5 439.8h.9v.9h-.9zM230.5 433.0h.9v.9h-.9zM197.8 430.1h.9v.9h-.9zM236.4 438.4h.9v.9h-.9zM205.4 438.8h.9v.9h-.9zM219.7 430.7h.9v.9h-.9zM209.1 436.8h.9v.9h-.9zM210.0 442.3h.9v.9h-.9zM202.7 435.5h.9v.9h-.9zM226.1 445.9h.9v.9h-.9zM210.9 440.1h.9v.9h-.9zM247.9 436.4h.9v.9h-.9zM221.2 430.3h.9v.9h-.9zM182.4 435.0h.9v.9h-.9zM231.6 440.6h.9v.9h-.9zM208.2 435.6h.9v.9h-.9zM211.5 441.3h.9v.9h-.9zM208.4 442.3h.9v.9h-.9zM215.3 441.3h.9v.9h-.9zM219.0 438.9h.9v.9h-.9zM209.2 439.7h.9v.9h-.9zM180.8 439.6h.9v.9h-.9zM224.9 445.1h.9v.9h-.9zM223.8 434.5h.9v.9h-.9zM230.9 432.7h.9v.9h-.9zM231.1 439.8h.9v.9h-.9zM227.8 437.1h.9v.9h-.9zM216.9 439.5h.9v.9h-.9zM189.5 448.9h.9v.9h-.9zM183.7 432.6h.9v.9h-.9zM205.8 439.7h.9v.9h-.9zM192.4 429.6h.9v.9h-.9zM206.3 442.5h.9v.9h-.9zM221.4 435.7h.9v.9h-.9zM224.4 436.8h.9v.9h-.9zM223.3 439.8h.9v.9h-.9zM241.6 436.6h.9v.9h-.9zM234.9 443.8h.9v.9h-.9zM217.4 439.7h.9v.9h-.9zM224.4 441.1h.9v.9h-.9zM195.7 427.9h.9v.9h-.9zM204.4 434.0h.9v.9h-.9zM246.6 434.6h.9v.9h-.9zM222.9 443.3h.9v.9h-.9zM249.1 433.2h.9v.9h-.9zM211.2 443.0h.9v.9h-.9zM248.7 437.2h.9v.9h-.9zM212.4 438.6h.9v.9h-.9zM215.3 442.0h.9v.9h-.9zM221.7 436.2h.9v.9h-.9zM234.7 437.1h.9v.9h-.9zM245.5 436.3h.9v.9h-.9zM227.6 444.6h.9v.9h-.9zM247.9 434.0h.9v.9h-.9zM241.9 436.9h.9v.9h-.9zM244.6 434.4h.9v.9h-.9zM224.5 439.3h.9v.9h-.9zM197.8 430.6h.9v.9h-.9zM181.3 436.8h.9v.9h-.9zM228.1 434.9h.9v.9h-.9zM196.4 448.8h.9v.9h-.9zM219.0 438.7h.9v.9h-.9zM221.5 442.4h.9v.9h-.9zM227.8 434.0h.9v.9h-.9zM206.0 433.6h.9v.9h-.9zM205.5 436.4h.9v.9h-.9zM214.5 439.2h.9v.9h-.9zM228.3 435.3h.9v.9h-.9zM208.4 434.2h.9v.9h-.9zM212.6 442.5h.9v.9h-.9zM205.8 434.0h.9v.9h-.9zM229.5 437.0h.9v.9h-.9zM247.5 438.4h.9v.9h-.9zM232.3 440.5h.9v.9h-.9zM197.9 429.6h.9v.9h-.9zM229.3 443.5h.9v.9h-.9zM206.2 436.7h.9v.9h-.9zM212.1 437.9h.9v.9h-.9zM211.8 438.0h.9v.9h-.9zM247.6 433.7h.9v.9h-.9zM210.6 443.3h.9v.9h-.9zM202.8 432.1h.9v.9h-.9zM206.8 433.1h.9v.9h-.9zM231.1 441.0h.9v.9h-.9zM235.9 438.2h.9v.9h-.9zM207.6 434.0h.9v.9h-.9zM211.6 440.8h.9v.9h-.9zM208.0 442.3h.9v.9h-.9zM224.6 445.7h.9v.9h-.9zM227.7 435.3h.9v.9h-.9zM210.2 439.9h.9v.9h-.9zM215.5 439.5h.9v.9h-.9zM224.9 435.6h.9v.9h-.9zM207.9 443.3h.9v.9h-.9zM218.4 440.2h.9v.9h-.9zM205.5 430.8h.9v.9h-.9zM225.4 437.0h.9v.9h-.9zM232.3 440.9h.9v.9h-.9zM207.8 433.1h.9v.9h-.9zM202.3 443.8h.9v.9h-.9zM205.8 442.3h.9v.9h-.9zM230.1 432.9h.9v.9h-.9zM245.7 433.5h.9v.9h-.9zM249.0 437.5h.9v.9h-.9zM217.0 439.8h.9v.9h-.9zM209.5 437.0h.9v.9h-.9zM197.8 429.9h.9v.9h-.9zM241.2 437.1h.9v.9h-.9zM226.6 436.6h.9v.9h-.9zM213.8 440.9h.9v.9h-.9zM245.1 434.5h.9v.9h-.9zM225.1 444.1h.9v.9h-.9zM246.9 437.6h.9v.9h-.9zM195.2 428.6h.9v.9h-.9zM208.8 439.3h.9v.9h-.9zM235.0 444.5h.9v.9h-.9zM221.6 435.2h.9v.9h-.9zM223.4 435.1h.9v.9h-.9zM245.5 434.5h.9v.9h-.9zM224.9 445.8h.9v.9h-.9zM246.7 435.7h.9v.9h-.9zM226.7 435.6h.9v.9h-.9zM246.7 432.8h.9v.9h-.9zM224.9 444.6h.9v.9h-.9zM223.7 438.0h.9v.9h-.9zM204.3 432.8h.9v.9h-.9zM192.3 428.7h.9v.9h-.9zM223.6 433.8h.9v.9h-.9zM197.3 449.1h.9v.9h-.9zM236.0 438.4h.9v.9h-.9zM220.5 439.7h.9v.9h-.9zM211.5 441.7h.9v.9h-.9zM249.4 436.7h.9v.9h-.9zM206.8 438.0h.9v.9h-.9zM207.5 435.2h.9v.9h-.9zM218.2 440.0h.9v.9h-.9zM204.1 435.5h.9v.9h-.9zM228.4 433.4h.9v.9h-.9zM224.8 436.5h.9v.9h-.9zM224.6 440.7h.9v.9h-.9zM213.6 438.6h.9v.9h-.9zM246.6 435.3h.9v.9h-.9zM180.8 437.7h.9v.9h-.9zM206.5 435.0h.9v.9h-.9zM211.8 437.4h.9v.9h-.9zM186.1 430.6h.9v.9h-.9zM220.7 436.4h.9v.9h-.9zM229.8 442.3h.9v.9h-.9zM201.2 446.2h.9v.9h-.9zM208.3 437.7h.9v.9h-.9zM182.5 441.3h.9v.9h-.9zM205.5 439.3h.9v.9h-.9zM233.4 439.7h.9v.9h-.9zM225.2 439.5h.9v.9h-.9zM233.4 439.8h.9v.9h-.9zM219.6 440.1h.9v.9h-.9zM182.6 432.8h.9v.9h-.9zM247.4 434.4h.9v.9h-.9zM206.7 433.4h.9v.9h-.9zM247.0 437.0h.9v.9h-.9zM220.8 438.6h.9v.9h-.9zM229.8 432.6h.9v.9h-.9zM223.2 441.5h.9v.9h-.9zM180.7 440.2h.9v.9h-.9zM234.9 439.3h.9v.9h-.9zM216.9 440.3h.9v.9h-.9zM212.0 439.1h.9v.9h-.9zM221.4 430.1h.9v.9h-.9zM249.0 434.0h.9v.9h-.9zM226.6 435.9h.9v.9h-.9zM230.0 433.6h.9v.9h-.9zM226.4 436.7h.9v.9h-.9zM211.1 437.1h.9v.9h-.9zM200.9 447.1h.9v.9h-.9zM182.7 443.8h.9v.9h-.9zM201.6 446.2h.9v.9h-.9zM230.3 441.8h.9v.9h-.9zM246.7 432.6h.9v.9h-.9zM219.4 439.8h.9v.9h-.9zM248.6 436.9h.9v.9h-.9zM208.0 438.9h.9v.9h-.9zM204.1 431.9h.9v.9h-.9zM246.0 434.6h.9v.9h-.9zM223.7 443.4h.9v.9h-.9zM238.1 439.1h.9v.9h-.9zM209.6 436.0h.9v.9h-.9zM209.7 439.3h.9v.9h-.9zM207.5 435.4h.9v.9h-.9zM214.5 440.9h.9v.9h-.9zM200.9 447.8h.9v.9h-.9zM206.9 441.5h.9v.9h-.9zM228.4 444.0h.9v.9h-.9zM193.9 448.1h.9v.9h-.9zM219.7 430.7h.9v.9h-.9zM215.6 439.2h.9v.9h-.9zM218.4 441.2h.9v.9h-.9zM247.7 434.8h.9v.9h-.9zM228.5 435.4h.9v.9h-.9zM246.0 432.9h.9v.9h-.9zM227.5 434.7h.9v.9h-.9zM222.9 439.7h.9v.9h-.9zM211.5 440.0h.9v.9h-.9zM187.3 431.6h.9v.9h-.9zM247.9 435.9h.9v.9h-.9zM196.3 429.4h.9v.9h-.9zM242.1 436.7h.9v.9h-.9zM220.3 431.5h.9v.9h-.9zM223.4 443.5h.9v.9h-.9zM222.5 441.4h.9v.9h-.9zM213.8 439.1h.9v.9h-.9zM226.6 433.1h.9v.9h-.9zM231.8 440.8h.9v.9h-.9zM228.2 433.9h.9v.9h-.9zM211.9 440.9h.9v.9h-.9zM198.1 430.4h.9v.9h-.9zM219.7 440.4h.9v.9h-.9zM193.6 431.4h.9v.9h-.9zM235.2 439.1h.9v.9h-.9zM222.4 441.5h.9v.9h-.9zM221.9 436.3h.9v.9h-.9zM208.0 441.3h.9v.9h-.9zM208.3 437.7h.9v.9h-.9zM247.2 437.6h.9v.9h-.9zM222.2 435.0h.9v.9h-.9zM208.6 437.5h.9v.9h-.9zM225.8 433.8h.9v.9h-.9zM236.0 439.3h.9v.9h-.9zM224.1 440.0h.9v.9h-.9zM210.3 443.1h.9v.9h-.9zM210.2 440.0h.9v.9h-.9zM191.7 429.1h.9v.9h-.9zM235.1 444.2h.9v.9h-.9zM219.1 439.1h.9v.9h-.9zM205.7 436.2h.9v.9h-.9zM201.2 443.6h.9v.9h-.9zM209.1 436.4h.9v.9h-.9zM181.3 439.3h.9v.9h-.9zM183.0 444.0h.9v.9h-.9zM201.7 443.2h.9v.9h-.9zM244.5 434.2h.9v.9h-.9zM224.9 433.7h.9v.9h-.9zM217.3 441.1h.9v.9h-.9zM214.9 438.9h.9v.9h-.9zM204.0 432.5h.9v.9h-.9zM215.3 437.7h.9v.9h-.9zM200.3 448.0h.9v.9h-.9zM183.3 443.0h.9v.9h-.9zM215.5 442.4h.9v.9h-.9zM230.4 434.7h.9v.9h-.9zM205.3 434.9h.9v.9h-.9zM224.9 444.4h.9v.9h-.9zM208.3 439.9h.9v.9h-.9zM224.9 435.8h.9v.9h-.9zM211.6 438.5h.9v.9h-.9zM218.2 441.0h.9v.9h-.9zM201.1 446.4h.9v.9h-.9zM226.5 445.7h.9v.9h-.9zM204.6 440.9h.9v.9h-.9zM222.3 436.9h.9v.9h-.9zM221.5 435.7h.9v.9h-.9zM241.7 435.7h.9v.9h-.9zM229.0 435.9h.9v.9h-.9zM233.3 440.6h.9v.9h-.9zM247.6 434.2h.9v.9h-.9zM209.5 441.2h.9v.9h-.9zM181.8 440.9h.9v.9h-.9zM249.7 436.6h.9v.9h-.9zM208.4 442.8h.9v.9h-.9zM204.6 436.3h.9v.9h-.9zM229.2 436.1h.9v.9h-.9zM189.3 430.2h.9v.9h-.9zM220.9 436.0h.9v.9h-.9zM182.3 439.6h.9v.9h-.9zM206.9 441.1h.9v.9h-.9zM208.7 440.0h.9v.9h-.9zM230.7 432.3h.9v.9h-.9zM224.1 440.7h.9v.9h-.9zM224.8 433.6h.9v.9h-.9zM195.9 428.3h.9v.9h-.9zM227.3 434.4h.9v.9h-.9zM219.7 439.1h.9v.9h-.9zM222.7 435.7h.9v.9h-.9zM208.9 437.2h.9v.9h-.9zM187.3 449.0h.9v.9h-.9zM199.2 448.4h.9v.9h-.9zM212.6 440.8h.9v.9h-.9zM222.6 440.8h.9v.9h-.9zM247.0 437.0h.9v.9h-.9zM225.6 432.6h.9v.9h-.9zM205.7 434.8h.9v.9h-.9zM191.8 429.8h.9v.9h-.9zM222.1 439.9h.9v.9h-.9zM182.6 444.9h.9v.9h-.9zM222.3 436.6h.9v.9h-.9zM204.7 435.3h.9v.9h-.9zM249.9 436.0h.9v.9h-.9zM209.6 441.8h.9v.9h-.9zM205.5 440.9h.9v.9h-.9zM209.9 442.5h.9v.9h-.9zM234.9 437.8h.9v.9h-.9zM202.9 434.0h.9v.9h-.9zM197.9 433.4h.9v.9h-.9zM233.8 439.4h.9v.9h-.9zM236.3 438.3h.9v.9h-.9zM212.6 440.9h.9v.9h-.9zM229.8 432.3h.9v.9h-.9zM228.2 445.2h.9v.9h-.9zM228.0 445.5h.9v.9h-.9zM218.3 439.3h.9v.9h-.9zM248.3 437.8h.9v.9h-.9zM217.1 441.9h.9v.9h-.9zM185.7 431.6h.9v.9h-.9zM231.4 439.6h.9v.9h-.9zM221.2 441.1h.9v.9h-.9zM224.1 439.5h.9v.9h-.9zM207.7 436.7h.9v.9h-.9zM203.6 442.4h.9v.9h-.9zM234.6 437.6h.9v.9h-.9zM223.5 441.0h.9v.9h-.9zM229.7 435.4h.9v.9h-.9zM249.2 434.9h.9v.9h-.9zM230.4 443.0h.9v.9h-.9zM241.6 436.4h.9v.9h-.9zM220.9 439.3h.9v.9h-.9zM222.5 436.0h.9v.9h-.9zM210.3 442.2h.9v.9h-.9zM229.6 433.8h.9v.9h-.9zM217.9 439.1h.9v.9h-.9zM207.6 439.8h.9v.9h-.9zM214.3 439.8h.9v.9h-.9zM199.8 449.4h.9v.9h-.9zM231.7 439.8h.9v.9h-.9zM213.3 438.6h.9v.9h-.9zM200.9 448.0h.9v.9h-.9zM218.3 440.9h.9v.9h-.9zM202.8 431.5h.9v.9h-.9zM223.2 440.4h.9v.9h-.9zM231.2 440.6h.9v.9h-.9zM211.2 440.6h.9v.9h-.9zM245.9 436.1h.9v.9h-.9zM230.0 442.7h.9v.9h-.9zM181.3 437.9h.9v.9h-.9zM225.8 445.3h.9v.9h-.9zM245.8 433.2h.9v.9h-.9zM205.2 439.7h.9v.9h-.9zM230.9 431.6h.9v.9h-.9zM205.2 441.6h.9v.9h-.9zM233.2 440.5h.9v.9h-.9zM227.5 436.1h.9v.9h-.9zM226.1 435.9h.9v.9h-.9zM201.5 432.5h.9v.9h-.9zM199.5 449.6h.9v.9h-.9zM202.9 432.2h.9v.9h-.9zM208.7 442.9h.9v.9h-.9zM207.1 433.5h.9v.9h-.9zM202.2 446.1h.9v.9h-.9zM249.2 432.7h.9v.9h-.9zM224.8 445.1h.9v.9h-.9zM196.1 432.1h.9v.9h-.9zM218.8 439.7h.9v.9h-.9zM208.0 437.5h.9v.9h-.9zM180.7 435.8h.9v.9h-.9zM207.0 439.4h.9v.9h-.9zM247.5 433.0h.9v.9h-.9zM218.9 441.5h.9v.9h-.9zM206.3 435.1h.9v.9h-.9zM209.9 438.6h.9v.9h-.9zM210.9 441.2h.9v.9h-.9zM226.0 446.0h.9v.9h-.9zM210.5 443.5h.9v.9h-.9zM222.4 437.2h.9v.9h-.9zM200.9 445.8h.9v.9h-.9zM208.3 435.9h.9v.9h-.9zM208.1 433.7h.9v.9h-.9zM214.7 440.7h.9v.9h-.9zM231.2 432.2h.9v.9h-.9zM224.6 443.3h.9v.9h-.9zM210.1 437.9h.9v.9h-.9zM213.8 438.4h.9v.9h-.9zM222.7 441.1h.9v.9h-.9zM231.0 439.1h.9v.9h-.9zM225.2 442.6h.9v.9h-.9zM207.2 438.1h.9v.9h-.9zM212.6 439.7h.9v.9h-.9zM242.1 435.9h.9v.9h-.9zM213.3 441.2h.9v.9h-.9zM207.8 432.8h.9v.9h-.9zM216.3 442.4h.9v.9h-.9zM224.7 444.8h.9v.9h-.9zM200.9 446.3h.9v.9h-.9zM205.3 443.6h.9v.9h-.9zM224.6 432.7h.9v.9h-.9zM246.5 437.5h.9v.9h-.9zM215.4 438.5h.9v.9h-.9zM223.3 436.7h.9v.9h-.9zM246.9 434.9h.9v.9h-.9zM215.0 438.6h.9v.9h-.9zM241.4 437.3h.9v.9h-.9zM201.3 433.4h.9v.9h-.9zM204.5 433.5h.9v.9h-.9zM215.6 440.1h.9v.9h-.9zM213.4 442.1h.9v.9h-.9zM224.3 433.8h.9v.9h-.9zM212.3 436.8h.9v.9h-.9zM206.1 433.9h.9v.9h-.9zM224.7 438.3h.9v.9h-.9zM216.3 441.9h.9v.9h-.9zM208.1 442.7h.9v.9h-.9zM208.7 443.0h.9v.9h-.9zM211.5 440.8h.9v.9h-.9zM213.2 437.6h.9v.9h-.9zM204.7 434.6h.9v.9h-.9zM227.9 444.0h.9v.9h-.9zM214.3 441.0h.9v.9h-.9zM191.2 429.0h.9v.9h-.9zM211.6 438.0h.9v.9h-.9z" fill="#6e749a" fill-opacity="0.60"/>
<path d="M188.1 447.6h.9v.9h-.9zM196.2 446.8h.9v.9h-.9zM183.8 443.7h.9v.9h-.9zM198.6 445.9h.9v.9h-.9zM199.5 446.9h.9v.9h-.9zM204.2 436.0h.9v.9h-.9zM202.7 440.3h.9v.9h-.9zM193.4 431.2h.9v.9h-.9zM199.0 443.1h.9v.9h-.9zM195.0 431.9h.9v.9h-.9zM192.0 430.8h.9v.9h-.9zM198.9 444.4h.9v.9h-.9zM200.0 445.8h.9v.9h-.9zM182.3 436.6h.9v.9h-.9zM201.0 441.8h.9v.9h-.9zM186.8 431.9h.9v.9h-.9zM194.6 433.6h.9v.9h-.9zM202.7 439.4h.9v.9h-.9zM195.8 432.6h.9v.9h-.9zM193.5 431.9h.9v.9h-.9zM200.3 446.6h.9v.9h-.9zM201.3 434.3h.9v.9h-.9zM189.2 447.9h.9v.9h-.9zM183.9 441.9h.9v.9h-.9zM203.5 436.8h.9v.9h-.9zM188.5 431.7h.9v.9h-.9zM184.0 445.5h.9v.9h-.9zM198.1 445.7h.9v.9h-.9zM202.4 439.8h.9v.9h-.9zM181.9 437.1h.9v.9h-.9zM198.4 433.9h.9v.9h-.9zM182.7 441.6h.9v.9h-.9zM196.7 448.3h.9v.9h-.9zM197.1 447.2h.9v.9h-.9zM203.4 442.2h.9v.9h-.9zM198.2 446.9h.9v.9h-.9zM194.5 447.4h.9v.9h-.9zM186.0 447.2h.9v.9h-.9zM201.8 442.4h.9v.9h-.9zM191.9 431.1h.9v.9h-.9zM194.1 431.9h.9v.9h-.9zM198.7 444.0h.9v.9h-.9zM198.3 445.3h.9v.9h-.9zM189.3 448.3h.9v.9h-.9zM197.7 445.3h.9v.9h-.9zM196.9 448.1h.9v.9h-.9zM200.5 442.5h.9v.9h-.9zM198.8 443.2h.9v.9h-.9zM201.6 442.5h.9v.9h-.9zM201.8 435.9h.9v.9h-.9zM181.6 436.9h.9v.9h-.9zM196.7 448.1h.9v.9h-.9zM199.1 445.1h.9v.9h-.9zM199.8 434.1h.9v.9h-.9zM192.1 430.7h.9v.9h-.9zM195.4 433.5h.9v.9h-.9zM200.5 446.4h.9v.9h-.9zM181.9 438.3h.9v.9h-.9zM193.6 446.9h.9v.9h-.9zM184.7 433.4h.9v.9h-.9zM198.3 446.1h.9v.9h-.9zM202.6 441.2h.9v.9h-.9zM190.8 447.6h.9v.9h-.9zM185.9 432.2h.9v.9h-.9zM196.0 434.0h.9v.9h-.9zM201.5 435.7h.9v.9h-.9zM191.0 447.8h.9v.9h-.9zM202.9 437.6h.9v.9h-.9zM188.4 432.3h.9v.9h-.9zM228.7 440.2h.9v.9h-.9zM202.5 441.5h.9v.9h-.9zM226.8 444.4h.9v.9h-.9zM204.4 439.7h.9v.9h-.9zM184.4 434.2h.9v.9h-.9zM229.3 441.7h.9v.9h-.9zM226.3 443.7h.9v.9h-.9zM227.6 441.8h.9v.9h-.9zM227.0 442.8h.9v.9h-.9zM228.3 441.0h.9v.9h-.9zM185.9 447.3h.9v.9h-.9zM227.7 439.5h.9v.9h-.9zM183.3 439.3h.9v.9h-.9zM191.7 430.9h.9v.9h-.9zM183.2 439.1h.9v.9h-.9zM195.6 447.0h.9v.9h-.9zM184.8 433.0h.9v.9h-.9zM182.6 440.4h.9v.9h-.9zM183.0 439.8h.9v.9h-.9zM186.0 431.7h.9v.9h-.9zM201.1 435.4h.9v.9h-.9zM200.2 434.1h.9v.9h-.9zM196.2 434.0h.9v.9h-.9zM184.5 443.9h.9v.9h-.9zM201.6 441.3h.9v.9h-.9zM182.7 440.2h.9v.9h-.9zM226.2 441.9h.9v.9h-.9zM194.7 447.5h.9v.9h-.9zM200.3 445.0h.9v.9h-.9zM203.3 439.8h.9v.9h-.9zM199.6 433.7h.9v.9h-.9zM200.8 442.9h.9v.9h-.9zM198.0 442.7h.9v.9h-.9zM201.9 442.4h.9v.9h-.9zM184.8 446.0h.9v.9h-.9zM190.2 448.5h.9v.9h-.9zM184.8 433.1h.9v.9h-.9zM186.4 446.8h.9v.9h-.9zM183.2 439.4h.9v.9h-.9zM199.8 443.2h.9v.9h-.9zM227.4 438.3h.9v.9h-.9zM228.5 440.7h.9v.9h-.9zM182.0 437.7h.9v.9h-.9zM202.9 439.9h.9v.9h-.9zM227.2 437.8h.9v.9h-.9zM228.3 438.5h.9v.9h-.9zM200.6 434.5h.9v.9h-.9zM190.4 431.6h.9v.9h-.9zM203.0 438.7h.9v.9h-.9zM203.0 442.2h.9v.9h-.9zM196.7 447.5h.9v.9h-.9zM229.4 442.2h.9v.9h-.9zM195.8 433.8h.9v.9h-.9zM198.1 448.0h.9v.9h-.9zM196.2 446.8h.9v.9h-.9zM230.1 440.5h.9v.9h-.9zM200.5 441.8h.9v.9h-.9zM191.3 431.5h.9v.9h-.9zM182.0 436.0h.9v.9h-.9zM226.0 442.5h.9v.9h-.9zM197.2 447.6h.9v.9h-.9zM227.4 439.0h.9v.9h-.9zM225.8 440.5h.9v.9h-.9zM196.9 447.4h.9v.9h-.9zM184.2 442.2h.9v.9h-.9zM203.1 438.9h.9v.9h-.9zM183.0 436.5h.9v.9h-.9zM227.5 438.2h.9v.9h-.9zM227.9 440.4h.9v.9h-.9zM183.8 444.1h.9v.9h-.9zM183.7 441.7h.9v.9h-.9zM229.7 440.4h.9v.9h-.9zM195.2 433.3h.9v.9h-.9zM227.7 443.0h.9v.9h-.9zM197.9 446.6h.9v.9h-.9zM194.8 433.5h.9v.9h-.9zM183.9 434.5h.9v.9h-.9zM183.4 436.2h.9v.9h-.9zM227.2 440.0h.9v.9h-.9zM190.5 448.2h.9v.9h-.9zM205.2 437.3h.9v.9h-.9zM198.0 434.4h.9v.9h-.9zM199.8 433.9h.9v.9h-.9zM226.7 441.4h.9v.9h-.9zM226.8 440.8h.9v.9h-.9zM183.1 438.8h.9v.9h-.9zM196.4 448.0h.9v.9h-.9zM226.4 442.4h.9v.9h-.9zM197.4 434.1h.9v.9h-.9zM200.9 441.6h.9v.9h-.9zM199.9 443.0h.9v.9h-.9zM183.0 438.0h.9v.9h-.9zM227.4 441.7h.9v.9h-.9zM228.2 439.7h.9v.9h-.9zM202.3 442.1h.9v.9h-.9zM227.8 438.8h.9v.9h-.9zM198.1 445.9h.9v.9h-.9zM183.2 436.5h.9v.9h-.9zM227.4 440.6h.9v.9h-.9zM226.4 439.3h.9v.9h-.9zM192.3 430.7h.9v.9h-.9zM199.6 434.1h.9v.9h-.9zM227.8 443.3h.9v.9h-.9zM199.3 445.4h.9v.9h-.9zM227.3 441.8h.9v.9h-.9zM204.7 437.5h.9v.9h-.9zM229.6 440.0h.9v.9h-.9zM202.5 438.4h.9v.9h-.9zM227.2 442.2h.9v.9h-.9zM228.9 442.2h.9v.9h-.9zM227.5 439.4h.9v.9h-.9zM226.2 439.1h.9v.9h-.9zM225.7 444.4h.9v.9h-.9zM183.8 442.5h.9v.9h-.9zM227.6 441.9h.9v.9h-.9zM227.6 441.7h.9v.9h-.9zM204.0 437.3h.9v.9h-.9zM183.3 439.7h.9v.9h-.9zM198.2 434.1h.9v.9h-.9zM198.3 447.3h.9v.9h-.9zM194.3 431.7h.9v.9h-.9zM202.6 439.2h.9v.9h-.9zM183.3 437.9h.9v.9h-.9zM226.6 438.0h.9v.9h-.9zM183.8 445.5h.9v.9h-.9zM229.1 440.2h.9v.9h-.9zM228.7 439.3h.9v.9h-.9zM198.5 444.8h.9v.9h-.9zM183.0 442.1h.9v.9h-.9zM202.8 440.7h.9v.9h-.9zM228.7 440.9h.9v.9h-.9zM226.9 439.9h.9v.9h-.9zM189.1 432.3h.9v.9h-.9zM225.9 440.2h.9v.9h-.9zM204.1 436.0h.9v.9h-.9zM203.4 436.9h.9v.9h-.9zM229.7 441.2h.9v.9h-.9zM227.7 439.4h.9v.9h-.9zM200.1 442.0h.9v.9h-.9zM199.0 446.2h.9v.9h-.9zM199.8 445.6h.9v.9h-.9zM226.0 444.3h.9v.9h-.9zM199.6 442.0h.9v.9h-.9zM193.6 432.2h.9v.9h-.9zM225.9 443.6h.9v.9h-.9zM182.6 440.4h.9v.9h-.9zM201.3 435.2h.9v.9h-.9zM198.5 434.4h.9v.9h-.9zM199.5 434.1h.9v.9h-.9zM204.8 437.3h.9v.9h-.9zM228.9 441.9h.9v.9h-.9zM183.7 433.8h.9v.9h-.9zM199.5 434.2h.9v.9h-.9zM200.6 443.1h.9v.9h-.9zM195.7 446.8h.9v.9h-.9zM203.1 436.9h.9v.9h-.9zM226.2 444.6h.9v.9h-.9zM229.7 440.2h.9v.9h-.9zM183.9 442.4h.9v.9h-.9zM203.4 436.2h.9v.9h-.9zM202.6 437.9h.9v.9h-.9zM200.2 442.9h.9v.9h-.9zM182.9 438.0h.9v.9h-.9zM194.2 432.4h.9v.9h-.9zM205.2 437.5h.9v.9h-.9zM200.2 444.1h.9v.9h-.9zM226.8 441.5h.9v.9h-.9zM227.9 439.3h.9v.9h-.9zM203.1 438.3h.9v.9h-.9zM199.6 445.9h.9v.9h-.9zM230.0 440.6h.9v.9h-.9zM196.1 433.2h.9v.9h-.9zM201.1 443.4h.9v.9h-.9zM187.7 432.0h.9v.9h-.9zM183.1 438.2h.9v.9h-.9zM202.6 440.0h.9v.9h-.9zM204.4 440.7h.9v.9h-.9zM189.6 432.3h.9v.9h-.9zM227.3 441.8h.9v.9h-.9zM200.4 447.0h.9v.9h-.9zM228.0 438.9h.9v.9h-.9zM228.5 439.1h.9v.9h-.9zM199.9 444.5h.9v.9h-.9zM203.8 441.5h.9v.9h-.9zM197.2 447.1h.9v.9h-.9z" fill="#6d7193" fill-opacity="0.64"/>
<path d="M185.1 443.9h.9v.9h-.9zM185.2 442.7h.9v.9h-.9zM186.5 446.2h.9v.9h-.9zM186.4 442.7h.9v.9h-.9zM190.2 447.4h.9v.9h-.9zM187.7 445.9h.9v.9h-.9zM185.4 442.1h.9v.9h-.9zM188.5 446.8h.9v.9h-.9zM187.2 442.5h.9v.9h-.9zM190.0 446.9h.9v.9h-.9zM187.9 446.6h.9v.9h-.9zM187.8 446.4h.9v.9h-.9zM192.7 447.0h.9v.9h-.9zM200.0 441.6h.9v.9h-.9zM185.6 442.2h.9v.9h-.9zM196.5 435.3h.9v.9h-.9zM194.2 433.1h.9v.9h-.9zM184.7 440.2h.9v.9h-.9zM199.7 440.7h.9v.9h-.9zM184.8 445.6h.9v.9h-.9zM186.4 439.6h.9v.9h-.9zM196.0 445.3h.9v.9h-.9zM185.0 443.3h.9v.9h-.9zM197.2 435.7h.9v.9h-.9zM195.9 446.4h.9v.9h-.9zM185.5 442.7h.9v.9h-.9zM193.6 446.5h.9v.9h-.9zM199.6 439.2h.9v.9h-.9zM184.1 435.8h.9v.9h-.9zM193.3 431.9h.9v.9h-.9zM198.8 435.5h.9v.9h-.9zM187.4 442.1h.9v.9h-.9zM201.8 438.2h.9v.9h-.9zM192.4 447.6h.9v.9h-.9zM199.6 439.1h.9v.9h-.9zM198.4 441.2h.9v.9h-.9zM189.6 432.7h.9v.9h-.9zM193.1 431.8h.9v.9h-.9zM186.5 433.3h.9v.9h-.9zM199.2 442.1h.9v.9h-.9zM193.6 446.0h.9v.9h-.9zM198.2 434.7h.9v.9h-.9zM200.4 438.8h.9v.9h-.9zM196.3 443.7h.9v.9h-.9zM186.5 433.1h.9v.9h-.9zM184.9 443.9h.9v.9h-.9zM186.5 441.0h.9v.9h-.9zM185.2 437.7h.9v.9h-.9zM184.9 443.7h.9v.9h-.9zM196.4 444.3h.9v.9h-.9zM190.5 433.0h.9v.9h-.9zM184.0 439.9h.9v.9h-.9zM190.2 433.3h.9v.9h-.9zM195.9 435.2h.9v.9h-.9zM185.2 440.8h.9v.9h-.9zM201.3 438.8h.9v.9h-.9zM186.2 444.2h.9v.9h-.9zM193.7 446.4h.9v.9h-.9zM199.5 442.5h.9v.9h-.9zM193.5 433.0h.9v.9h-.9zM191.9 447.2h.9v.9h-.9zM199.5 441.0h.9v.9h-.9zM183.5 437.6h.9v.9h-.9zM186.3 433.1h.9v.9h-.9zM184.8 443.8h.9v.9h-.9zM187.3 433.4h.9v.9h-.9zM193.2 446.9h.9v.9h-.9zM185.1 445.5h.9v.9h-.9zM184.8 444.5h.9v.9h-.9zM186.0 445.0h.9v.9h-.9zM195.3 434.1h.9v.9h-.9zM198.2 442.4h.9v.9h-.9zM185.4 441.5h.9v.9h-.9zM194.9 445.7h.9v.9h-.9zM192.8 446.8h.9v.9h-.9zM198.5 441.4h.9v.9h-.9zM200.4 435.6h.9v.9h-.9zM185.1 437.7h.9v.9h-.9zM187.1 445.8h.9v.9h-.9zM183.8 436.0h.9v.9h-.9zM197.1 446.4h.9v.9h-.9zM195.0 434.5h.9v.9h-.9zM187.4 445.8h.9v.9h-.9zM196.9 444.6h.9v.9h-.9zM184.5 440.3h.9v.9h-.9zM196.1 435.1h.9v.9h-.9zM194.1 433.6h.9v.9h-.9zM185.7 443.3h.9v.9h-.9zM199.7 435.1h.9v.9h-.9zM196.8 443.0h.9v.9h-.9zM188.3 446.0h.9v.9h-.9zM189.5 447.5h.9v.9h-.9zM185.2 444.4h.9v.9h-.9zM197.7 434.9h.9v.9h-.9zM185.1 442.2h.9v.9h-.9zM185.3 439.5h.9v.9h-.9zM187.3 443.4h.9v.9h-.9zM186.2 445.8h.9v.9h-.9zM201.4 435.7h.9v.9h-.9zM197.2 445.2h.9v.9h-.9zM192.6 432.9h.9v.9h-.9zM186.3 441.5h.9v.9h-.9zM184.2 437.9h.9v.9h-.9zM186.8 446.4h.9v.9h-.9zM191.7 433.5h.9v.9h-.9zM184.5 437.3h.9v.9h-.9zM192.2 433.4h.9v.9h-.9zM184.4 437.7h.9v.9h-.9zM196.3 446.2h.9v.9h-.9zM197.3 442.8h.9v.9h-.9zM184.6 440.6h.9v.9h-.9zM198.4 434.8h.9v.9h-.9zM197.5 435.9h.9v.9h-.9zM187.1 445.6h.9v.9h-.9zM191.2 433.4h.9v.9h-.9zM186.2 445.2h.9v.9h-.9zM183.8 435.9h.9v.9h-.9zM190.8 447.0h.9v.9h-.9zM183.5 435.1h.9v.9h-.9zM197.6 434.7h.9v.9h-.9zM190.2 432.6h.9v.9h-.9zM201.0 436.4h.9v.9h-.9zM200.6 435.9h.9v.9h-.9zM197.5 444.2h.9v.9h-.9zM191.3 433.6h.9v.9h-.9zM187.7 446.9h.9v.9h-.9zM201.4 440.0h.9v.9h-.9zM201.0 436.3h.9v.9h-.9zM184.3 439.2h.9v.9h-.9zM190.8 432.6h.9v.9h-.9zM197.5 435.1h.9v.9h-.9zM193.3 431.7h.9v.9h-.9zM186.0 439.5h.9v.9h-.9zM199.3 441.6h.9v.9h-.9zM185.8 440.8h.9v.9h-.9zM192.7 432.8h.9v.9h-.9zM188.6 446.9h.9v.9h-.9zM202.4 439.2h.9v.9h-.9zM185.0 439.7h.9v.9h-.9zM198.7 435.3h.9v.9h-.9zM199.9 440.2h.9v.9h-.9zM197.7 441.2h.9v.9h-.9zM201.8 437.0h.9v.9h-.9zM191.5 432.0h.9v.9h-.9zM184.7 440.7h.9v.9h-.9zM185.7 445.4h.9v.9h-.9zM200.9 439.0h.9v.9h-.9zM202.3 437.3h.9v.9h-.9zM187.7 445.7h.9v.9h-.9zM184.1 435.2h.9v.9h-.9zM186.9 443.0h.9v.9h-.9zM197.8 441.0h.9v.9h-.9zM194.2 446.2h.9v.9h-.9zM192.8 447.5h.9v.9h-.9zM188.8 447.4h.9v.9h-.9zM195.9 444.8h.9v.9h-.9zM190.7 433.3h.9v.9h-.9zM185.2 442.0h.9v.9h-.9zM187.7 446.5h.9v.9h-.9zM196.0 443.8h.9v.9h-.9zM186.3 446.5h.9v.9h-.9zM183.6 435.2h.9v.9h-.9zM201.6 439.2h.9v.9h-.9zM184.8 440.5h.9v.9h-.9zM183.5 434.7h.9v.9h-.9zM198.7 435.0h.9v.9h-.9zM199.8 440.8h.9v.9h-.9zM194.3 446.1h.9v.9h-.9zM197.6 434.7h.9v.9h-.9zM197.0 446.1h.9v.9h-.9zM187.1 432.6h.9v.9h-.9zM201.8 437.2h.9v.9h-.9zM195.8 435.2h.9v.9h-.9zM187.2 441.6h.9v.9h-.9zM201.1 439.1h.9v.9h-.9zM186.1 432.9h.9v.9h-.9zM186.4 439.2h.9v.9h-.9zM184.8 444.0h.9v.9h-.9zM202.3 438.7h.9v.9h-.9zM200.8 440.1h.9v.9h-.9zM188.9 447.4h.9v.9h-.9zM198.0 435.3h.9v.9h-.9zM191.0 432.9h.9v.9h-.9zM184.7 438.7h.9v.9h-.9zM192.0 446.9h.9v.9h-.9zM190.3 447.4h.9v.9h-.9zM202.2 436.7h.9v.9h-.9zM200.1 440.4h.9v.9h-.9zM183.7 434.6h.9v.9h-.9zM184.1 440.5h.9v.9h-.9zM186.1 445.0h.9v.9h-.9zM197.2 435.3h.9v.9h-.9zM195.7 435.8h.9v.9h-.9zM185.8 445.7h.9v.9h-.9zM194.7 446.4h.9v.9h-.9zM183.5 438.0h.9v.9h-.9zM193.4 433.1h.9v.9h-.9zM199.6 439.1h.9v.9h-.9zM192.8 432.2h.9v.9h-.9zM193.1 447.4h.9v.9h-.9zM197.2 444.6h.9v.9h-.9zM186.8 433.2h.9v.9h-.9zM186.5 442.8h.9v.9h-.9zM184.7 443.7h.9v.9h-.9zM191.9 433.1h.9v.9h-.9zM186.0 443.7h.9v.9h-.9zM187.3 445.9h.9v.9h-.9zM197.3 435.9h.9v.9h-.9zM196.0 444.0h.9v.9h-.9zM198.9 440.0h.9v.9h-.9z" fill="#6e708b" fill-opacity="0.68"/>
<path d="M190.0 445.1h.9v.9h-.9zM193.8 442.4h.9v.9h-.9zM189.0 445.9h.9v.9h-.9zM186.7 438.4h.9v.9h-.9zM189.3 441.8h.9v.9h-.9zM194.3 434.7h.9v.9h-.9zM187.4 438.9h.9v.9h-.9zM190.9 446.5h.9v.9h-.9zM192.7 433.7h.9v.9h-.9zM191.5 446.6h.9v.9h-.9zM188.1 441.0h.9v.9h-.9zM189.4 444.4h.9v.9h-.9zM189.4 444.6h.9v.9h-.9zM189.9 446.6h.9v.9h-.9zM187.9 445.2h.9v.9h-.9zM190.4 446.2h.9v.9h-.9zM187.8 440.6h.9v.9h-.9zM193.2 445.3h.9v.9h-.9zM186.9 437.5h.9v.9h-.9zM191.6 442.3h.9v.9h-.9zM189.4 444.5h.9v.9h-.9zM189.5 445.5h.9v.9h-.9zM195.3 440.8h.9v.9h-.9zM192.8 440.6h.9v.9h-.9zM191.6 433.7h.9v.9h-.9zM185.5 437.3h.9v.9h-.9zM193.7 434.3h.9v.9h-.9zM197.9 438.0h.9v.9h-.9zM188.7 443.5h.9v.9h-.9zM186.4 436.0h.9v.9h-.9zM187.2 440.5h.9v.9h-.9zM194.7 444.0h.9v.9h-.9zM184.6 437.3h.9v.9h-.9zM197.9 438.6h.9v.9h-.9zM189.1 445.5h.9v.9h-.9zM195.0 438.4h.9v.9h-.9zM188.5 444.7h.9v.9h-.9zM188.9 442.5h.9v.9h-.9zM188.3 433.3h.9v.9h-.9zM196.4 442.8h.9v.9h-.9zM194.5 441.7h.9v.9h-.9zM188.0 432.8h.9v.9h-.9zM192.7 444.9h.9v.9h-.9zM192.9 439.7h.9v.9h-.9zM195.7 442.3h.9v.9h-.9zM188.3 442.4h.9v.9h-.9zM197.7 438.5h.9v.9h-.9zM188.4 444.3h.9v.9h-.9zM192.3 445.9h.9v.9h-.9zM198.5 439.4h.9v.9h-.9zM199.9 436.9h.9v.9h-.9zM193.5 442.0h.9v.9h-.9zM188.5 443.7h.9v.9h-.9zM194.7 441.1h.9v.9h-.9zM192.0 442.8h.9v.9h-.9zM195.1 445.0h.9v.9h-.9zM189.4 444.0h.9v.9h-.9zM189.9 445.9h.9v.9h-.9zM188.5 443.4h.9v.9h-.9zM194.0 439.5h.9v.9h-.9zM194.5 437.4h.9v.9h-.9zM184.8 436.6h.9v.9h-.9zM194.8 445.4h.9v.9h-.9zM198.4 439.3h.9v.9h-.9zM187.2 437.7h.9v.9h-.9zM193.4 446.5h.9v.9h-.9zM190.3 433.7h.9v.9h-.9zM197.0 441.6h.9v.9h-.9zM185.6 436.7h.9v.9h-.9zM198.5 438.7h.9v.9h-.9zM186.5 436.6h.9v.9h-.9zM196.1 438.2h.9v.9h-.9zM194.0 434.7h.9v.9h-.9zM195.5 442.7h.9v.9h-.9zM199.5 435.8h.9v.9h-.9zM195.8 441.7h.9v.9h-.9zM199.3 437.3h.9v.9h-.9zM193.2 445.1h.9v.9h-.9zM199.5 436.2h.9v.9h-.9zM190.6 446.1h.9v.9h-.9zM193.3 440.2h.9v.9h-.9zM184.8 436.0h.9v.9h-.9zM193.9 444.2h.9v.9h-.9zM193.5 444.7h.9v.9h-.9zM193.5 441.8h.9v.9h-.9zM184.8 437.0h.9v.9h-.9zM195.4 435.9h.9v.9h-.9zM193.9 435.5h.9v.9h-.9zM192.8 442.8h.9v.9h-.9zM194.3 443.0h.9v.9h-.9zM196.7 437.6h.9v.9h-.9zM199.2 435.8h.9v.9h-.9zM199.4 436.7h.9v.9h-.9zM197.1 437.6h.9v.9h-.9zM185.9 435.2h.9v.9h-.9zM194.4 441.5h.9v.9h-.9zM187.0 437.2h.9v.9h-.9zM189.0 443.1h.9v.9h-.9zM195.2 438.6h.9v.9h-.9zM191.4 446.1h.9v.9h-.9zM188.7 445.5h.9v.9h-.9zM186.2 434.0h.9v.9h-.9zM192.6 443.8h.9v.9h-.9zM196.4 441.9h.9v.9h-.9zM195.7 438.5h.9v.9h-.9zM198.9 437.8h.9v.9h-.9zM199.3 437.0h.9v.9h-.9zM192.9 441.4h.9v.9h-.9zM193.0 443.2h.9v.9h-.9zM197.6 437.2h.9v.9h-.9zM189.1 443.3h.9v.9h-.9zM194.3 443.2h.9v.9h-.9zM187.2 434.5h.9v.9h-.9zM189.2 442.5h.9v.9h-.9zM185.5 436.9h.9v.9h-.9zM200.4 438.4h.9v.9h-.9zM195.0 442.0h.9v.9h-.9zM188.5 443.9h.9v.9h-.9zM200.8 438.5h.9v.9h-.9zM201.4 437.2h.9v.9h-.9zM186.7 438.4h.9v.9h-.9zM197.5 442.5h.9v.9h-.9zM194.5 437.7h.9v.9h-.9zM185.9 433.8h.9v.9h-.9zM198.9 438.5h.9v.9h-.9zM194.6 443.3h.9v.9h-.9zM198.0 438.9h.9v.9h-.9zM186.4 438.3h.9v.9h-.9zM196.9 438.4h.9v.9h-.9zM192.9 446.4h.9v.9h-.9zM186.6 433.8h.9v.9h-.9zM200.1 437.3h.9v.9h-.9zM195.6 436.9h.9v.9h-.9zM185.1 435.7h.9v.9h-.9zM190.5 446.5h.9v.9h-.9zM187.2 438.3h.9v.9h-.9zM193.9 444.6h.9v.9h-.9zM194.7 438.0h.9v.9h-.9zM185.4 435.2h.9v.9h-.9zM194.9 435.2h.9v.9h-.9zM193.7 434.7h.9v.9h-.9zM200.3 436.9h.9v.9h-.9zM201.1 436.8h.9v.9h-.9zM195.1 441.3h.9v.9h-.9zM186.1 437.1h.9v.9h-.9zM187.4 438.7h.9v.9h-.9zM188.2 443.9h.9v.9h-.9zM188.1 444.3h.9v.9h-.9zM194.3 442.0h.9v.9h-.9zM191.7 443.4h.9v.9h-.9zM190.9 446.3h.9v.9h-.9zM186.4 433.7h.9v.9h-.9zM194.8 444.0h.9v.9h-.9zM195.3 439.9h.9v.9h-.9zM200.6 436.8h.9v.9h-.9zM194.4 435.1h.9v.9h-.9zM195.0 436.9h.9v.9h-.9zM186.3 436.4h.9v.9h-.9zM193.5 444.1h.9v.9h-.9zM198.5 435.8h.9v.9h-.9zM193.0 442.4h.9v.9h-.9zM197.0 438.0h.9v.9h-.9zM190.1 433.9h.9v.9h-.9zM186.6 440.1h.9v.9h-.9zM188.7 444.0h.9v.9h-.9zM195.2 435.0h.9v.9h-.9zM196.9 441.9h.9v.9h-.9zM188.8 444.5h.9v.9h-.9zM185.1 434.9h.9v.9h-.9zM190.2 434.0h.9v.9h-.9zM192.8 433.7h.9v.9h-.9zM199.2 439.0h.9v.9h-.9zM195.6 443.4h.9v.9h-.9zM195.8 441.2h.9v.9h-.9zM196.9 440.7h.9v.9h-.9zM195.1 436.9h.9v.9h-.9zM196.1 443.6h.9v.9h-.9zM186.0 433.8h.9v.9h-.9zM185.9 436.6h.9v.9h-.9zM194.9 439.6h.9v.9h-.9zM191.8 443.0h.9v.9h-.9zM195.1 442.3h.9v.9h-.9zM198.4 436.8h.9v.9h-.9zM200.4 438.1h.9v.9h-.9zM186.8 434.4h.9v.9h-.9zM185.8 435.8h.9v.9h-.9zM195.4 437.2h.9v.9h-.9zM199.6 436.5h.9v.9h-.9zM191.7 442.7h.9v.9h-.9zM198.1 437.4h.9v.9h-.9zM195.1 435.1h.9v.9h-.9zM186.6 444.3h.9v.9h-.9zM197.4 441.2h.9v.9h-.9zM193.2 440.8h.9v.9h-.9zM198.1 440.3h.9v.9h-.9zM193.2 439.6h.9v.9h-.9zM196.0 441.5h.9v.9h-.9zM199.4 439.1h.9v.9h-.9zM193.0 440.4h.9v.9h-.9zM200.3 437.7h.9v.9h-.9zM185.5 436.3h.9v.9h-.9zM185.8 435.2h.9v.9h-.9zM194.5 443.1h.9v.9h-.9zM200.9 436.8h.9v.9h-.9zM199.5 436.5h.9v.9h-.9zM194.8 441.3h.9v.9h-.9zM191.1 446.6h.9v.9h-.9zM184.7 434.7h.9v.9h-.9zM186.1 437.9h.9v.9h-.9zM195.3 437.5h.9v.9h-.9zM194.7 442.1h.9v.9h-.9zM186.6 445.2h.9v.9h-.9zM193.0 444.8h.9v.9h-.9zM187.6 433.3h.9v.9h-.9zM188.5 443.9h.9v.9h-.9zM196.3 438.5h.9v.9h-.9zM192.6 444.7h.9v.9h-.9zM195.0 444.0h.9v.9h-.9zM188.3 441.8h.9v.9h-.9zM196.1 443.0h.9v.9h-.9zM198.0 438.2h.9v.9h-.9zM195.2 442.9h.9v.9h-.9zM195.0 438.4h.9v.9h-.9zM200.7 436.9h.9v.9h-.9zM191.7 434.6h.9v.9h-.9zM193.7 441.8h.9v.9h-.9zM185.2 435.2h.9v.9h-.9zM187.7 441.4h.9v.9h-.9zM198.0 435.8h.9v.9h-.9zM197.7 439.3h.9v.9h-.9zM196.9 441.0h.9v.9h-.9zM196.5 443.6h.9v.9h-.9zM194.9 441.0h.9v.9h-.9zM190.1 443.6h.9v.9h-.9zM188.1 432.8h.9v.9h-.9zM194.5 437.7h.9v.9h-.9zM196.8 442.2h.9v.9h-.9zM192.9 445.6h.9v.9h-.9zM200.2 437.7h.9v.9h-.9zM194.5 437.9h.9v.9h-.9zM186.8 439.3h.9v.9h-.9zM199.3 437.4h.9v.9h-.9zM189.6 434.2h.9v.9h-.9zM188.5 444.5h.9v.9h-.9zM187.4 439.5h.9v.9h-.9zM195.2 445.6h.9v.9h-.9zM192.6 445.0h.9v.9h-.9zM194.6 437.0h.9v.9h-.9zM201.3 437.1h.9v.9h-.9zM185.7 435.3h.9v.9h-.9zM184.5 436.6h.9v.9h-.9zM201.3 437.1h.9v.9h-.9z" fill="#747382" fill-opacity="0.73"/>
<path d="M190.1 442.5h.9v.9h-.9zM189.7 444.0h.9v.9h-.9zM190.6 434.8h.9v.9h-.9zM191.3 444.7h.9v.9h-.9zM188.4 440.5h.9v.9h-.9zM187.9 434.6h.9v.9h-.9zM191.7 439.1h.9v.9h-.9zM190.1 442.3h.9v.9h-.9zM191.0 442.6h.9v.9h-.9zM192.4 439.8h.9v.9h-.9zM187.9 438.8h.9v.9h-.9zM192.4 437.8h.9v.9h-.9zM187.4 435.4h.9v.9h-.9zM190.3 440.7h.9v.9h-.9zM191.4 443.7h.9v.9h-.9zM190.3 444.6h.9v.9h-.9zM192.6 435.0h.9v.9h-.9zM193.2 437.6h.9v.9h-.9zM191.6 437.6h.9v.9h-.9zM190.3 434.8h.9v.9h-.9zM188.3 434.1h.9v.9h-.9zM187.5 440.5h.9v.9h-.9zM191.8 437.9h.9v.9h-.9zM188.6 435.4h.9v.9h-.9zM196.8 440.3h.9v.9h-.9zM192.1 444.0h.9v.9h-.9zM191.6 438.7h.9v.9h-.9zM188.9 436.1h.9v.9h-.9zM192.5 435.0h.9v.9h-.9zM194.2 436.3h.9v.9h-.9zM188.6 441.2h.9v.9h-.9zM193.4 436.3h.9v.9h-.9zM189.1 436.6h.9v.9h-.9zM188.2 438.0h.9v.9h-.9zM187.5 440.1h.9v.9h-.9zM191.6 441.4h.9v.9h-.9zM187.1 434.8h.9v.9h-.9zM191.4 441.8h.9v.9h-.9zM193.4 435.7h.9v.9h-.9zM191.8 445.6h.9v.9h-.9zM192.4 440.5h.9v.9h-.9zM187.8 434.2h.9v.9h-.9zM190.6 443.6h.9v.9h-.9zM197.4 439.7h.9v.9h-.9zM190.6 442.9h.9v.9h-.9zM192.6 438.8h.9v.9h-.9zM188.6 435.1h.9v.9h-.9zM190.4 442.1h.9v.9h-.9zM193.3 435.6h.9v.9h-.9zM187.2 436.6h.9v.9h-.9zM188.7 434.9h.9v.9h-.9zM192.4 439.7h.9v.9h-.9zM189.3 436.4h.9v.9h-.9zM192.1 444.2h.9v.9h-.9zM192.2 438.9h.9v.9h-.9zM188.8 435.3h.9v.9h-.9zM196.6 440.3h.9v.9h-.9zM188.7 434.7h.9v.9h-.9zM192.0 434.9h.9v.9h-.9zM194.0 437.2h.9v.9h-.9zM192.3 444.4h.9v.9h-.9zM188.9 441.0h.9v.9h-.9zM189.9 435.0h.9v.9h-.9zM194.5 439.4h.9v.9h-.9zM192.0 437.2h.9v.9h-.9zM196.4 440.2h.9v.9h-.9zM188.2 434.5h.9v.9h-.9zM190.5 435.1h.9v.9h-.9zM192.7 438.3h.9v.9h-.9zM188.3 436.2h.9v.9h-.9zM196.2 440.1h.9v.9h-.9zM195.8 439.4h.9v.9h-.9zM191.9 445.6h.9v.9h-.9zM189.4 436.6h.9v.9h-.9zM197.4 439.0h.9v.9h-.9zM191.0 444.6h.9v.9h-.9zM190.8 435.1h.9v.9h-.9zM196.7 439.7h.9v.9h-.9zM192.1 436.2h.9v.9h-.9zM192.3 444.8h.9v.9h-.9zM192.3 441.4h.9v.9h-.9zM190.8 435.5h.9v.9h-.9zM188.0 436.5h.9v.9h-.9zM192.3 435.3h.9v.9h-.9zM195.4 438.7h.9v.9h-.9zM189.5 444.0h.9v.9h-.9zM193.2 436.4h.9v.9h-.9zM191.8 439.8h.9v.9h-.9zM196.7 439.7h.9v.9h-.9zM195.9 439.6h.9v.9h-.9zM192.3 436.8h.9v.9h-.9zM192.3 440.8h.9v.9h-.9zM189.7 442.3h.9v.9h-.9zM191.6 437.1h.9v.9h-.9zM188.2 433.8h.9v.9h-.9zM187.5 436.4h.9v.9h-.9zM192.2 438.2h.9v.9h-.9zM188.1 434.8h.9v.9h-.9zM192.3 435.2h.9v.9h-.9zM193.0 435.5h.9v.9h-.9zM197.4 439.4h.9v.9h-.9zM192.4 435.4h.9v.9h-.9zM192.0 437.9h.9v.9h-.9zM192.5 436.1h.9v.9h-.9zM192.2 437.1h.9v.9h-.9zM192.0 438.0h.9v.9h-.9zM191.5 439.3h.9v.9h-.9zM195.5 439.3h.9v.9h-.9zM188.5 434.7h.9v.9h-.9zM191.4 443.3h.9v.9h-.9zM188.4 439.8h.9v.9h-.9zM189.4 434.4h.9v.9h-.9zM191.7 445.0h.9v.9h-.9zM197.1 439.3h.9v.9h-.9zM188.2 434.5h.9v.9h-.9zM195.9 439.3h.9v.9h-.9zM187.9 437.9h.9v.9h-.9zM191.9 437.0h.9v.9h-.9zM190.6 440.7h.9v.9h-.9zM195.7 439.8h.9v.9h-.9zM187.9 439.7h.9v.9h-.9zM194.3 436.4h.9v.9h-.9zM193.3 434.8h.9v.9h-.9zM190.7 435.0h.9v.9h-.9zM186.9 434.8h.9v.9h-.9zM191.4 444.4h.9v.9h-.9zM188.5 433.8h.9v.9h-.9zM191.3 445.0h.9v.9h-.9zM194.8 438.7h.9v.9h-.9zM194.3 435.8h.9v.9h-.9zM189.5 435.3h.9v.9h-.9zM197.4 438.8h.9v.9h-.9zM188.2 435.9h.9v.9h-.9zM194.3 436.2h.9v.9h-.9zM196.1 439.3h.9v.9h-.9zM191.7 440.3h.9v.9h-.9zM190.2 440.9h.9v.9h-.9zM188.5 435.7h.9v.9h-.9zM195.9 439.3h.9v.9h-.9zM192.2 440.5h.9v.9h-.9zM192.0 444.7h.9v.9h-.9zM191.2 440.9h.9v.9h-.9zM193.3 438.3h.9v.9h-.9zM195.8 440.0h.9v.9h-.9zM192.3 437.1h.9v.9h-.9zM193.8 436.3h.9v.9h-.9zM188.1 438.7h.9v.9h-.9zM193.1 436.2h.9v.9h-.9zM194.8 439.0h.9v.9h-.9zM192.3 444.7h.9v.9h-.9zM193.1 435.6h.9v.9h-.9zM191.1 443.7h.9v.9h-.9zM187.8 434.4h.9v.9h-.9zM191.6 437.0h.9v.9h-.9zM192.5 444.4h.9v.9h-.9zM191.1 441.8h.9v.9h-.9zM192.6 439.5h.9v.9h-.9zM190.8 443.2h.9v.9h-.9zM188.8 435.3h.9v.9h-.9zM187.8 438.9h.9v.9h-.9zM189.6 441.5h.9v.9h-.9zM192.2 436.1h.9v.9h-.9zM190.8 435.4h.9v.9h-.9zM191.8 440.7h.9v.9h-.9zM189.8 435.0h.9v.9h-.9zM187.9 436.7h.9v.9h-.9zM189.3 434.1h.9v.9h-.9zM194.6 438.7h.9v.9h-.9z" fill="#847f71" fill-opacity="0.77"/>
<path d="M189.3 440.1h.9v.9h-.9zM189.2 439.3h.9v.9h-.9zM189.2 439.6h.9v.9h-.9zM189.2 440.6h.9v.9h-.9zM189.7 436.4h.9v.9h-.9zM189.9 437.7h.9v.9h-.9zM190.8 440.3h.9v.9h-.9zM190.2 436.5h.9v.9h-.9zM190.5 435.7h.9v.9h-.9zM189.1 438.5h.9v.9h-.9zM189.3 440.6h.9v.9h-.9zM189.3 438.9h.9v.9h-.9zM191.0 440.6h.9v.9h-.9zM190.3 440.1h.9v.9h-.9zM189.2 439.4h.9v.9h-.9zM190.0 437.8h.9v.9h-.9zM189.4 439.1h.9v.9h-.9zM190.2 438.2h.9v.9h-.9zM191.0 435.8h.9v.9h-.9zM191.1 439.1h.9v.9h-.9zM189.6 440.3h.9v.9h-.9zM191.3 436.5h.9v.9h-.9zM189.7 440.4h.9v.9h-.9zM190.8 439.9h.9v.9h-.9zM189.8 437.8h.9v.9h-.9zM189.0 438.1h.9v.9h-.9zM189.8 439.6h.9v.9h-.9zM190.5 438.4h.9v.9h-.9zM189.8 437.4h.9v.9h-.9zM189.2 436.9h.9v.9h-.9zM188.6 437.7h.9v.9h-.9zM188.8 439.2h.9v.9h-.9zM189.3 438.5h.9v.9h-.9zM189.2 440.1h.9v.9h-.9zM189.8 437.9h.9v.9h-.9zM189.9 438.3h.9v.9h-.9zM189.8 436.8h.9v.9h-.9zM189.4 437.3h.9v.9h-.9zM188.7 439.1h.9v.9h-.9zM191.0 439.9h.9v.9h-.9zM189.3 440.2h.9v.9h-.9zM190.2 438.1h.9v.9h-.9zM189.5 436.1h.9v.9h-.9zM188.8 438.0h.9v.9h-.9zM189.1 436.7h.9v.9h-.9zM190.9 440.5h.9v.9h-.9zM190.8 440.5h.9v.9h-.9zM190.5 437.4h.9v.9h-.9zM191.3 438.3h.9v.9h-.9zM190.6 439.1h.9v.9h-.9zM190.4 440.1h.9v.9h-.9zM189.2 437.1h.9v.9h-.9z" fill="#948a60" fill-opacity="0.82"/>
<path d="M190.4 438.6h.9v.9h-.9zM190.4 439.3h.9v.9h-.9zM189.9 439.5h.9v.9h-.9zM189.8 439.2h.9v.9h-.9zM189.9 438.8h.9v.9h-.9zM189.7 439.6h.9v.9h-.9z" fill="#9a905c" fill-opacity="0.86"/>
</g>
<path d="M173.5 383.6H256.2V465.2" fill="none" stroke="#222" stroke-width="1.4"/>
<rect x="203.4" y="399" width="49.9" height="65" fill="none" stroke="#1a1a1a" stroke-width="1.3"/>
<line x1="173.5" y1="383.1" x2="173.5" y2="465.9" stroke="#1a1a1a" stroke-width="1.5"/>
<line x1="172.8" y1="465.2" x2="256.9" y2="465.2" stroke="#1a1a1a" stroke-width="1.5"/>
<line x1="170.5" y1="465.2" x2="173.5" y2="465.2" stroke="#1a1a1a" stroke-width="1.1"/>
<text x="167" y="468.2" font-size="8.6" fill="#2a2a2a" text-anchor="end" textLength="4.3" lengthAdjust="spacingAndGlyphs">0</text>
<line x1="170.5" y1="449.18" x2="173.5" y2="449.18" stroke="#1a1a1a" stroke-width="1.1"/>
<text x="167" y="452.18" font-size="8.6" fill="#2a2a2a" text-anchor="end" textLength="12.9" lengthAdjust="spacingAndGlyphs">200</text>
<line x1="170.5" y1="433.16" x2="173.5" y2="433.16" stroke="#1a1a1a" stroke-width="1.1"/>
<text x="167" y="436.16" font-size="8.6" fill="#2a2a2a" text-anchor="end" textLength="12.9" lengthAdjust="spacingAndGlyphs">400</text>
<line x1="170.5" y1="417.14" x2="173.5" y2="417.14" stroke="#1a1a1a" stroke-width="1.1"/>
<text x="167" y="420.14" font-size="8.6" fill="#2a2a2a" text-anchor="end" textLength="12.9" lengthAdjust="spacingAndGlyphs">600</text>
<line x1="170.5" y1="401.12" x2="173.5" y2="401.12" stroke="#1a1a1a" stroke-width="1.1"/>
<text x="167" y="404.12" font-size="8.6" fill="#2a2a2a" text-anchor="end" textLength="12.9" lengthAdjust="spacingAndGlyphs">800</text>
<line x1="170.5" y1="385.1" x2="173.5" y2="385.1" stroke="#1a1a1a" stroke-width="1.1"/>
<text x="167" y="388.1" font-size="8.6" fill="#2a2a2a" text-anchor="end" textLength="16.2" lengthAdjust="spacingAndGlyphs">1.0K</text>
<line x1="171.9" y1="461.19" x2="173.5" y2="461.19" stroke="#1a1a1a" stroke-width="0.9"/>
<line x1="171.9" y1="457.19" x2="173.5" y2="457.19" stroke="#1a1a1a" stroke-width="0.9"/>
<line x1="171.9" y1="453.19" x2="173.5" y2="453.19" stroke="#1a1a1a" stroke-width="0.9"/>
<line x1="171.9" y1="445.18" x2="173.5" y2="445.18" stroke="#1a1a1a" stroke-width="0.9"/>
<line x1="171.9" y1="441.17" x2="173.5" y2="441.17" stroke="#1a1a1a" stroke-width="0.9"/>
<line x1="171.9" y1="437.17" x2="173.5" y2="437.17" stroke="#1a1a1a" stroke-width="0.9"/>
<line x1="171.9" y1="429.16" x2="173.5" y2="429.16" stroke="#1a1a1a" stroke-width="0.9"/>
<line x1="171.9" y1="425.15" x2="173.5" y2="425.15" stroke="#1a1a1a" stroke-width="0.9"/>
<line x1="171.9" y1="421.14" x2="173.5" y2="421.14" stroke="#1a1a1a" stroke-width="0.9"/>
<line x1="171.9" y1="413.13" x2="173.5" y2="413.13" stroke="#1a1a1a" stroke-width="0.9"/>
<line x1="171.9" y1="409.13" x2="173.5" y2="409.13" stroke="#1a1a1a" stroke-width="0.9"/>
<line x1="171.9" y1="405.12" x2="173.5" y2="405.12" stroke="#1a1a1a" stroke-width="0.9"/>
<line x1="171.9" y1="397.12" x2="173.5" y2="397.12" stroke="#1a1a1a" stroke-width="0.9"/>
<line x1="171.9" y1="393.11" x2="173.5" y2="393.11" stroke="#1a1a1a" stroke-width="0.9"/>
<line x1="171.9" y1="389.11" x2="173.5" y2="389.11" stroke="#1a1a1a" stroke-width="0.9"/>
<line x1="173.5" y1="465.2" x2="173.5" y2="468.2" stroke="#1a1a1a" stroke-width="1.1"/>
<text x="176.5" y="478.4" font-size="8.6" fill="#2a2a2a" text-anchor="end" textLength="8.6" lengthAdjust="spacingAndGlyphs">10</text>
<text x="176.8" y="474.8" font-size="6" fill="#2a2a2a">0</text>
<line x1="179.72" y1="465.2" x2="179.72" y2="466.9" stroke="#1a1a1a" stroke-width="0.8"/>
<line x1="183.36" y1="465.2" x2="183.36" y2="466.9" stroke="#1a1a1a" stroke-width="0.8"/>
<line x1="185.95" y1="465.2" x2="185.95" y2="466.9" stroke="#1a1a1a" stroke-width="0.8"/>
<line x1="187.95" y1="465.2" x2="187.95" y2="466.9" stroke="#1a1a1a" stroke-width="0.8"/>
<line x1="189.59" y1="465.2" x2="189.59" y2="466.9" stroke="#1a1a1a" stroke-width="0.8"/>
<line x1="190.97" y1="465.2" x2="190.97" y2="466.9" stroke="#1a1a1a" stroke-width="0.8"/>
<line x1="192.17" y1="465.2" x2="192.17" y2="466.9" stroke="#1a1a1a" stroke-width="0.8"/>
<line x1="193.23" y1="465.2" x2="193.23" y2="466.9" stroke="#1a1a1a" stroke-width="0.8"/>
<line x1="194.18" y1="465.2" x2="194.18" y2="468.2" stroke="#1a1a1a" stroke-width="1.1"/>
<text x="197.18" y="478.4" font-size="8.6" fill="#2a2a2a" text-anchor="end" textLength="8.6" lengthAdjust="spacingAndGlyphs">10</text>
<text x="197.48" y="474.8" font-size="6" fill="#2a2a2a">1</text>
<line x1="200.4" y1="465.2" x2="200.4" y2="466.9" stroke="#1a1a1a" stroke-width="0.8"/>
<line x1="204.04" y1="465.2" x2="204.04" y2="466.9" stroke="#1a1a1a" stroke-width="0.8"/>
<line x1="206.62" y1="465.2" x2="206.62" y2="466.9" stroke="#1a1a1a" stroke-width="0.8"/>
<line x1="208.63" y1="465.2" x2="208.63" y2="466.9" stroke="#1a1a1a" stroke-width="0.8"/>
<line x1="210.26" y1="465.2" x2="210.26" y2="466.9" stroke="#1a1a1a" stroke-width="0.8"/>
<line x1="211.65" y1="465.2" x2="211.65" y2="466.9" stroke="#1a1a1a" stroke-width="0.8"/>
<line x1="212.85" y1="465.2" x2="212.85" y2="466.9" stroke="#1a1a1a" stroke-width="0.8"/>
<line x1="213.9" y1="465.2" x2="213.9" y2="466.9" stroke="#1a1a1a" stroke-width="0.8"/>
<line x1="214.85" y1="465.2" x2="214.85" y2="468.2" stroke="#1a1a1a" stroke-width="1.1"/>
<text x="217.85" y="478.4" font-size="8.6" fill="#2a2a2a" text-anchor="end" textLength="8.6" lengthAdjust="spacingAndGlyphs">10</text>
<text x="218.15" y="474.8" font-size="6" fill="#2a2a2a">2</text>
<line x1="221.07" y1="465.2" x2="221.07" y2="466.9" stroke="#1a1a1a" stroke-width="0.8"/>
<line x1="224.71" y1="465.2" x2="224.71" y2="466.9" stroke="#1a1a1a" stroke-width="0.8"/>
<line x1="227.3" y1="465.2" x2="227.3" y2="466.9" stroke="#1a1a1a" stroke-width="0.8"/>
<line x1="229.3" y1="465.2" x2="229.3" y2="466.9" stroke="#1a1a1a" stroke-width="0.8"/>
<line x1="230.94" y1="465.2" x2="230.94" y2="466.9" stroke="#1a1a1a" stroke-width="0.8"/>
<line x1="232.32" y1="465.2" x2="232.32" y2="466.9" stroke="#1a1a1a" stroke-width="0.8"/>
<line x1="233.52" y1="465.2" x2="233.52" y2="466.9" stroke="#1a1a1a" stroke-width="0.8"/>
<line x1="234.58" y1="465.2" x2="234.58" y2="466.9" stroke="#1a1a1a" stroke-width="0.8"/>
<line x1="235.52" y1="465.2" x2="235.52" y2="468.2" stroke="#1a1a1a" stroke-width="1.1"/>
<text x="238.52" y="478.4" font-size="8.6" fill="#2a2a2a" text-anchor="end" textLength="8.6" lengthAdjust="spacingAndGlyphs">10</text>
<text x="238.82" y="474.8" font-size="6" fill="#2a2a2a">3</text>
<line x1="241.75" y1="465.2" x2="241.75" y2="466.9" stroke="#1a1a1a" stroke-width="0.8"/>
<line x1="245.39" y1="465.2" x2="245.39" y2="466.9" stroke="#1a1a1a" stroke-width="0.8"/>
<line x1="247.97" y1="465.2" x2="247.97" y2="466.9" stroke="#1a1a1a" stroke-width="0.8"/>
<line x1="249.98" y1="465.2" x2="249.98" y2="466.9" stroke="#1a1a1a" stroke-width="0.8"/>
<line x1="251.61" y1="465.2" x2="251.61" y2="466.9" stroke="#1a1a1a" stroke-width="0.8"/>
<line x1="253" y1="465.2" x2="253" y2="466.9" stroke="#1a1a1a" stroke-width="0.8"/>
<line x1="254.2" y1="465.2" x2="254.2" y2="466.9" stroke="#1a1a1a" stroke-width="0.8"/>
<line x1="255.25" y1="465.2" x2="255.25" y2="466.9" stroke="#1a1a1a" stroke-width="0.8"/>
<line x1="256.2" y1="465.2" x2="256.2" y2="468.2" stroke="#1a1a1a" stroke-width="1.1"/>
<text x="259.2" y="478.4" font-size="8.6" fill="#2a2a2a" text-anchor="end" textLength="8.6" lengthAdjust="spacingAndGlyphs">10</text>
<text x="259.5" y="474.8" font-size="6" fill="#2a2a2a">4</text>
<text x="218.6" y="378.3" font-size="10.4" fill="#2a2a2a" text-anchor="middle">13.6-kb</text>
<text x="228.35" y="395.2" font-size="8" fill="#2a2a2a" text-anchor="middle">39.3±7.6%</text>
<g>
<path d="M327.9 442.7h.9v.9h-.9zM303.5 419.7h.9v.9h-.9zM332.7 420.1h.9v.9h-.9zM308.2 415.1h.9v.9h-.9zM312.9 408.5h.9v.9h-.9zM324.2 448.8h.9v.9h-.9zM314.7 406.1h.9v.9h-.9zM313.8 464.1h.9v.9h-.9zM321.0 449.4h.9v.9h-.9zM324.9 414.0h.9v.9h-.9zM312.4 460.7h.9v.9h-.9zM328.3 417.5h.9v.9h-.9zM307.2 462.2h.9v.9h-.9zM315.4 460.5h.9v.9h-.9zM303.5 415.5h.9v.9h-.9zM332.2 419.4h.9v.9h-.9zM313.7 410.1h.9v.9h-.9zM321.0 452.5h.9v.9h-.9zM318.6 413.3h.9v.9h-.9zM300.9 462.4h.9v.9h-.9zM316.5 413.7h.9v.9h-.9zM317.3 458.1h.9v.9h-.9zM299.8 457.8h.9v.9h-.9zM298.9 426.2h.9v.9h-.9zM330.9 437.3h.9v.9h-.9zM328.5 449.8h.9v.9h-.9zM320.8 412.2h.9v.9h-.9zM313.7 406.3h.9v.9h-.9zM313.5 405.6h.9v.9h-.9zM327.8 436.4h.9v.9h-.9zM324.0 449.1h.9v.9h-.9zM315.8 411.2h.9v.9h-.9zM315.3 407.9h.9v.9h-.9zM322.6 460.2h.9v.9h-.9zM310.2 414.2h.9v.9h-.9zM322.8 412.0h.9v.9h-.9zM317.3 415.3h.9v.9h-.9zM325.6 414.3h.9v.9h-.9zM332.1 428.7h.9v.9h-.9zM329.9 435.2h.9v.9h-.9zM301.5 422.4h.9v.9h-.9zM329.4 438.0h.9v.9h-.9zM330.5 426.2h.9v.9h-.9zM307.8 411.3h.9v.9h-.9zM304.8 415.0h.9v.9h-.9zM312.4 408.9h.9v.9h-.9zM312.4 412.1h.9v.9h-.9zM307.5 407.0h.9v.9h-.9zM299.5 456.1h.9v.9h-.9zM330.7 422.2h.9v.9h-.9zM307.8 411.0h.9v.9h-.9zM298.5 457.4h.9v.9h-.9zM314.9 403.7h.9v.9h-.9zM330.1 421.9h.9v.9h-.9zM313.8 414.3h.9v.9h-.9zM302.3 460.3h.9v.9h-.9zM327.9 443.1h.9v.9h-.9zM300.4 462.0h.9v.9h-.9zM299.6 459.3h.9v.9h-.9zM298.0 424.4h.9v.9h-.9zM297.7 452.9h.9v.9h-.9zM321.2 410.0h.9v.9h-.9zM325.7 402.8h.9v.9h-.9zM327.8 441.4h.9v.9h-.9zM320.7 414.2h.9v.9h-.9zM318.5 454.8h.9v.9h-.9zM324.4 446.9h.9v.9h-.9zM321.6 457.1h.9v.9h-.9zM329.6 422.5h.9v.9h-.9zM331.2 439.5h.9v.9h-.9zM330.0 422.9h.9v.9h-.9zM308.5 415.7h.9v.9h-.9zM329.9 414.7h.9v.9h-.9zM320.8 410.7h.9v.9h-.9zM320.5 407.1h.9v.9h-.9zM339.0 449.3h.9v.9h-.9zM347.5 423.5h.9v.9h-.9zM338.4 447.4h.9v.9h-.9zM356.9 440.7h.9v.9h-.9zM329.4 447.7h.9v.9h-.9zM351.3 424.6h.9v.9h-.9zM352.7 426.2h.9v.9h-.9zM340.7 436.3h.9v.9h-.9zM334.2 442.8h.9v.9h-.9zM351.0 431.0h.9v.9h-.9zM350.5 417.3h.9v.9h-.9zM339.4 442.2h.9v.9h-.9zM351.5 436.0h.9v.9h-.9zM353.1 446.2h.9v.9h-.9zM339.5 458.6h.9v.9h-.9zM327.8 439.0h.9v.9h-.9zM349.9 443.9h.9v.9h-.9zM339.3 429.4h.9v.9h-.9zM330.3 447.1h.9v.9h-.9zM343.0 447.2h.9v.9h-.9zM360.0 427.1h.9v.9h-.9zM350.4 442.7h.9v.9h-.9zM337.6 453.8h.9v.9h-.9zM342.4 420.5h.9v.9h-.9zM337.8 437.3h.9v.9h-.9zM352.0 459.7h.9v.9h-.9zM346.1 434.2h.9v.9h-.9zM339.0 433.9h.9v.9h-.9zM334.1 455.7h.9v.9h-.9zM342.2 462.8h.9v.9h-.9zM335.0 431.2h.9v.9h-.9zM350.0 432.4h.9v.9h-.9zM349.3 434.3h.9v.9h-.9zM327.7 429.9h.9v.9h-.9zM356.4 430.3h.9v.9h-.9zM345.8 439.9h.9v.9h-.9zM366.8 438.6h.9v.9h-.9zM362.2 442.9h.9v.9h-.9zM343.9 438.5h.9v.9h-.9zM344.7 426.3h.9v.9h-.9zM336.9 445.5h.9v.9h-.9zM333.5 440.6h.9v.9h-.9zM353.5 432.5h.9v.9h-.9zM343.8 435.5h.9v.9h-.9zM354.9 445.7h.9v.9h-.9zM346.2 448.6h.9v.9h-.9zM344.4 435.1h.9v.9h-.9zM347.1 438.0h.9v.9h-.9zM365.4 427.3h.9v.9h-.9zM335.4 442.9h.9v.9h-.9zM350.6 446.7h.9v.9h-.9zM347.5 439.8h.9v.9h-.9zM357.6 437.3h.9v.9h-.9zM358.4 431.2h.9v.9h-.9zM364.6 440.3h.9v.9h-.9zM338.8 427.5h.9v.9h-.9zM351.9 439.4h.9v.9h-.9zM344.0 438.4h.9v.9h-.9zM355.2 429.3h.9v.9h-.9zM347.9 441.4h.9v.9h-.9zM339.3 444.1h.9v.9h-.9zM347.7 433.4h.9v.9h-.9zM341.4 442.9h.9v.9h-.9zM343.8 453.5h.9v.9h-.9zM336.6 445.9h.9v.9h-.9zM356.6 431.9h.9v.9h-.9zM349.0 434.7h.9v.9h-.9zM356.4 419.7h.9v.9h-.9zM337.0 436.7h.9v.9h-.9zM340.2 439.3h.9v.9h-.9zM344.8 418.0h.9v.9h-.9zM353.6 429.7h.9v.9h-.9zM357.6 442.0h.9v.9h-.9zM360.5 421.9h.9v.9h-.9zM353.0 434.1h.9v.9h-.9zM347.3 463.3h.9v.9h-.9zM352.6 439.7h.9v.9h-.9zM341.6 411.2h.9v.9h-.9zM338.7 429.1h.9v.9h-.9zM351.7 443.3h.9v.9h-.9zM348.3 440.5h.9v.9h-.9zM354.2 442.6h.9v.9h-.9zM339.6 447.5h.9v.9h-.9zM349.6 446.5h.9v.9h-.9zM344.7 420.6h.9v.9h-.9zM339.2 462.7h.9v.9h-.9zM336.2 435.2h.9v.9h-.9zM333.5 431.8h.9v.9h-.9zM359.3 452.8h.9v.9h-.9zM333.0 444.1h.9v.9h-.9zM352.1 447.7h.9v.9h-.9zM343.9 432.1h.9v.9h-.9zM341.8 445.1h.9v.9h-.9zM345.3 427.0h.9v.9h-.9zM351.5 435.7h.9v.9h-.9zM346.2 435.3h.9v.9h-.9zM333.5 431.3h.9v.9h-.9zM363.7 442.3h.9v.9h-.9zM336.8 440.5h.9v.9h-.9zM331.6 449.4h.9v.9h-.9z" fill="#a5add1" fill-opacity="0.42"/>
<path d="M314.4 419.5h.9v.9h-.9zM325.7 440.2h.9v.9h-.9zM303.5 425.2h.9v.9h-.9zM320.8 418.9h.9v.9h-.9zM299.8 456.9h.9v.9h-.9zM321.3 416.3h.9v.9h-.9zM305.5 457.6h.9v.9h-.9zM311.6 460.3h.9v.9h-.9zM322.4 417.2h.9v.9h-.9zM298.5 431.1h.9v.9h-.9zM302.7 425.4h.9v.9h-.9zM312.0 417.0h.9v.9h-.9zM305.9 421.5h.9v.9h-.9zM320.8 447.4h.9v.9h-.9zM309.8 458.7h.9v.9h-.9zM323.7 417.0h.9v.9h-.9zM323.6 419.4h.9v.9h-.9zM315.8 419.2h.9v.9h-.9zM315.9 458.4h.9v.9h-.9zM319.4 419.1h.9v.9h-.9zM297.6 436.3h.9v.9h-.9zM322.7 416.5h.9v.9h-.9zM325.0 440.7h.9v.9h-.9zM306.4 454.7h.9v.9h-.9zM304.5 458.9h.9v.9h-.9zM326.1 432.0h.9v.9h-.9zM317.6 456.7h.9v.9h-.9zM312.9 417.1h.9v.9h-.9zM298.3 429.3h.9v.9h-.9zM307.3 419.0h.9v.9h-.9zM301.3 426.0h.9v.9h-.9zM325.2 439.3h.9v.9h-.9zM313.4 415.8h.9v.9h-.9zM324.9 421.5h.9v.9h-.9zM311.2 415.7h.9v.9h-.9zM304.2 419.9h.9v.9h-.9zM303.5 456.6h.9v.9h-.9zM303.5 455.1h.9v.9h-.9zM313.8 420.8h.9v.9h-.9zM314.3 458.2h.9v.9h-.9zM324.3 443.4h.9v.9h-.9zM304.4 456.7h.9v.9h-.9zM314.2 455.5h.9v.9h-.9zM322.9 440.4h.9v.9h-.9zM325.4 438.7h.9v.9h-.9zM309.9 459.0h.9v.9h-.9zM326.4 437.6h.9v.9h-.9zM307.2 455.5h.9v.9h-.9zM304.5 423.4h.9v.9h-.9zM324.3 420.0h.9v.9h-.9zM326.1 442.4h.9v.9h-.9zM326.2 421.0h.9v.9h-.9zM314.2 455.0h.9v.9h-.9zM297.6 445.2h.9v.9h-.9zM304.6 420.5h.9v.9h-.9zM304.2 456.8h.9v.9h-.9zM300.5 424.2h.9v.9h-.9zM320.6 421.2h.9v.9h-.9zM316.8 420.6h.9v.9h-.9zM318.2 417.1h.9v.9h-.9zM320.4 418.0h.9v.9h-.9zM321.0 417.0h.9v.9h-.9zM318.6 450.7h.9v.9h-.9zM311.5 414.8h.9v.9h-.9zM325.2 418.3h.9v.9h-.9zM307.0 458.0h.9v.9h-.9zM327.5 428.6h.9v.9h-.9zM308.9 417.9h.9v.9h-.9zM317.3 452.4h.9v.9h-.9zM319.1 418.6h.9v.9h-.9zM306.2 419.3h.9v.9h-.9zM312.0 416.4h.9v.9h-.9zM325.3 419.2h.9v.9h-.9zM315.4 455.5h.9v.9h-.9zM325.9 431.8h.9v.9h-.9zM299.9 429.2h.9v.9h-.9zM307.1 460.2h.9v.9h-.9zM309.6 459.8h.9v.9h-.9zM321.3 414.7h.9v.9h-.9zM322.9 446.5h.9v.9h-.9zM313.2 457.9h.9v.9h-.9zM327.7 430.3h.9v.9h-.9zM304.1 458.9h.9v.9h-.9zM300.9 429.4h.9v.9h-.9zM304.1 422.7h.9v.9h-.9zM321.6 417.9h.9v.9h-.9zM298.3 434.1h.9v.9h-.9zM304.0 456.4h.9v.9h-.9zM301.4 455.9h.9v.9h-.9zM300.6 424.2h.9v.9h-.9zM308.8 418.7h.9v.9h-.9zM328.7 426.7h.9v.9h-.9zM302.4 425.9h.9v.9h-.9zM326.9 426.1h.9v.9h-.9zM299.5 423.7h.9v.9h-.9zM297.5 437.3h.9v.9h-.9zM313.7 419.0h.9v.9h-.9zM310.4 417.6h.9v.9h-.9zM299.3 423.2h.9v.9h-.9zM326.0 440.5h.9v.9h-.9zM304.4 457.1h.9v.9h-.9zM312.3 415.6h.9v.9h-.9zM297.5 429.8h.9v.9h-.9zM313.1 419.7h.9v.9h-.9zM322.1 419.4h.9v.9h-.9zM316.1 452.7h.9v.9h-.9zM305.3 421.5h.9v.9h-.9zM326.3 424.1h.9v.9h-.9zM299.5 449.8h.9v.9h-.9zM313.9 416.3h.9v.9h-.9zM317.5 418.0h.9v.9h-.9zM320.1 419.5h.9v.9h-.9zM317.3 456.9h.9v.9h-.9zM317.0 417.2h.9v.9h-.9zM323.9 444.0h.9v.9h-.9zM339.4 445.5h.9v.9h-.9zM356.2 438.2h.9v.9h-.9zM354.5 437.4h.9v.9h-.9zM342.6 441.6h.9v.9h-.9zM324.2 440.7h.9v.9h-.9zM356.8 439.3h.9v.9h-.9zM342.4 441.4h.9v.9h-.9zM344.6 439.0h.9v.9h-.9zM352.5 436.9h.9v.9h-.9zM326.9 436.5h.9v.9h-.9zM354.4 436.1h.9v.9h-.9zM342.0 439.9h.9v.9h-.9zM328.0 427.1h.9v.9h-.9zM356.1 439.0h.9v.9h-.9zM339.1 445.9h.9v.9h-.9zM357.2 439.1h.9v.9h-.9zM340.9 440.9h.9v.9h-.9zM354.7 436.0h.9v.9h-.9zM329.6 425.8h.9v.9h-.9z" fill="#9ca5cc" fill-opacity="0.47"/>
<path d="M301.3 452.9h.9v.9h-.9zM303.6 454.4h.9v.9h-.9zM305.0 422.5h.9v.9h-.9zM320.4 447.5h.9v.9h-.9zM325.6 435.3h.9v.9h-.9zM311.5 420.2h.9v.9h-.9zM307.4 422.2h.9v.9h-.9zM299.5 433.3h.9v.9h-.9zM312.5 456.3h.9v.9h-.9zM309.8 458.2h.9v.9h-.9zM305.9 452.7h.9v.9h-.9zM298.4 447.1h.9v.9h-.9zM317.8 422.1h.9v.9h-.9zM300.8 429.7h.9v.9h-.9zM323.3 425.3h.9v.9h-.9zM324.6 434.5h.9v.9h-.9zM306.5 424.4h.9v.9h-.9zM300.3 450.7h.9v.9h-.9zM319.5 447.2h.9v.9h-.9zM325.5 437.6h.9v.9h-.9zM306.3 424.5h.9v.9h-.9zM320.7 440.1h.9v.9h-.9zM298.4 440.1h.9v.9h-.9zM300.1 453.0h.9v.9h-.9zM310.5 419.8h.9v.9h-.9zM325.1 423.5h.9v.9h-.9zM322.8 437.8h.9v.9h-.9zM312.4 455.7h.9v.9h-.9zM322.7 433.1h.9v.9h-.9zM325.4 429.6h.9v.9h-.9zM309.0 420.5h.9v.9h-.9zM324.3 422.6h.9v.9h-.9zM300.6 452.0h.9v.9h-.9zM324.6 422.9h.9v.9h-.9zM316.1 452.3h.9v.9h-.9zM302.2 430.3h.9v.9h-.9zM310.4 456.1h.9v.9h-.9zM303.0 428.3h.9v.9h-.9zM308.2 420.9h.9v.9h-.9zM324.0 431.4h.9v.9h-.9zM324.9 427.1h.9v.9h-.9zM325.0 435.3h.9v.9h-.9zM314.7 418.1h.9v.9h-.9zM298.9 431.3h.9v.9h-.9zM321.1 445.8h.9v.9h-.9zM311.3 455.4h.9v.9h-.9zM324.2 422.6h.9v.9h-.9zM309.9 420.7h.9v.9h-.9zM315.1 417.6h.9v.9h-.9zM298.9 432.9h.9v.9h-.9zM303.2 428.6h.9v.9h-.9zM311.7 455.3h.9v.9h-.9zM315.6 418.1h.9v.9h-.9zM309.3 459.3h.9v.9h-.9zM304.6 452.7h.9v.9h-.9zM310.9 455.0h.9v.9h-.9zM323.2 444.3h.9v.9h-.9zM322.4 424.7h.9v.9h-.9zM314.9 419.3h.9v.9h-.9zM311.5 457.1h.9v.9h-.9zM326.3 429.6h.9v.9h-.9zM323.4 435.5h.9v.9h-.9zM302.8 428.2h.9v.9h-.9zM299.2 430.6h.9v.9h-.9zM314.7 453.6h.9v.9h-.9zM322.7 444.6h.9v.9h-.9zM300.4 452.6h.9v.9h-.9zM305.0 424.1h.9v.9h-.9zM308.4 458.2h.9v.9h-.9zM302.2 453.6h.9v.9h-.9zM309.6 458.0h.9v.9h-.9zM308.2 421.4h.9v.9h-.9zM325.3 428.8h.9v.9h-.9zM324.5 427.1h.9v.9h-.9zM310.9 419.8h.9v.9h-.9zM322.1 444.1h.9v.9h-.9zM320.8 422.7h.9v.9h-.9zM314.8 453.1h.9v.9h-.9zM324.4 422.2h.9v.9h-.9zM324.0 433.3h.9v.9h-.9zM299.1 433.2h.9v.9h-.9zM325.1 436.1h.9v.9h-.9zM323.7 443.9h.9v.9h-.9zM316.5 420.8h.9v.9h-.9zM299.6 431.5h.9v.9h-.9zM324.4 432.8h.9v.9h-.9zM306.4 422.2h.9v.9h-.9zM298.6 435.4h.9v.9h-.9zM320.0 422.5h.9v.9h-.9zM323.1 438.1h.9v.9h-.9zM298.6 442.2h.9v.9h-.9zM309.9 421.1h.9v.9h-.9zM298.3 446.0h.9v.9h-.9zM323.1 434.8h.9v.9h-.9zM322.9 421.2h.9v.9h-.9zM325.5 425.1h.9v.9h-.9zM322.7 421.9h.9v.9h-.9zM324.8 431.1h.9v.9h-.9zM325.1 430.2h.9v.9h-.9zM322.5 444.9h.9v.9h-.9zM298.9 431.5h.9v.9h-.9zM325.0 434.4h.9v.9h-.9zM324.2 428.6h.9v.9h-.9zM322.1 442.9h.9v.9h-.9zM302.7 454.3h.9v.9h-.9zM323.7 430.8h.9v.9h-.9zM325.7 425.2h.9v.9h-.9zM312.1 455.6h.9v.9h-.9zM309.0 453.9h.9v.9h-.9zM319.8 422.9h.9v.9h-.9zM298.2 437.3h.9v.9h-.9zM321.5 423.0h.9v.9h-.9zM311.5 455.8h.9v.9h-.9zM325.4 434.9h.9v.9h-.9zM325.5 425.2h.9v.9h-.9zM324.0 436.8h.9v.9h-.9zM308.2 457.9h.9v.9h-.9zM322.1 440.9h.9v.9h-.9zM303.5 425.8h.9v.9h-.9zM323.5 421.7h.9v.9h-.9zM322.2 437.8h.9v.9h-.9zM306.8 454.6h.9v.9h-.9zM307.8 457.1h.9v.9h-.9zM300.2 449.6h.9v.9h-.9zM323.8 433.5h.9v.9h-.9zM324.4 433.5h.9v.9h-.9zM324.6 429.4h.9v.9h-.9zM311.4 455.1h.9v.9h-.9zM317.3 449.7h.9v.9h-.9zM317.3 451.5h.9v.9h-.9zM315.4 452.3h.9v.9h-.9zM308.1 457.6h.9v.9h-.9z" fill="#939dc7" fill-opacity="0.51"/>
<path d="M323.3 427.9h.9v.9h-.9zM300.9 451.7h.9v.9h-.9zM322.1 423.8h.9v.9h-.9zM301.9 452.3h.9v.9h-.9zM320.7 424.4h.9v.9h-.9zM304.1 428.4h.9v.9h-.9zM321.6 427.9h.9v.9h-.9zM322.9 428.1h.9v.9h-.9zM300.3 433.2h.9v.9h-.9zM323.1 429.3h.9v.9h-.9zM312.6 421.8h.9v.9h-.9zM322.3 429.5h.9v.9h-.9zM321.1 445.2h.9v.9h-.9zM302.7 433.6h.9v.9h-.9zM301.8 432.9h.9v.9h-.9zM316.8 423.4h.9v.9h-.9zM301.1 451.2h.9v.9h-.9zM320.3 424.2h.9v.9h-.9zM316.6 451.6h.9v.9h-.9zM301.5 449.2h.9v.9h-.9zM321.3 436.9h.9v.9h-.9zM311.5 452.7h.9v.9h-.9zM322.1 424.3h.9v.9h-.9zM304.1 428.0h.9v.9h-.9zM314.9 451.6h.9v.9h-.9zM300.9 449.1h.9v.9h-.9zM309.5 452.8h.9v.9h-.9zM301.6 432.2h.9v.9h-.9zM320.7 438.9h.9v.9h-.9zM321.3 445.4h.9v.9h-.9zM303.6 430.7h.9v.9h-.9zM316.9 422.8h.9v.9h-.9zM318.5 447.6h.9v.9h-.9zM318.6 423.1h.9v.9h-.9zM315.4 423.1h.9v.9h-.9zM297.9 442.8h.9v.9h-.9zM309.5 423.1h.9v.9h-.9zM298.2 444.7h.9v.9h-.9zM309.0 423.5h.9v.9h-.9zM323.0 428.2h.9v.9h-.9zM304.9 427.4h.9v.9h-.9zM320.7 426.4h.9v.9h-.9zM301.5 449.9h.9v.9h-.9zM305.6 427.3h.9v.9h-.9zM315.5 423.0h.9v.9h-.9zM298.4 443.4h.9v.9h-.9zM297.7 444.5h.9v.9h-.9zM307.2 424.1h.9v.9h-.9zM299.1 446.6h.9v.9h-.9zM306.9 423.8h.9v.9h-.9zM321.4 423.9h.9v.9h-.9zM298.6 439.4h.9v.9h-.9zM313.1 451.8h.9v.9h-.9zM300.9 432.6h.9v.9h-.9zM321.6 435.0h.9v.9h-.9zM311.5 421.7h.9v.9h-.9zM323.4 422.8h.9v.9h-.9zM300.9 452.3h.9v.9h-.9zM299.6 447.4h.9v.9h-.9zM310.7 422.0h.9v.9h-.9zM301.2 433.8h.9v.9h-.9zM321.0 435.9h.9v.9h-.9zM323.3 423.4h.9v.9h-.9zM320.8 432.8h.9v.9h-.9zM300.0 435.0h.9v.9h-.9zM300.9 451.4h.9v.9h-.9zM308.8 422.0h.9v.9h-.9zM299.8 448.5h.9v.9h-.9zM300.2 432.6h.9v.9h-.9zM321.8 432.2h.9v.9h-.9zM320.9 437.6h.9v.9h-.9zM320.8 428.5h.9v.9h-.9zM321.6 433.1h.9v.9h-.9zM321.8 428.6h.9v.9h-.9zM298.4 443.5h.9v.9h-.9zM316.1 449.9h.9v.9h-.9z" fill="#8a95c3" fill-opacity="0.55"/>
<path d="M317.8 423.6h.9v.9h-.9zM300.5 444.4h.9v.9h-.9zM321.2 430.2h.9v.9h-.9zM320.3 436.1h.9v.9h-.9zM320.7 444.1h.9v.9h-.9zM316.0 449.1h.9v.9h-.9zM302.2 448.1h.9v.9h-.9zM311.7 422.6h.9v.9h-.9zM303.8 451.2h.9v.9h-.9zM320.3 427.2h.9v.9h-.9zM303.6 450.9h.9v.9h-.9zM310.1 422.7h.9v.9h-.9zM299.8 436.6h.9v.9h-.9zM308.3 425.2h.9v.9h-.9zM300.6 447.4h.9v.9h-.9zM303.1 432.5h.9v.9h-.9zM320.9 429.7h.9v.9h-.9zM308.5 425.3h.9v.9h-.9zM305.5 452.4h.9v.9h-.9zM304.8 452.1h.9v.9h-.9zM306.1 452.6h.9v.9h-.9zM302.6 450.6h.9v.9h-.9zM305.0 451.3h.9v.9h-.9zM305.7 428.5h.9v.9h-.9zM318.4 423.8h.9v.9h-.9zM316.0 422.7h.9v.9h-.9zM300.2 436.3h.9v.9h-.9zM303.7 432.9h.9v.9h-.9zM308.6 424.7h.9v.9h-.9zM320.6 437.2h.9v.9h-.9zM316.2 423.5h.9v.9h-.9zM304.9 428.0h.9v.9h-.9zM320.7 430.0h.9v.9h-.9zM312.5 452.2h.9v.9h-.9zM302.9 449.3h.9v.9h-.9zM300.1 446.7h.9v.9h-.9zM319.5 426.7h.9v.9h-.9zM307.0 427.6h.9v.9h-.9zM319.7 435.7h.9v.9h-.9zM305.1 427.9h.9v.9h-.9zM298.7 438.4h.9v.9h-.9zM319.8 434.7h.9v.9h-.9zM299.0 438.3h.9v.9h-.9zM308.6 452.1h.9v.9h-.9zM320.1 426.1h.9v.9h-.9zM303.1 431.8h.9v.9h-.9zM303.4 433.7h.9v.9h-.9zM319.8 444.4h.9v.9h-.9zM319.5 425.5h.9v.9h-.9zM319.1 426.1h.9v.9h-.9zM308.8 452.5h.9v.9h-.9zM308.2 452.2h.9v.9h-.9zM320.6 429.6h.9v.9h-.9zM319.8 432.9h.9v.9h-.9zM303.1 451.3h.9v.9h-.9zM320.3 432.9h.9v.9h-.9zM298.8 442.9h.9v.9h-.9zM298.8 438.3h.9v.9h-.9zM321.2 429.4h.9v.9h-.9zM301.9 448.5h.9v.9h-.9zM299.2 442.3h.9v.9h-.9zM302.7 448.6h.9v.9h-.9zM320.3 439.6h.9v.9h-.9zM303.9 451.3h.9v.9h-.9zM319.8 425.8h.9v.9h-.9zM320.1 428.6h.9v.9h-.9zM320.5 430.2h.9v.9h-.9zM301.9 448.5h.9v.9h-.9zM299.0 437.8h.9v.9h-.9zM299.0 444.6h.9v.9h-.9zM299.9 446.5h.9v.9h-.9zM307.7 425.2h.9v.9h-.9zM307.3 426.8h.9v.9h-.9zM304.8 451.0h.9v.9h-.9zM304.0 430.8h.9v.9h-.9zM320.5 439.2h.9v.9h-.9zM299.5 439.6h.9v.9h-.9zM301.4 435.2h.9v.9h-.9zM319.2 424.6h.9v.9h-.9zM300.1 447.0h.9v.9h-.9zM318.7 424.8h.9v.9h-.9zM319.9 438.6h.9v.9h-.9zM299.2 438.6h.9v.9h-.9zM305.2 452.2h.9v.9h-.9zM312.1 452.1h.9v.9h-.9zM302.6 450.8h.9v.9h-.9zM320.4 433.1h.9v.9h-.9zM299.2 439.5h.9v.9h-.9zM304.6 430.9h.9v.9h-.9zM319.9 440.1h.9v.9h-.9zM299.0 441.5h.9v.9h-.9zM303.1 431.7h.9v.9h-.9zM320.0 427.3h.9v.9h-.9zM305.3 452.6h.9v.9h-.9zM300.3 436.1h.9v.9h-.9zM320.7 426.7h.9v.9h-.9zM319.9 433.6h.9v.9h-.9zM306.3 428.2h.9v.9h-.9zM303.2 450.5h.9v.9h-.9zM299.6 445.4h.9v.9h-.9zM299.5 445.3h.9v.9h-.9zM316.0 423.0h.9v.9h-.9zM320.3 444.0h.9v.9h-.9zM319.9 438.9h.9v.9h-.9zM310.2 422.8h.9v.9h-.9zM302.8 449.3h.9v.9h-.9zM306.0 428.2h.9v.9h-.9zM308.0 425.5h.9v.9h-.9zM300.6 445.8h.9v.9h-.9zM314.0 450.8h.9v.9h-.9zM314.6 451.6h.9v.9h-.9zM312.2 452.4h.9v.9h-.9zM319.9 443.8h.9v.9h-.9z" fill="#818dbe" fill-opacity="0.60"/>
<path d="M318.8 432.9h.9v.9h-.9zM318.0 424.9h.9v.9h-.9zM300.0 439.6h.9v.9h-.9zM310.4 451.8h.9v.9h-.9zM315.5 424.0h.9v.9h-.9zM310.4 424.6h.9v.9h-.9zM303.9 432.6h.9v.9h-.9zM311.6 452.2h.9v.9h-.9zM310.0 452.2h.9v.9h-.9zM318.8 431.1h.9v.9h-.9zM311.5 424.3h.9v.9h-.9zM300.7 444.9h.9v.9h-.9zM299.9 442.0h.9v.9h-.9zM309.6 425.8h.9v.9h-.9zM303.4 448.3h.9v.9h-.9zM318.8 428.6h.9v.9h-.9zM305.0 429.8h.9v.9h-.9zM319.5 431.2h.9v.9h-.9zM312.0 424.6h.9v.9h-.9zM320.3 431.4h.9v.9h-.9zM319.5 434.5h.9v.9h-.9zM310.8 451.9h.9v.9h-.9zM301.7 445.3h.9v.9h-.9zM319.4 441.6h.9v.9h-.9zM306.1 450.9h.9v.9h-.9zM301.0 441.4h.9v.9h-.9zM312.2 423.7h.9v.9h-.9zM301.6 441.8h.9v.9h-.9zM310.1 452.4h.9v.9h-.9zM308.3 427.4h.9v.9h-.9zM302.7 446.8h.9v.9h-.9zM301.3 443.4h.9v.9h-.9zM306.4 429.2h.9v.9h-.9zM302.1 446.2h.9v.9h-.9zM318.4 446.0h.9v.9h-.9zM307.1 428.0h.9v.9h-.9zM299.8 439.5h.9v.9h-.9zM301.3 442.4h.9v.9h-.9zM319.0 430.6h.9v.9h-.9zM301.2 446.5h.9v.9h-.9zM303.9 448.0h.9v.9h-.9zM310.2 424.1h.9v.9h-.9zM301.5 444.8h.9v.9h-.9zM305.1 430.3h.9v.9h-.9zM300.0 439.6h.9v.9h-.9zM318.3 427.5h.9v.9h-.9zM301.1 441.2h.9v.9h-.9zM300.5 440.6h.9v.9h-.9zM300.1 441.7h.9v.9h-.9zM305.8 451.2h.9v.9h-.9zM315.0 424.6h.9v.9h-.9zM316.3 447.8h.9v.9h-.9zM310.8 423.8h.9v.9h-.9zM301.3 446.2h.9v.9h-.9zM319.6 429.4h.9v.9h-.9zM319.1 433.3h.9v.9h-.9zM320.6 431.6h.9v.9h-.9zM319.5 444.7h.9v.9h-.9zM299.8 441.6h.9v.9h-.9zM314.3 423.6h.9v.9h-.9zM301.7 435.6h.9v.9h-.9zM319.8 431.8h.9v.9h-.9zM313.0 424.3h.9v.9h-.9zM301.5 443.6h.9v.9h-.9zM306.5 450.9h.9v.9h-.9zM319.3 444.9h.9v.9h-.9zM318.0 426.0h.9v.9h-.9zM318.9 430.5h.9v.9h-.9zM306.6 429.5h.9v.9h-.9zM300.8 443.0h.9v.9h-.9zM300.8 446.1h.9v.9h-.9zM319.0 431.4h.9v.9h-.9zM300.3 437.3h.9v.9h-.9zM309.7 452.6h.9v.9h-.9zM319.2 429.1h.9v.9h-.9zM311.6 424.4h.9v.9h-.9zM316.8 447.4h.9v.9h-.9zM315.7 424.4h.9v.9h-.9zM318.9 433.8h.9v.9h-.9zM303.2 434.9h.9v.9h-.9zM316.4 447.9h.9v.9h-.9zM301.2 441.7h.9v.9h-.9zM302.4 446.4h.9v.9h-.9zM318.3 426.9h.9v.9h-.9zM305.0 430.4h.9v.9h-.9zM302.7 435.8h.9v.9h-.9zM316.9 425.0h.9v.9h-.9zM303.3 435.2h.9v.9h-.9zM302.6 447.0h.9v.9h-.9zM303.7 449.0h.9v.9h-.9zM304.2 433.5h.9v.9h-.9zM307.4 428.3h.9v.9h-.9zM301.8 435.7h.9v.9h-.9zM315.5 449.8h.9v.9h-.9zM300.4 440.3h.9v.9h-.9zM302.8 446.6h.9v.9h-.9zM318.5 445.8h.9v.9h-.9zM310.4 423.9h.9v.9h-.9zM319.4 438.2h.9v.9h-.9zM312.4 451.1h.9v.9h-.9z" fill="#7884b9" fill-opacity="0.64"/>
<path d="M317.1 429.1h.9v.9h-.9zM302.1 439.0h.9v.9h-.9zM311.4 425.5h.9v.9h-.9zM301.7 437.9h.9v.9h-.9zM312.3 426.3h.9v.9h-.9zM310.4 426.9h.9v.9h-.9zM316.8 428.6h.9v.9h-.9zM305.0 431.9h.9v.9h-.9zM318.0 431.8h.9v.9h-.9zM310.1 426.1h.9v.9h-.9zM303.0 445.0h.9v.9h-.9zM305.7 450.1h.9v.9h-.9zM311.8 424.9h.9v.9h-.9zM306.4 431.1h.9v.9h-.9zM309.5 450.7h.9v.9h-.9zM319.5 443.9h.9v.9h-.9zM315.1 425.1h.9v.9h-.9zM318.6 430.9h.9v.9h-.9zM309.8 451.5h.9v.9h-.9zM301.7 439.2h.9v.9h-.9zM304.4 436.2h.9v.9h-.9zM306.6 449.9h.9v.9h-.9zM317.1 445.7h.9v.9h-.9zM312.6 425.3h.9v.9h-.9zM310.5 426.5h.9v.9h-.9zM301.0 438.4h.9v.9h-.9zM315.1 425.5h.9v.9h-.9zM316.7 428.6h.9v.9h-.9zM302.5 441.2h.9v.9h-.9zM317.9 431.7h.9v.9h-.9zM302.4 439.5h.9v.9h-.9zM303.2 443.8h.9v.9h-.9zM303.3 438.0h.9v.9h-.9zM307.2 429.3h.9v.9h-.9zM318.9 442.4h.9v.9h-.9zM319.3 436.4h.9v.9h-.9zM309.8 426.9h.9v.9h-.9zM303.5 440.7h.9v.9h-.9zM308.1 428.3h.9v.9h-.9zM305.4 449.5h.9v.9h-.9zM303.9 446.5h.9v.9h-.9zM316.4 426.0h.9v.9h-.9zM319.5 441.9h.9v.9h-.9zM317.0 426.5h.9v.9h-.9zM310.1 451.6h.9v.9h-.9zM312.5 426.4h.9v.9h-.9zM302.1 440.8h.9v.9h-.9zM317.6 429.1h.9v.9h-.9zM300.8 437.4h.9v.9h-.9zM302.5 440.4h.9v.9h-.9zM308.5 429.2h.9v.9h-.9zM306.4 430.8h.9v.9h-.9zM303.0 439.5h.9v.9h-.9zM319.1 436.7h.9v.9h-.9zM319.2 437.5h.9v.9h-.9zM314.3 450.4h.9v.9h-.9zM302.7 438.3h.9v.9h-.9zM312.5 425.4h.9v.9h-.9zM316.6 425.8h.9v.9h-.9zM308.6 427.9h.9v.9h-.9zM301.5 438.2h.9v.9h-.9zM307.5 430.0h.9v.9h-.9zM305.7 429.9h.9v.9h-.9zM318.9 436.8h.9v.9h-.9zM302.8 445.6h.9v.9h-.9zM304.4 439.2h.9v.9h-.9zM303.9 447.1h.9v.9h-.9zM319.5 443.6h.9v.9h-.9zM302.0 442.9h.9v.9h-.9zM310.1 450.8h.9v.9h-.9zM311.9 425.8h.9v.9h-.9zM302.3 438.9h.9v.9h-.9zM319.0 443.2h.9v.9h-.9zM317.8 445.4h.9v.9h-.9zM303.0 444.2h.9v.9h-.9zM305.6 432.3h.9v.9h-.9zM302.7 442.7h.9v.9h-.9zM308.7 428.4h.9v.9h-.9zM303.3 443.8h.9v.9h-.9zM302.1 442.1h.9v.9h-.9zM316.3 424.7h.9v.9h-.9zM310.5 427.1h.9v.9h-.9zM301.3 438.1h.9v.9h-.9zM303.2 437.4h.9v.9h-.9zM301.8 438.4h.9v.9h-.9zM303.9 435.2h.9v.9h-.9zM310.1 426.7h.9v.9h-.9zM317.4 426.1h.9v.9h-.9zM303.9 436.6h.9v.9h-.9zM305.1 431.8h.9v.9h-.9zM302.0 437.3h.9v.9h-.9zM303.4 442.3h.9v.9h-.9zM316.6 425.6h.9v.9h-.9zM301.9 445.2h.9v.9h-.9zM304.9 449.4h.9v.9h-.9zM301.3 436.6h.9v.9h-.9zM301.5 437.5h.9v.9h-.9zM312.4 425.5h.9v.9h-.9zM312.4 425.2h.9v.9h-.9zM303.5 442.2h.9v.9h-.9zM305.7 429.9h.9v.9h-.9zM315.9 425.7h.9v.9h-.9zM311.5 426.4h.9v.9h-.9zM313.1 425.2h.9v.9h-.9zM303.1 443.1h.9v.9h-.9zM311.4 425.4h.9v.9h-.9zM303.4 436.7h.9v.9h-.9zM303.3 437.4h.9v.9h-.9zM317.9 432.6h.9v.9h-.9zM315.0 449.1h.9v.9h-.9zM316.7 425.2h.9v.9h-.9zM302.8 445.0h.9v.9h-.9zM303.7 445.3h.9v.9h-.9zM316.6 425.4h.9v.9h-.9zM301.8 445.1h.9v.9h-.9zM303.8 439.9h.9v.9h-.9zM301.9 437.1h.9v.9h-.9zM309.5 426.8h.9v.9h-.9zM316.2 425.8h.9v.9h-.9zM303.6 437.1h.9v.9h-.9zM317.7 431.7h.9v.9h-.9zM309.5 450.8h.9v.9h-.9zM300.4 438.3h.9v.9h-.9zM319.5 436.2h.9v.9h-.9zM317.9 429.9h.9v.9h-.9zM317.7 434.5h.9v.9h-.9zM306.4 449.7h.9v.9h-.9zM313.8 425.0h.9v.9h-.9zM318.4 430.2h.9v.9h-.9zM303.6 445.8h.9v.9h-.9zM317.0 427.2h.9v.9h-.9zM319.1 436.6h.9v.9h-.9zM319.0 442.4h.9v.9h-.9zM305.5 447.8h.9v.9h-.9zM303.2 441.8h.9v.9h-.9zM313.7 450.2h.9v.9h-.9zM301.0 439.4h.9v.9h-.9zM313.6 426.4h.9v.9h-.9zM318.4 432.4h.9v.9h-.9zM301.2 436.7h.9v.9h-.9zM299.8 438.5h.9v.9h-.9zM311.4 425.1h.9v.9h-.9zM310.8 450.6h.9v.9h-.9zM317.1 426.0h.9v.9h-.9z" fill="#7183b5" fill-opacity="0.68"/>
<path d="M315.9 429.1h.9v.9h-.9zM308.1 430.6h.9v.9h-.9zM316.1 427.8h.9v.9h-.9zM304.9 435.9h.9v.9h-.9zM318.6 444.3h.9v.9h-.9zM306.3 449.1h.9v.9h-.9zM310.8 450.4h.9v.9h-.9zM305.3 444.6h.9v.9h-.9zM304.8 438.7h.9v.9h-.9zM315.5 427.5h.9v.9h-.9zM313.8 427.4h.9v.9h-.9zM304.3 442.7h.9v.9h-.9zM314.7 447.9h.9v.9h-.9zM317.9 435.8h.9v.9h-.9zM318.6 434.9h.9v.9h-.9zM305.6 446.9h.9v.9h-.9zM312.7 427.1h.9v.9h-.9zM309.5 428.3h.9v.9h-.9zM317.7 430.2h.9v.9h-.9zM304.0 443.6h.9v.9h-.9zM314.4 425.9h.9v.9h-.9zM314.7 426.3h.9v.9h-.9zM304.6 442.9h.9v.9h-.9zM304.8 446.4h.9v.9h-.9zM303.8 441.9h.9v.9h-.9zM304.7 433.6h.9v.9h-.9zM317.1 433.2h.9v.9h-.9zM303.9 442.6h.9v.9h-.9zM317.9 443.6h.9v.9h-.9zM305.4 446.5h.9v.9h-.9zM304.8 436.4h.9v.9h-.9zM312.4 450.0h.9v.9h-.9zM306.6 431.8h.9v.9h-.9zM308.4 431.4h.9v.9h-.9zM309.3 428.8h.9v.9h-.9zM306.5 448.7h.9v.9h-.9zM316.5 428.9h.9v.9h-.9zM313.7 449.1h.9v.9h-.9zM317.5 433.1h.9v.9h-.9zM318.0 444.6h.9v.9h-.9zM316.9 430.7h.9v.9h-.9zM318.5 439.1h.9v.9h-.9zM304.5 443.5h.9v.9h-.9zM310.0 427.7h.9v.9h-.9zM305.6 433.7h.9v.9h-.9zM317.5 434.1h.9v.9h-.9zM305.4 444.2h.9v.9h-.9zM316.7 429.3h.9v.9h-.9zM305.6 446.5h.9v.9h-.9zM308.9 427.9h.9v.9h-.9zM305.0 440.0h.9v.9h-.9zM317.3 434.3h.9v.9h-.9zM318.0 435.5h.9v.9h-.9zM315.7 427.9h.9v.9h-.9zM315.6 426.7h.9v.9h-.9zM308.2 431.1h.9v.9h-.9zM304.7 435.7h.9v.9h-.9zM304.2 436.6h.9v.9h-.9zM308.0 430.2h.9v.9h-.9zM316.3 429.2h.9v.9h-.9zM318.0 439.3h.9v.9h-.9zM309.6 450.3h.9v.9h-.9zM310.6 427.9h.9v.9h-.9zM306.2 431.7h.9v.9h-.9zM310.3 427.7h.9v.9h-.9zM318.1 436.7h.9v.9h-.9zM315.0 448.3h.9v.9h-.9zM314.7 426.6h.9v.9h-.9zM316.5 447.2h.9v.9h-.9zM305.3 433.6h.9v.9h-.9zM317.9 438.3h.9v.9h-.9zM318.7 440.5h.9v.9h-.9zM316.9 433.5h.9v.9h-.9zM306.7 449.5h.9v.9h-.9zM306.4 432.3h.9v.9h-.9zM314.8 427.3h.9v.9h-.9zM305.6 435.0h.9v.9h-.9zM315.3 426.5h.9v.9h-.9zM315.4 426.6h.9v.9h-.9zM305.5 446.2h.9v.9h-.9zM317.6 431.9h.9v.9h-.9zM304.2 441.6h.9v.9h-.9zM318.1 437.9h.9v.9h-.9zM308.2 430.3h.9v.9h-.9zM315.0 426.9h.9v.9h-.9zM308.6 450.1h.9v.9h-.9zM314.8 447.9h.9v.9h-.9zM315.9 447.0h.9v.9h-.9zM309.8 427.9h.9v.9h-.9zM317.1 431.3h.9v.9h-.9zM305.2 444.0h.9v.9h-.9zM308.9 429.2h.9v.9h-.9zM312.6 427.6h.9v.9h-.9zM312.2 449.8h.9v.9h-.9zM303.8 441.1h.9v.9h-.9zM318.1 444.2h.9v.9h-.9zM318.5 436.3h.9v.9h-.9zM311.2 450.2h.9v.9h-.9zM314.4 449.1h.9v.9h-.9zM318.1 440.9h.9v.9h-.9zM318.5 439.4h.9v.9h-.9zM318.1 441.4h.9v.9h-.9zM318.4 438.7h.9v.9h-.9z" fill="#6983b1" fill-opacity="0.73"/>
<path d="M317.9 442.5h.9v.9h-.9zM317.5 435.9h.9v.9h-.9zM316.7 445.5h.9v.9h-.9zM316.5 433.2h.9v.9h-.9zM307.4 449.1h.9v.9h-.9zM311.3 427.6h.9v.9h-.9zM312.9 428.4h.9v.9h-.9zM313.0 428.1h.9v.9h-.9zM306.2 446.7h.9v.9h-.9zM305.0 441.3h.9v.9h-.9zM305.3 438.5h.9v.9h-.9zM315.7 429.2h.9v.9h-.9zM305.2 438.2h.9v.9h-.9zM309.4 431.6h.9v.9h-.9zM309.9 431.4h.9v.9h-.9zM310.1 430.1h.9v.9h-.9zM315.7 432.7h.9v.9h-.9zM310.6 429.4h.9v.9h-.9zM306.3 433.9h.9v.9h-.9zM306.1 448.1h.9v.9h-.9zM306.0 433.0h.9v.9h-.9zM306.3 435.0h.9v.9h-.9zM313.2 427.8h.9v.9h-.9zM305.4 440.9h.9v.9h-.9zM305.0 441.6h.9v.9h-.9zM307.4 449.6h.9v.9h-.9zM306.1 444.7h.9v.9h-.9zM305.8 444.0h.9v.9h-.9zM310.5 430.7h.9v.9h-.9zM306.1 433.5h.9v.9h-.9zM305.6 438.2h.9v.9h-.9zM316.3 431.0h.9v.9h-.9zM316.5 430.0h.9v.9h-.9zM305.2 441.8h.9v.9h-.9zM313.0 449.0h.9v.9h-.9zM316.1 431.0h.9v.9h-.9zM317.7 435.1h.9v.9h-.9zM306.4 435.5h.9v.9h-.9zM317.5 435.7h.9v.9h-.9zM306.6 434.9h.9v.9h-.9zM306.5 445.6h.9v.9h-.9zM306.5 445.2h.9v.9h-.9zM305.8 447.8h.9v.9h-.9zM308.5 431.8h.9v.9h-.9zM306.8 449.4h.9v.9h-.9zM305.2 440.9h.9v.9h-.9zM311.4 428.6h.9v.9h-.9zM305.8 433.2h.9v.9h-.9zM318.2 443.4h.9v.9h-.9zM305.8 434.5h.9v.9h-.9zM305.5 442.5h.9v.9h-.9zM306.0 443.9h.9v.9h-.9zM317.0 434.6h.9v.9h-.9zM310.1 449.8h.9v.9h-.9zM316.0 429.6h.9v.9h-.9zM313.2 428.2h.9v.9h-.9zM316.6 432.8h.9v.9h-.9zM310.7 429.1h.9v.9h-.9zM309.8 429.7h.9v.9h-.9zM313.0 427.8h.9v.9h-.9zM306.2 434.6h.9v.9h-.9zM305.8 445.1h.9v.9h-.9zM305.7 443.9h.9v.9h-.9zM317.4 445.4h.9v.9h-.9zM310.0 430.5h.9v.9h-.9zM309.0 432.2h.9v.9h-.9zM304.9 442.2h.9v.9h-.9zM312.8 449.2h.9v.9h-.9zM306.3 433.3h.9v.9h-.9zM307.7 431.8h.9v.9h-.9zM315.3 428.0h.9v.9h-.9zM317.0 435.9h.9v.9h-.9zM306.7 434.5h.9v.9h-.9zM309.1 431.1h.9v.9h-.9zM306.4 433.3h.9v.9h-.9zM316.5 431.8h.9v.9h-.9zM305.5 437.2h.9v.9h-.9zM306.2 433.0h.9v.9h-.9zM318.3 442.8h.9v.9h-.9zM316.9 445.5h.9v.9h-.9zM305.0 437.4h.9v.9h-.9zM305.5 441.1h.9v.9h-.9zM309.2 430.9h.9v.9h-.9zM308.1 431.9h.9v.9h-.9zM315.3 428.0h.9v.9h-.9zM306.2 445.4h.9v.9h-.9zM305.8 435.1h.9v.9h-.9zM304.9 440.9h.9v.9h-.9zM307.3 432.0h.9v.9h-.9zM315.1 428.5h.9v.9h-.9zM318.6 443.5h.9v.9h-.9zM316.1 431.1h.9v.9h-.9zM308.7 431.9h.9v.9h-.9zM307.3 431.8h.9v.9h-.9zM317.6 435.4h.9v.9h-.9zM309.7 432.6h.9v.9h-.9zM304.8 441.7h.9v.9h-.9zM316.0 430.9h.9v.9h-.9zM306.5 448.0h.9v.9h-.9zM307.1 432.4h.9v.9h-.9zM308.8 432.0h.9v.9h-.9zM314.3 427.9h.9v.9h-.9zM317.1 445.5h.9v.9h-.9zM317.7 441.6h.9v.9h-.9zM316.6 433.4h.9v.9h-.9zM317.9 442.3h.9v.9h-.9zM313.0 449.1h.9v.9h-.9zM318.0 441.9h.9v.9h-.9zM313.4 449.4h.9v.9h-.9zM317.5 445.3h.9v.9h-.9zM306.6 447.8h.9v.9h-.9zM312.8 449.0h.9v.9h-.9zM312.9 449.3h.9v.9h-.9zM316.2 433.1h.9v.9h-.9zM316.2 446.1h.9v.9h-.9z" fill="#6282ae" fill-opacity="0.77"/>
<path d="M310.8 429.7h.9v.9h-.9zM306.4 437.6h.9v.9h-.9zM312.7 449.4h.9v.9h-.9zM307.4 443.0h.9v.9h-.9zM306.9 444.2h.9v.9h-.9zM314.5 428.7h.9v.9h-.9zM316.9 439.4h.9v.9h-.9zM317.2 443.4h.9v.9h-.9zM309.5 432.7h.9v.9h-.9zM312.9 428.6h.9v.9h-.9zM313.2 428.7h.9v.9h-.9zM306.3 440.8h.9v.9h-.9zM313.2 429.2h.9v.9h-.9zM307.1 434.0h.9v.9h-.9zM311.3 429.3h.9v.9h-.9zM307.2 446.5h.9v.9h-.9zM317.4 437.2h.9v.9h-.9zM309.8 448.9h.9v.9h-.9zM307.1 433.3h.9v.9h-.9zM311.1 430.1h.9v.9h-.9zM309.6 449.3h.9v.9h-.9zM308.6 433.0h.9v.9h-.9zM311.1 430.0h.9v.9h-.9zM307.2 446.0h.9v.9h-.9zM308.1 434.4h.9v.9h-.9zM315.4 434.0h.9v.9h-.9zM308.5 434.4h.9v.9h-.9zM306.4 437.3h.9v.9h-.9zM307.9 445.3h.9v.9h-.9zM317.5 440.9h.9v.9h-.9zM308.8 448.8h.9v.9h-.9zM314.7 430.2h.9v.9h-.9zM306.3 437.1h.9v.9h-.9zM306.7 438.1h.9v.9h-.9zM314.5 448.0h.9v.9h-.9zM305.9 436.7h.9v.9h-.9zM307.2 446.7h.9v.9h-.9zM307.7 443.6h.9v.9h-.9zM314.8 432.6h.9v.9h-.9zM317.2 443.7h.9v.9h-.9zM308.1 445.9h.9v.9h-.9zM308.3 449.2h.9v.9h-.9zM317.0 443.7h.9v.9h-.9zM308.2 445.4h.9v.9h-.9zM308.0 445.6h.9v.9h-.9zM309.8 448.8h.9v.9h-.9zM307.8 449.1h.9v.9h-.9zM307.7 448.8h.9v.9h-.9zM307.1 433.5h.9v.9h-.9zM307.3 445.8h.9v.9h-.9zM306.4 439.5h.9v.9h-.9zM315.3 431.7h.9v.9h-.9zM308.2 434.5h.9v.9h-.9zM314.4 429.4h.9v.9h-.9zM306.2 443.3h.9v.9h-.9zM312.0 429.4h.9v.9h-.9zM314.0 429.3h.9v.9h-.9zM306.1 436.1h.9v.9h-.9zM315.0 432.2h.9v.9h-.9zM311.0 431.9h.9v.9h-.9zM310.1 432.4h.9v.9h-.9zM310.2 448.7h.9v.9h-.9zM311.1 432.6h.9v.9h-.9zM307.2 435.2h.9v.9h-.9zM315.4 432.8h.9v.9h-.9zM307.0 446.4h.9v.9h-.9zM317.5 440.1h.9v.9h-.9zM307.5 448.3h.9v.9h-.9zM316.7 437.4h.9v.9h-.9zM306.4 437.6h.9v.9h-.9zM309.3 433.6h.9v.9h-.9zM311.3 429.0h.9v.9h-.9zM309.7 432.5h.9v.9h-.9zM306.8 448.4h.9v.9h-.9zM316.9 436.7h.9v.9h-.9zM313.3 429.2h.9v.9h-.9zM310.3 432.3h.9v.9h-.9zM307.7 443.3h.9v.9h-.9zM308.4 445.7h.9v.9h-.9zM308.2 449.4h.9v.9h-.9zM317.7 444.2h.9v.9h-.9zM308.9 449.1h.9v.9h-.9zM307.2 445.6h.9v.9h-.9zM310.9 428.8h.9v.9h-.9zM306.1 438.3h.9v.9h-.9zM310.4 433.5h.9v.9h-.9zM306.7 438.0h.9v.9h-.9zM309.3 448.9h.9v.9h-.9zM307.3 447.3h.9v.9h-.9zM310.3 448.6h.9v.9h-.9zM311.1 431.3h.9v.9h-.9zM305.8 438.7h.9v.9h-.9zM314.8 431.5h.9v.9h-.9zM316.9 440.1h.9v.9h-.9zM306.4 438.5h.9v.9h-.9zM307.0 432.7h.9v.9h-.9zM307.5 448.3h.9v.9h-.9zM306.9 447.5h.9v.9h-.9zM307.1 434.9h.9v.9h-.9zM305.7 441.9h.9v.9h-.9zM310.7 430.4h.9v.9h-.9zM310.9 428.7h.9v.9h-.9zM311.2 449.5h.9v.9h-.9zM307.5 444.5h.9v.9h-.9zM317.4 437.3h.9v.9h-.9zM315.1 432.4h.9v.9h-.9zM316.3 435.2h.9v.9h-.9zM306.6 438.5h.9v.9h-.9zM309.3 449.0h.9v.9h-.9zM311.6 449.4h.9v.9h-.9zM314.8 430.4h.9v.9h-.9zM312.1 449.5h.9v.9h-.9zM315.3 446.9h.9v.9h-.9zM314.2 447.8h.9v.9h-.9zM317.0 440.8h.9v.9h-.9zM317.6 439.7h.9v.9h-.9zM317.2 437.1h.9v.9h-.9zM314.0 448.1h.9v.9h-.9zM313.7 447.7h.9v.9h-.9zM317.3 443.7h.9v.9h-.9zM315.1 447.4h.9v.9h-.9zM315.2 446.6h.9v.9h-.9zM310.2 448.6h.9v.9h-.9zM315.4 447.3h.9v.9h-.9z" fill="#5a82aa" fill-opacity="0.82"/>
<path d="M313.2 429.7h.9v.9h-.9zM312.2 431.7h.9v.9h-.9zM308.0 443.0h.9v.9h-.9zM307.9 447.5h.9v.9h-.9zM315.4 445.1h.9v.9h-.9zM314.7 431.0h.9v.9h-.9zM311.2 448.1h.9v.9h-.9zM311.8 430.0h.9v.9h-.9zM314.2 430.2h.9v.9h-.9zM310.0 434.6h.9v.9h-.9zM311.0 432.9h.9v.9h-.9zM313.2 429.8h.9v.9h-.9zM316.1 442.8h.9v.9h-.9zM309.5 445.2h.9v.9h-.9zM313.5 433.0h.9v.9h-.9zM309.2 444.3h.9v.9h-.9zM314.2 431.0h.9v.9h-.9zM308.5 443.1h.9v.9h-.9zM313.4 430.5h.9v.9h-.9zM312.7 430.5h.9v.9h-.9zM308.8 447.4h.9v.9h-.9zM309.8 448.4h.9v.9h-.9zM307.8 446.9h.9v.9h-.9zM315.2 445.8h.9v.9h-.9zM309.0 434.6h.9v.9h-.9zM313.6 432.1h.9v.9h-.9zM316.6 437.4h.9v.9h-.9zM308.8 448.1h.9v.9h-.9zM312.0 432.2h.9v.9h-.9zM309.1 444.9h.9v.9h-.9zM315.1 445.2h.9v.9h-.9zM314.8 435.3h.9v.9h-.9zM306.8 442.4h.9v.9h-.9zM314.1 430.5h.9v.9h-.9zM308.1 443.4h.9v.9h-.9zM314.9 444.9h.9v.9h-.9zM308.2 444.0h.9v.9h-.9zM313.2 431.2h.9v.9h-.9zM315.7 434.8h.9v.9h-.9zM312.9 448.0h.9v.9h-.9zM308.2 435.0h.9v.9h-.9zM308.4 447.7h.9v.9h-.9zM308.8 446.0h.9v.9h-.9zM309.8 446.7h.9v.9h-.9zM311.0 448.3h.9v.9h-.9zM307.3 441.9h.9v.9h-.9zM315.3 445.7h.9v.9h-.9zM313.6 431.8h.9v.9h-.9zM313.9 429.7h.9v.9h-.9zM313.7 432.3h.9v.9h-.9zM316.4 435.8h.9v.9h-.9zM307.8 446.8h.9v.9h-.9zM310.7 432.9h.9v.9h-.9zM310.0 434.2h.9v.9h-.9zM312.4 430.8h.9v.9h-.9zM306.9 442.3h.9v.9h-.9zM314.0 429.9h.9v.9h-.9zM309.8 433.8h.9v.9h-.9zM308.4 447.6h.9v.9h-.9zM312.6 432.8h.9v.9h-.9zM317.0 442.4h.9v.9h-.9zM314.2 432.0h.9v.9h-.9zM314.5 432.8h.9v.9h-.9zM308.2 435.5h.9v.9h-.9zM314.9 435.0h.9v.9h-.9zM311.7 429.8h.9v.9h-.9zM316.6 437.6h.9v.9h-.9zM308.0 443.3h.9v.9h-.9zM313.5 432.8h.9v.9h-.9zM308.7 447.7h.9v.9h-.9zM315.2 434.6h.9v.9h-.9zM316.4 436.1h.9v.9h-.9zM308.0 446.9h.9v.9h-.9zM311.8 432.2h.9v.9h-.9zM312.9 432.3h.9v.9h-.9zM312.6 432.2h.9v.9h-.9zM314.5 433.2h.9v.9h-.9zM313.1 432.7h.9v.9h-.9zM307.8 443.7h.9v.9h-.9zM313.8 431.0h.9v.9h-.9zM315.7 437.2h.9v.9h-.9zM310.1 446.9h.9v.9h-.9zM311.8 431.2h.9v.9h-.9zM312.6 430.4h.9v.9h-.9zM316.0 436.1h.9v.9h-.9zM307.4 441.8h.9v.9h-.9zM313.9 433.3h.9v.9h-.9zM316.6 438.1h.9v.9h-.9zM307.7 442.9h.9v.9h-.9zM309.8 433.8h.9v.9h-.9zM310.2 447.7h.9v.9h-.9zM312.3 430.4h.9v.9h-.9zM312.3 430.9h.9v.9h-.9zM313.0 432.5h.9v.9h-.9zM316.0 443.8h.9v.9h-.9zM314.7 430.1h.9v.9h-.9zM314.8 435.0h.9v.9h-.9zM311.7 433.0h.9v.9h-.9zM308.0 434.8h.9v.9h-.9zM309.1 446.7h.9v.9h-.9zM310.5 447.0h.9v.9h-.9zM315.6 446.1h.9v.9h-.9zM308.4 444.1h.9v.9h-.9zM309.3 443.7h.9v.9h-.9zM312.9 431.9h.9v.9h-.9zM308.4 435.3h.9v.9h-.9zM306.8 441.7h.9v.9h-.9zM316.1 437.0h.9v.9h-.9zM307.1 436.1h.9v.9h-.9zM316.9 442.4h.9v.9h-.9zM312.9 447.8h.9v.9h-.9zM312.6 448.5h.9v.9h-.9zM309.7 447.7h.9v.9h-.9zM317.0 442.5h.9v.9h-.9zM309.3 444.2h.9v.9h-.9zM312.8 431.3h.9v.9h-.9zM316.5 442.7h.9v.9h-.9zM312.0 448.0h.9v.9h-.9zM315.5 446.3h.9v.9h-.9zM313.5 448.4h.9v.9h-.9zM309.2 448.1h.9v.9h-.9zM313.2 447.9h.9v.9h-.9zM308.5 448.3h.9v.9h-.9zM310.5 447.9h.9v.9h-.9zM315.5 444.9h.9v.9h-.9zM310.2 447.5h.9v.9h-.9zM313.3 447.7h.9v.9h-.9zM316.1 436.4h.9v.9h-.9zM314.7 445.7h.9v.9h-.9zM308.2 447.4h.9v.9h-.9zM315.6 445.1h.9v.9h-.9zM317.7 442.5h.9v.9h-.9zM314.8 445.1h.9v.9h-.9z" fill="#5b8c9d" fill-opacity="0.86"/>
<path d="M316.3 440.4h.9v.9h-.9zM307.5 441.3h.9v.9h-.9zM312.3 434.3h.9v.9h-.9zM310.5 445.5h.9v.9h-.9zM306.8 440.1h.9v.9h-.9zM316.6 440.3h.9v.9h-.9zM307.4 438.5h.9v.9h-.9zM315.7 439.3h.9v.9h-.9zM307.4 437.8h.9v.9h-.9zM307.5 439.1h.9v.9h-.9zM313.0 433.9h.9v.9h-.9zM314.6 434.5h.9v.9h-.9zM308.3 435.9h.9v.9h-.9zM313.6 433.6h.9v.9h-.9zM316.7 439.5h.9v.9h-.9zM311.4 434.1h.9v.9h-.9zM315.3 436.4h.9v.9h-.9zM308.8 435.2h.9v.9h-.9zM316.6 440.2h.9v.9h-.9zM307.6 437.8h.9v.9h-.9zM306.8 437.1h.9v.9h-.9zM307.6 441.1h.9v.9h-.9zM307.1 440.3h.9v.9h-.9zM316.1 442.3h.9v.9h-.9zM311.2 434.6h.9v.9h-.9zM309.2 443.4h.9v.9h-.9zM314.8 444.3h.9v.9h-.9zM315.5 443.9h.9v.9h-.9zM311.9 446.7h.9v.9h-.9zM314.6 434.5h.9v.9h-.9zM311.5 447.4h.9v.9h-.9zM308.0 441.7h.9v.9h-.9zM308.3 435.9h.9v.9h-.9zM308.7 435.2h.9v.9h-.9zM314.4 433.8h.9v.9h-.9zM312.4 447.4h.9v.9h-.9zM314.2 446.5h.9v.9h-.9zM313.2 434.5h.9v.9h-.9zM306.9 439.9h.9v.9h-.9zM312.3 434.2h.9v.9h-.9zM316.2 441.6h.9v.9h-.9zM313.0 447.0h.9v.9h-.9zM309.1 435.5h.9v.9h-.9zM309.4 435.4h.9v.9h-.9zM307.0 439.7h.9v.9h-.9zM311.3 433.7h.9v.9h-.9zM309.5 443.0h.9v.9h-.9zM307.7 435.8h.9v.9h-.9zM306.8 440.7h.9v.9h-.9zM307.3 439.0h.9v.9h-.9zM307.7 437.5h.9v.9h-.9zM306.9 440.6h.9v.9h-.9zM307.6 439.3h.9v.9h-.9zM315.8 440.7h.9v.9h-.9zM315.8 442.1h.9v.9h-.9zM311.4 446.6h.9v.9h-.9zM316.2 442.1h.9v.9h-.9zM307.3 438.7h.9v.9h-.9zM308.1 442.0h.9v.9h-.9zM314.5 446.3h.9v.9h-.9zM314.9 436.6h.9v.9h-.9zM307.1 437.6h.9v.9h-.9zM313.8 446.3h.9v.9h-.9zM309.8 444.7h.9v.9h-.9zM315.9 440.5h.9v.9h-.9zM313.1 433.8h.9v.9h-.9zM314.5 446.3h.9v.9h-.9zM316.2 441.6h.9v.9h-.9zM316.1 441.8h.9v.9h-.9zM316.3 439.8h.9v.9h-.9zM312.4 447.6h.9v.9h-.9zM312.0 446.8h.9v.9h-.9zM315.8 439.7h.9v.9h-.9zM316.0 439.5h.9v.9h-.9zM311.9 447.2h.9v.9h-.9z" fill="#5d998f" fill-opacity="0.90"/>
<path d="M308.8 441.8h.9v.9h-.9zM310.0 435.5h.9v.9h-.9zM315.6 438.9h.9v.9h-.9zM310.9 434.9h.9v.9h-.9zM310.0 435.2h.9v.9h-.9zM310.5 444.3h.9v.9h-.9zM309.6 437.1h.9v.9h-.9zM310.5 443.1h.9v.9h-.9zM311.0 435.0h.9v.9h-.9zM309.3 435.8h.9v.9h-.9zM310.6 436.5h.9v.9h-.9zM314.9 439.3h.9v.9h-.9zM314.9 440.2h.9v.9h-.9zM315.1 443.6h.9v.9h-.9zM307.9 440.8h.9v.9h-.9zM309.0 436.5h.9v.9h-.9zM308.3 436.6h.9v.9h-.9zM315.7 440.1h.9v.9h-.9zM310.0 444.0h.9v.9h-.9zM308.0 441.2h.9v.9h-.9zM309.1 441.6h.9v.9h-.9zM308.1 439.3h.9v.9h-.9zM307.9 437.2h.9v.9h-.9zM308.6 440.4h.9v.9h-.9zM309.4 441.0h.9v.9h-.9zM308.1 436.8h.9v.9h-.9zM308.5 440.3h.9v.9h-.9zM310.2 436.5h.9v.9h-.9zM308.5 439.1h.9v.9h-.9zM310.2 442.2h.9v.9h-.9zM308.0 437.8h.9v.9h-.9zM308.3 441.5h.9v.9h-.9zM309.8 435.7h.9v.9h-.9zM308.5 439.8h.9v.9h-.9zM308.4 440.0h.9v.9h-.9zM307.9 437.3h.9v.9h-.9zM314.7 438.4h.9v.9h-.9zM307.8 438.2h.9v.9h-.9zM307.7 438.3h.9v.9h-.9zM308.8 437.2h.9v.9h-.9zM309.9 434.9h.9v.9h-.9zM314.8 439.7h.9v.9h-.9zM311.5 434.9h.9v.9h-.9zM307.8 441.3h.9v.9h-.9zM315.4 439.0h.9v.9h-.9zM309.6 436.6h.9v.9h-.9zM309.4 436.8h.9v.9h-.9zM308.7 441.5h.9v.9h-.9zM307.8 440.1h.9v.9h-.9zM315.3 436.7h.9v.9h-.9zM308.6 441.5h.9v.9h-.9zM308.1 437.5h.9v.9h-.9zM308.8 437.3h.9v.9h-.9zM309.2 436.7h.9v.9h-.9zM309.9 441.7h.9v.9h-.9zM311.6 434.8h.9v.9h-.9zM308.4 437.9h.9v.9h-.9zM307.8 440.9h.9v.9h-.9zM314.7 439.1h.9v.9h-.9zM310.2 436.0h.9v.9h-.9zM309.8 443.0h.9v.9h-.9zM309.3 437.4h.9v.9h-.9zM308.7 442.2h.9v.9h-.9zM310.0 444.4h.9v.9h-.9zM314.8 440.4h.9v.9h-.9zM315.4 439.1h.9v.9h-.9zM315.2 442.9h.9v.9h-.9zM310.2 442.0h.9v.9h-.9zM315.3 442.9h.9v.9h-.9zM314.9 440.3h.9v.9h-.9zM315.5 439.4h.9v.9h-.9zM315.5 438.6h.9v.9h-.9zM314.2 445.3h.9v.9h-.9zM309.5 442.3h.9v.9h-.9zM315.4 443.4h.9v.9h-.9zM315.5 437.5h.9v.9h-.9zM310.3 442.2h.9v.9h-.9z" fill="#5fa581" fill-opacity="0.95"/>
<path d="M311.3 437.2h.9v.9h-.9zM311.4 444.7h.9v.9h-.9zM311.0 435.9h.9v.9h-.9zM312.7 434.9h.9v.9h-.9zM314.1 440.2h.9v.9h-.9zM310.0 439.4h.9v.9h-.9zM313.9 436.7h.9v.9h-.9zM314.2 438.0h.9v.9h-.9zM309.9 439.0h.9v.9h-.9zM309.0 439.0h.9v.9h-.9zM314.0 435.8h.9v.9h-.9zM314.0 436.0h.9v.9h-.9zM313.9 437.4h.9v.9h-.9zM311.1 443.1h.9v.9h-.9zM314.0 436.1h.9v.9h-.9zM314.5 437.5h.9v.9h-.9zM310.8 444.3h.9v.9h-.9zM315.5 442.1h.9v.9h-.9zM309.7 438.8h.9v.9h-.9zM310.5 440.8h.9v.9h-.9zM310.5 439.9h.9v.9h-.9zM310.5 440.3h.9v.9h-.9zM310.4 437.0h.9v.9h-.9zM314.5 436.2h.9v.9h-.9zM311.7 446.6h.9v.9h-.9zM312.8 434.6h.9v.9h-.9zM312.4 434.8h.9v.9h-.9zM309.3 438.8h.9v.9h-.9zM313.8 436.3h.9v.9h-.9zM311.6 445.1h.9v.9h-.9zM312.7 434.7h.9v.9h-.9zM313.8 436.4h.9v.9h-.9zM312.7 446.0h.9v.9h-.9zM314.6 438.4h.9v.9h-.9zM313.2 446.5h.9v.9h-.9zM310.2 436.8h.9v.9h-.9zM308.8 439.7h.9v.9h-.9zM313.1 446.1h.9v.9h-.9zM310.4 440.6h.9v.9h-.9zM312.5 435.0h.9v.9h-.9zM312.4 434.9h.9v.9h-.9zM308.8 438.9h.9v.9h-.9zM311.3 436.4h.9v.9h-.9zM310.3 439.0h.9v.9h-.9zM313.8 436.3h.9v.9h-.9zM310.9 444.3h.9v.9h-.9zM309.3 439.7h.9v.9h-.9zM308.9 438.9h.9v.9h-.9zM315.3 441.0h.9v.9h-.9zM311.3 442.9h.9v.9h-.9zM310.4 439.2h.9v.9h-.9zM315.0 442.2h.9v.9h-.9zM311.4 436.5h.9v.9h-.9zM311.8 445.7h.9v.9h-.9zM311.6 442.7h.9v.9h-.9zM310.0 436.9h.9v.9h-.9zM312.5 434.7h.9v.9h-.9zM311.5 445.3h.9v.9h-.9zM311.0 444.6h.9v.9h-.9zM314.7 437.7h.9v.9h-.9zM313.9 437.2h.9v.9h-.9zM312.3 434.9h.9v.9h-.9zM310.8 444.2h.9v.9h-.9zM309.2 437.9h.9v.9h-.9zM315.2 442.0h.9v.9h-.9zM311.1 442.6h.9v.9h-.9zM311.3 436.3h.9v.9h-.9zM314.5 435.9h.9v.9h-.9zM314.6 436.5h.9v.9h-.9zM311.4 436.5h.9v.9h-.9zM310.0 440.9h.9v.9h-.9zM309.6 438.0h.9v.9h-.9zM310.6 441.0h.9v.9h-.9zM314.2 435.9h.9v.9h-.9zM311.0 435.9h.9v.9h-.9zM314.2 439.7h.9v.9h-.9zM311.7 446.2h.9v.9h-.9zM314.4 437.8h.9v.9h-.9zM312.9 446.2h.9v.9h-.9zM311.2 444.8h.9v.9h-.9zM311.6 443.7h.9v.9h-.9zM311.0 444.7h.9v.9h-.9zM311.3 444.1h.9v.9h-.9zM314.7 437.3h.9v.9h-.9zM311.6 445.2h.9v.9h-.9zM311.3 436.9h.9v.9h-.9zM312.8 446.5h.9v.9h-.9zM313.9 438.8h.9v.9h-.9zM314.5 438.7h.9v.9h-.9zM315.6 442.2h.9v.9h-.9zM315.5 442.5h.9v.9h-.9zM313.9 436.3h.9v.9h-.9zM312.7 446.4h.9v.9h-.9zM314.2 437.9h.9v.9h-.9zM313.9 440.6h.9v.9h-.9zM313.6 446.5h.9v.9h-.9zM311.4 444.2h.9v.9h-.9zM310.7 439.7h.9v.9h-.9zM312.5 446.0h.9v.9h-.9z" fill="#7eae6b" fill-opacity="0.99"/>
<path d="M311.3 438.2h.9v.9h-.9zM313.1 437.1h.9v.9h-.9zM313.8 441.4h.9v.9h-.9zM313.5 443.7h.9v.9h-.9zM311.1 440.4h.9v.9h-.9zM313.6 440.1h.9v.9h-.9zM311.4 438.1h.9v.9h-.9zM314.2 440.6h.9v.9h-.9zM313.2 438.9h.9v.9h-.9zM312.7 438.0h.9v.9h-.9zM312.4 436.9h.9v.9h-.9zM312.6 443.7h.9v.9h-.9zM311.4 440.0h.9v.9h-.9zM312.6 445.6h.9v.9h-.9zM312.2 444.6h.9v.9h-.9zM311.3 440.8h.9v.9h-.9zM313.4 436.7h.9v.9h-.9zM311.7 438.1h.9v.9h-.9zM311.2 439.8h.9v.9h-.9zM312.6 436.6h.9v.9h-.9zM311.4 441.2h.9v.9h-.9zM312.3 437.8h.9v.9h-.9zM312.8 439.4h.9v.9h-.9zM311.8 439.0h.9v.9h-.9zM312.1 440.1h.9v.9h-.9zM311.9 435.6h.9v.9h-.9zM312.7 437.3h.9v.9h-.9zM313.0 437.8h.9v.9h-.9zM310.7 438.9h.9v.9h-.9zM314.4 443.1h.9v.9h-.9zM313.1 435.7h.9v.9h-.9zM312.6 437.6h.9v.9h-.9zM312.1 444.8h.9v.9h-.9zM311.0 440.6h.9v.9h-.9zM311.2 440.1h.9v.9h-.9zM311.3 438.9h.9v.9h-.9zM313.4 435.8h.9v.9h-.9zM311.7 438.4h.9v.9h-.9zM312.2 435.9h.9v.9h-.9zM314.2 441.7h.9v.9h-.9zM311.6 441.8h.9v.9h-.9zM314.5 441.9h.9v.9h-.9zM311.5 439.0h.9v.9h-.9zM312.1 439.2h.9v.9h-.9zM312.4 439.9h.9v.9h-.9zM311.0 439.6h.9v.9h-.9zM311.5 438.4h.9v.9h-.9zM311.9 439.1h.9v.9h-.9zM311.8 438.8h.9v.9h-.9zM310.9 438.8h.9v.9h-.9zM311.3 439.2h.9v.9h-.9zM313.1 437.4h.9v.9h-.9zM311.1 438.9h.9v.9h-.9zM312.7 436.2h.9v.9h-.9zM312.8 444.8h.9v.9h-.9zM313.4 444.0h.9v.9h-.9zM312.1 438.6h.9v.9h-.9zM311.0 438.7h.9v.9h-.9zM312.4 439.7h.9v.9h-.9zM313.1 445.1h.9v.9h-.9zM312.6 436.7h.9v.9h-.9zM312.1 435.7h.9v.9h-.9zM313.3 444.9h.9v.9h-.9zM313.9 443.3h.9v.9h-.9zM313.6 439.3h.9v.9h-.9zM313.3 443.6h.9v.9h-.9zM313.9 443.2h.9v.9h-.9zM313.7 436.0h.9v.9h-.9zM314.2 440.7h.9v.9h-.9zM314.2 441.0h.9v.9h-.9zM313.2 444.8h.9v.9h-.9zM313.3 438.8h.9v.9h-.9zM312.8 437.2h.9v.9h-.9zM312.9 443.7h.9v.9h-.9zM312.7 436.3h.9v.9h-.9zM312.0 445.2h.9v.9h-.9zM314.0 441.9h.9v.9h-.9zM311.3 440.9h.9v.9h-.9zM313.4 444.4h.9v.9h-.9zM313.0 443.6h.9v.9h-.9zM312.3 438.7h.9v.9h-.9zM312.0 444.8h.9v.9h-.9zM312.6 445.4h.9v.9h-.9zM313.6 440.4h.9v.9h-.9zM312.1 445.5h.9v.9h-.9zM312.6 444.2h.9v.9h-.9zM314.3 442.2h.9v.9h-.9zM313.7 445.2h.9v.9h-.9zM312.3 444.9h.9v.9h-.9zM312.3 436.5h.9v.9h-.9zM311.7 439.8h.9v.9h-.9zM312.1 445.5h.9v.9h-.9zM310.8 442.4h.9v.9h-.9zM311.2 440.2h.9v.9h-.9z" fill="#9eb754" fill-opacity="1.00"/>
<path d="M312.0 440.8h.9v.9h-.9zM313.1 440.7h.9v.9h-.9zM313.7 441.7h.9v.9h-.9zM313.6 442.4h.9v.9h-.9zM312.1 443.1h.9v.9h-.9zM312.5 441.1h.9v.9h-.9zM312.3 440.8h.9v.9h-.9zM312.9 443.4h.9v.9h-.9zM312.8 442.1h.9v.9h-.9zM312.3 441.1h.9v.9h-.9zM313.6 443.2h.9v.9h-.9zM313.7 443.5h.9v.9h-.9zM311.8 441.0h.9v.9h-.9zM312.9 441.1h.9v.9h-.9zM312.0 443.3h.9v.9h-.9zM313.2 442.0h.9v.9h-.9zM313.7 442.3h.9v.9h-.9zM312.4 440.8h.9v.9h-.9zM313.3 442.1h.9v.9h-.9zM313.0 440.7h.9v.9h-.9zM312.7 442.5h.9v.9h-.9zM313.5 443.0h.9v.9h-.9zM312.3 442.7h.9v.9h-.9zM313.4 441.2h.9v.9h-.9zM313.0 442.0h.9v.9h-.9zM312.3 443.5h.9v.9h-.9zM313.1 440.9h.9v.9h-.9zM313.0 443.4h.9v.9h-.9zM313.1 442.9h.9v.9h-.9zM312.8 442.0h.9v.9h-.9zM313.3 442.0h.9v.9h-.9zM313.4 443.5h.9v.9h-.9z" fill="#b7bc43" fill-opacity="1.00"/>
</g>
<path d="M296.7 383.6H379.1V465.2" fill="none" stroke="#222" stroke-width="1.4"/>
<rect x="326.5" y="399" width="49.9" height="65" fill="none" stroke="#1a1a1a" stroke-width="1.3"/>
<line x1="296.7" y1="383.1" x2="296.7" y2="465.9" stroke="#1a1a1a" stroke-width="1.5"/>
<line x1="296" y1="465.2" x2="379.8" y2="465.2" stroke="#1a1a1a" stroke-width="1.5"/>
<line x1="293.7" y1="465.2" x2="296.7" y2="465.2" stroke="#1a1a1a" stroke-width="1.1"/>
<text x="290.2" y="468.2" font-size="8.6" fill="#2a2a2a" text-anchor="end" textLength="4.3" lengthAdjust="spacingAndGlyphs">0</text>
<line x1="293.7" y1="449.18" x2="296.7" y2="449.18" stroke="#1a1a1a" stroke-width="1.1"/>
<text x="290.2" y="452.18" font-size="8.6" fill="#2a2a2a" text-anchor="end" textLength="12.9" lengthAdjust="spacingAndGlyphs">200</text>
<line x1="293.7" y1="433.16" x2="296.7" y2="433.16" stroke="#1a1a1a" stroke-width="1.1"/>
<text x="290.2" y="436.16" font-size="8.6" fill="#2a2a2a" text-anchor="end" textLength="12.9" lengthAdjust="spacingAndGlyphs">400</text>
<line x1="293.7" y1="417.14" x2="296.7" y2="417.14" stroke="#1a1a1a" stroke-width="1.1"/>
<text x="290.2" y="420.14" font-size="8.6" fill="#2a2a2a" text-anchor="end" textLength="12.9" lengthAdjust="spacingAndGlyphs">600</text>
<line x1="293.7" y1="401.12" x2="296.7" y2="401.12" stroke="#1a1a1a" stroke-width="1.1"/>
<text x="290.2" y="404.12" font-size="8.6" fill="#2a2a2a" text-anchor="end" textLength="12.9" lengthAdjust="spacingAndGlyphs">800</text>
<line x1="293.7" y1="385.1" x2="296.7" y2="385.1" stroke="#1a1a1a" stroke-width="1.1"/>
<text x="290.2" y="388.1" font-size="8.6" fill="#2a2a2a" text-anchor="end" textLength="16.2" lengthAdjust="spacingAndGlyphs">1.0K</text>
<line x1="295.1" y1="461.19" x2="296.7" y2="461.19" stroke="#1a1a1a" stroke-width="0.9"/>
<line x1="295.1" y1="457.19" x2="296.7" y2="457.19" stroke="#1a1a1a" stroke-width="0.9"/>
<line x1="295.1" y1="453.19" x2="296.7" y2="453.19" stroke="#1a1a1a" stroke-width="0.9"/>
<line x1="295.1" y1="445.18" x2="296.7" y2="445.18" stroke="#1a1a1a" stroke-width="0.9"/>
<line x1="295.1" y1="441.17" x2="296.7" y2="441.17" stroke="#1a1a1a" stroke-width="0.9"/>
<line x1="295.1" y1="437.17" x2="296.7" y2="437.17" stroke="#1a1a1a" stroke-width="0.9"/>
<line x1="295.1" y1="429.16" x2="296.7" y2="429.16" stroke="#1a1a1a" stroke-width="0.9"/>
<line x1="295.1" y1="425.15" x2="296.7" y2="425.15" stroke="#1a1a1a" stroke-width="0.9"/>
<line x1="295.1" y1="421.14" x2="296.7" y2="421.14" stroke="#1a1a1a" stroke-width="0.9"/>
<line x1="295.1" y1="413.13" x2="296.7" y2="413.13" stroke="#1a1a1a" stroke-width="0.9"/>
<line x1="295.1" y1="409.13" x2="296.7" y2="409.13" stroke="#1a1a1a" stroke-width="0.9"/>
<line x1="295.1" y1="405.12" x2="296.7" y2="405.12" stroke="#1a1a1a" stroke-width="0.9"/>
<line x1="295.1" y1="397.12" x2="296.7" y2="397.12" stroke="#1a1a1a" stroke-width="0.9"/>
<line x1="295.1" y1="393.11" x2="296.7" y2="393.11" stroke="#1a1a1a" stroke-width="0.9"/>
<line x1="295.1" y1="389.11" x2="296.7" y2="389.11" stroke="#1a1a1a" stroke-width="0.9"/>
<line x1="296.7" y1="465.2" x2="296.7" y2="468.2" stroke="#1a1a1a" stroke-width="1.1"/>
<text x="299.7" y="478.4" font-size="8.6" fill="#2a2a2a" text-anchor="end" textLength="8.6" lengthAdjust="spacingAndGlyphs">10</text>
<text x="300" y="474.8" font-size="6" fill="#2a2a2a">0</text>
<line x1="302.9" y1="465.2" x2="302.9" y2="466.9" stroke="#1a1a1a" stroke-width="0.8"/>
<line x1="306.53" y1="465.2" x2="306.53" y2="466.9" stroke="#1a1a1a" stroke-width="0.8"/>
<line x1="309.1" y1="465.2" x2="309.1" y2="466.9" stroke="#1a1a1a" stroke-width="0.8"/>
<line x1="311.1" y1="465.2" x2="311.1" y2="466.9" stroke="#1a1a1a" stroke-width="0.8"/>
<line x1="312.73" y1="465.2" x2="312.73" y2="466.9" stroke="#1a1a1a" stroke-width="0.8"/>
<line x1="314.11" y1="465.2" x2="314.11" y2="466.9" stroke="#1a1a1a" stroke-width="0.8"/>
<line x1="315.3" y1="465.2" x2="315.3" y2="466.9" stroke="#1a1a1a" stroke-width="0.8"/>
<line x1="316.36" y1="465.2" x2="316.36" y2="466.9" stroke="#1a1a1a" stroke-width="0.8"/>
<line x1="317.3" y1="465.2" x2="317.3" y2="468.2" stroke="#1a1a1a" stroke-width="1.1"/>
<text x="320.3" y="478.4" font-size="8.6" fill="#2a2a2a" text-anchor="end" textLength="8.6" lengthAdjust="spacingAndGlyphs">10</text>
<text x="320.6" y="474.8" font-size="6" fill="#2a2a2a">1</text>
<line x1="323.5" y1="465.2" x2="323.5" y2="466.9" stroke="#1a1a1a" stroke-width="0.8"/>
<line x1="327.13" y1="465.2" x2="327.13" y2="466.9" stroke="#1a1a1a" stroke-width="0.8"/>
<line x1="329.7" y1="465.2" x2="329.7" y2="466.9" stroke="#1a1a1a" stroke-width="0.8"/>
<line x1="331.7" y1="465.2" x2="331.7" y2="466.9" stroke="#1a1a1a" stroke-width="0.8"/>
<line x1="333.33" y1="465.2" x2="333.33" y2="466.9" stroke="#1a1a1a" stroke-width="0.8"/>
<line x1="334.71" y1="465.2" x2="334.71" y2="466.9" stroke="#1a1a1a" stroke-width="0.8"/>
<line x1="335.9" y1="465.2" x2="335.9" y2="466.9" stroke="#1a1a1a" stroke-width="0.8"/>
<line x1="336.96" y1="465.2" x2="336.96" y2="466.9" stroke="#1a1a1a" stroke-width="0.8"/>
<line x1="337.9" y1="465.2" x2="337.9" y2="468.2" stroke="#1a1a1a" stroke-width="1.1"/>
<text x="340.9" y="478.4" font-size="8.6" fill="#2a2a2a" text-anchor="end" textLength="8.6" lengthAdjust="spacingAndGlyphs">10</text>
<text x="341.2" y="474.8" font-size="6" fill="#2a2a2a">2</text>
<line x1="344.1" y1="465.2" x2="344.1" y2="466.9" stroke="#1a1a1a" stroke-width="0.8"/>
<line x1="347.73" y1="465.2" x2="347.73" y2="466.9" stroke="#1a1a1a" stroke-width="0.8"/>
<line x1="350.3" y1="465.2" x2="350.3" y2="466.9" stroke="#1a1a1a" stroke-width="0.8"/>
<line x1="352.3" y1="465.2" x2="352.3" y2="466.9" stroke="#1a1a1a" stroke-width="0.8"/>
<line x1="353.93" y1="465.2" x2="353.93" y2="466.9" stroke="#1a1a1a" stroke-width="0.8"/>
<line x1="355.31" y1="465.2" x2="355.31" y2="466.9" stroke="#1a1a1a" stroke-width="0.8"/>
<line x1="356.5" y1="465.2" x2="356.5" y2="466.9" stroke="#1a1a1a" stroke-width="0.8"/>
<line x1="357.56" y1="465.2" x2="357.56" y2="466.9" stroke="#1a1a1a" stroke-width="0.8"/>
<line x1="358.5" y1="465.2" x2="358.5" y2="468.2" stroke="#1a1a1a" stroke-width="1.1"/>
<text x="361.5" y="478.4" font-size="8.6" fill="#2a2a2a" text-anchor="end" textLength="8.6" lengthAdjust="spacingAndGlyphs">10</text>
<text x="361.8" y="474.8" font-size="6" fill="#2a2a2a">3</text>
<line x1="364.7" y1="465.2" x2="364.7" y2="466.9" stroke="#1a1a1a" stroke-width="0.8"/>
<line x1="368.33" y1="465.2" x2="368.33" y2="466.9" stroke="#1a1a1a" stroke-width="0.8"/>
<line x1="370.9" y1="465.2" x2="370.9" y2="466.9" stroke="#1a1a1a" stroke-width="0.8"/>
<line x1="372.9" y1="465.2" x2="372.9" y2="466.9" stroke="#1a1a1a" stroke-width="0.8"/>
<line x1="374.53" y1="465.2" x2="374.53" y2="466.9" stroke="#1a1a1a" stroke-width="0.8"/>
<line x1="375.91" y1="465.2" x2="375.91" y2="466.9" stroke="#1a1a1a" stroke-width="0.8"/>
<line x1="377.1" y1="465.2" x2="377.1" y2="466.9" stroke="#1a1a1a" stroke-width="0.8"/>
<line x1="378.16" y1="465.2" x2="378.16" y2="466.9" stroke="#1a1a1a" stroke-width="0.8"/>
<line x1="379.1" y1="465.2" x2="379.1" y2="468.2" stroke="#1a1a1a" stroke-width="1.1"/>
<text x="382.1" y="478.4" font-size="8.6" fill="#2a2a2a" text-anchor="end" textLength="8.6" lengthAdjust="spacingAndGlyphs">10</text>
<text x="382.4" y="474.8" font-size="6" fill="#2a2a2a">4</text>
<text x="337.3" y="378.3" font-size="10.4" fill="#2a2a2a" text-anchor="middle">7.2-kb</text>
<text x="351.45" y="395.2" font-size="8" fill="#2a2a2a" text-anchor="middle">5.6±0.1%</text>
<g>
<path d="M427.8 459.6h.9v.9h-.9zM420.8 463.0h.9v.9h-.9zM454.6 406.3h.9v.9h-.9zM452.5 411.7h.9v.9h-.9zM430.1 463.8h.9v.9h-.9zM447.4 445.3h.9v.9h-.9zM450.2 448.8h.9v.9h-.9zM438.6 463.6h.9v.9h-.9zM429.3 411.7h.9v.9h-.9zM450.8 425.0h.9v.9h-.9zM431.5 461.5h.9v.9h-.9zM447.0 411.3h.9v.9h-.9zM421.5 449.9h.9v.9h-.9zM427.3 415.6h.9v.9h-.9zM450.0 421.1h.9v.9h-.9zM443.2 411.3h.9v.9h-.9zM422.1 429.8h.9v.9h-.9zM428.0 418.8h.9v.9h-.9zM430.7 416.1h.9v.9h-.9zM441.8 459.9h.9v.9h-.9zM454.8 404.4h.9v.9h-.9zM453.7 429.7h.9v.9h-.9zM443.8 413.7h.9v.9h-.9zM420.4 420.2h.9v.9h-.9zM422.0 422.6h.9v.9h-.9zM434.0 458.6h.9v.9h-.9zM424.1 411.9h.9v.9h-.9zM424.1 422.0h.9v.9h-.9zM439.5 464.1h.9v.9h-.9zM448.2 412.6h.9v.9h-.9zM454.6 417.3h.9v.9h-.9zM433.1 413.4h.9v.9h-.9zM420.6 456.4h.9v.9h-.9zM436.1 461.9h.9v.9h-.9zM426.7 460.9h.9v.9h-.9zM438.3 457.2h.9v.9h-.9zM452.8 417.8h.9v.9h-.9zM449.2 449.8h.9v.9h-.9zM442.0 456.4h.9v.9h-.9zM422.8 423.1h.9v.9h-.9zM441.3 412.9h.9v.9h-.9zM432.3 414.3h.9v.9h-.9zM422.2 459.8h.9v.9h-.9zM440.9 414.6h.9v.9h-.9zM451.9 435.6h.9v.9h-.9zM438.9 410.3h.9v.9h-.9zM420.5 446.0h.9v.9h-.9zM428.6 462.4h.9v.9h-.9zM444.7 454.1h.9v.9h-.9zM444.4 457.4h.9v.9h-.9zM450.1 447.2h.9v.9h-.9zM442.5 413.9h.9v.9h-.9zM435.0 461.2h.9v.9h-.9zM446.3 414.6h.9v.9h-.9zM425.5 418.5h.9v.9h-.9zM450.9 438.8h.9v.9h-.9zM444.7 457.3h.9v.9h-.9zM456.5 417.6h.9v.9h-.9zM450.3 449.7h.9v.9h-.9zM453.0 429.5h.9v.9h-.9zM420.9 426.2h.9v.9h-.9zM456.4 426.2h.9v.9h-.9zM438.1 413.3h.9v.9h-.9zM444.5 406.8h.9v.9h-.9zM427.4 417.6h.9v.9h-.9zM450.0 443.8h.9v.9h-.9zM455.4 427.6h.9v.9h-.9zM455.4 422.2h.9v.9h-.9zM429.5 414.8h.9v.9h-.9zM451.3 445.1h.9v.9h-.9zM449.5 417.4h.9v.9h-.9zM432.5 461.2h.9v.9h-.9zM437.8 458.8h.9v.9h-.9zM438.9 457.5h.9v.9h-.9zM451.9 440.0h.9v.9h-.9zM439.6 459.2h.9v.9h-.9zM455.2 427.9h.9v.9h-.9zM455.0 441.7h.9v.9h-.9zM428.3 459.3h.9v.9h-.9zM450.7 419.5h.9v.9h-.9zM445.7 452.0h.9v.9h-.9zM429.4 409.8h.9v.9h-.9zM452.8 453.6h.9v.9h-.9zM488.9 421.5h.9v.9h-.9zM466.8 451.1h.9v.9h-.9zM456.1 444.2h.9v.9h-.9zM490.9 433.7h.9v.9h-.9zM481.3 437.3h.9v.9h-.9zM487.8 449.1h.9v.9h-.9zM478.9 411.1h.9v.9h-.9zM472.5 450.7h.9v.9h-.9zM464.0 436.4h.9v.9h-.9zM460.9 444.8h.9v.9h-.9zM484.2 437.6h.9v.9h-.9zM473.3 431.9h.9v.9h-.9zM459.4 449.0h.9v.9h-.9zM465.1 412.2h.9v.9h-.9zM464.2 438.5h.9v.9h-.9zM467.3 445.9h.9v.9h-.9zM472.4 417.9h.9v.9h-.9zM485.4 439.0h.9v.9h-.9zM464.9 448.1h.9v.9h-.9zM472.9 431.3h.9v.9h-.9zM460.5 441.5h.9v.9h-.9zM474.4 424.0h.9v.9h-.9zM462.3 455.4h.9v.9h-.9zM465.9 432.4h.9v.9h-.9zM472.7 450.8h.9v.9h-.9zM471.1 434.8h.9v.9h-.9zM461.3 454.2h.9v.9h-.9zM477.3 429.4h.9v.9h-.9zM459.7 450.9h.9v.9h-.9zM478.4 434.5h.9v.9h-.9zM465.5 429.3h.9v.9h-.9zM458.7 429.7h.9v.9h-.9zM469.4 449.3h.9v.9h-.9zM459.9 437.2h.9v.9h-.9zM465.0 434.5h.9v.9h-.9zM468.7 423.0h.9v.9h-.9zM477.8 449.7h.9v.9h-.9zM478.0 448.5h.9v.9h-.9zM474.9 441.2h.9v.9h-.9zM467.5 445.8h.9v.9h-.9zM455.4 405.6h.9v.9h-.9zM467.1 439.6h.9v.9h-.9zM468.9 439.1h.9v.9h-.9zM465.1 432.3h.9v.9h-.9zM465.1 440.4h.9v.9h-.9zM478.1 430.7h.9v.9h-.9zM457.2 431.5h.9v.9h-.9zM470.3 425.6h.9v.9h-.9zM482.5 439.4h.9v.9h-.9zM462.7 430.8h.9v.9h-.9zM460.6 433.0h.9v.9h-.9zM468.0 451.8h.9v.9h-.9zM466.9 437.6h.9v.9h-.9zM472.8 437.6h.9v.9h-.9zM483.4 422.7h.9v.9h-.9zM475.7 447.8h.9v.9h-.9zM464.5 443.5h.9v.9h-.9zM465.4 438.5h.9v.9h-.9zM473.1 436.2h.9v.9h-.9zM463.7 438.7h.9v.9h-.9zM481.9 442.0h.9v.9h-.9zM466.2 434.7h.9v.9h-.9zM468.6 413.1h.9v.9h-.9zM460.0 457.7h.9v.9h-.9zM465.9 449.4h.9v.9h-.9zM460.4 436.5h.9v.9h-.9zM465.4 452.1h.9v.9h-.9zM452.8 424.9h.9v.9h-.9zM487.3 439.9h.9v.9h-.9zM451.8 446.9h.9v.9h-.9zM487.2 434.5h.9v.9h-.9zM469.0 439.5h.9v.9h-.9zM478.9 443.8h.9v.9h-.9zM460.3 448.5h.9v.9h-.9zM490.0 443.1h.9v.9h-.9zM459.6 442.4h.9v.9h-.9zM469.4 432.1h.9v.9h-.9zM485.4 455.2h.9v.9h-.9zM457.7 440.1h.9v.9h-.9zM462.6 426.0h.9v.9h-.9zM460.6 430.6h.9v.9h-.9zM461.2 422.8h.9v.9h-.9zM455.8 440.0h.9v.9h-.9zM483.9 437.2h.9v.9h-.9zM482.1 440.2h.9v.9h-.9zM456.7 425.5h.9v.9h-.9zM465.6 431.6h.9v.9h-.9zM481.0 447.9h.9v.9h-.9zM461.9 423.1h.9v.9h-.9zM486.1 422.8h.9v.9h-.9zM462.4 441.6h.9v.9h-.9zM469.3 422.3h.9v.9h-.9zM464.4 451.5h.9v.9h-.9zM492.4 452.9h.9v.9h-.9zM471.6 449.4h.9v.9h-.9zM465.4 417.4h.9v.9h-.9zM471.1 439.2h.9v.9h-.9zM484.7 429.3h.9v.9h-.9zM460.6 435.3h.9v.9h-.9z" fill="#a5add1" fill-opacity="0.42"/>
<path d="M422.1 452.2h.9v.9h-.9zM447.8 442.5h.9v.9h-.9zM450.6 438.1h.9v.9h-.9zM441.8 452.0h.9v.9h-.9zM431.4 459.4h.9v.9h-.9zM431.9 420.4h.9v.9h-.9zM447.1 418.1h.9v.9h-.9zM429.1 421.3h.9v.9h-.9zM422.1 446.4h.9v.9h-.9zM422.6 435.1h.9v.9h-.9zM438.6 454.1h.9v.9h-.9zM422.3 438.8h.9v.9h-.9zM449.3 438.8h.9v.9h-.9zM442.2 450.0h.9v.9h-.9zM422.0 436.6h.9v.9h-.9zM450.3 420.5h.9v.9h-.9zM423.4 459.7h.9v.9h-.9zM443.7 449.8h.9v.9h-.9zM425.6 425.2h.9v.9h-.9zM420.4 443.3h.9v.9h-.9zM447.7 441.6h.9v.9h-.9zM433.1 419.2h.9v.9h-.9zM420.8 443.3h.9v.9h-.9zM426.8 422.0h.9v.9h-.9zM442.4 417.0h.9v.9h-.9zM434.3 417.2h.9v.9h-.9zM420.6 438.9h.9v.9h-.9zM422.5 457.6h.9v.9h-.9zM421.6 435.3h.9v.9h-.9zM422.5 452.5h.9v.9h-.9zM428.3 421.6h.9v.9h-.9zM440.8 453.4h.9v.9h-.9zM438.6 414.8h.9v.9h-.9zM426.3 422.1h.9v.9h-.9zM449.5 441.9h.9v.9h-.9zM422.4 450.6h.9v.9h-.9zM433.7 414.9h.9v.9h-.9zM424.8 425.8h.9v.9h-.9zM421.8 437.4h.9v.9h-.9zM450.1 427.4h.9v.9h-.9zM424.6 458.1h.9v.9h-.9zM423.2 460.5h.9v.9h-.9zM435.0 418.0h.9v.9h-.9zM425.7 424.2h.9v.9h-.9zM432.9 419.3h.9v.9h-.9zM445.3 445.7h.9v.9h-.9zM428.0 421.7h.9v.9h-.9zM451.2 426.0h.9v.9h-.9zM441.0 452.2h.9v.9h-.9zM448.2 440.9h.9v.9h-.9zM425.8 456.0h.9v.9h-.9zM449.5 419.3h.9v.9h-.9zM424.3 429.9h.9v.9h-.9zM446.0 417.0h.9v.9h-.9zM422.4 454.3h.9v.9h-.9zM444.7 452.7h.9v.9h-.9zM421.8 434.4h.9v.9h-.9zM421.3 437.6h.9v.9h-.9zM444.4 418.3h.9v.9h-.9zM444.9 446.6h.9v.9h-.9zM431.5 459.3h.9v.9h-.9zM422.5 441.8h.9v.9h-.9zM446.7 417.8h.9v.9h-.9zM422.8 456.6h.9v.9h-.9zM434.2 457.0h.9v.9h-.9zM425.1 424.9h.9v.9h-.9zM443.4 450.7h.9v.9h-.9zM421.1 437.1h.9v.9h-.9zM431.8 458.2h.9v.9h-.9zM448.8 443.0h.9v.9h-.9zM423.9 428.2h.9v.9h-.9zM435.4 415.7h.9v.9h-.9zM451.0 433.5h.9v.9h-.9zM446.3 418.4h.9v.9h-.9zM442.5 418.3h.9v.9h-.9zM424.0 459.8h.9v.9h-.9zM443.7 454.3h.9v.9h-.9zM421.8 439.0h.9v.9h-.9zM443.8 448.6h.9v.9h-.9zM423.0 433.2h.9v.9h-.9zM424.9 425.8h.9v.9h-.9zM447.1 420.2h.9v.9h-.9zM431.3 420.5h.9v.9h-.9zM444.9 447.8h.9v.9h-.9zM427.0 455.9h.9v.9h-.9zM422.9 457.2h.9v.9h-.9zM421.9 440.2h.9v.9h-.9zM444.4 418.5h.9v.9h-.9zM430.2 456.2h.9v.9h-.9zM448.4 418.3h.9v.9h-.9zM448.4 422.6h.9v.9h-.9zM424.0 456.4h.9v.9h-.9zM433.2 460.1h.9v.9h-.9zM429.7 420.7h.9v.9h-.9zM449.6 427.7h.9v.9h-.9zM436.4 415.0h.9v.9h-.9zM441.9 454.6h.9v.9h-.9zM425.5 455.2h.9v.9h-.9zM443.8 449.2h.9v.9h-.9zM443.3 454.2h.9v.9h-.9zM422.4 437.5h.9v.9h-.9zM429.3 455.9h.9v.9h-.9zM448.2 421.5h.9v.9h-.9zM422.1 434.7h.9v.9h-.9zM421.8 442.2h.9v.9h-.9zM438.1 414.1h.9v.9h-.9zM422.6 442.0h.9v.9h-.9zM432.8 420.1h.9v.9h-.9zM442.1 417.6h.9v.9h-.9zM446.8 422.7h.9v.9h-.9zM425.0 426.5h.9v.9h-.9zM438.6 416.6h.9v.9h-.9zM433.9 414.9h.9v.9h-.9zM470.5 449.9h.9v.9h-.9zM469.7 435.4h.9v.9h-.9zM468.0 432.7h.9v.9h-.9zM469.0 432.8h.9v.9h-.9zM470.1 450.9h.9v.9h-.9zM469.5 434.8h.9v.9h-.9zM469.1 433.8h.9v.9h-.9zM470.2 450.8h.9v.9h-.9z" fill="#9ca5cc" fill-opacity="0.47"/>
<path d="M427.0 454.5h.9v.9h-.9zM425.2 438.8h.9v.9h-.9zM429.8 455.4h.9v.9h-.9zM433.7 421.0h.9v.9h-.9zM444.8 420.3h.9v.9h-.9zM437.6 417.4h.9v.9h-.9zM448.7 426.5h.9v.9h-.9zM422.9 447.2h.9v.9h-.9zM425.4 433.5h.9v.9h-.9zM448.0 433.6h.9v.9h-.9zM448.1 436.0h.9v.9h-.9zM445.8 420.6h.9v.9h-.9zM425.9 427.5h.9v.9h-.9zM436.3 418.7h.9v.9h-.9zM448.5 438.0h.9v.9h-.9zM427.1 454.3h.9v.9h-.9zM446.1 425.8h.9v.9h-.9zM448.6 429.0h.9v.9h-.9zM448.1 426.0h.9v.9h-.9zM447.2 426.6h.9v.9h-.9zM428.8 453.9h.9v.9h-.9zM429.9 423.3h.9v.9h-.9zM447.4 427.2h.9v.9h-.9zM448.0 427.2h.9v.9h-.9zM448.7 431.5h.9v.9h-.9zM444.1 419.1h.9v.9h-.9zM423.4 443.2h.9v.9h-.9zM425.2 431.8h.9v.9h-.9zM437.0 415.7h.9v.9h-.9zM444.3 445.8h.9v.9h-.9zM425.9 453.8h.9v.9h-.9zM423.9 433.9h.9v.9h-.9zM445.3 420.9h.9v.9h-.9zM449.9 429.6h.9v.9h-.9zM444.8 442.2h.9v.9h-.9zM449.2 426.8h.9v.9h-.9zM421.9 444.0h.9v.9h-.9zM432.6 422.2h.9v.9h-.9zM424.8 431.6h.9v.9h-.9zM442.2 419.5h.9v.9h-.9zM444.9 426.1h.9v.9h-.9zM448.6 436.8h.9v.9h-.9zM443.9 418.7h.9v.9h-.9zM446.7 429.1h.9v.9h-.9zM424.2 452.0h.9v.9h-.9zM423.5 446.2h.9v.9h-.9zM433.8 456.3h.9v.9h-.9zM433.7 421.8h.9v.9h-.9zM449.1 436.6h.9v.9h-.9zM444.8 425.1h.9v.9h-.9zM424.0 438.9h.9v.9h-.9zM425.7 453.8h.9v.9h-.9zM434.7 455.1h.9v.9h-.9zM429.4 424.8h.9v.9h-.9zM440.9 451.5h.9v.9h-.9zM446.3 441.3h.9v.9h-.9zM429.8 455.2h.9v.9h-.9zM424.1 439.7h.9v.9h-.9zM436.6 416.2h.9v.9h-.9zM444.7 421.5h.9v.9h-.9zM444.9 441.8h.9v.9h-.9zM438.6 418.4h.9v.9h-.9zM441.5 450.8h.9v.9h-.9zM450.0 430.9h.9v.9h-.9zM441.1 419.2h.9v.9h-.9zM424.4 452.5h.9v.9h-.9zM448.6 429.8h.9v.9h-.9zM446.0 440.7h.9v.9h-.9zM444.6 422.4h.9v.9h-.9zM446.2 427.4h.9v.9h-.9zM436.7 416.9h.9v.9h-.9zM428.8 425.4h.9v.9h-.9zM439.4 453.4h.9v.9h-.9zM445.1 422.0h.9v.9h-.9zM426.1 453.2h.9v.9h-.9zM445.4 444.7h.9v.9h-.9zM423.0 442.2h.9v.9h-.9zM441.1 420.4h.9v.9h-.9zM446.9 423.8h.9v.9h-.9zM436.8 417.9h.9v.9h-.9zM424.9 441.4h.9v.9h-.9zM447.7 438.5h.9v.9h-.9zM424.8 452.1h.9v.9h-.9zM446.8 423.9h.9v.9h-.9zM446.1 420.3h.9v.9h-.9zM450.1 431.8h.9v.9h-.9zM448.4 427.0h.9v.9h-.9zM425.2 438.0h.9v.9h-.9zM437.4 419.6h.9v.9h-.9zM429.4 423.7h.9v.9h-.9zM425.6 429.4h.9v.9h-.9zM425.7 455.2h.9v.9h-.9zM425.4 441.7h.9v.9h-.9zM450.1 431.1h.9v.9h-.9zM447.6 425.9h.9v.9h-.9zM450.4 431.6h.9v.9h-.9zM447.8 435.7h.9v.9h-.9zM444.1 422.6h.9v.9h-.9zM423.2 452.1h.9v.9h-.9zM434.5 422.0h.9v.9h-.9zM450.5 431.0h.9v.9h-.9zM427.5 454.3h.9v.9h-.9zM422.7 445.5h.9v.9h-.9zM427.5 454.3h.9v.9h-.9zM447.9 433.4h.9v.9h-.9zM446.9 425.5h.9v.9h-.9zM424.8 429.9h.9v.9h-.9zM426.9 425.9h.9v.9h-.9zM445.3 423.5h.9v.9h-.9zM422.5 445.5h.9v.9h-.9zM432.6 422.3h.9v.9h-.9zM443.7 424.5h.9v.9h-.9zM429.8 422.0h.9v.9h-.9zM448.2 439.5h.9v.9h-.9zM436.6 416.3h.9v.9h-.9z" fill="#939dc7" fill-opacity="0.51"/>
<path d="M444.5 444.1h.9v.9h-.9zM443.9 429.9h.9v.9h-.9zM443.5 422.7h.9v.9h-.9zM425.0 451.5h.9v.9h-.9zM433.0 423.3h.9v.9h-.9zM438.5 420.5h.9v.9h-.9zM425.2 435.8h.9v.9h-.9zM447.5 430.6h.9v.9h-.9zM444.3 424.7h.9v.9h-.9zM443.3 427.2h.9v.9h-.9zM424.2 448.8h.9v.9h-.9zM426.5 440.0h.9v.9h-.9zM424.5 448.5h.9v.9h-.9zM446.9 433.7h.9v.9h-.9zM437.5 420.5h.9v.9h-.9zM444.2 429.7h.9v.9h-.9zM425.3 444.8h.9v.9h-.9zM440.8 447.8h.9v.9h-.9zM428.4 427.4h.9v.9h-.9zM445.4 440.0h.9v.9h-.9zM439.5 420.4h.9v.9h-.9zM442.8 446.1h.9v.9h-.9zM435.6 454.2h.9v.9h-.9zM438.8 420.3h.9v.9h-.9zM438.5 419.7h.9v.9h-.9zM437.0 453.2h.9v.9h-.9zM430.1 426.4h.9v.9h-.9zM426.1 439.2h.9v.9h-.9zM442.1 422.1h.9v.9h-.9zM431.5 425.5h.9v.9h-.9zM425.4 444.1h.9v.9h-.9zM429.4 425.8h.9v.9h-.9zM429.1 427.1h.9v.9h-.9zM442.9 423.9h.9v.9h-.9zM443.7 426.3h.9v.9h-.9zM442.8 426.9h.9v.9h-.9zM445.9 438.0h.9v.9h-.9zM444.0 425.9h.9v.9h-.9zM424.5 444.9h.9v.9h-.9zM431.2 423.8h.9v.9h-.9zM442.2 421.9h.9v.9h-.9zM424.8 444.8h.9v.9h-.9zM441.1 448.2h.9v.9h-.9zM425.4 446.0h.9v.9h-.9zM429.9 452.8h.9v.9h-.9zM446.9 437.8h.9v.9h-.9zM430.9 422.6h.9v.9h-.9zM446.0 430.2h.9v.9h-.9zM431.8 454.8h.9v.9h-.9zM423.8 447.8h.9v.9h-.9zM446.9 432.3h.9v.9h-.9zM445.5 428.3h.9v.9h-.9zM431.8 455.0h.9v.9h-.9zM431.4 425.0h.9v.9h-.9zM426.9 428.0h.9v.9h-.9zM424.6 446.4h.9v.9h-.9zM446.5 439.2h.9v.9h-.9zM430.6 423.4h.9v.9h-.9zM424.3 450.3h.9v.9h-.9zM446.8 434.1h.9v.9h-.9zM432.4 424.3h.9v.9h-.9zM443.5 427.4h.9v.9h-.9zM425.6 443.0h.9v.9h-.9zM443.1 429.1h.9v.9h-.9zM425.5 436.5h.9v.9h-.9zM445.7 429.6h.9v.9h-.9zM442.6 446.9h.9v.9h-.9zM443.5 422.4h.9v.9h-.9zM431.2 454.3h.9v.9h-.9zM425.7 437.9h.9v.9h-.9zM448.1 431.5h.9v.9h-.9zM444.0 443.6h.9v.9h-.9zM436.0 421.0h.9v.9h-.9zM446.3 437.8h.9v.9h-.9zM447.1 431.8h.9v.9h-.9zM446.3 429.8h.9v.9h-.9zM431.9 422.9h.9v.9h-.9zM446.8 434.2h.9v.9h-.9zM426.6 443.0h.9v.9h-.9zM439.0 451.6h.9v.9h-.9zM445.4 429.5h.9v.9h-.9zM435.5 453.9h.9v.9h-.9zM444.6 427.6h.9v.9h-.9zM438.7 419.8h.9v.9h-.9zM423.9 447.6h.9v.9h-.9zM426.5 440.5h.9v.9h-.9zM429.7 425.6h.9v.9h-.9zM424.5 449.6h.9v.9h-.9zM435.6 454.4h.9v.9h-.9zM423.8 448.9h.9v.9h-.9zM447.1 435.7h.9v.9h-.9zM444.0 444.2h.9v.9h-.9zM440.7 448.1h.9v.9h-.9zM429.8 424.2h.9v.9h-.9zM443.9 444.0h.9v.9h-.9zM444.3 440.2h.9v.9h-.9zM432.9 454.8h.9v.9h-.9zM442.2 422.7h.9v.9h-.9zM447.3 435.7h.9v.9h-.9z" fill="#8a95c3" fill-opacity="0.55"/>
<path d="M436.9 420.8h.9v.9h-.9zM427.4 447.4h.9v.9h-.9zM434.9 423.3h.9v.9h-.9zM425.9 446.4h.9v.9h-.9zM432.9 453.6h.9v.9h-.9zM425.9 434.4h.9v.9h-.9zM426.4 451.3h.9v.9h-.9zM444.7 438.4h.9v.9h-.9zM441.3 425.3h.9v.9h-.9zM445.8 434.3h.9v.9h-.9zM441.4 422.0h.9v.9h-.9zM437.2 421.3h.9v.9h-.9zM427.3 429.3h.9v.9h-.9zM429.5 428.5h.9v.9h-.9zM446.3 435.0h.9v.9h-.9zM427.2 429.1h.9v.9h-.9zM437.4 421.4h.9v.9h-.9zM425.7 446.8h.9v.9h-.9zM426.8 451.5h.9v.9h-.9zM439.8 421.4h.9v.9h-.9zM443.0 441.7h.9v.9h-.9zM441.1 422.2h.9v.9h-.9zM425.8 431.6h.9v.9h-.9zM426.9 429.0h.9v.9h-.9zM426.6 435.7h.9v.9h-.9zM437.5 422.1h.9v.9h-.9zM425.6 448.3h.9v.9h-.9zM440.3 449.3h.9v.9h-.9zM427.5 429.1h.9v.9h-.9zM426.4 444.2h.9v.9h-.9zM442.6 429.9h.9v.9h-.9zM426.2 446.1h.9v.9h-.9zM441.6 423.3h.9v.9h-.9zM432.1 426.2h.9v.9h-.9zM441.3 425.6h.9v.9h-.9zM436.3 422.9h.9v.9h-.9zM446.1 434.2h.9v.9h-.9zM442.7 443.3h.9v.9h-.9zM442.4 428.8h.9v.9h-.9zM443.0 440.4h.9v.9h-.9zM442.6 427.1h.9v.9h-.9zM430.1 427.5h.9v.9h-.9zM443.0 443.2h.9v.9h-.9zM440.9 423.9h.9v.9h-.9zM445.9 431.0h.9v.9h-.9zM441.6 423.1h.9v.9h-.9zM427.5 441.3h.9v.9h-.9zM444.1 439.5h.9v.9h-.9zM426.0 436.0h.9v.9h-.9zM446.5 435.9h.9v.9h-.9zM442.4 446.4h.9v.9h-.9zM431.8 453.6h.9v.9h-.9zM441.2 421.9h.9v.9h-.9zM425.6 445.0h.9v.9h-.9zM425.5 450.2h.9v.9h-.9zM438.7 422.0h.9v.9h-.9zM430.6 451.6h.9v.9h-.9zM430.6 452.5h.9v.9h-.9zM444.8 438.1h.9v.9h-.9zM440.8 424.9h.9v.9h-.9zM430.9 452.4h.9v.9h-.9zM435.1 423.3h.9v.9h-.9zM432.8 424.6h.9v.9h-.9zM430.9 426.1h.9v.9h-.9zM436.5 423.0h.9v.9h-.9zM441.7 428.3h.9v.9h-.9zM440.6 424.0h.9v.9h-.9zM441.6 427.8h.9v.9h-.9zM439.9 421.3h.9v.9h-.9zM439.9 448.8h.9v.9h-.9zM443.3 440.0h.9v.9h-.9zM437.8 421.4h.9v.9h-.9zM433.4 453.8h.9v.9h-.9zM446.0 434.9h.9v.9h-.9zM427.0 443.5h.9v.9h-.9zM426.8 428.6h.9v.9h-.9zM426.4 435.2h.9v.9h-.9zM433.6 454.6h.9v.9h-.9zM426.6 435.3h.9v.9h-.9zM446.4 431.9h.9v.9h-.9zM426.0 435.5h.9v.9h-.9zM440.4 422.9h.9v.9h-.9zM429.4 451.8h.9v.9h-.9zM424.8 449.7h.9v.9h-.9zM438.7 422.1h.9v.9h-.9zM429.0 428.1h.9v.9h-.9zM427.1 440.7h.9v.9h-.9zM445.7 432.0h.9v.9h-.9zM426.3 436.8h.9v.9h-.9zM439.4 423.2h.9v.9h-.9zM446.3 431.9h.9v.9h-.9zM444.4 439.2h.9v.9h-.9zM426.2 448.1h.9v.9h-.9zM432.1 454.2h.9v.9h-.9zM424.7 449.5h.9v.9h-.9zM444.8 438.2h.9v.9h-.9zM430.8 452.1h.9v.9h-.9zM438.7 421.6h.9v.9h-.9zM429.0 452.4h.9v.9h-.9zM441.9 424.4h.9v.9h-.9zM441.8 424.9h.9v.9h-.9zM427.7 450.7h.9v.9h-.9zM437.8 421.3h.9v.9h-.9zM426.0 446.6h.9v.9h-.9zM445.7 431.2h.9v.9h-.9zM427.5 438.5h.9v.9h-.9zM438.1 452.2h.9v.9h-.9zM426.3 436.6h.9v.9h-.9zM426.8 439.4h.9v.9h-.9zM438.3 452.0h.9v.9h-.9zM435.8 453.5h.9v.9h-.9z" fill="#818dbe" fill-opacity="0.60"/>
<path d="M427.5 443.8h.9v.9h-.9zM434.4 425.4h.9v.9h-.9zM427.9 438.9h.9v.9h-.9zM428.6 447.0h.9v.9h-.9zM431.3 450.0h.9v.9h-.9zM426.7 430.1h.9v.9h-.9zM432.4 452.6h.9v.9h-.9zM443.7 432.6h.9v.9h-.9zM427.3 431.2h.9v.9h-.9zM445.3 433.3h.9v.9h-.9zM427.9 440.1h.9v.9h-.9zM428.6 449.4h.9v.9h-.9zM437.9 451.2h.9v.9h-.9zM440.0 426.5h.9v.9h-.9zM430.6 448.6h.9v.9h-.9zM441.2 425.9h.9v.9h-.9zM437.4 424.0h.9v.9h-.9zM427.1 449.5h.9v.9h-.9zM426.1 448.9h.9v.9h-.9zM444.5 432.6h.9v.9h-.9zM440.0 425.0h.9v.9h-.9zM433.2 425.8h.9v.9h-.9zM432.7 426.3h.9v.9h-.9zM428.3 449.3h.9v.9h-.9zM445.4 433.5h.9v.9h-.9zM444.7 435.3h.9v.9h-.9zM430.4 451.3h.9v.9h-.9zM438.8 424.8h.9v.9h-.9zM437.6 450.0h.9v.9h-.9zM429.2 451.4h.9v.9h-.9zM441.2 428.0h.9v.9h-.9zM438.3 422.6h.9v.9h-.9zM434.0 453.2h.9v.9h-.9zM439.7 426.5h.9v.9h-.9zM426.9 450.1h.9v.9h-.9zM427.7 445.2h.9v.9h-.9zM445.4 433.4h.9v.9h-.9zM436.3 424.2h.9v.9h-.9zM428.4 428.7h.9v.9h-.9zM437.3 452.0h.9v.9h-.9zM428.0 449.7h.9v.9h-.9zM441.0 428.8h.9v.9h-.9zM428.0 450.2h.9v.9h-.9zM441.7 430.9h.9v.9h-.9zM441.3 429.3h.9v.9h-.9zM438.3 450.8h.9v.9h-.9zM435.2 424.8h.9v.9h-.9zM440.1 424.7h.9v.9h-.9zM433.0 426.3h.9v.9h-.9zM426.6 448.8h.9v.9h-.9zM442.9 432.4h.9v.9h-.9zM427.5 449.2h.9v.9h-.9zM428.0 445.1h.9v.9h-.9zM427.4 450.1h.9v.9h-.9zM427.3 431.6h.9v.9h-.9zM437.8 421.9h.9v.9h-.9zM428.8 450.2h.9v.9h-.9zM443.9 437.5h.9v.9h-.9zM428.8 448.9h.9v.9h-.9zM443.0 432.0h.9v.9h-.9zM428.0 438.9h.9v.9h-.9zM441.5 428.9h.9v.9h-.9zM438.8 448.8h.9v.9h-.9zM433.7 453.3h.9v.9h-.9zM429.1 446.2h.9v.9h-.9zM427.6 450.6h.9v.9h-.9zM434.8 424.9h.9v.9h-.9zM432.1 453.4h.9v.9h-.9zM431.1 450.8h.9v.9h-.9zM428.4 445.9h.9v.9h-.9zM427.0 436.5h.9v.9h-.9zM432.1 427.1h.9v.9h-.9zM444.3 436.8h.9v.9h-.9zM429.5 447.9h.9v.9h-.9zM437.9 422.9h.9v.9h-.9zM434.9 425.3h.9v.9h-.9zM429.6 449.5h.9v.9h-.9zM434.7 425.2h.9v.9h-.9zM442.0 445.5h.9v.9h-.9zM431.5 449.6h.9v.9h-.9zM437.1 424.5h.9v.9h-.9zM444.5 432.4h.9v.9h-.9zM430.9 427.3h.9v.9h-.9zM427.6 449.4h.9v.9h-.9zM444.6 432.6h.9v.9h-.9zM426.6 449.6h.9v.9h-.9zM432.2 452.9h.9v.9h-.9zM443.9 431.8h.9v.9h-.9zM438.1 421.8h.9v.9h-.9zM427.2 449.5h.9v.9h-.9zM429.9 448.1h.9v.9h-.9zM432.7 452.8h.9v.9h-.9zM430.6 450.4h.9v.9h-.9zM444.5 433.5h.9v.9h-.9zM427.0 450.4h.9v.9h-.9zM427.6 450.3h.9v.9h-.9zM430.1 448.6h.9v.9h-.9zM445.1 436.2h.9v.9h-.9zM429.3 451.0h.9v.9h-.9zM444.0 436.9h.9v.9h-.9zM427.1 430.1h.9v.9h-.9zM437.4 423.3h.9v.9h-.9zM427.8 441.3h.9v.9h-.9zM433.3 453.1h.9v.9h-.9zM438.4 423.7h.9v.9h-.9zM428.7 447.6h.9v.9h-.9zM426.7 431.5h.9v.9h-.9zM441.3 427.3h.9v.9h-.9zM444.9 435.8h.9v.9h-.9zM436.5 424.4h.9v.9h-.9zM437.8 451.3h.9v.9h-.9zM427.8 449.9h.9v.9h-.9zM438.0 424.7h.9v.9h-.9zM427.0 444.3h.9v.9h-.9zM430.7 450.1h.9v.9h-.9zM442.8 430.7h.9v.9h-.9zM436.9 423.7h.9v.9h-.9zM443.9 438.0h.9v.9h-.9zM431.7 453.1h.9v.9h-.9zM438.1 450.6h.9v.9h-.9zM441.0 427.6h.9v.9h-.9zM437.2 451.7h.9v.9h-.9zM435.2 453.2h.9v.9h-.9z" fill="#7884b9" fill-opacity="0.64"/>
<path d="M444.0 435.3h.9v.9h-.9zM431.0 449.2h.9v.9h-.9zM441.8 433.6h.9v.9h-.9zM429.2 441.5h.9v.9h-.9zM439.8 447.5h.9v.9h-.9zM438.2 426.2h.9v.9h-.9zM436.7 425.0h.9v.9h-.9zM426.8 435.2h.9v.9h-.9zM442.4 442.5h.9v.9h-.9zM440.9 431.9h.9v.9h-.9zM441.1 432.1h.9v.9h-.9zM428.2 442.7h.9v.9h-.9zM428.4 443.2h.9v.9h-.9zM442.5 433.0h.9v.9h-.9zM429.2 429.5h.9v.9h-.9zM442.4 439.6h.9v.9h-.9zM440.7 429.7h.9v.9h-.9zM429.4 445.2h.9v.9h-.9zM426.8 433.4h.9v.9h-.9zM427.8 443.0h.9v.9h-.9zM429.6 445.1h.9v.9h-.9zM428.1 429.6h.9v.9h-.9zM428.4 437.2h.9v.9h-.9zM435.8 452.1h.9v.9h-.9zM428.5 443.8h.9v.9h-.9zM436.6 425.5h.9v.9h-.9zM428.5 436.9h.9v.9h-.9zM428.4 436.8h.9v.9h-.9zM433.9 426.5h.9v.9h-.9zM442.3 442.8h.9v.9h-.9zM434.8 426.6h.9v.9h-.9zM428.9 445.0h.9v.9h-.9zM428.6 436.6h.9v.9h-.9zM441.6 443.9h.9v.9h-.9zM428.0 443.9h.9v.9h-.9zM429.9 447.6h.9v.9h-.9zM442.6 431.9h.9v.9h-.9zM428.5 437.4h.9v.9h-.9zM441.7 443.8h.9v.9h-.9zM428.7 441.5h.9v.9h-.9zM442.3 431.6h.9v.9h-.9zM438.7 426.4h.9v.9h-.9zM442.1 432.0h.9v.9h-.9zM436.2 425.4h.9v.9h-.9zM431.2 447.6h.9v.9h-.9zM429.9 446.7h.9v.9h-.9zM444.0 436.0h.9v.9h-.9zM427.1 434.1h.9v.9h-.9zM440.4 447.6h.9v.9h-.9zM428.0 443.0h.9v.9h-.9zM426.9 431.7h.9v.9h-.9zM434.6 452.4h.9v.9h-.9zM432.6 452.1h.9v.9h-.9zM441.7 441.4h.9v.9h-.9zM427.6 430.4h.9v.9h-.9zM443.0 432.8h.9v.9h-.9zM429.2 440.8h.9v.9h-.9zM428.6 444.2h.9v.9h-.9zM443.7 433.9h.9v.9h-.9zM437.4 424.7h.9v.9h-.9zM442.5 441.8h.9v.9h-.9zM441.8 438.9h.9v.9h-.9zM442.6 439.7h.9v.9h-.9zM443.3 433.3h.9v.9h-.9zM441.7 439.2h.9v.9h-.9zM434.1 426.4h.9v.9h-.9zM427.3 432.9h.9v.9h-.9zM443.4 436.8h.9v.9h-.9zM440.7 446.5h.9v.9h-.9zM434.9 451.8h.9v.9h-.9zM439.3 447.7h.9v.9h-.9zM426.8 434.0h.9v.9h-.9zM433.0 426.8h.9v.9h-.9zM442.0 444.3h.9v.9h-.9zM433.8 451.8h.9v.9h-.9zM433.9 452.1h.9v.9h-.9zM437.3 450.7h.9v.9h-.9zM443.3 434.4h.9v.9h-.9zM433.7 452.1h.9v.9h-.9zM442.7 438.2h.9v.9h-.9zM442.4 432.2h.9v.9h-.9zM438.2 449.3h.9v.9h-.9z" fill="#7183b5" fill-opacity="0.68"/>
<path d="M431.1 446.0h.9v.9h-.9zM429.4 439.4h.9v.9h-.9zM434.0 427.7h.9v.9h-.9zM436.7 426.5h.9v.9h-.9zM430.2 444.9h.9v.9h-.9zM432.4 427.6h.9v.9h-.9zM442.2 435.6h.9v.9h-.9zM428.3 430.6h.9v.9h-.9zM442.7 436.5h.9v.9h-.9zM442.9 435.1h.9v.9h-.9zM439.7 430.0h.9v.9h-.9zM432.9 451.4h.9v.9h-.9zM428.7 436.9h.9v.9h-.9zM429.4 430.0h.9v.9h-.9zM442.0 436.8h.9v.9h-.9zM443.2 435.5h.9v.9h-.9zM431.5 428.8h.9v.9h-.9zM429.1 443.1h.9v.9h-.9zM430.0 444.6h.9v.9h-.9zM441.9 435.2h.9v.9h-.9zM431.8 427.7h.9v.9h-.9zM439.9 431.7h.9v.9h-.9zM438.8 426.9h.9v.9h-.9zM432.5 448.6h.9v.9h-.9zM442.7 435.0h.9v.9h-.9zM433.6 428.5h.9v.9h-.9zM441.4 434.6h.9v.9h-.9zM429.4 441.7h.9v.9h-.9zM439.7 430.8h.9v.9h-.9zM436.1 426.5h.9v.9h-.9zM436.3 425.8h.9v.9h-.9zM428.3 434.6h.9v.9h-.9zM429.5 437.4h.9v.9h-.9zM428.7 444.3h.9v.9h-.9zM443.5 435.2h.9v.9h-.9zM442.0 438.4h.9v.9h-.9zM435.4 427.3h.9v.9h-.9zM440.4 429.9h.9v.9h-.9zM441.6 437.3h.9v.9h-.9zM428.2 431.5h.9v.9h-.9zM428.2 435.3h.9v.9h-.9zM429.6 444.3h.9v.9h-.9zM429.6 430.4h.9v.9h-.9zM428.0 431.0h.9v.9h-.9zM428.7 443.9h.9v.9h-.9zM429.2 443.0h.9v.9h-.9zM436.0 450.9h.9v.9h-.9zM439.4 427.5h.9v.9h-.9zM428.9 438.3h.9v.9h-.9zM428.7 429.9h.9v.9h-.9zM432.8 450.2h.9v.9h-.9zM442.8 436.5h.9v.9h-.9zM439.7 432.2h.9v.9h-.9zM431.0 446.4h.9v.9h-.9zM442.7 436.1h.9v.9h-.9zM435.7 451.3h.9v.9h-.9zM439.2 426.7h.9v.9h-.9zM433.0 428.4h.9v.9h-.9zM440.4 429.5h.9v.9h-.9zM442.6 435.2h.9v.9h-.9zM430.4 445.2h.9v.9h-.9zM440.0 432.5h.9v.9h-.9zM430.8 429.3h.9v.9h-.9zM432.0 428.2h.9v.9h-.9zM437.8 427.1h.9v.9h-.9zM431.8 428.0h.9v.9h-.9zM429.3 438.8h.9v.9h-.9zM434.7 427.2h.9v.9h-.9zM439.9 432.1h.9v.9h-.9zM429.5 436.1h.9v.9h-.9zM429.0 442.2h.9v.9h-.9zM427.8 431.9h.9v.9h-.9zM432.0 448.2h.9v.9h-.9zM437.4 450.0h.9v.9h-.9zM433.5 451.1h.9v.9h-.9zM431.2 429.1h.9v.9h-.9zM439.7 430.6h.9v.9h-.9zM433.0 428.4h.9v.9h-.9zM430.7 446.6h.9v.9h-.9zM428.3 435.9h.9v.9h-.9zM431.9 448.5h.9v.9h-.9zM428.1 435.3h.9v.9h-.9zM443.0 436.4h.9v.9h-.9zM428.9 438.9h.9v.9h-.9zM432.6 447.6h.9v.9h-.9zM430.1 445.0h.9v.9h-.9zM432.3 449.1h.9v.9h-.9zM432.0 448.1h.9v.9h-.9zM440.0 431.8h.9v.9h-.9zM431.9 448.6h.9v.9h-.9zM440.0 428.5h.9v.9h-.9zM438.5 427.5h.9v.9h-.9zM440.2 429.8h.9v.9h-.9zM439.7 428.1h.9v.9h-.9zM436.8 426.3h.9v.9h-.9zM442.2 435.0h.9v.9h-.9zM441.2 432.9h.9v.9h-.9zM438.0 447.8h.9v.9h-.9zM437.4 449.6h.9v.9h-.9zM437.6 449.9h.9v.9h-.9z" fill="#6983b1" fill-opacity="0.73"/>
<path d="M430.1 440.9h.9v.9h-.9zM429.8 439.5h.9v.9h-.9zM435.0 451.2h.9v.9h-.9zM435.3 451.5h.9v.9h-.9zM434.4 428.9h.9v.9h-.9zM429.3 432.6h.9v.9h-.9zM428.2 434.2h.9v.9h-.9zM438.4 427.7h.9v.9h-.9zM440.7 434.9h.9v.9h-.9zM431.9 429.5h.9v.9h-.9zM428.7 434.8h.9v.9h-.9zM437.3 449.3h.9v.9h-.9zM434.8 429.0h.9v.9h-.9zM429.5 434.5h.9v.9h-.9zM435.3 429.2h.9v.9h-.9zM431.6 429.2h.9v.9h-.9zM430.2 430.5h.9v.9h-.9zM439.3 429.2h.9v.9h-.9zM432.7 448.8h.9v.9h-.9zM432.4 446.8h.9v.9h-.9zM441.5 438.2h.9v.9h-.9zM428.4 433.6h.9v.9h-.9zM429.7 438.7h.9v.9h-.9zM437.0 427.4h.9v.9h-.9zM440.6 446.0h.9v.9h-.9zM431.3 430.6h.9v.9h-.9zM435.7 427.1h.9v.9h-.9zM438.7 428.5h.9v.9h-.9zM430.0 441.6h.9v.9h-.9zM440.4 432.9h.9v.9h-.9zM430.3 438.5h.9v.9h-.9zM435.6 428.4h.9v.9h-.9zM429.9 440.0h.9v.9h-.9zM437.6 427.1h.9v.9h-.9zM441.2 434.9h.9v.9h-.9zM438.7 447.1h.9v.9h-.9zM440.8 438.3h.9v.9h-.9zM429.4 435.3h.9v.9h-.9zM438.9 429.5h.9v.9h-.9zM427.9 433.0h.9v.9h-.9zM428.2 433.7h.9v.9h-.9zM428.1 432.9h.9v.9h-.9zM428.7 433.8h.9v.9h-.9zM430.2 436.3h.9v.9h-.9zM434.9 429.6h.9v.9h-.9zM435.3 427.6h.9v.9h-.9zM433.0 428.8h.9v.9h-.9zM442.5 436.0h.9v.9h-.9zM430.3 436.2h.9v.9h-.9zM428.8 434.6h.9v.9h-.9zM430.5 430.3h.9v.9h-.9zM428.1 433.6h.9v.9h-.9zM435.8 427.3h.9v.9h-.9zM441.4 440.5h.9v.9h-.9zM438.4 427.9h.9v.9h-.9zM439.0 427.8h.9v.9h-.9zM438.6 431.2h.9v.9h-.9zM430.0 437.0h.9v.9h-.9zM438.8 427.8h.9v.9h-.9zM435.8 427.8h.9v.9h-.9zM438.8 447.0h.9v.9h-.9zM439.1 427.9h.9v.9h-.9zM439.2 447.0h.9v.9h-.9zM431.8 428.9h.9v.9h-.9zM435.2 429.2h.9v.9h-.9zM429.0 431.0h.9v.9h-.9zM441.1 439.4h.9v.9h-.9zM432.5 429.2h.9v.9h-.9zM439.5 432.4h.9v.9h-.9zM429.6 442.1h.9v.9h-.9zM437.9 428.5h.9v.9h-.9zM438.7 429.0h.9v.9h-.9zM433.7 429.0h.9v.9h-.9zM433.9 429.3h.9v.9h-.9zM431.7 446.6h.9v.9h-.9zM430.0 440.8h.9v.9h-.9zM441.5 434.8h.9v.9h-.9zM430.0 439.8h.9v.9h-.9zM428.1 434.5h.9v.9h-.9zM436.6 449.8h.9v.9h-.9zM436.6 426.9h.9v.9h-.9zM434.8 450.7h.9v.9h-.9zM440.8 440.3h.9v.9h-.9zM429.9 443.3h.9v.9h-.9zM441.6 441.0h.9v.9h-.9zM428.2 433.5h.9v.9h-.9zM441.2 445.5h.9v.9h-.9zM441.3 440.2h.9v.9h-.9zM438.9 432.4h.9v.9h-.9zM430.6 436.7h.9v.9h-.9zM430.5 439.9h.9v.9h-.9zM438.8 427.6h.9v.9h-.9zM440.6 440.4h.9v.9h-.9zM430.2 439.0h.9v.9h-.9zM431.4 429.9h.9v.9h-.9zM433.0 429.2h.9v.9h-.9zM429.9 437.2h.9v.9h-.9zM429.7 439.2h.9v.9h-.9zM439.3 447.3h.9v.9h-.9zM441.3 440.5h.9v.9h-.9zM435.9 428.5h.9v.9h-.9zM435.0 428.3h.9v.9h-.9zM430.1 436.5h.9v.9h-.9zM436.5 426.7h.9v.9h-.9zM439.0 447.3h.9v.9h-.9zM435.9 428.5h.9v.9h-.9zM428.4 433.7h.9v.9h-.9zM439.2 432.0h.9v.9h-.9zM441.5 445.2h.9v.9h-.9zM432.8 449.1h.9v.9h-.9zM432.0 447.1h.9v.9h-.9zM428.2 433.4h.9v.9h-.9zM436.4 449.8h.9v.9h-.9zM439.1 447.0h.9v.9h-.9zM441.6 438.3h.9v.9h-.9zM435.1 450.6h.9v.9h-.9zM440.9 440.7h.9v.9h-.9zM438.9 446.8h.9v.9h-.9zM440.6 441.1h.9v.9h-.9zM434.1 450.9h.9v.9h-.9zM434.9 450.7h.9v.9h-.9z" fill="#6282ae" fill-opacity="0.77"/>
<path d="M429.7 433.3h.9v.9h-.9zM431.8 436.3h.9v.9h-.9zM429.9 431.8h.9v.9h-.9zM430.0 433.7h.9v.9h-.9zM430.8 439.9h.9v.9h-.9zM431.5 436.7h.9v.9h-.9zM430.0 431.3h.9v.9h-.9zM441.6 443.1h.9v.9h-.9zM440.8 442.2h.9v.9h-.9zM430.7 435.5h.9v.9h-.9zM434.0 430.8h.9v.9h-.9zM434.3 450.6h.9v.9h-.9zM438.2 432.0h.9v.9h-.9zM436.4 428.7h.9v.9h-.9zM440.7 443.5h.9v.9h-.9zM436.8 428.8h.9v.9h-.9zM430.9 431.1h.9v.9h-.9zM438.3 430.2h.9v.9h-.9zM434.0 449.2h.9v.9h-.9zM431.5 434.6h.9v.9h-.9zM438.3 429.0h.9v.9h-.9zM432.9 447.4h.9v.9h-.9zM436.9 429.7h.9v.9h-.9zM430.5 433.3h.9v.9h-.9zM433.2 446.8h.9v.9h-.9zM440.7 444.1h.9v.9h-.9zM433.8 430.1h.9v.9h-.9zM433.1 447.6h.9v.9h-.9zM436.9 430.4h.9v.9h-.9zM438.4 430.4h.9v.9h-.9zM434.4 431.3h.9v.9h-.9zM431.5 433.7h.9v.9h-.9zM430.7 436.2h.9v.9h-.9zM432.0 435.7h.9v.9h-.9zM430.4 430.9h.9v.9h-.9zM432.5 446.3h.9v.9h-.9zM437.5 429.7h.9v.9h-.9zM438.3 430.7h.9v.9h-.9zM431.1 434.4h.9v.9h-.9zM430.9 442.4h.9v.9h-.9zM434.0 450.4h.9v.9h-.9zM437.9 432.2h.9v.9h-.9zM440.8 437.1h.9v.9h-.9zM429.8 434.5h.9v.9h-.9zM438.4 430.2h.9v.9h-.9zM432.0 437.3h.9v.9h-.9zM437.0 447.9h.9v.9h-.9zM437.2 430.1h.9v.9h-.9zM435.1 449.6h.9v.9h-.9zM429.9 432.3h.9v.9h-.9zM432.4 437.2h.9v.9h-.9zM429.9 431.3h.9v.9h-.9zM434.5 431.3h.9v.9h-.9zM432.5 437.0h.9v.9h-.9zM431.8 436.4h.9v.9h-.9zM430.9 441.9h.9v.9h-.9zM432.1 430.3h.9v.9h-.9zM436.1 428.8h.9v.9h-.9zM431.2 439.3h.9v.9h-.9zM437.8 432.6h.9v.9h-.9zM431.5 444.6h.9v.9h-.9zM441.1 443.0h.9v.9h-.9zM432.1 435.9h.9v.9h-.9zM437.7 428.9h.9v.9h-.9zM429.9 431.5h.9v.9h-.9zM434.4 450.5h.9v.9h-.9zM431.3 439.3h.9v.9h-.9zM430.1 431.0h.9v.9h-.9zM430.7 436.2h.9v.9h-.9zM430.6 440.1h.9v.9h-.9zM436.1 448.8h.9v.9h-.9zM440.6 443.1h.9v.9h-.9zM434.3 448.8h.9v.9h-.9zM431.9 430.2h.9v.9h-.9zM440.9 435.9h.9v.9h-.9zM438.3 431.0h.9v.9h-.9zM440.6 444.0h.9v.9h-.9zM429.9 433.6h.9v.9h-.9zM429.9 431.5h.9v.9h-.9zM437.2 429.3h.9v.9h-.9zM440.7 443.9h.9v.9h-.9zM429.1 432.9h.9v.9h-.9zM433.1 447.6h.9v.9h-.9zM437.2 447.6h.9v.9h-.9zM431.3 430.9h.9v.9h-.9zM434.3 450.5h.9v.9h-.9zM431.6 440.0h.9v.9h-.9zM431.1 435.7h.9v.9h-.9zM437.3 429.4h.9v.9h-.9zM437.4 427.8h.9v.9h-.9zM432.5 430.0h.9v.9h-.9zM429.8 431.6h.9v.9h-.9zM437.7 429.1h.9v.9h-.9zM431.2 438.5h.9v.9h-.9zM435.8 429.9h.9v.9h-.9zM431.5 436.2h.9v.9h-.9zM436.1 449.5h.9v.9h-.9zM430.0 431.7h.9v.9h-.9zM430.6 435.0h.9v.9h-.9zM438.1 429.6h.9v.9h-.9zM431.3 440.1h.9v.9h-.9zM430.3 435.4h.9v.9h-.9zM437.9 429.3h.9v.9h-.9zM431.7 430.0h.9v.9h-.9zM430.4 432.9h.9v.9h-.9zM433.5 430.3h.9v.9h-.9zM431.5 440.6h.9v.9h-.9zM433.0 447.2h.9v.9h-.9zM437.5 427.6h.9v.9h-.9zM433.9 431.3h.9v.9h-.9zM441.0 435.6h.9v.9h-.9zM431.5 438.9h.9v.9h-.9zM434.5 430.3h.9v.9h-.9zM431.0 442.5h.9v.9h-.9zM431.1 440.1h.9v.9h-.9zM431.3 441.0h.9v.9h-.9zM433.0 429.7h.9v.9h-.9zM429.7 432.3h.9v.9h-.9zM431.3 434.4h.9v.9h-.9zM431.3 436.2h.9v.9h-.9zM438.8 433.0h.9v.9h-.9zM434.2 430.5h.9v.9h-.9zM441.2 435.9h.9v.9h-.9zM435.3 449.9h.9v.9h-.9zM434.5 449.3h.9v.9h-.9zM434.1 450.4h.9v.9h-.9zM437.7 447.3h.9v.9h-.9zM434.1 449.0h.9v.9h-.9zM437.9 446.6h.9v.9h-.9zM436.3 449.3h.9v.9h-.9zM432.3 437.4h.9v.9h-.9zM438.5 446.7h.9v.9h-.9zM434.4 450.2h.9v.9h-.9zM436.2 448.7h.9v.9h-.9z" fill="#5a82aa" fill-opacity="0.82"/>
<path d="M439.8 436.7h.9v.9h-.9zM433.6 435.9h.9v.9h-.9zM435.9 431.0h.9v.9h-.9zM439.7 437.0h.9v.9h-.9zM431.5 433.5h.9v.9h-.9zM433.3 432.1h.9v.9h-.9zM430.7 431.7h.9v.9h-.9zM432.1 430.8h.9v.9h-.9zM432.6 438.4h.9v.9h-.9zM432.6 433.7h.9v.9h-.9zM433.3 435.4h.9v.9h-.9zM433.6 432.5h.9v.9h-.9zM432.1 437.9h.9v.9h-.9zM439.7 436.5h.9v.9h-.9zM436.6 432.4h.9v.9h-.9zM435.3 431.6h.9v.9h-.9zM431.4 443.1h.9v.9h-.9zM439.8 435.2h.9v.9h-.9zM430.8 442.7h.9v.9h-.9zM431.5 442.6h.9v.9h-.9zM433.2 434.6h.9v.9h-.9zM431.6 433.0h.9v.9h-.9zM435.4 430.9h.9v.9h-.9zM436.7 431.3h.9v.9h-.9zM432.0 444.7h.9v.9h-.9zM437.9 433.1h.9v.9h-.9zM432.2 434.5h.9v.9h-.9zM439.2 433.9h.9v.9h-.9zM432.4 439.7h.9v.9h-.9zM433.5 432.7h.9v.9h-.9zM434.5 435.7h.9v.9h-.9zM431.7 439.5h.9v.9h-.9zM432.8 434.6h.9v.9h-.9zM435.6 449.0h.9v.9h-.9zM436.7 431.7h.9v.9h-.9zM432.5 433.3h.9v.9h-.9zM431.6 444.6h.9v.9h-.9zM432.5 439.0h.9v.9h-.9zM433.2 433.2h.9v.9h-.9zM431.0 444.0h.9v.9h-.9zM434.0 435.1h.9v.9h-.9zM433.3 445.8h.9v.9h-.9zM432.7 432.6h.9v.9h-.9zM435.0 432.0h.9v.9h-.9zM431.5 444.1h.9v.9h-.9zM440.1 436.8h.9v.9h-.9zM433.1 437.3h.9v.9h-.9zM433.4 437.6h.9v.9h-.9zM433.8 431.8h.9v.9h-.9zM436.6 430.8h.9v.9h-.9zM431.6 445.1h.9v.9h-.9zM433.3 433.6h.9v.9h-.9zM435.5 431.4h.9v.9h-.9zM434.1 432.4h.9v.9h-.9zM434.3 432.1h.9v.9h-.9zM435.1 431.8h.9v.9h-.9zM439.0 445.9h.9v.9h-.9zM434.6 436.9h.9v.9h-.9zM432.2 441.2h.9v.9h-.9zM438.9 434.4h.9v.9h-.9zM430.7 443.8h.9v.9h-.9zM436.8 431.0h.9v.9h-.9zM436.8 432.2h.9v.9h-.9zM440.2 444.9h.9v.9h-.9zM440.0 434.6h.9v.9h-.9zM432.5 430.9h.9v.9h-.9zM432.1 431.4h.9v.9h-.9zM432.3 431.2h.9v.9h-.9zM439.7 437.0h.9v.9h-.9zM432.1 439.8h.9v.9h-.9zM432.9 436.0h.9v.9h-.9zM432.7 431.8h.9v.9h-.9zM439.7 435.3h.9v.9h-.9zM431.6 433.2h.9v.9h-.9zM440.4 434.9h.9v.9h-.9zM432.6 438.1h.9v.9h-.9zM433.8 436.6h.9v.9h-.9zM440.4 440.8h.9v.9h-.9zM435.4 448.9h.9v.9h-.9zM432.4 432.3h.9v.9h-.9zM433.3 435.5h.9v.9h-.9zM436.3 431.5h.9v.9h-.9zM440.5 437.8h.9v.9h-.9zM432.0 433.3h.9v.9h-.9zM440.1 435.8h.9v.9h-.9zM439.9 437.2h.9v.9h-.9zM430.7 443.1h.9v.9h-.9zM432.8 435.1h.9v.9h-.9zM431.8 433.2h.9v.9h-.9zM433.0 438.3h.9v.9h-.9zM433.4 435.2h.9v.9h-.9zM432.6 435.7h.9v.9h-.9zM434.7 448.6h.9v.9h-.9zM431.8 438.4h.9v.9h-.9zM433.0 438.6h.9v.9h-.9zM437.0 447.6h.9v.9h-.9zM433.0 438.3h.9v.9h-.9zM432.5 431.9h.9v.9h-.9zM440.5 437.6h.9v.9h-.9zM431.0 443.9h.9v.9h-.9zM431.0 443.5h.9v.9h-.9zM432.5 440.7h.9v.9h-.9zM431.0 443.2h.9v.9h-.9zM440.4 435.1h.9v.9h-.9zM431.9 433.5h.9v.9h-.9zM433.3 435.1h.9v.9h-.9zM437.3 447.0h.9v.9h-.9zM434.6 435.4h.9v.9h-.9zM433.5 436.9h.9v.9h-.9zM433.1 432.7h.9v.9h-.9zM434.0 437.2h.9v.9h-.9zM437.5 431.9h.9v.9h-.9zM433.4 431.8h.9v.9h-.9zM440.0 440.6h.9v.9h-.9zM439.7 437.9h.9v.9h-.9zM440.1 437.5h.9v.9h-.9zM435.1 448.9h.9v.9h-.9zM440.1 444.8h.9v.9h-.9zM436.7 447.3h.9v.9h-.9zM439.3 445.6h.9v.9h-.9zM440.0 438.3h.9v.9h-.9zM435.5 448.8h.9v.9h-.9zM439.8 440.7h.9v.9h-.9zM437.6 446.7h.9v.9h-.9zM434.1 446.9h.9v.9h-.9zM432.8 446.2h.9v.9h-.9zM434.8 449.4h.9v.9h-.9z" fill="#5b8c9d" fill-opacity="0.86"/>
<path d="M435.5 437.6h.9v.9h-.9zM433.9 433.7h.9v.9h-.9zM435.3 435.0h.9v.9h-.9zM439.4 438.9h.9v.9h-.9zM432.6 444.0h.9v.9h-.9zM439.1 435.4h.9v.9h-.9zM434.9 436.7h.9v.9h-.9zM439.3 439.3h.9v.9h-.9zM434.6 433.4h.9v.9h-.9zM433.6 434.6h.9v.9h-.9zM435.6 434.4h.9v.9h-.9zM435.4 433.8h.9v.9h-.9zM434.8 446.9h.9v.9h-.9zM435.1 447.8h.9v.9h-.9zM435.1 448.3h.9v.9h-.9zM435.1 448.0h.9v.9h-.9zM434.1 434.2h.9v.9h-.9zM436.3 432.5h.9v.9h-.9zM436.4 431.9h.9v.9h-.9zM436.1 432.6h.9v.9h-.9zM438.7 435.6h.9v.9h-.9zM438.7 439.8h.9v.9h-.9zM435.4 436.4h.9v.9h-.9zM439.6 438.8h.9v.9h-.9zM431.6 442.6h.9v.9h-.9zM433.5 445.2h.9v.9h-.9zM436.9 433.5h.9v.9h-.9zM438.2 434.0h.9v.9h-.9zM435.2 437.9h.9v.9h-.9zM435.1 438.0h.9v.9h-.9zM432.2 443.8h.9v.9h-.9zM437.7 434.4h.9v.9h-.9zM433.3 445.5h.9v.9h-.9zM435.0 435.5h.9v.9h-.9zM431.7 444.6h.9v.9h-.9zM436.3 446.7h.9v.9h-.9zM435.7 436.6h.9v.9h-.9zM439.5 439.2h.9v.9h-.9zM435.7 432.0h.9v.9h-.9zM437.5 433.6h.9v.9h-.9zM435.7 436.1h.9v.9h-.9zM434.8 447.7h.9v.9h-.9zM436.3 437.4h.9v.9h-.9zM433.8 434.6h.9v.9h-.9zM438.6 434.6h.9v.9h-.9zM431.8 444.1h.9v.9h-.9zM433.8 433.7h.9v.9h-.9zM439.5 438.5h.9v.9h-.9zM435.6 447.9h.9v.9h-.9zM433.0 440.4h.9v.9h-.9zM435.2 435.3h.9v.9h-.9zM439.1 435.4h.9v.9h-.9zM434.0 438.3h.9v.9h-.9zM439.3 438.7h.9v.9h-.9zM435.7 432.8h.9v.9h-.9zM435.3 448.6h.9v.9h-.9zM436.2 446.9h.9v.9h-.9zM436.0 436.7h.9v.9h-.9zM435.6 433.1h.9v.9h-.9zM435.7 432.7h.9v.9h-.9zM435.6 433.2h.9v.9h-.9zM435.8 435.8h.9v.9h-.9zM435.2 437.1h.9v.9h-.9zM432.4 444.1h.9v.9h-.9zM435.9 435.8h.9v.9h-.9zM438.2 446.1h.9v.9h-.9zM438.8 439.9h.9v.9h-.9zM435.8 433.5h.9v.9h-.9zM432.7 440.1h.9v.9h-.9zM433.4 440.6h.9v.9h-.9zM436.6 433.1h.9v.9h-.9zM438.4 434.0h.9v.9h-.9zM437.2 432.8h.9v.9h-.9zM439.0 436.4h.9v.9h-.9zM438.4 434.3h.9v.9h-.9zM434.7 437.9h.9v.9h-.9zM432.2 444.5h.9v.9h-.9zM436.3 432.6h.9v.9h-.9zM435.5 446.7h.9v.9h-.9zM439.9 441.7h.9v.9h-.9zM436.2 436.8h.9v.9h-.9zM438.7 438.7h.9v.9h-.9zM432.6 445.2h.9v.9h-.9zM434.9 432.8h.9v.9h-.9zM434.7 435.3h.9v.9h-.9zM432.4 443.9h.9v.9h-.9zM437.0 433.2h.9v.9h-.9zM438.9 435.0h.9v.9h-.9zM438.7 436.9h.9v.9h-.9zM438.6 434.8h.9v.9h-.9zM432.5 443.9h.9v.9h-.9zM434.8 433.3h.9v.9h-.9zM439.3 436.2h.9v.9h-.9zM437.0 433.1h.9v.9h-.9zM435.3 447.1h.9v.9h-.9zM439.0 437.1h.9v.9h-.9zM439.4 438.3h.9v.9h-.9zM439.3 439.5h.9v.9h-.9zM434.7 437.3h.9v.9h-.9zM438.8 439.7h.9v.9h-.9zM438.7 439.7h.9v.9h-.9zM439.3 436.2h.9v.9h-.9zM440.3 441.6h.9v.9h-.9zM439.0 438.0h.9v.9h-.9zM435.1 447.1h.9v.9h-.9zM438.7 435.3h.9v.9h-.9zM432.7 439.2h.9v.9h-.9zM434.8 448.4h.9v.9h-.9zM435.0 448.2h.9v.9h-.9z" fill="#5d998f" fill-opacity="0.90"/>
<path d="M433.3 443.5h.9v.9h-.9zM434.3 440.2h.9v.9h-.9zM438.5 436.7h.9v.9h-.9zM435.4 446.1h.9v.9h-.9zM435.1 438.7h.9v.9h-.9zM433.5 444.6h.9v.9h-.9zM440.3 444.2h.9v.9h-.9zM438.0 436.9h.9v.9h-.9zM436.9 437.9h.9v.9h-.9zM434.0 439.7h.9v.9h-.9zM439.9 444.5h.9v.9h-.9zM439.9 443.2h.9v.9h-.9zM437.8 438.5h.9v.9h-.9zM433.6 441.6h.9v.9h-.9zM433.1 442.8h.9v.9h-.9zM438.4 436.3h.9v.9h-.9zM437.4 434.7h.9v.9h-.9zM437.9 438.8h.9v.9h-.9zM437.5 434.3h.9v.9h-.9zM434.0 439.4h.9v.9h-.9zM433.9 439.5h.9v.9h-.9zM433.8 440.4h.9v.9h-.9zM438.5 434.9h.9v.9h-.9zM436.7 435.5h.9v.9h-.9zM434.2 445.1h.9v.9h-.9zM439.9 444.2h.9v.9h-.9zM435.2 445.9h.9v.9h-.9zM432.9 443.0h.9v.9h-.9zM437.1 437.3h.9v.9h-.9zM439.1 444.8h.9v.9h-.9zM435.3 446.4h.9v.9h-.9zM436.3 435.5h.9v.9h-.9zM433.7 439.2h.9v.9h-.9zM437.1 446.3h.9v.9h-.9zM436.5 433.7h.9v.9h-.9zM433.2 443.6h.9v.9h-.9zM433.1 442.2h.9v.9h-.9zM438.3 435.1h.9v.9h-.9zM433.3 440.9h.9v.9h-.9zM437.5 435.5h.9v.9h-.9zM432.8 442.0h.9v.9h-.9zM433.4 443.0h.9v.9h-.9zM438.3 435.4h.9v.9h-.9zM440.5 443.9h.9v.9h-.9zM436.2 438.4h.9v.9h-.9zM437.7 439.4h.9v.9h-.9zM433.2 441.7h.9v.9h-.9zM438.7 445.2h.9v.9h-.9zM434.5 440.5h.9v.9h-.9zM434.1 438.9h.9v.9h-.9zM436.5 435.5h.9v.9h-.9zM436.1 437.6h.9v.9h-.9zM433.2 440.7h.9v.9h-.9zM433.1 443.8h.9v.9h-.9zM433.9 440.5h.9v.9h-.9zM436.8 435.8h.9v.9h-.9zM434.6 445.4h.9v.9h-.9zM432.6 442.3h.9v.9h-.9zM433.7 438.7h.9v.9h-.9zM438.6 445.0h.9v.9h-.9zM433.6 444.3h.9v.9h-.9zM436.5 438.0h.9v.9h-.9zM437.1 437.0h.9v.9h-.9zM435.2 445.9h.9v.9h-.9zM433.6 439.5h.9v.9h-.9zM438.0 435.5h.9v.9h-.9zM437.7 438.8h.9v.9h-.9zM436.8 435.7h.9v.9h-.9zM438.2 436.9h.9v.9h-.9zM436.8 435.1h.9v.9h-.9zM436.1 445.9h.9v.9h-.9zM433.8 444.7h.9v.9h-.9zM434.4 439.0h.9v.9h-.9zM440.1 443.2h.9v.9h-.9zM439.3 440.7h.9v.9h-.9zM437.1 437.7h.9v.9h-.9zM433.2 442.5h.9v.9h-.9zM437.5 434.4h.9v.9h-.9zM437.0 434.9h.9v.9h-.9zM434.2 445.6h.9v.9h-.9zM437.5 435.4h.9v.9h-.9zM436.0 435.5h.9v.9h-.9zM434.4 440.5h.9v.9h-.9zM433.4 442.0h.9v.9h-.9zM435.0 446.5h.9v.9h-.9zM436.5 437.8h.9v.9h-.9zM437.9 439.2h.9v.9h-.9zM439.4 444.9h.9v.9h-.9zM437.6 438.1h.9v.9h-.9zM435.6 446.1h.9v.9h-.9zM435.8 435.4h.9v.9h-.9zM438.2 437.9h.9v.9h-.9zM437.3 445.9h.9v.9h-.9zM439.2 445.5h.9v.9h-.9zM435.9 438.1h.9v.9h-.9zM437.4 438.6h.9v.9h-.9zM437.5 434.6h.9v.9h-.9zM436.0 435.4h.9v.9h-.9zM440.1 443.2h.9v.9h-.9zM439.0 441.0h.9v.9h-.9zM437.7 435.7h.9v.9h-.9zM437.8 437.0h.9v.9h-.9zM439.9 444.2h.9v.9h-.9zM436.3 445.8h.9v.9h-.9zM435.4 446.1h.9v.9h-.9zM432.6 442.6h.9v.9h-.9zM438.8 444.7h.9v.9h-.9zM435.8 446.5h.9v.9h-.9zM434.8 446.5h.9v.9h-.9z" fill="#5fa581" fill-opacity="0.95"/>
<path d="M434.3 442.1h.9v.9h-.9zM434.8 440.6h.9v.9h-.9zM434.0 442.3h.9v.9h-.9zM435.1 441.0h.9v.9h-.9zM436.7 439.8h.9v.9h-.9zM436.9 439.9h.9v.9h-.9zM437.4 439.8h.9v.9h-.9zM439.1 442.5h.9v.9h-.9zM435.3 444.8h.9v.9h-.9zM436.0 440.2h.9v.9h-.9zM434.5 442.4h.9v.9h-.9zM437.3 439.2h.9v.9h-.9zM433.7 440.6h.9v.9h-.9zM435.1 439.8h.9v.9h-.9zM435.4 440.8h.9v.9h-.9zM438.8 441.9h.9v.9h-.9zM433.7 442.4h.9v.9h-.9zM438.3 445.4h.9v.9h-.9zM435.3 439.9h.9v.9h-.9zM434.5 441.4h.9v.9h-.9zM437.6 438.8h.9v.9h-.9zM437.8 440.9h.9v.9h-.9zM436.5 439.8h.9v.9h-.9zM438.9 442.3h.9v.9h-.9zM434.8 445.4h.9v.9h-.9zM436.1 439.3h.9v.9h-.9zM436.8 438.8h.9v.9h-.9zM435.3 440.6h.9v.9h-.9zM435.2 440.5h.9v.9h-.9zM436.5 440.3h.9v.9h-.9zM433.9 444.0h.9v.9h-.9zM437.9 441.5h.9v.9h-.9zM437.6 439.8h.9v.9h-.9zM436.1 440.5h.9v.9h-.9zM438.8 441.7h.9v.9h-.9zM438.8 442.0h.9v.9h-.9zM438.0 441.2h.9v.9h-.9zM439.3 442.4h.9v.9h-.9zM435.9 439.3h.9v.9h-.9zM439.1 441.8h.9v.9h-.9zM437.1 439.0h.9v.9h-.9zM435.7 439.9h.9v.9h-.9zM438.2 444.8h.9v.9h-.9zM437.1 439.0h.9v.9h-.9zM434.5 441.7h.9v.9h-.9zM437.8 440.6h.9v.9h-.9zM434.5 443.2h.9v.9h-.9zM435.2 441.1h.9v.9h-.9zM435.3 445.3h.9v.9h-.9zM437.2 440.5h.9v.9h-.9zM438.1 445.0h.9v.9h-.9z" fill="#7eae6b" fill-opacity="0.99"/>
<path d="M434.8 443.8h.9v.9h-.9zM436.8 441.2h.9v.9h-.9zM435.7 441.2h.9v.9h-.9zM435.2 443.4h.9v.9h-.9zM436.4 441.9h.9v.9h-.9zM434.7 444.2h.9v.9h-.9zM435.9 443.9h.9v.9h-.9zM439.0 444.5h.9v.9h-.9zM435.3 442.8h.9v.9h-.9zM436.1 441.8h.9v.9h-.9zM439.1 443.5h.9v.9h-.9zM434.9 443.1h.9v.9h-.9zM436.3 445.1h.9v.9h-.9zM435.3 441.6h.9v.9h-.9zM439.3 444.5h.9v.9h-.9zM437.6 442.2h.9v.9h-.9zM436.4 444.8h.9v.9h-.9zM438.6 443.8h.9v.9h-.9zM438.0 442.2h.9v.9h-.9zM436.8 445.2h.9v.9h-.9zM434.6 442.1h.9v.9h-.9zM435.2 441.6h.9v.9h-.9zM438.8 444.1h.9v.9h-.9zM435.3 442.4h.9v.9h-.9zM439.3 444.6h.9v.9h-.9zM439.3 444.3h.9v.9h-.9zM435.4 444.5h.9v.9h-.9zM438.7 443.8h.9v.9h-.9zM436.8 444.8h.9v.9h-.9zM435.1 444.3h.9v.9h-.9zM438.6 442.8h.9v.9h-.9zM435.5 443.6h.9v.9h-.9zM437.4 445.4h.9v.9h-.9zM437.3 441.5h.9v.9h-.9zM436.5 441.7h.9v.9h-.9zM439.2 443.5h.9v.9h-.9zM436.5 442.5h.9v.9h-.9zM434.7 444.3h.9v.9h-.9zM435.8 441.2h.9v.9h-.9zM434.8 442.3h.9v.9h-.9zM435.1 444.4h.9v.9h-.9zM437.8 441.7h.9v.9h-.9zM437.5 440.7h.9v.9h-.9zM435.4 442.9h.9v.9h-.9zM436.9 445.6h.9v.9h-.9zM437.1 441.4h.9v.9h-.9zM437.3 441.6h.9v.9h-.9zM435.2 444.1h.9v.9h-.9zM435.9 444.6h.9v.9h-.9zM436.2 442.6h.9v.9h-.9zM439.4 444.5h.9v.9h-.9zM437.5 441.1h.9v.9h-.9zM436.7 444.8h.9v.9h-.9zM435.1 444.0h.9v.9h-.9zM436.2 443.3h.9v.9h-.9zM436.4 444.9h.9v.9h-.9zM436.8 445.3h.9v.9h-.9zM435.9 444.3h.9v.9h-.9zM438.8 444.5h.9v.9h-.9zM435.3 444.3h.9v.9h-.9zM434.9 444.2h.9v.9h-.9zM438.9 443.4h.9v.9h-.9z" fill="#9eb754" fill-opacity="1.00"/>
<path d="M436.9 444.3h.9v.9h-.9zM436.8 442.1h.9v.9h-.9zM438.4 444.2h.9v.9h-.9zM437.2 444.5h.9v.9h-.9zM437.6 443.9h.9v.9h-.9zM437.4 444.5h.9v.9h-.9zM437.0 442.6h.9v.9h-.9zM438.4 443.6h.9v.9h-.9zM437.0 443.4h.9v.9h-.9zM437.3 444.4h.9v.9h-.9zM437.9 443.1h.9v.9h-.9zM438.3 442.8h.9v.9h-.9zM438.6 442.8h.9v.9h-.9zM437.6 443.7h.9v.9h-.9zM438.5 443.2h.9v.9h-.9zM438.2 442.7h.9v.9h-.9zM437.4 441.9h.9v.9h-.9zM436.7 444.2h.9v.9h-.9zM437.8 444.0h.9v.9h-.9zM438.2 442.7h.9v.9h-.9zM437.0 442.3h.9v.9h-.9zM437.6 442.1h.9v.9h-.9zM438.4 444.3h.9v.9h-.9zM437.1 442.5h.9v.9h-.9zM438.4 443.7h.9v.9h-.9z" fill="#b7bc43" fill-opacity="1.00"/>
</g>
<path d="M419.6 383.6H501.9V465.2" fill="none" stroke="#222" stroke-width="1.4"/>
<rect x="449.5" y="399" width="49.8" height="65" fill="none" stroke="#1a1a1a" stroke-width="1.3"/>
<line x1="419.6" y1="383.1" x2="419.6" y2="465.9" stroke="#1a1a1a" stroke-width="1.5"/>
<line x1="418.9" y1="465.2" x2="502.6" y2="465.2" stroke="#1a1a1a" stroke-width="1.5"/>
<line x1="416.6" y1="465.2" x2="419.6" y2="465.2" stroke="#1a1a1a" stroke-width="1.1"/>
<text x="413.1" y="468.2" font-size="8.6" fill="#2a2a2a" text-anchor="end" textLength="4.3" lengthAdjust="spacingAndGlyphs">0</text>
<line x1="416.6" y1="449.18" x2="419.6" y2="449.18" stroke="#1a1a1a" stroke-width="1.1"/>
<text x="413.1" y="452.18" font-size="8.6" fill="#2a2a2a" text-anchor="end" textLength="12.9" lengthAdjust="spacingAndGlyphs">200</text>
<line x1="416.6" y1="433.16" x2="419.6" y2="433.16" stroke="#1a1a1a" stroke-width="1.1"/>
<text x="413.1" y="436.16" font-size="8.6" fill="#2a2a2a" text-anchor="end" textLength="12.9" lengthAdjust="spacingAndGlyphs">400</text>
<line x1="416.6" y1="417.14" x2="419.6" y2="417.14" stroke="#1a1a1a" stroke-width="1.1"/>
<text x="413.1" y="420.14" font-size="8.6" fill="#2a2a2a" text-anchor="end" textLength="12.9" lengthAdjust="spacingAndGlyphs">600</text>
<line x1="416.6" y1="401.12" x2="419.6" y2="401.12" stroke="#1a1a1a" stroke-width="1.1"/>
<text x="413.1" y="404.12" font-size="8.6" fill="#2a2a2a" text-anchor="end" textLength="12.9" lengthAdjust="spacingAndGlyphs">800</text>
<line x1="416.6" y1="385.1" x2="419.6" y2="385.1" stroke="#1a1a1a" stroke-width="1.1"/>
<text x="413.1" y="388.1" font-size="8.6" fill="#2a2a2a" text-anchor="end" textLength="16.2" lengthAdjust="spacingAndGlyphs">1.0K</text>
<line x1="418" y1="461.19" x2="419.6" y2="461.19" stroke="#1a1a1a" stroke-width="0.9"/>
<line x1="418" y1="457.19" x2="419.6" y2="457.19" stroke="#1a1a1a" stroke-width="0.9"/>
<line x1="418" y1="453.19" x2="419.6" y2="453.19" stroke="#1a1a1a" stroke-width="0.9"/>
<line x1="418" y1="445.18" x2="419.6" y2="445.18" stroke="#1a1a1a" stroke-width="0.9"/>
<line x1="418" y1="441.17" x2="419.6" y2="441.17" stroke="#1a1a1a" stroke-width="0.9"/>
<line x1="418" y1="437.17" x2="419.6" y2="437.17" stroke="#1a1a1a" stroke-width="0.9"/>
<line x1="418" y1="429.16" x2="419.6" y2="429.16" stroke="#1a1a1a" stroke-width="0.9"/>
<line x1="418" y1="425.15" x2="419.6" y2="425.15" stroke="#1a1a1a" stroke-width="0.9"/>
<line x1="418" y1="421.14" x2="419.6" y2="421.14" stroke="#1a1a1a" stroke-width="0.9"/>
<line x1="418" y1="413.13" x2="419.6" y2="413.13" stroke="#1a1a1a" stroke-width="0.9"/>
<line x1="418" y1="409.13" x2="419.6" y2="409.13" stroke="#1a1a1a" stroke-width="0.9"/>
<line x1="418" y1="405.12" x2="419.6" y2="405.12" stroke="#1a1a1a" stroke-width="0.9"/>
<line x1="418" y1="397.12" x2="419.6" y2="397.12" stroke="#1a1a1a" stroke-width="0.9"/>
<line x1="418" y1="393.11" x2="419.6" y2="393.11" stroke="#1a1a1a" stroke-width="0.9"/>
<line x1="418" y1="389.11" x2="419.6" y2="389.11" stroke="#1a1a1a" stroke-width="0.9"/>
<line x1="419.6" y1="465.2" x2="419.6" y2="468.2" stroke="#1a1a1a" stroke-width="1.1"/>
<text x="422.6" y="478.4" font-size="8.6" fill="#2a2a2a" text-anchor="end" textLength="8.6" lengthAdjust="spacingAndGlyphs">10</text>
<text x="422.9" y="474.8" font-size="6" fill="#2a2a2a">0</text>
<line x1="425.79" y1="465.2" x2="425.79" y2="466.9" stroke="#1a1a1a" stroke-width="0.8"/>
<line x1="429.42" y1="465.2" x2="429.42" y2="466.9" stroke="#1a1a1a" stroke-width="0.8"/>
<line x1="431.99" y1="465.2" x2="431.99" y2="466.9" stroke="#1a1a1a" stroke-width="0.8"/>
<line x1="433.98" y1="465.2" x2="433.98" y2="466.9" stroke="#1a1a1a" stroke-width="0.8"/>
<line x1="435.61" y1="465.2" x2="435.61" y2="466.9" stroke="#1a1a1a" stroke-width="0.8"/>
<line x1="436.99" y1="465.2" x2="436.99" y2="466.9" stroke="#1a1a1a" stroke-width="0.8"/>
<line x1="438.18" y1="465.2" x2="438.18" y2="466.9" stroke="#1a1a1a" stroke-width="0.8"/>
<line x1="439.23" y1="465.2" x2="439.23" y2="466.9" stroke="#1a1a1a" stroke-width="0.8"/>
<line x1="440.18" y1="465.2" x2="440.18" y2="468.2" stroke="#1a1a1a" stroke-width="1.1"/>
<text x="443.18" y="478.4" font-size="8.6" fill="#2a2a2a" text-anchor="end" textLength="8.6" lengthAdjust="spacingAndGlyphs">10</text>
<text x="443.48" y="474.8" font-size="6" fill="#2a2a2a">1</text>
<line x1="446.37" y1="465.2" x2="446.37" y2="466.9" stroke="#1a1a1a" stroke-width="0.8"/>
<line x1="449.99" y1="465.2" x2="449.99" y2="466.9" stroke="#1a1a1a" stroke-width="0.8"/>
<line x1="452.56" y1="465.2" x2="452.56" y2="466.9" stroke="#1a1a1a" stroke-width="0.8"/>
<line x1="454.56" y1="465.2" x2="454.56" y2="466.9" stroke="#1a1a1a" stroke-width="0.8"/>
<line x1="456.19" y1="465.2" x2="456.19" y2="466.9" stroke="#1a1a1a" stroke-width="0.8"/>
<line x1="457.56" y1="465.2" x2="457.56" y2="466.9" stroke="#1a1a1a" stroke-width="0.8"/>
<line x1="458.76" y1="465.2" x2="458.76" y2="466.9" stroke="#1a1a1a" stroke-width="0.8"/>
<line x1="459.81" y1="465.2" x2="459.81" y2="466.9" stroke="#1a1a1a" stroke-width="0.8"/>
<line x1="460.75" y1="465.2" x2="460.75" y2="468.2" stroke="#1a1a1a" stroke-width="1.1"/>
<text x="463.75" y="478.4" font-size="8.6" fill="#2a2a2a" text-anchor="end" textLength="8.6" lengthAdjust="spacingAndGlyphs">10</text>
<text x="464.05" y="474.8" font-size="6" fill="#2a2a2a">2</text>
<line x1="466.94" y1="465.2" x2="466.94" y2="466.9" stroke="#1a1a1a" stroke-width="0.8"/>
<line x1="470.57" y1="465.2" x2="470.57" y2="466.9" stroke="#1a1a1a" stroke-width="0.8"/>
<line x1="473.14" y1="465.2" x2="473.14" y2="466.9" stroke="#1a1a1a" stroke-width="0.8"/>
<line x1="475.13" y1="465.2" x2="475.13" y2="466.9" stroke="#1a1a1a" stroke-width="0.8"/>
<line x1="476.76" y1="465.2" x2="476.76" y2="466.9" stroke="#1a1a1a" stroke-width="0.8"/>
<line x1="478.14" y1="465.2" x2="478.14" y2="466.9" stroke="#1a1a1a" stroke-width="0.8"/>
<line x1="479.33" y1="465.2" x2="479.33" y2="466.9" stroke="#1a1a1a" stroke-width="0.8"/>
<line x1="480.38" y1="465.2" x2="480.38" y2="466.9" stroke="#1a1a1a" stroke-width="0.8"/>
<line x1="481.32" y1="465.2" x2="481.32" y2="468.2" stroke="#1a1a1a" stroke-width="1.1"/>
<text x="484.32" y="478.4" font-size="8.6" fill="#2a2a2a" text-anchor="end" textLength="8.6" lengthAdjust="spacingAndGlyphs">10</text>
<text x="484.62" y="474.8" font-size="6" fill="#2a2a2a">3</text>
<line x1="487.52" y1="465.2" x2="487.52" y2="466.9" stroke="#1a1a1a" stroke-width="0.8"/>
<line x1="491.14" y1="465.2" x2="491.14" y2="466.9" stroke="#1a1a1a" stroke-width="0.8"/>
<line x1="493.71" y1="465.2" x2="493.71" y2="466.9" stroke="#1a1a1a" stroke-width="0.8"/>
<line x1="495.71" y1="465.2" x2="495.71" y2="466.9" stroke="#1a1a1a" stroke-width="0.8"/>
<line x1="497.34" y1="465.2" x2="497.34" y2="466.9" stroke="#1a1a1a" stroke-width="0.8"/>
<line x1="498.71" y1="465.2" x2="498.71" y2="466.9" stroke="#1a1a1a" stroke-width="0.8"/>
<line x1="499.91" y1="465.2" x2="499.91" y2="466.9" stroke="#1a1a1a" stroke-width="0.8"/>
<line x1="500.96" y1="465.2" x2="500.96" y2="466.9" stroke="#1a1a1a" stroke-width="0.8"/>
<line x1="501.9" y1="465.2" x2="501.9" y2="468.2" stroke="#1a1a1a" stroke-width="1.1"/>
<text x="504.9" y="478.4" font-size="8.6" fill="#2a2a2a" text-anchor="end" textLength="8.6" lengthAdjust="spacingAndGlyphs">10</text>
<text x="505.2" y="474.8" font-size="6" fill="#2a2a2a">4</text>
<text x="462.3" y="378.3" font-size="10.4" fill="#2a2a2a" text-anchor="middle">3.5-kb</text>
<text x="474.4" y="395.2" font-size="8" fill="#2a2a2a" text-anchor="middle">5.7±0.7%</text>
<path d="M23.2 482H56" stroke="#111" stroke-width="1.9" fill="none"/>
<path d="M24.1 482.9V455" stroke="#111" stroke-width="1.9" fill="none"/>
<path d="M24.1 449.8L28.3 458.2L24.1 456.2L19.9 458.2Z" fill="#111"/>
<path d="M61 482L52.4 477.8L54.4 482L52.4 486.2Z" fill="#111"/>
<text x="18.8" y="468.4" font-size="9.4" fill="#2a2a2a" text-anchor="middle" textLength="13.6" lengthAdjust="spacingAndGlyphs" transform="rotate(-90 18.8 468.4)">FSC</text>
<text x="32.5" y="494.2" font-size="9.6" fill="#2a2a2a" textLength="15" lengthAdjust="spacingAndGlyphs">HbF</text>
<text x="8.35" y="523.3" font-size="12.2" fill="#000" font-weight="bold" textLength="8.3" lengthAdjust="spacingAndGlyphs" style="stroke:#000;stroke-width:0.6px">D</text>
<path d="M25.8 715V551" stroke="#111" stroke-width="1.7" fill="none"/>
<path d="M25.8 545.3L29.8 554.3L25.8 552.3L21.8 554.3Z" fill="#111"/>
<path d="M25 714.4H175" stroke="#111" stroke-width="1.7" fill="none"/>
<path d="M180.8 714.4L171.4 710.4L173.6 714.4L171.4 718.4Z" fill="#111"/>
<text x="20.8" y="633.2" font-size="9" fill="#2a2a2a" text-anchor="middle" textLength="43.3" lengthAdjust="spacingAndGlyphs" transform="rotate(-90 20.8 633.2)">Absorbance</text>
<text x="72.9" y="726.3" font-size="9.6" fill="#2a2a2a" textLength="54" lengthAdjust="spacingAndGlyphs">Retention time</text>
<text x="35.8" y="542" font-size="8.4" fill="#2a2a2a" text-anchor="middle" font-family='"Liberation Serif", serif'>β</text>
<text x="53.1" y="542" font-size="8" fill="#2a2a2a" text-anchor="middle" font-family='"Liberation Serif", serif'>δ</text>
<text x="77.9" y="542" font-size="8.5" fill="#2a2a2a" text-anchor="middle" font-family='"Liberation Serif", serif'>α</text>
<text x="100" y="542.3" font-size="7.8" fill="#2a2a2a">G<tspan font-family='"Liberation Serif", serif' font-size="8">γ</tspan></text>
<text x="131.4" y="542.3" font-size="7.8" fill="#2a2a2a">A<tspan font-family='"Liberation Serif", serif' font-size="8">γ</tspan></text>
<path d="M29.4 582.6 L29.8 583.4 L30.2 582.8 L30.6 583.1 L31.0 583.2 L31.4 583.2 L31.8 583.1 L32.2 582.9 L32.6 583.0 L33.0 582.7 L33.4 581.4 L33.8 579.7 L34.2 573.2 L34.6 563.3 L35.0 553.2 L35.4 548.8 L35.8 549.2 L36.2 551.9 L36.6 556.4 L37.0 560.9 L37.4 564.8 L37.8 568.0 L38.2 571.5 L38.6 573.1 L39.0 574.3 L39.4 575.3 L39.8 576.6 L40.2 577.6 L40.6 577.7 L41.0 578.1 L41.4 578.7 L41.8 579.0 L42.2 579.5 L42.6 580.1 L43.0 580.3 L43.4 581.0 L43.8 580.9 L44.2 581.6 L44.6 581.8 L45.0 581.8 L45.4 582.0 L45.8 582.2 L46.2 582.8 L46.6 582.3 L47.0 582.9 L47.4 583.0 L47.8 582.7 L48.2 583.3 L48.6 582.3 L49.0 583.0 L49.4 583.0 L49.8 583.0 L50.2 583.2 L50.6 582.9 L51.0 583.0 L51.4 583.2 L51.8 582.6 L52.2 581.5 L52.6 580.3 L53.0 578.0 L53.4 576.0 L53.8 575.8 L54.2 575.9 L54.6 576.9 L55.0 578.5 L55.4 579.9 L55.8 581.1 L56.2 581.6 L56.6 582.9 L57.0 583.0 L57.4 583.0 L57.8 583.1 L58.2 582.5 L58.6 583.3 L59.0 582.8 L59.4 583.2 L59.8 582.8 L60.2 583.3 L60.6 582.9 L61.0 583.0 L61.4 583.4 L61.8 583.2 L62.2 582.6 L62.6 582.8 L63.0 583.0 L63.4 582.8 L63.8 583.1 L64.2 582.7 L64.6 582.4 L65.0 582.6 L65.4 582.7 L65.8 582.9 L66.2 582.9 L66.6 583.1 L67.0 582.8 L67.4 582.7 L67.8 582.9 L68.2 582.8 L68.6 582.7 L69.0 582.7 L69.4 583.1 L69.8 583.2 L70.2 583.2 L70.6 582.5 L71.0 583.2 L71.4 582.7 L71.8 582.9 L72.2 583.2 L72.6 582.7 L73.0 582.8 L73.4 582.9 L73.8 583.5 L74.2 583.4 L74.6 582.9 L75.0 583.1 L75.4 582.9 L75.8 581.5 L76.2 576.5 L76.6 566.5 L77.0 553.3 L77.4 547.9 L77.8 547.5 L78.2 551.8 L78.6 556.9 L79.0 562.4 L79.4 566.0 L79.8 570.3 L80.2 572.9 L80.6 574.3 L81.0 575.9 L81.4 576.9 L81.8 577.3 L82.2 577.9 L82.6 578.6 L83.0 579.0 L83.4 579.7 L83.8 580.0 L84.2 580.2 L84.6 580.5 L85.0 581.5 L85.4 581.7 L85.8 581.6 L86.2 582.1 L86.6 582.7 L87.0 582.0 L87.4 582.4 L87.8 582.9 L88.2 583.1 L88.6 582.7 L89.0 582.8 L89.4 583.1 L89.8 583.5 L90.2 583.2 L90.6 582.6 L91.0 583.5 L91.4 583.2 L91.8 583.1 L92.2 582.9 L92.6 583.5 L93.0 583.3 L93.4 583.4 L93.8 583.3 L94.2 583.4 L94.6 583.5 L95.0 583.7 L95.4 583.0 L95.8 583.2 L96.2 583.0 L96.6 583.3 L97.0 582.6 L97.4 582.0 L97.8 582.3 L98.2 582.1 L98.6 582.2 L99.0 582.4 L99.4 582.3 L99.8 582.3 L100.2 583.4 L100.6 583.0 L101.0 582.9 L101.4 583.4 L101.8 583.6 L102.2 582.8 L102.6 583.2 L103.0 583.4 L103.4 583.1 L103.8 583.4 L104.2 583.0 L104.6 583.1 L105.0 583.3 L105.4 583.4 L105.8 583.3 L106.2 583.1 L106.6 583.2 L107.0 582.8 L107.4 583.8 L107.8 583.2 L108.2 583.2 L108.6 583.4 L109.0 583.5 L109.4 583.4 L109.8 583.2 L110.2 582.9 L110.6 583.3 L111.0 583.1 L111.4 583.2 L111.8 583.3 L112.2 583.4 L112.6 583.7 L113.0 583.3 L113.4 582.9 L113.8 583.5 L114.2 583.6 L114.6 582.9 L115.0 583.5 L115.4 583.4 L115.8 583.2 L116.2 583.4 L116.6 583.4 L117.0 583.5 L117.4 583.6 L117.8 583.3 L118.2 583.4 L118.6 584.0 L119.0 583.1 L119.4 583.3 L119.8 583.3 L120.2 583.6 L120.6 583.6 L121.0 583.0 L121.4 583.7 L121.8 583.1 L122.2 584.0 L122.6 583.2 L123.0 583.6 L123.4 583.3 L123.8 583.6 L124.2 583.2 L124.6 583.4 L125.0 583.4 L125.4 583.4 L125.8 583.6 L126.2 583.3 L126.6 583.3 L127.0 583.1 L127.4 583.4 L127.8 583.3 L128.2 583.6 L128.6 583.6 L129.0 583.2 L129.4 583.5 L129.8 583.7 L130.2 583.3 L130.6 583.1 L131.0 584.0 L131.4 583.5 L131.8 583.6 L132.2 584.0 L132.6 583.2 L133.0 583.5 L133.4 582.9 L133.8 583.5 L134.2 583.5 L134.6 583.2 L135.0 583.2 L135.4 583.4 L135.8 583.4 L136.2 583.8 L136.6 583.3 L137.0 583.2 L137.4 583.0 L137.8 582.3 L138.2 582.4 L138.6 582.1 L139.0 582.6 L139.4 582.2 L139.8 582.7 L140.2 583.3 L140.6 582.8 L141.0 583.0 L141.4 583.7 L141.8 583.1 L142.2 583.4 L142.6 583.5 L143.0 583.2 L143.4 583.0 L143.8 583.8 L144.2 583.3 L144.6 583.6 L145.0 583.3 L145.4 583.6 L145.8 583.1 L146.2 583.1 L146.6 583.2 L147.0 583.3 L147.4 583.3 L147.8 583.4 L148.2 583.6 L148.6 583.3 L149.0 583.7 L149.4 583.3 L149.8 583.6 L150.2 583.8 L150.6 583.9 L151.0 583.0 L151.4 583.9 L151.8 583.0 L152.2 583.8 L152.6 583.5 L153.0 583.6 L153.4 583.3 L153.8 583.7 L154.2 583.7 L154.6 583.4" fill="none" stroke="#a0143a" stroke-width="1.25" stroke-linejoin="round"/>
<path d="M29.4 618.7 L29.8 619.1 L30.2 619.2 L30.6 619.1 L31.0 618.8 L31.4 618.9 L31.8 619.1 L32.2 619.1 L32.6 619.2 L33.0 618.9 L33.4 618.7 L33.8 619.0 L34.2 619.0 L34.6 618.5 L35.0 618.1 L35.4 615.8 L35.8 612.1 L36.2 606.9 L36.6 604.1 L37.0 603.7 L37.4 605.4 L37.8 607.8 L38.2 610.7 L38.6 613.6 L39.0 615.1 L39.4 616.3 L39.8 616.5 L40.2 617.0 L40.6 617.7 L41.0 617.9 L41.4 617.8 L41.8 618.1 L42.2 618.7 L42.6 618.5 L43.0 618.8 L43.4 619.2 L43.8 618.9 L44.2 618.9 L44.6 618.7 L45.0 619.2 L45.4 618.5 L45.8 618.6 L46.2 618.9 L46.6 618.5 L47.0 619.1 L47.4 618.7 L47.8 619.0 L48.2 618.8 L48.6 618.8 L49.0 618.9 L49.4 618.4 L49.8 618.6 L50.2 618.7 L50.6 619.4 L51.0 619.0 L51.4 619.0 L51.8 618.4 L52.2 618.3 L52.6 617.0 L53.0 614.7 L53.4 613.0 L53.8 611.3 L54.2 612.2 L54.6 613.8 L55.0 615.3 L55.4 616.8 L55.8 617.8 L56.2 618.0 L56.6 618.2 L57.0 618.3 L57.4 618.3 L57.8 617.9 L58.2 617.8 L58.6 618.2 L59.0 617.7 L59.4 617.5 L59.8 617.7 L60.2 617.4 L60.6 617.5 L61.0 617.3 L61.4 617.4 L61.8 617.4 L62.2 616.9 L62.6 616.8 L63.0 617.4 L63.4 616.8 L63.8 616.6 L64.2 616.4 L64.6 616.9 L65.0 616.7 L65.4 616.4 L65.8 616.7 L66.2 616.7 L66.6 617.2 L67.0 617.1 L67.4 617.1 L67.8 616.8 L68.2 617.2 L68.6 617.4 L69.0 617.4 L69.4 617.7 L69.8 617.5 L70.2 617.8 L70.6 617.8 L71.0 617.7 L71.4 618.2 L71.8 618.1 L72.2 618.3 L72.6 617.9 L73.0 617.9 L73.4 618.2 L73.8 618.1 L74.2 618.6 L74.6 618.6 L75.0 618.8 L75.4 618.7 L75.8 618.3 L76.2 618.9 L76.6 618.5 L77.0 618.5 L77.4 618.7 L77.8 618.6 L78.2 618.1 L78.6 615.1 L79.0 605.8 L79.4 593.6 L79.8 586.3 L80.2 588.3 L80.6 594.0 L81.0 601.3 L81.4 608.2 L81.8 612.6 L82.2 615.2 L82.6 616.4 L83.0 617.7 L83.4 617.7 L83.8 617.9 L84.2 618.3 L84.6 618.6 L85.0 618.8 L85.4 619.1 L85.8 618.5 L86.2 618.7 L86.6 619.2 L87.0 619.4 L87.4 618.7 L87.8 618.9 L88.2 618.5 L88.6 618.7 L89.0 618.7 L89.4 618.9 L89.8 618.6 L90.2 619.1 L90.6 618.9 L91.0 618.8 L91.4 619.1 L91.8 618.8 L92.2 618.6 L92.6 618.9 L93.0 619.4 L93.4 618.9 L93.8 619.0 L94.2 618.8 L94.6 618.8 L95.0 619.0 L95.4 618.2 L95.8 618.6 L96.2 618.7 L96.6 618.8 L97.0 619.3 L97.4 619.5 L97.8 619.1 L98.2 619.0 L98.6 619.1 L99.0 619.3 L99.4 618.6 L99.8 618.8 L100.2 618.9 L100.6 619.0 L101.0 618.4 L101.4 619.0 L101.8 618.5 L102.2 619.1 L102.6 619.1 L103.0 618.3 L103.4 619.0 L103.8 618.8 L104.2 618.3 L104.6 618.1 L105.0 617.4 L105.4 616.3 L105.8 615.9 L106.2 616.1 L106.6 616.8 L107.0 617.4 L107.4 618.4 L107.8 618.5 L108.2 618.5 L108.6 618.7 L109.0 618.5 L109.4 618.4 L109.8 618.2 L110.2 618.1 L110.6 618.2 L111.0 617.8 L111.4 618.5 L111.8 618.0 L112.2 617.7 L112.6 618.0 L113.0 617.3 L113.4 617.7 L113.8 617.4 L114.2 617.7 L114.6 616.9 L115.0 616.8 L115.4 616.6 L115.8 616.3 L116.2 616.5 L116.6 616.0 L117.0 616.2 L117.4 615.8 L117.8 616.1 L118.2 615.1 L118.6 615.7 L119.0 615.4 L119.4 615.3 L119.8 615.0 L120.2 615.5 L120.6 614.9 L121.0 615.0 L121.4 614.8 L121.8 614.7 L122.2 614.7 L122.6 614.9 L123.0 614.4 L123.4 614.6 L123.8 614.4 L124.2 614.9 L124.6 614.6 L125.0 614.7 L125.4 615.1 L125.8 615.1 L126.2 615.3 L126.6 615.3 L127.0 615.5 L127.4 615.6 L127.8 615.4 L128.2 615.9 L128.6 615.9 L129.0 616.1 L129.4 616.4 L129.8 616.3 L130.2 616.4 L130.6 617.1 L131.0 617.4 L131.4 617.0 L131.8 617.5 L132.2 617.4 L132.6 617.3 L133.0 617.4 L133.4 617.7 L133.8 617.7 L134.2 617.9 L134.6 618.0 L135.0 617.8 L135.4 618.4 L135.8 617.5 L136.2 615.8 L136.6 612.8 L137.0 609.9 L137.4 610.6 L137.8 612.5 L138.2 615.0 L138.6 617.4 L139.0 618.1 L139.4 618.5 L139.8 618.5 L140.2 618.9 L140.6 618.2 L141.0 618.9 L141.4 618.3 L141.8 619.0 L142.2 618.5 L142.6 619.0 L143.0 619.5 L143.4 618.8 L143.8 618.6 L144.2 619.4 L144.6 618.8 L145.0 618.6 L145.4 619.2 L145.8 618.2 L146.2 618.5 L146.6 618.6 L147.0 618.7 L147.4 618.4 L147.8 619.1 L148.2 619.1 L148.6 618.9 L149.0 618.8 L149.4 618.5 L149.8 619.0 L150.2 618.7 L150.6 619.0 L151.0 619.1 L151.4 618.9 L151.8 618.4 L152.2 618.7 L152.6 619.2 L153.0 619.0 L153.4 619.3 L153.8 618.3 L154.2 618.9 L154.6 618.9" fill="none" stroke="#2f4170" stroke-width="1.25" stroke-linejoin="round"/>
<path d="M29.4 657.5 L29.8 657.7 L30.2 658.1 L30.6 658.0 L31.0 657.8 L31.4 658.0 L31.8 658.2 L32.2 657.6 L32.6 658.0 L33.0 658.2 L33.4 657.7 L33.8 658.2 L34.2 657.9 L34.6 658.2 L35.0 658.1 L35.4 657.9 L35.8 657.7 L36.2 657.4 L36.6 656.4 L37.0 653.3 L37.4 647.3 L37.8 638.5 L38.2 632.4 L38.6 631.3 L39.0 631.8 L39.4 634.3 L39.8 637.5 L40.2 640.3 L40.6 643.4 L41.0 646.0 L41.4 647.9 L41.8 649.2 L42.2 650.3 L42.6 651.5 L43.0 652.5 L43.4 653.1 L43.8 653.7 L44.2 654.0 L44.6 654.0 L45.0 654.2 L45.4 654.9 L45.8 655.3 L46.2 655.5 L46.6 656.2 L47.0 656.1 L47.4 656.6 L47.8 656.9 L48.2 656.5 L48.6 657.0 L49.0 657.5 L49.4 657.6 L49.8 657.5 L50.2 657.3 L50.6 657.4 L51.0 657.7 L51.4 658.0 L51.8 657.9 L52.2 657.8 L52.6 657.9 L53.0 658.0 L53.4 657.4 L53.8 657.6 L54.2 657.9 L54.6 658.2 L55.0 658.2 L55.4 657.7 L55.8 657.9 L56.2 657.6 L56.6 657.4 L57.0 656.8 L57.4 655.3 L57.8 653.6 L58.2 652.7 L58.6 652.9 L59.0 654.1 L59.4 655.2 L59.8 656.3 L60.2 656.8 L60.6 657.3 L61.0 658.0 L61.4 657.9 L61.8 658.1 L62.2 657.7 L62.6 657.7 L63.0 657.6 L63.4 658.1 L63.8 657.6 L64.2 657.5 L64.6 657.7 L65.0 658.2 L65.4 657.9 L65.8 658.0 L66.2 657.9 L66.6 657.9 L67.0 657.9 L67.4 657.5 L67.8 658.3 L68.2 657.9 L68.6 658.2 L69.0 657.5 L69.4 658.0 L69.8 657.6 L70.2 657.6 L70.6 658.0 L71.0 658.2 L71.4 658.2 L71.8 658.2 L72.2 657.8 L72.6 658.1 L73.0 657.7 L73.4 657.8 L73.8 658.0 L74.2 657.9 L74.6 658.1 L75.0 657.4 L75.4 658.2 L75.8 657.8 L76.2 658.3 L76.6 658.2 L77.0 657.6 L77.4 657.9 L77.8 657.9 L78.2 656.8 L78.6 654.0 L79.0 647.0 L79.4 637.1 L79.8 630.9 L80.2 630.0 L80.6 632.4 L81.0 636.1 L81.4 639.9 L81.8 643.3 L82.2 646.4 L82.6 649.1 L83.0 651.1 L83.4 652.2 L83.8 652.9 L84.2 653.5 L84.6 654.6 L85.0 654.8 L85.4 655.7 L85.8 655.4 L86.2 656.0 L86.6 656.2 L87.0 657.1 L87.4 657.2 L87.8 657.0 L88.2 656.8 L88.6 657.7 L89.0 657.6 L89.4 657.3 L89.8 657.3 L90.2 657.8 L90.6 657.7 L91.0 657.9 L91.4 657.9 L91.8 657.8 L92.2 657.8 L92.6 658.0 L93.0 657.9 L93.4 657.8 L93.8 658.1 L94.2 657.4 L94.6 658.2 L95.0 658.0 L95.4 657.7 L95.8 657.9 L96.2 658.2 L96.6 658.0 L97.0 657.5 L97.4 657.6 L97.8 657.9 L98.2 658.3 L98.6 658.1 L99.0 657.8 L99.4 658.0 L99.8 657.9 L100.2 657.8 L100.6 658.0 L101.0 657.4 L101.4 658.1 L101.8 658.0 L102.2 657.8 L102.6 657.7 L103.0 657.6 L103.4 657.9 L103.8 657.9 L104.2 657.9 L104.6 658.3 L105.0 657.3 L105.4 657.7 L105.8 657.7 L106.2 658.1 L106.6 657.8 L107.0 657.6 L107.4 657.9 L107.8 657.9 L108.2 658.2 L108.6 657.8 L109.0 657.6 L109.4 657.6 L109.8 657.5 L110.2 657.8 L110.6 657.9 L111.0 657.6 L111.4 657.6 L111.8 657.9 L112.2 657.6 L112.6 657.7 L113.0 657.2 L113.4 657.3 L113.8 656.9 L114.2 657.1 L114.6 657.4 L115.0 657.6 L115.4 657.2 L115.8 656.9 L116.2 657.2 L116.6 657.4 L117.0 657.0 L117.4 657.2 L117.8 656.9 L118.2 656.6 L118.6 656.6 L119.0 656.7 L119.4 657.3 L119.8 656.8 L120.2 656.5 L120.6 656.6 L121.0 656.5 L121.4 656.2 L121.8 656.3 L122.2 656.2 L122.6 656.4 L123.0 656.5 L123.4 656.4 L123.8 655.9 L124.2 656.1 L124.6 655.7 L125.0 655.6 L125.4 655.8 L125.8 655.9 L126.2 655.7 L126.6 655.9 L127.0 655.9 L127.4 655.8 L127.8 655.6 L128.2 655.3 L128.6 656.0 L129.0 655.5 L129.4 655.8 L129.8 655.7 L130.2 655.5 L130.6 656.1 L131.0 655.8 L131.4 655.7 L131.8 655.6 L132.2 655.5 L132.6 655.5 L133.0 656.0 L133.4 655.8 L133.8 655.8 L134.2 656.1 L134.6 656.0 L135.0 656.3 L135.4 656.0 L135.8 656.1 L136.2 656.5 L136.6 656.2 L137.0 656.6 L137.4 656.6 L137.8 656.6 L138.2 656.2 L138.6 656.4 L139.0 656.5 L139.4 656.5 L139.8 657.1 L140.2 656.7 L140.6 656.7 L141.0 656.9 L141.4 657.1 L141.8 656.7 L142.2 657.4 L142.6 657.4 L143.0 657.2 L143.4 657.6 L143.8 657.0 L144.2 657.3 L144.6 657.4 L145.0 657.5 L145.4 657.8 L145.8 657.5 L146.2 657.4 L146.6 657.7 L147.0 657.7 L147.4 657.8 L147.8 657.6 L148.2 657.8 L148.6 657.6 L149.0 657.9 L149.4 657.6 L149.8 657.6 L150.2 658.1 L150.6 657.6 L151.0 657.8 L151.4 658.0 L151.8 657.8 L152.2 658.1 L152.6 657.7 L153.0 658.1 L153.4 657.5 L153.8 657.5 L154.2 657.9 L154.6 658.2" fill="none" stroke="#2f4170" stroke-width="1.25" stroke-linejoin="round"/>
<path d="M29.4 697.8 L29.8 697.2 L30.2 697.4 L30.6 697.3 L31.0 696.9 L31.4 697.6 L31.8 697.3 L32.2 697.7 L32.6 697.5 L33.0 697.3 L33.4 697.2 L33.8 697.3 L34.2 697.5 L34.6 697.3 L35.0 698.1 L35.4 697.4 L35.8 697.1 L36.2 697.4 L36.6 697.7 L37.0 697.5 L37.4 697.1 L37.8 696.3 L38.2 693.3 L38.6 685.6 L39.0 675.1 L39.4 669.2 L39.8 669.7 L40.2 673.8 L40.6 678.4 L41.0 683.3 L41.4 687.7 L41.8 691.3 L42.2 692.6 L42.6 694.4 L43.0 695.8 L43.4 695.9 L43.8 695.8 L44.2 696.4 L44.6 696.6 L45.0 697.5 L45.4 696.8 L45.8 697.0 L46.2 697.1 L46.6 696.9 L47.0 696.5 L47.4 697.2 L47.8 697.4 L48.2 697.2 L48.6 697.5 L49.0 697.5 L49.4 697.5 L49.8 696.9 L50.2 697.7 L50.6 697.5 L51.0 697.5 L51.4 697.3 L51.8 697.3 L52.2 697.2 L52.6 697.4 L53.0 697.5 L53.4 697.2 L53.8 697.5 L54.2 697.2 L54.6 697.4 L55.0 697.3 L55.4 697.5 L55.8 697.7 L56.2 697.2 L56.6 696.6 L57.0 695.6 L57.4 693.9 L57.8 691.4 L58.2 690.7 L58.6 690.9 L59.0 692.0 L59.4 692.9 L59.8 694.1 L60.2 695.2 L60.6 696.3 L61.0 696.4 L61.4 697.0 L61.8 696.4 L62.2 696.8 L62.6 696.9 L63.0 696.4 L63.4 696.7 L63.8 696.5 L64.2 696.8 L64.6 696.7 L65.0 696.9 L65.4 696.5 L65.8 696.3 L66.2 696.5 L66.6 696.6 L67.0 696.6 L67.4 696.6 L67.8 696.8 L68.2 696.4 L68.6 696.5 L69.0 696.3 L69.4 696.3 L69.8 696.7 L70.2 696.6 L70.6 695.8 L71.0 696.8 L71.4 696.0 L71.8 696.4 L72.2 696.8 L72.6 696.6 L73.0 696.7 L73.4 696.8 L73.8 696.7 L74.2 696.3 L74.6 696.8 L75.0 696.5 L75.4 696.1 L75.8 696.7 L76.2 696.9 L76.6 696.9 L77.0 696.9 L77.4 697.3 L77.8 697.0 L78.2 697.2 L78.6 697.0 L79.0 697.4 L79.4 696.9 L79.8 697.3 L80.2 697.5 L80.6 697.0 L81.0 697.3 L81.4 696.7 L81.8 696.7 L82.2 694.2 L82.6 684.6 L83.0 669.5 L83.4 664.2 L83.8 666.5 L84.2 672.3 L84.6 679.0 L85.0 685.2 L85.4 689.9 L85.8 692.6 L86.2 693.8 L86.6 695.3 L87.0 695.8 L87.4 696.1 L87.8 696.7 L88.2 696.6 L88.6 696.7 L89.0 697.0 L89.4 696.6 L89.8 697.3 L90.2 697.1 L90.6 697.6 L91.0 697.3 L91.4 697.3 L91.8 697.3 L92.2 696.9 L92.6 697.2 L93.0 697.3 L93.4 697.5 L93.8 697.3 L94.2 697.4 L94.6 697.4 L95.0 697.1 L95.4 697.3 L95.8 697.2 L96.2 696.9 L96.6 696.8 L97.0 697.4 L97.4 697.5 L97.8 697.4 L98.2 696.5 L98.6 696.7 L99.0 696.3 L99.4 695.5 L99.8 695.9 L100.2 696.5 L100.6 696.5 L101.0 697.1 L101.4 696.8 L101.8 697.0 L102.2 697.4 L102.6 697.1 L103.0 697.2 L103.4 697.2 L103.8 696.9 L104.2 697.6 L104.6 697.1 L105.0 697.1 L105.4 697.1 L105.8 697.2 L106.2 696.9 L106.6 697.4 L107.0 697.1 L107.4 697.4 L107.8 696.9 L108.2 696.9 L108.6 696.9 L109.0 697.2 L109.4 696.8 L109.8 697.4 L110.2 697.1 L110.6 697.4 L111.0 697.0 L111.4 697.3 L111.8 696.9 L112.2 696.8 L112.6 697.2 L113.0 696.9 L113.4 697.3 L113.8 696.9 L114.2 697.1 L114.6 696.8 L115.0 696.5 L115.4 697.3 L115.8 696.9 L116.2 697.1 L116.6 696.9 L117.0 696.4 L117.4 696.8 L117.8 697.0 L118.2 697.0 L118.6 697.0 L119.0 696.6 L119.4 696.4 L119.8 696.4 L120.2 696.0 L120.6 696.4 L121.0 696.3 L121.4 696.1 L121.8 695.7 L122.2 696.0 L122.6 695.6 L123.0 695.9 L123.4 695.3 L123.8 695.2 L124.2 695.2 L124.6 694.9 L125.0 694.8 L125.4 694.8 L125.8 694.1 L126.2 695.1 L126.6 694.6 L127.0 694.5 L127.4 694.1 L127.8 694.2 L128.2 694.1 L128.6 694.0 L129.0 693.5 L129.4 693.8 L129.8 693.3 L130.2 693.7 L130.6 693.5 L131.0 693.5 L131.4 693.5 L131.8 693.8 L132.2 693.9 L132.6 693.6 L133.0 693.4 L133.4 694.0 L133.8 693.4 L134.2 693.6 L134.6 693.8 L135.0 693.7 L135.4 694.3 L135.8 694.2 L136.2 694.4 L136.6 694.2 L137.0 694.6 L137.4 694.4 L137.8 694.6 L138.2 694.8 L138.6 694.9 L139.0 695.1 L139.4 695.0 L139.8 694.8 L140.2 695.2 L140.6 694.8 L141.0 695.5 L141.4 695.4 L141.8 696.0 L142.2 695.2 L142.6 696.4 L143.0 696.0 L143.4 695.7 L143.8 696.3 L144.2 696.4 L144.6 696.5 L145.0 697.0 L145.4 696.3 L145.8 696.6 L146.2 696.6 L146.6 696.5 L147.0 696.8 L147.4 697.0 L147.8 696.6 L148.2 696.9 L148.6 697.1 L149.0 697.0 L149.4 696.5 L149.8 697.0 L150.2 696.8 L150.6 697.2 L151.0 696.9 L151.4 697.4 L151.8 696.7 L152.2 697.1 L152.6 696.8 L153.0 697.4 L153.4 697.4 L153.8 696.8 L154.2 697.2 L154.6 697.0" fill="none" stroke="#2f4170" stroke-width="1.25" stroke-linejoin="round"/>
<text x="163.7" y="579.5" font-size="8" fill="#2a2a2a">ctr</text>
<text x="163.3" y="589.3" font-size="8" fill="#2a2a2a">(0.92)</text>
<text x="163.7" y="616.6" font-size="8" fill="#2a2a2a">13.6-kb</text>
<text x="163.3" y="626.3" font-size="8" fill="#2a2a2a">(1.20)</text>
<text x="163.7" y="653.3" font-size="8" fill="#2a2a2a">7.2-kb</text>
<text x="163.3" y="662.6" font-size="8" fill="#2a2a2a">(0.97)</text>
<text x="163.7" y="688.8" font-size="8" fill="#2a2a2a">3.5-kb</text>
<text x="163.3" y="698.5" font-size="8" fill="#2a2a2a">(0.96)</text>
<text x="217.85" y="546.9" font-size="12.2" fill="#000" font-weight="bold" textLength="6.2" lengthAdjust="spacingAndGlyphs" style="stroke:#000;stroke-width:0.6px">E</text>
<rect x="271.55" y="709.92" width="11.3" height="4.38" fill="#a8002a"/>
<rect x="288.55" y="641.31" width="11.3" height="72.99" fill="#2d4a80"/>
<rect x="288.55" y="591.22" width="11.3" height="39.78" fill="#2d4a80"/>
<rect x="305.55" y="711.38" width="11.3" height="2.92" fill="#67a83b"/>
<rect x="333.85" y="658.1" width="11.3" height="56.2" fill="#a8002a"/>
<rect x="350.85" y="641.31" width="11.3" height="72.99" fill="#2d4a80"/>
<rect x="350.85" y="625.82" width="11.3" height="5.18" fill="#2d4a80"/>
<rect x="367.85" y="708.95" width="11.3" height="5.35" fill="#67a83b"/>
<rect x="395.85" y="713.33" width="11.3" height="0.97" fill="#a8002a"/>
<rect x="412.85" y="641.31" width="11.3" height="72.99" fill="#2d4a80"/>
<rect x="412.85" y="593.04" width="11.3" height="37.96" fill="#2d4a80"/>
<rect x="429.85" y="713.33" width="11.3" height="0.97" fill="#67a83b"/>
<rect x="458.35" y="712.84" width="11.3" height="1.46" fill="#a8002a"/>
<rect x="475.35" y="641.31" width="11.3" height="72.99" fill="#2d4a80"/>
<rect x="475.35" y="592.31" width="11.3" height="38.69" fill="#2d4a80"/>
<rect x="492.35" y="713.57" width="11.3" height="0.73" fill="#67a83b"/>
<line x1="262.8" y1="555.6" x2="262.8" y2="631.2" stroke="#1a1a1a" stroke-width="1.4"/>
<line x1="262.8" y1="641.2" x2="262.8" y2="714.9" stroke="#1a1a1a" stroke-width="1.4"/>
<line x1="259.6" y1="631.1" x2="266.3" y2="631.1" stroke="#1a1a1a" stroke-width="1.4"/>
<line x1="259.6" y1="641.2" x2="266.3" y2="641.2" stroke="#1a1a1a" stroke-width="1.4"/>
<line x1="262.1" y1="714.3" x2="512" y2="714.3" stroke="#1a1a1a" stroke-width="1.4"/>
<line x1="259.6" y1="558" x2="262.8" y2="558" stroke="#1a1a1a" stroke-width="1.2"/>
<text x="256.2" y="560.8" font-size="8" fill="#2a2a2a" text-anchor="end">1.5</text>
<line x1="259.6" y1="594.5" x2="262.8" y2="594.5" stroke="#1a1a1a" stroke-width="1.2"/>
<text x="256.2" y="597.3" font-size="8" fill="#2a2a2a" text-anchor="end">1.0</text>
<text x="256.2" y="633.9" font-size="8" fill="#2a2a2a" text-anchor="end">0.5</text>
<text x="256.2" y="644" font-size="8" fill="#2a2a2a" text-anchor="end">0.3</text>
<line x1="259.6" y1="665.64" x2="262.8" y2="665.64" stroke="#1a1a1a" stroke-width="1.2"/>
<text x="256.2" y="668.44" font-size="8" fill="#2a2a2a" text-anchor="end">0.2</text>
<line x1="259.6" y1="689.97" x2="262.8" y2="689.97" stroke="#1a1a1a" stroke-width="1.2"/>
<text x="256.2" y="692.77" font-size="8" fill="#2a2a2a" text-anchor="end">0.1</text>
<line x1="259.6" y1="714.3" x2="262.8" y2="714.3" stroke="#1a1a1a" stroke-width="1.2"/>
<text x="256.2" y="717.1" font-size="8" fill="#2a2a2a" text-anchor="end">0.0</text>
<line x1="294.2" y1="714.3" x2="294.2" y2="717.8" stroke="#1a1a1a" stroke-width="1.1"/>
<text x="294.2" y="728.2" font-size="8.7" fill="#2a2a2a" text-anchor="middle">ctr</text>
<line x1="356.5" y1="714.3" x2="356.5" y2="717.8" stroke="#1a1a1a" stroke-width="1.1"/>
<text x="356.5" y="728.2" font-size="8.7" fill="#2a2a2a" text-anchor="middle">13.6-kb</text>
<line x1="418.5" y1="714.3" x2="418.5" y2="717.8" stroke="#1a1a1a" stroke-width="1.1"/>
<text x="418.5" y="728.2" font-size="8.7" fill="#2a2a2a" text-anchor="middle">7.2-kb</text>
<line x1="481" y1="714.3" x2="481" y2="717.8" stroke="#1a1a1a" stroke-width="1.1"/>
<text x="481" y="728.2" font-size="8.7" fill="#2a2a2a" text-anchor="middle">3.5-kb</text>
<text x="237.6" y="633.8" font-size="9.4" fill="#2a2a2a" text-anchor="middle" transform="rotate(-90 237.6 633.8)" textLength="88.8" lengthAdjust="spacingAndGlyphs"><tspan font-family='"Liberation Serif", serif'>β</tspan>-like globin/<tspan font-family='"Liberation Serif", serif' font-style="italic">α</tspan>-globin</text>
<rect x="444.6" y="554.7" width="8.3" height="4.2" fill="#a8002a"/>
<text x="456.7" y="559.2" font-size="7.6" fill="#2a2a2a" textLength="28.5" lengthAdjust="spacingAndGlyphs">γ-globin</text>
<rect x="444.6" y="566.4" width="8.3" height="4.2" fill="#2d4a80"/>
<text x="456.7" y="570.7" font-size="7.6" fill="#2a2a2a" textLength="28.5" lengthAdjust="spacingAndGlyphs">β-globin</text>
<rect x="444.6" y="577.9" width="8.3" height="4.2" fill="#67a83b"/>
<text x="456.7" y="582" font-size="7.6" fill="#2a2a2a" textLength="28.5" lengthAdjust="spacingAndGlyphs">δ-globin</text>
</svg></body></html>
